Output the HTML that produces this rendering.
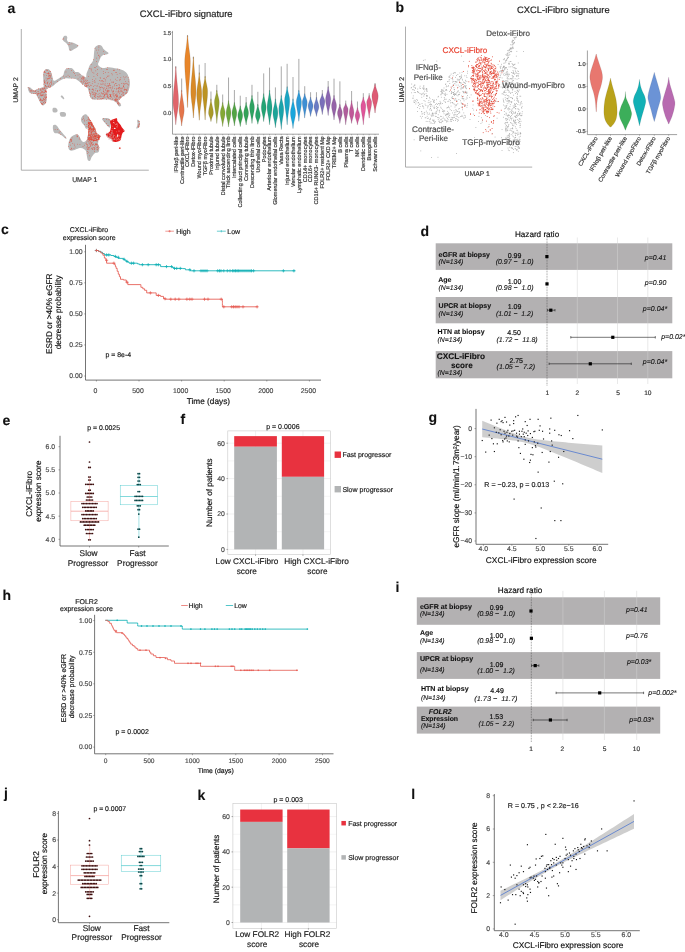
<!DOCTYPE html>
<html><head><meta charset="utf-8"><title>Figure</title>
<style>html,body{margin:0;padding:0;background:#fff;width:685px;height:952px;overflow:hidden}
svg{display:block;text-rendering:geometricPrecision;font-family:"Liberation Sans",sans-serif;filter:blur(0.35px)}</style></head>
<body>
<svg width="685" height="952" viewBox="0 0 685 952" font-family="Liberation Sans, sans-serif">
<text x="7.6" y="13.2" font-size="14" font-weight="bold" fill="#111" stroke="#111" stroke-width="0.1">a</text>
<text x="139.85" y="16.9" font-size="9.39" fill="#222" stroke="#222" stroke-width="0.18">CXCL-iFibro signature</text>
<line x1="21.3" y1="29" x2="21.3" y2="170.2" stroke="#9a9a9a" stroke-width="0.8"/>
<line x1="21.3" y1="170.2" x2="148.8" y2="170.2" stroke="#9a9a9a" stroke-width="0.8"/>
<text x="18.1" y="90" font-size="6.9" text-anchor="middle" fill="#333" stroke="#333" stroke-width="0.18" transform="rotate(-90 18.1 90)">UMAP 2</text>
<text x="84.8" y="181.5" font-size="6.8" text-anchor="middle" fill="#333" stroke="#333" stroke-width="0.18">UMAP 1</text>
<path d="M63 37.5 C63.23 36.9 63.65 36.18 64.2 35.9 C64.75 35.62 65.78 35.53 66.3 35.8 C66.82 36.07 67.18 36.8 67.3 37.5 C67.42 38.2 66.8 39.25 67 40 C67.2 40.75 67.75 41.62 68.5 42 C69.25 42.38 70.42 42.05 71.5 42.3 C72.58 42.55 73.87 42.97 75 43.5 C76.13 44.03 77.97 44.83 78.3 45.5 C78.63 46.17 77.8 46.83 77 47.5 C76.2 48.17 74.53 48.92 73.5 49.5 C72.47 50.08 71.52 50.92 70.8 51 C70.08 51.08 69.57 50.67 69.2 50 C68.83 49.33 68.88 47.92 68.6 47 C68.32 46.08 68.02 45.25 67.5 44.5 C66.98 43.75 66.17 43.08 65.5 42.5 C64.83 41.92 63.95 41.5 63.5 41 C63.05 40.5 62.88 40.08 62.8 39.5 C62.72 38.92 62.77 38.1 63 37.5 Z" fill="#b9b9b9" stroke="none" stroke-width="0.5"/>
<path d="M95.3 47 C96.02 46.25 97.77 45.32 98.8 45.1 C99.83 44.88 100.62 44.95 101.5 45.7 C102.38 46.45 102.93 48.37 104.1 49.6 C105.27 50.83 108.13 52.28 108.5 53.1 C108.87 53.92 107.18 54.2 106.3 54.5 C105.42 54.8 104.15 54.4 103.2 54.9 C102.25 55.4 101.25 56.48 100.6 57.5 C99.95 58.52 99.73 59.9 99.3 61 C98.87 62.1 98 63.22 98 64.1 C98 64.98 98.5 65.65 99.3 66.3 C100.1 66.95 101.2 67.85 102.8 68 C104.4 68.15 106.57 67.12 108.9 67.2 C111.23 67.28 114.47 68 116.8 68.5 C119.13 69 121.3 69.48 122.9 70.2 C124.5 70.92 125.45 71.7 126.4 72.8 C127.35 73.9 128.02 75.27 128.6 76.8 C129.18 78.33 129.75 80.25 129.9 82 C130.05 83.75 129.87 85.53 129.5 87.3 C129.13 89.07 128.65 91.13 127.7 92.6 C126.75 94.07 125.03 95.08 123.8 96.1 C122.57 97.12 121.18 97.83 120.3 98.7 C119.42 99.57 118.57 100.57 118.5 101.3 C118.43 102.03 119.45 102.43 119.9 103.1 C120.35 103.77 121.28 104.72 121.2 105.3 C121.12 105.88 119.98 106.68 119.4 106.6 C118.82 106.52 118.28 105.53 117.7 104.8 C117.12 104.07 116.78 102.93 115.9 102.2 C115.02 101.47 114 100.83 112.4 100.4 C110.8 99.97 108.48 99.73 106.3 99.6 C104.12 99.47 101.5 99.6 99.3 99.6 C97.1 99.6 94.57 99.9 93.1 99.6 C91.63 99.3 91.08 98.68 90.5 97.8 C89.92 96.92 89.97 95.62 89.6 94.3 C89.23 92.98 88.73 91.07 88.3 89.9 C87.87 88.73 87.63 87.92 87 87.3 C86.37 86.68 84.65 87.8 84.5 86.2 C84.35 84.6 85.75 79.85 86.1 77.7 C86.45 75.55 86.23 74.77 86.6 73.3 C86.97 71.83 87.8 70.22 88.3 68.9 C88.8 67.58 88.93 66.57 89.6 65.4 C90.27 64.23 91.63 63.07 92.3 61.9 C92.97 60.73 93.32 59.87 93.6 58.4 C93.88 56.93 93.85 54.57 94 53.1 C94.15 51.63 94.28 50.62 94.5 49.6 C94.72 48.58 94.58 47.75 95.3 47 Z" fill="#b9b9b9" stroke="none" stroke-width="0.5"/>
<path d="M27.8 87.2 C28.03 86.6 29.27 86.95 30 87.3 C30.73 87.65 31.47 88.77 32.2 89.3 C32.93 89.83 33.3 90.62 34.4 90.5 C35.5 90.38 37.58 89.05 38.8 88.6 C40.02 88.15 40.9 88.15 41.7 87.8 C42.5 87.45 43.32 87.63 43.6 86.5 C43.88 85.37 43.47 83 43.4 81 C43.33 79 43.07 76.17 43.2 74.5 C43.33 72.83 43.67 71.9 44.2 71 C44.73 70.1 45.6 69.37 46.4 69.1 C47.2 68.83 48.3 69.03 49 69.4 C49.7 69.77 50.13 70.5 50.6 71.3 C51.07 72.1 51.47 73.17 51.8 74.2 C52.13 75.23 52.27 76.4 52.6 77.5 C52.93 78.6 53.07 80.48 53.8 80.8 C54.53 81.12 55.88 80 57 79.4 C58.12 78.8 59.45 77.93 60.5 77.2 C61.55 76.47 62.68 75.95 63.3 75 C63.92 74.05 63.77 72.5 64.2 71.5 C64.63 70.5 65.12 69.58 65.9 69 C66.68 68.42 67.88 68.12 68.9 68 C69.92 67.88 71.15 67.92 72 68.3 C72.85 68.68 73.42 69.68 74 70.3 C74.58 70.92 74.75 71.68 75.5 72 C76.25 72.32 77.37 71.62 78.5 72.2 C79.63 72.78 80.97 74.53 82.3 75.5 C83.63 76.47 85.88 76.75 86.5 78 C87.12 79.25 86.58 81.87 86 83 C85.42 84.13 84.08 85 83 84.8 C81.92 84.6 80.67 82.73 79.5 81.8 C78.33 80.87 77.42 79.73 76 79.2 C74.58 78.67 72.67 78.75 71 78.6 C69.33 78.45 67.5 78.13 66 78.3 C64.5 78.47 63.25 79.07 62 79.6 C60.75 80.13 59.58 80.8 58.5 81.5 C57.42 82.2 56.42 83.05 55.5 83.8 C54.58 84.55 53.92 85.38 53 86 C52.08 86.62 51.08 86.92 50 87.5 C48.92 88.08 47.03 87.95 46.5 89.5 C45.97 91.05 46.8 94.85 46.8 96.8 C46.8 98.75 46.8 99.98 46.5 101.2 C46.2 102.42 45.55 103.38 45 104.1 C44.45 104.82 43.75 105.38 43.2 105.5 C42.65 105.62 42.2 105.28 41.7 104.8 C41.2 104.32 40.68 103.45 40.2 102.6 C39.72 101.75 39.28 100.67 38.8 99.7 C38.32 98.73 37.85 97.77 37.3 96.8 C36.75 95.83 36.22 94.38 35.5 93.9 C34.78 93.42 33.92 94.03 33 93.9 C32.08 93.77 30.73 93.6 30 93.1 C29.27 92.6 28.97 91.88 28.6 90.9 C28.23 89.92 27.57 87.8 27.8 87.2 Z" fill="#b9b9b9" stroke="none" stroke-width="0.5"/>
<path d="M68.5 142.9 C68.87 141.37 69.65 139.07 70.5 137.8 C71.35 136.53 72.57 135.9 73.6 135.3 C74.63 134.7 75.85 134.2 76.7 134.2 C77.55 134.2 78.1 134.62 78.7 135.3 C79.3 135.98 79.78 137.37 80.3 138.3 C80.82 139.23 81.22 140.3 81.8 140.9 C82.38 141.5 83.12 141.9 83.8 141.9 C84.48 141.9 85.22 141.15 85.9 140.9 C86.58 140.65 86.72 140.23 87.9 140.4 C89.08 140.57 91.47 141.48 93 141.9 C94.53 142.32 96.07 142.05 97.1 142.9 C98.13 143.75 98.95 145.47 99.2 147 C99.45 148.53 99.28 151.08 98.6 152.1 C97.92 153.12 96.03 152.58 95.1 153.1 C94.17 153.62 93.6 154.52 93 155.2 C92.4 155.88 92 156.27 91.5 157.2 C91 158.13 90.6 160.28 90 160.8 C89.4 161.32 88.42 161.07 87.9 160.3 C87.38 159.53 87.23 157.73 86.9 156.2 C86.57 154.67 86.42 152.3 85.9 151.1 C85.38 149.9 84.65 149.52 83.8 149 C82.95 148.48 81.98 148 80.8 148 C79.62 148 78.07 148.57 76.7 149 C75.33 149.43 73.8 150.42 72.6 150.6 C71.4 150.78 70.22 150.7 69.5 150.1 C68.78 149.5 68.47 148.2 68.3 147 C68.13 145.8 68.13 144.43 68.5 142.9 Z" fill="#b9b9b9" stroke="none" stroke-width="0.5"/>
<path d="M81.3 117.9 C81.68 117.13 82.53 115.9 83.3 115.3 C84.07 114.7 85.13 114.13 85.9 114.3 C86.67 114.47 87.22 115.45 87.9 116.3 C88.58 117.15 89.15 118.03 90 119.4 C90.85 120.77 92.07 122.8 93 124.5 C93.93 126.2 94.92 128.07 95.6 129.6 C96.28 131.13 96.25 132.67 97.1 133.7 C97.95 134.73 100.47 134.67 100.7 135.8 C100.93 136.93 99.03 139.05 98.5 140.5 C97.97 141.95 98.58 143.58 97.5 144.5 C96.42 145.42 93.67 146.17 92 146 C90.33 145.83 88.33 144.7 87.5 143.5 C86.67 142.3 86.85 140.6 87 138.8 C87.15 137 88.25 134.4 88.4 132.7 C88.55 131 88.32 129.28 87.9 128.6 C87.48 127.92 86.5 129.12 85.9 128.6 C85.3 128.08 84.98 126.52 84.3 125.5 C83.62 124.48 82.35 123.43 81.8 122.5 C81.25 121.57 81.08 120.67 81 119.9 C80.92 119.13 80.92 118.67 81.3 117.9 Z" fill="#b9b9b9" stroke="none" stroke-width="0.5"/>
<path d="M102.3 118.5 C102.83 118.13 104.68 118.03 105.9 118.1 C107.12 118.17 108.8 118.28 109.6 118.9 C110.4 119.52 110.52 120.72 110.7 121.8 C110.88 122.88 110.88 124.43 110.7 125.4 C110.52 126.37 110.22 127.6 109.6 127.6 C108.98 127.6 107.73 126.13 107 125.4 C106.27 124.67 105.92 124.05 105.2 123.2 C104.48 122.35 103.18 121.08 102.7 120.3 C102.22 119.52 101.77 118.87 102.3 118.5 Z" fill="#b9b9b9" stroke="none" stroke-width="0.5"/>
<path d="M53.2 125.3 C53.62 124.52 54.78 124.6 55.5 124.8 C56.22 125 56.83 125.72 57.5 126.5 C58.17 127.28 58.67 128.42 59.5 129.5 C60.33 130.58 61.37 131.62 62.5 133 C63.63 134.38 65.8 136.87 66.3 137.8 C66.8 138.73 66.3 139.03 65.5 138.6 C64.7 138.17 62.75 136.05 61.5 135.2 C60.25 134.35 59.17 133.87 58 133.5 C56.83 133.13 55.33 133.67 54.5 133 C53.67 132.33 53.22 130.78 53 129.5 C52.78 128.22 52.78 126.08 53.2 125.3 Z" fill="#b9b9b9" stroke="none" stroke-width="0.5"/>
<path d="M61 95.7 C61.2 95.47 61.67 95.18 62.2 95.6 C62.73 96.02 63.98 97.6 64.2 98.2 C64.42 98.8 64.03 99.4 63.5 99.2 C62.97 99 61.42 97.58 61 97 C60.58 96.42 60.8 95.93 61 95.7 Z" fill="#b9b9b9" stroke="none" stroke-width="0.5"/>
<path d="M52.8 108.2 C53.3 107.53 55.2 107.62 56 108 C56.8 108.38 57.52 109.78 57.6 110.5 C57.68 111.22 57.27 112.05 56.5 112.3 C55.73 112.55 53.62 112.68 53 112 C52.38 111.32 52.3 108.87 52.8 108.2 Z" fill="#b9b9b9" stroke="none" stroke-width="0.5"/>
<path d="M60.2 112.4 C60.95 112.02 63.53 111.93 64.5 112.2 C65.47 112.47 65.88 113.3 66 114 C66.12 114.7 66.03 116 65.2 116.4 C64.37 116.8 61.87 116.72 61 116.4 C60.13 116.08 60.13 115.17 60 114.5 C59.87 113.83 59.45 112.78 60.2 112.4 Z" fill="#b9b9b9" stroke="none" stroke-width="0.5"/>
<path d="M137.2 120 C137.48 119.38 138.83 120.05 139.3 120.8 C139.77 121.55 140.13 123.33 140 124.5 C139.87 125.67 139.13 127.17 138.5 127.8 C137.87 128.43 136.35 128.85 136.2 128.3 C136.05 127.75 137.43 125.88 137.6 124.5 C137.77 123.12 136.92 120.62 137.2 120 Z" fill="#b9b9b9" stroke="none" stroke-width="0.5"/>
<g fill="#e4402e"><rect x="108.64" y="75.61" width="0.62" height="0.62"/><rect x="100.8" y="96.32" width="0.62" height="0.62"/><rect x="105.03" y="89.03" width="0.62" height="0.62"/><rect x="127.57" y="86.79" width="0.62" height="0.62"/><rect x="105.21" y="90.41" width="0.62" height="0.62"/><rect x="105.79" y="93.79" width="0.62" height="0.62"/><rect x="90.87" y="85.3" width="0.62" height="0.62"/><rect x="100.4" y="94.78" width="0.62" height="0.62"/><rect x="103.27" y="73.27" width="0.62" height="0.62"/><rect x="94.65" y="85.33" width="0.62" height="0.62"/><rect x="94.36" y="80.14" width="0.62" height="0.62"/><rect x="119.7" y="97.49" width="0.62" height="0.62"/><rect x="85.57" y="86.15" width="0.62" height="0.62"/><rect x="118" y="102.99" width="0.62" height="0.62"/><rect x="103.47" y="81.3" width="0.62" height="0.62"/><rect x="113.09" y="91.6" width="0.62" height="0.62"/><rect x="105.18" y="72.15" width="0.62" height="0.62"/><rect x="115.28" y="95.03" width="0.62" height="0.62"/><rect x="95.18" y="93.09" width="0.62" height="0.62"/><rect x="107.49" y="83.46" width="0.62" height="0.62"/><rect x="91.68" y="92.63" width="0.62" height="0.62"/><rect x="127.84" y="77.4" width="0.62" height="0.62"/><rect x="117.4" y="77" width="0.62" height="0.62"/><rect x="88.33" y="76.05" width="0.62" height="0.62"/><rect x="123.77" y="88.92" width="0.62" height="0.62"/><rect x="124.73" y="77.03" width="0.62" height="0.62"/><rect x="107.46" y="93.55" width="0.62" height="0.62"/><rect x="94.99" y="94.47" width="0.62" height="0.62"/><rect x="103.43" y="88.6" width="0.62" height="0.62"/><rect x="109.5" y="85.18" width="0.62" height="0.62"/><rect x="119.8" y="95.69" width="0.62" height="0.62"/><rect x="107.08" y="67.35" width="0.62" height="0.62"/><rect x="107.59" y="95.26" width="0.62" height="0.62"/><rect x="89.5" y="82.13" width="0.62" height="0.62"/><rect x="105.41" y="80.64" width="0.62" height="0.62"/><rect x="120.05" y="97.67" width="0.62" height="0.62"/><rect x="104.82" y="82.9" width="0.62" height="0.62"/><rect x="119.25" y="86.82" width="0.62" height="0.62"/><rect x="86.15" y="86.74" width="0.62" height="0.62"/><rect x="127.41" y="83.65" width="0.62" height="0.62"/><rect x="98.91" y="86.39" width="0.62" height="0.62"/><rect x="104.58" y="97.41" width="0.62" height="0.62"/><rect x="92.45" y="94" width="0.62" height="0.62"/><rect x="124.38" y="87.65" width="0.62" height="0.62"/><rect x="84.65" y="83.53" width="0.62" height="0.62"/><rect x="115.94" y="100.94" width="0.62" height="0.62"/><rect x="90.67" y="68.35" width="0.62" height="0.62"/><rect x="97.88" y="83.54" width="0.62" height="0.62"/><rect x="97.81" y="96.07" width="0.62" height="0.62"/><rect x="95.08" y="89.86" width="0.62" height="0.62"/><rect x="108.36" y="85.26" width="0.62" height="0.62"/><rect x="98.83" y="93.09" width="0.62" height="0.62"/><rect x="116.77" y="93.74" width="0.62" height="0.62"/><rect x="99" y="95.67" width="0.62" height="0.62"/><rect x="110.34" y="95.15" width="0.62" height="0.62"/><rect x="117.32" y="99.23" width="0.62" height="0.62"/><rect x="113.08" y="90.47" width="0.62" height="0.62"/><rect x="102.81" y="87.85" width="0.62" height="0.62"/><rect x="118.9" y="87.29" width="0.62" height="0.62"/><rect x="93.2" y="86.15" width="0.62" height="0.62"/><rect x="102.01" y="98.4" width="0.62" height="0.62"/><rect x="110.16" y="96.36" width="0.62" height="0.62"/><rect x="94.65" y="47.96" width="0.62" height="0.62"/><rect x="109.32" y="90.66" width="0.62" height="0.62"/><rect x="96.6" y="74.35" width="0.62" height="0.62"/><rect x="114.82" y="94.87" width="0.62" height="0.62"/><rect x="104.1" y="95.39" width="0.62" height="0.62"/><rect x="109.27" y="94.12" width="0.62" height="0.62"/><rect x="122.69" y="86.99" width="0.62" height="0.62"/><rect x="106.5" y="91.62" width="0.62" height="0.62"/><rect x="119.57" y="78.99" width="0.62" height="0.62"/><rect x="97.08" y="69.37" width="0.62" height="0.62"/><rect x="96.26" y="93.43" width="0.62" height="0.62"/><rect x="85.88" y="81.43" width="0.62" height="0.62"/><rect x="92" y="92.13" width="0.62" height="0.62"/><rect x="115.67" y="91.51" width="0.62" height="0.62"/><rect x="94.21" y="96.42" width="0.62" height="0.62"/><rect x="126.63" y="92.35" width="0.62" height="0.62"/><rect x="109.52" y="87.58" width="0.62" height="0.62"/><rect x="103.13" y="91.13" width="0.62" height="0.62"/><rect x="93.7" y="98.53" width="0.62" height="0.62"/><rect x="119.3" y="69.56" width="0.62" height="0.62"/><rect x="113.76" y="93.26" width="0.62" height="0.62"/><rect x="84.47" y="84.78" width="0.62" height="0.62"/><rect x="95.47" y="70.58" width="0.62" height="0.62"/><rect x="118.61" y="92.03" width="0.62" height="0.62"/><rect x="102.95" y="71.35" width="0.62" height="0.62"/><rect x="89.65" y="94.96" width="0.62" height="0.62"/><rect x="103.67" y="94.46" width="0.62" height="0.62"/><rect x="93.57" y="76.38" width="0.62" height="0.62"/><rect x="96.27" y="61.1" width="0.62" height="0.62"/><rect x="120.47" y="77.13" width="0.62" height="0.62"/><rect x="111.07" y="89.66" width="0.62" height="0.62"/><rect x="115.97" y="87.9" width="0.62" height="0.62"/><rect x="93.85" y="95.7" width="0.62" height="0.62"/><rect x="108.14" y="97.71" width="0.62" height="0.62"/><rect x="89.14" y="88.76" width="0.62" height="0.62"/><rect x="108.81" y="98.31" width="0.62" height="0.62"/><rect x="101.02" y="98.52" width="0.62" height="0.62"/><rect x="109.83" y="87.34" width="0.62" height="0.62"/><rect x="91.91" y="83.42" width="0.62" height="0.62"/><rect x="102.39" y="98.34" width="0.62" height="0.62"/><rect x="96.7" y="86.2" width="0.62" height="0.62"/><rect x="107.31" y="97.41" width="0.62" height="0.62"/><rect x="97.43" y="73.11" width="0.62" height="0.62"/><rect x="88.45" y="82.61" width="0.62" height="0.62"/><rect x="104.24" y="77.9" width="0.62" height="0.62"/><rect x="85.78" y="86.38" width="0.62" height="0.62"/><rect x="123.39" y="92.78" width="0.62" height="0.62"/><rect x="96.82" y="85.11" width="0.62" height="0.62"/><rect x="100.32" y="83.73" width="0.62" height="0.62"/><rect x="116.11" y="96.43" width="0.62" height="0.62"/><rect x="117.97" y="103.98" width="0.62" height="0.62"/><rect x="101.05" y="68.52" width="0.62" height="0.62"/><rect x="123.69" y="95.57" width="0.62" height="0.62"/><rect x="114.13" y="99.3" width="0.62" height="0.62"/><rect x="117.35" y="102.54" width="0.62" height="0.62"/><rect x="110.09" y="95.89" width="0.62" height="0.62"/><rect x="107.52" y="75.92" width="0.62" height="0.62"/><rect x="120.55" y="87.76" width="0.62" height="0.62"/><rect x="119" y="93.47" width="0.62" height="0.62"/><rect x="121.73" y="88.44" width="0.62" height="0.62"/><rect x="94.29" y="67.01" width="0.62" height="0.62"/><rect x="97.28" y="52.67" width="0.62" height="0.62"/><rect x="128.51" y="79.59" width="0.62" height="0.62"/><rect x="111.22" y="96.83" width="0.62" height="0.62"/><rect x="115" y="98.59" width="0.62" height="0.62"/><rect x="98.81" y="98.95" width="0.62" height="0.62"/><rect x="115.04" y="99.23" width="0.62" height="0.62"/><rect x="86.14" y="85.48" width="0.62" height="0.62"/><rect x="117.95" y="91.15" width="0.62" height="0.62"/><rect x="122.57" y="92.01" width="0.62" height="0.62"/><rect x="106.42" y="88.37" width="0.62" height="0.62"/><rect x="89.33" y="86" width="0.62" height="0.62"/><rect x="103.29" y="50.94" width="0.62" height="0.62"/><rect x="115.78" y="99.64" width="0.62" height="0.62"/><rect x="116.5" y="100.27" width="0.62" height="0.62"/><rect x="100.93" y="86.75" width="0.62" height="0.62"/><rect x="110.13" y="85.47" width="0.62" height="0.62"/><rect x="97.31" y="90.66" width="0.62" height="0.62"/><rect x="106.02" y="77.49" width="0.62" height="0.62"/><rect x="120.39" y="78.89" width="0.62" height="0.62"/><rect x="106.31" y="93.86" width="0.62" height="0.62"/><rect x="126.53" y="90.72" width="0.62" height="0.62"/><rect x="124.45" y="83.88" width="0.62" height="0.62"/><rect x="106.09" y="85.83" width="0.62" height="0.62"/><rect x="95.67" y="88.32" width="0.62" height="0.62"/><rect x="92.52" y="88.61" width="0.62" height="0.62"/><rect x="99.96" y="77.92" width="0.62" height="0.62"/><rect x="102.69" y="83" width="0.62" height="0.62"/><rect x="97.01" y="96.4" width="0.62" height="0.62"/><rect x="110" y="97.9" width="0.62" height="0.62"/><rect x="98.55" y="45.78" width="0.62" height="0.62"/><rect x="85.98" y="84.68" width="0.62" height="0.62"/><rect x="119.59" y="103.29" width="0.62" height="0.62"/><rect x="115.19" y="100.25" width="0.62" height="0.62"/><rect x="123.64" y="83.45" width="0.62" height="0.62"/><rect x="107.63" y="92.34" width="0.62" height="0.62"/><rect x="96.93" y="91.13" width="0.62" height="0.62"/><rect x="117.1" y="68.76" width="0.62" height="0.62"/><rect x="112.69" y="82.26" width="0.62" height="0.62"/><rect x="89.5" y="89.45" width="0.62" height="0.62"/><rect x="109.47" y="84.61" width="0.62" height="0.62"/><rect x="116.8" y="73.97" width="0.62" height="0.62"/><rect x="116.1" y="85.12" width="0.62" height="0.62"/><rect x="97.57" y="99.02" width="0.62" height="0.62"/><rect x="92.15" y="79.09" width="0.62" height="0.62"/><rect x="89.19" y="88.86" width="0.62" height="0.62"/><rect x="121.2" y="96.7" width="0.62" height="0.62"/><rect x="103.48" y="91.12" width="0.62" height="0.62"/><rect x="110.29" y="94.61" width="0.62" height="0.62"/><rect x="100.93" y="93.29" width="0.62" height="0.62"/><rect x="126.26" y="89.27" width="0.62" height="0.62"/><rect x="111.53" y="73.32" width="0.62" height="0.62"/><rect x="117.2" y="103.2" width="0.62" height="0.62"/><rect x="101.12" y="83.87" width="0.62" height="0.62"/><rect x="85.47" y="83.14" width="0.62" height="0.62"/><rect x="102.99" y="89.78" width="0.62" height="0.62"/><rect x="123.79" y="90.17" width="0.62" height="0.62"/><rect x="112.98" y="70.06" width="0.62" height="0.62"/><rect x="98.57" y="47.48" width="0.62" height="0.62"/><rect x="98.95" y="90.17" width="0.62" height="0.62"/><rect x="119.92" y="96.82" width="0.62" height="0.62"/><rect x="93.18" y="90.53" width="0.62" height="0.62"/><rect x="116.12" y="89.45" width="0.62" height="0.62"/><rect x="95.4" y="97.24" width="0.62" height="0.62"/><rect x="102.79" y="96.66" width="0.62" height="0.62"/><rect x="105.89" y="93.19" width="0.62" height="0.62"/><rect x="118.21" y="88.58" width="0.62" height="0.62"/><rect x="106.07" y="99.08" width="0.62" height="0.62"/><rect x="103.3" y="78.11" width="0.62" height="0.62"/><rect x="115.01" y="100.04" width="0.62" height="0.62"/><rect x="112.7" y="81.65" width="0.62" height="0.62"/><rect x="94.23" y="92.51" width="0.62" height="0.62"/><rect x="87.04" y="83.34" width="0.62" height="0.62"/><rect x="116.74" y="85.41" width="0.62" height="0.62"/><rect x="85.84" y="83.44" width="0.62" height="0.62"/><rect x="115.34" y="94.32" width="0.62" height="0.62"/><rect x="118.51" y="102.09" width="0.62" height="0.62"/><rect x="92.2" y="89.39" width="0.62" height="0.62"/><rect x="128.28" y="84.82" width="0.62" height="0.62"/><rect x="117.57" y="102.8" width="0.62" height="0.62"/><rect x="112.2" y="92.66" width="0.62" height="0.62"/><rect x="104.91" y="79" width="0.62" height="0.62"/><rect x="118.32" y="88.05" width="0.62" height="0.62"/><rect x="119.49" y="88.66" width="0.62" height="0.62"/><rect x="123.96" y="78.8" width="0.62" height="0.62"/><rect x="116.72" y="95.93" width="0.62" height="0.62"/><rect x="99.71" y="96.05" width="0.62" height="0.62"/><rect x="97.36" y="98.6" width="0.62" height="0.62"/><rect x="122.82" y="82.93" width="0.62" height="0.62"/><rect x="87.5" y="82" width="0.62" height="0.62"/><rect x="114.29" y="88.06" width="0.62" height="0.62"/><rect x="106.14" y="68.98" width="0.62" height="0.62"/><rect x="107.2" y="90.95" width="0.62" height="0.62"/><rect x="113.02" y="81.79" width="0.62" height="0.62"/><rect x="112.89" y="91.16" width="0.62" height="0.62"/><rect x="115.48" y="99.17" width="0.62" height="0.62"/><rect x="116.55" y="95.72" width="0.62" height="0.62"/><rect x="90.83" y="64.03" width="0.62" height="0.62"/><rect x="93.27" y="92.71" width="0.62" height="0.62"/><rect x="95.51" y="78.61" width="0.62" height="0.62"/><rect x="110.2" y="95.66" width="0.62" height="0.62"/><rect x="111.34" y="81.78" width="0.62" height="0.62"/><rect x="90.25" y="93.02" width="0.62" height="0.62"/><rect x="103.21" y="96.58" width="0.62" height="0.62"/><rect x="98.62" y="97.41" width="0.62" height="0.62"/><rect x="105.1" y="93.81" width="0.62" height="0.62"/><rect x="101.99" y="93.74" width="0.62" height="0.62"/><rect x="104.14" y="54.37" width="0.62" height="0.62"/><rect x="102.4" y="87.12" width="0.62" height="0.62"/><rect x="105.18" y="84.83" width="0.62" height="0.62"/><rect x="93.63" y="94.31" width="0.62" height="0.62"/><rect x="99.83" y="77.08" width="0.62" height="0.62"/><rect x="123.4" y="84.84" width="0.62" height="0.62"/><rect x="118.52" y="87.02" width="0.62" height="0.62"/><rect x="103.93" y="95.92" width="0.62" height="0.62"/><rect x="118.62" y="104.66" width="0.62" height="0.62"/><rect x="116.08" y="96.79" width="0.62" height="0.62"/><rect x="94.67" y="96.36" width="0.62" height="0.62"/><rect x="100.21" y="98.28" width="0.62" height="0.62"/><rect x="110.23" y="79.64" width="0.62" height="0.62"/><rect x="125.27" y="93.24" width="0.62" height="0.62"/><rect x="95.47" y="92.61" width="0.62" height="0.62"/><rect x="116.62" y="80.27" width="0.62" height="0.62"/><rect x="109.86" y="94.07" width="0.62" height="0.62"/><rect x="122.38" y="93.6" width="0.62" height="0.62"/><rect x="116.95" y="98.9" width="0.62" height="0.62"/><rect x="110.75" y="99.69" width="0.62" height="0.62"/><rect x="123.22" y="85.99" width="0.62" height="0.62"/><rect x="87.18" y="85.58" width="0.62" height="0.62"/><rect x="107.68" y="85.42" width="0.62" height="0.62"/><rect x="125.41" y="81.33" width="0.62" height="0.62"/><rect x="106.7" y="96.19" width="0.62" height="0.62"/><rect x="113.58" y="69.78" width="0.62" height="0.62"/><rect x="124.43" y="89.05" width="0.62" height="0.62"/><rect x="125.75" y="76.48" width="0.62" height="0.62"/><rect x="126.5" y="90.33" width="0.62" height="0.62"/><rect x="120.46" y="91.52" width="0.62" height="0.62"/><rect x="117.53" y="91.7" width="0.62" height="0.62"/><rect x="123.5" y="92.4" width="0.62" height="0.62"/><rect x="92.54" y="81.41" width="0.62" height="0.62"/><rect x="112.52" y="86.45" width="0.62" height="0.62"/><rect x="121.49" y="89.77" width="0.62" height="0.62"/><rect x="102.09" y="80.09" width="0.62" height="0.62"/><rect x="94.51" y="94.8" width="0.62" height="0.62"/><rect x="100.53" y="87.07" width="0.62" height="0.62"/><rect x="87.73" y="85.17" width="0.62" height="0.62"/><rect x="120.53" y="90.01" width="0.62" height="0.62"/><rect x="118.68" y="84.4" width="0.62" height="0.62"/><rect x="107.39" y="95.66" width="0.62" height="0.62"/><rect x="102.62" y="84.36" width="0.62" height="0.62"/><rect x="108.23" y="97.23" width="0.62" height="0.62"/><rect x="84.72" y="84.62" width="0.62" height="0.62"/><rect x="88.9" y="90.79" width="0.62" height="0.62"/><rect x="118.18" y="90.19" width="0.62" height="0.62"/><rect x="104.14" y="95.32" width="0.62" height="0.62"/><rect x="106.96" y="91.06" width="0.62" height="0.62"/><rect x="116.66" y="95.9" width="0.62" height="0.62"/><rect x="100.92" y="92.07" width="0.62" height="0.62"/><rect x="121.89" y="91.15" width="0.62" height="0.62"/><rect x="113.52" y="94.95" width="0.62" height="0.62"/><rect x="106.03" y="87.76" width="0.62" height="0.62"/><rect x="97.32" y="75.18" width="0.62" height="0.62"/><rect x="102.55" y="81.53" width="0.62" height="0.62"/><rect x="97.73" y="94.21" width="0.62" height="0.62"/><rect x="123.1" y="95.19" width="0.62" height="0.62"/><rect x="91.78" y="89.21" width="0.62" height="0.62"/><rect x="102.5" y="93.38" width="0.62" height="0.62"/><rect x="109" y="83.65" width="0.62" height="0.62"/><rect x="123.39" y="85.84" width="0.62" height="0.62"/><rect x="96.46" y="65.98" width="0.62" height="0.62"/><rect x="89.02" y="92.27" width="0.62" height="0.62"/><rect x="100.75" y="80.84" width="0.62" height="0.62"/><rect x="104.43" y="84.66" width="0.62" height="0.62"/><rect x="118.77" y="91.24" width="0.62" height="0.62"/><rect x="125.33" y="89.21" width="0.62" height="0.62"/><rect x="108.88" y="96.31" width="0.62" height="0.62"/><rect x="90.86" y="69.12" width="0.62" height="0.62"/><rect x="108.02" y="86.47" width="0.62" height="0.62"/><rect x="87.19" y="80.34" width="0.62" height="0.62"/><rect x="85.31" y="82.44" width="0.62" height="0.62"/><rect x="99.8" y="89.5" width="0.62" height="0.62"/><rect x="96.19" y="49.79" width="0.62" height="0.62"/><rect x="99.17" y="80.22" width="0.62" height="0.62"/><rect x="107.78" y="90.09" width="0.62" height="0.62"/><rect x="116.13" y="72.29" width="0.62" height="0.62"/><rect x="110.64" y="94.23" width="0.62" height="0.62"/><rect x="128.23" y="81.47" width="0.62" height="0.62"/><rect x="116.81" y="88.29" width="0.62" height="0.62"/><rect x="99.19" y="57.62" width="0.62" height="0.62"/><rect x="104.73" y="93.71" width="0.62" height="0.62"/><rect x="98.34" y="55.28" width="0.62" height="0.62"/><rect x="110.67" y="95.97" width="0.62" height="0.62"/><rect x="110.41" y="87.7" width="0.62" height="0.62"/><rect x="99.73" y="87.03" width="0.62" height="0.62"/><rect x="114.35" y="84.52" width="0.62" height="0.62"/><rect x="92.51" y="71.93" width="0.62" height="0.62"/><rect x="102.98" y="98.18" width="0.62" height="0.62"/><rect x="98.4" y="49.72" width="0.62" height="0.62"/><rect x="113.02" y="93.69" width="0.62" height="0.62"/><rect x="115.46" y="72.31" width="0.62" height="0.62"/><rect x="115.24" y="78.87" width="0.62" height="0.62"/><rect x="105.73" y="92.46" width="0.62" height="0.62"/><rect x="109.41" y="83.33" width="0.62" height="0.62"/><rect x="99.3" y="55.91" width="0.62" height="0.62"/><rect x="117" y="95.04" width="0.62" height="0.62"/><rect x="127.4" y="88.66" width="0.62" height="0.62"/><rect x="115.06" y="83.34" width="0.62" height="0.62"/><rect x="103.79" y="92.16" width="0.62" height="0.62"/><rect x="108.17" y="91.33" width="0.62" height="0.62"/><rect x="119.61" y="73.09" width="0.62" height="0.62"/><rect x="107.08" y="96.34" width="0.62" height="0.62"/><rect x="107.45" y="85.76" width="0.62" height="0.62"/><rect x="115.77" y="83.08" width="0.62" height="0.62"/><rect x="106.75" y="90.14" width="0.62" height="0.62"/><rect x="121.23" y="90.95" width="0.62" height="0.62"/><rect x="94.6" y="81.88" width="0.62" height="0.62"/><rect x="112" y="99.12" width="0.62" height="0.62"/><rect x="107.1" y="94.05" width="0.62" height="0.62"/><rect x="125.92" y="93.03" width="0.62" height="0.62"/><rect x="111.84" y="87.26" width="0.62" height="0.62"/><rect x="100.69" y="99.16" width="0.62" height="0.62"/><rect x="119.47" y="80.44" width="0.62" height="0.62"/><rect x="114.33" y="99.91" width="0.62" height="0.62"/><rect x="127.73" y="84.2" width="0.62" height="0.62"/><rect x="124.62" y="89.58" width="0.62" height="0.62"/><rect x="123.18" y="76.55" width="0.62" height="0.62"/><rect x="92.14" y="98.51" width="0.62" height="0.62"/><rect x="87.98" y="84.66" width="0.62" height="0.62"/><rect x="93.56" y="93.83" width="0.62" height="0.62"/><rect x="119.81" y="88.55" width="0.62" height="0.62"/><rect x="115.84" y="98.32" width="0.62" height="0.62"/><rect x="116.69" y="100.41" width="0.62" height="0.62"/><rect x="90.35" y="95.8" width="0.62" height="0.62"/><rect x="119.03" y="84.91" width="0.62" height="0.62"/><rect x="89.03" y="68.16" width="0.62" height="0.62"/><rect x="125.71" y="92.03" width="0.62" height="0.62"/><rect x="86.31" y="85.65" width="0.62" height="0.62"/><rect x="89.46" y="93" width="0.62" height="0.62"/><rect x="112.53" y="97.91" width="0.62" height="0.62"/><rect x="104.03" y="87.62" width="0.62" height="0.62"/><rect x="118.63" y="98.47" width="0.62" height="0.62"/><rect x="108.34" y="89.92" width="0.62" height="0.62"/><rect x="97.01" y="90.01" width="0.62" height="0.62"/><rect x="98.45" y="54.81" width="0.62" height="0.62"/><rect x="126.25" y="82.91" width="0.62" height="0.62"/><rect x="84.43" y="85.41" width="0.62" height="0.62"/><rect x="123.59" y="94.22" width="0.62" height="0.62"/><rect x="90.09" y="94.02" width="0.62" height="0.62"/><rect x="110.32" y="95.12" width="0.62" height="0.62"/><rect x="121.13" y="83.18" width="0.62" height="0.62"/><rect x="95.4" y="94.88" width="0.62" height="0.62"/><rect x="119.15" y="96.73" width="0.62" height="0.62"/><rect x="112.6" y="91.47" width="0.62" height="0.62"/><rect x="123.16" y="85.93" width="0.62" height="0.62"/><rect x="99.64" y="87.74" width="0.62" height="0.62"/><rect x="96.41" y="57.8" width="0.62" height="0.62"/><rect x="121.2" y="93.99" width="0.62" height="0.62"/><rect x="113.95" y="69.89" width="0.62" height="0.62"/><rect x="113.68" y="96.12" width="0.62" height="0.62"/><rect x="103.2" y="92.97" width="0.62" height="0.62"/><rect x="112.59" y="94.59" width="0.62" height="0.62"/><rect x="90.98" y="70.59" width="0.62" height="0.62"/><rect x="107.1" y="89.78" width="0.62" height="0.62"/><rect x="122.63" y="95.34" width="0.62" height="0.62"/><rect x="107.85" y="87.77" width="0.62" height="0.62"/><rect x="119.22" y="99.31" width="0.62" height="0.62"/><rect x="117.3" y="101.05" width="0.62" height="0.62"/><rect x="117.76" y="97.25" width="0.62" height="0.62"/><rect x="116.09" y="98.98" width="0.62" height="0.62"/><rect x="91.73" y="91.38" width="0.62" height="0.62"/><rect x="93.28" y="59.15" width="0.62" height="0.62"/><rect x="93.58" y="72.79" width="0.62" height="0.62"/><rect x="86.57" y="83.11" width="0.62" height="0.62"/><rect x="116.4" y="93.75" width="0.62" height="0.62"/><rect x="107.53" y="75.83" width="0.62" height="0.62"/><rect x="111.67" y="90.66" width="0.62" height="0.62"/><rect x="126.55" y="90.18" width="0.62" height="0.62"/><rect x="119.95" y="96.33" width="0.62" height="0.62"/><rect x="94.64" y="81.66" width="0.62" height="0.62"/><rect x="107.89" y="72.24" width="0.62" height="0.62"/><rect x="118.35" y="101.71" width="0.62" height="0.62"/><rect x="116.96" y="96.27" width="0.62" height="0.62"/><rect x="114.4" y="85.57" width="0.62" height="0.62"/><rect x="124.9" y="83.03" width="0.62" height="0.62"/><rect x="93.03" y="89.47" width="0.62" height="0.62"/><rect x="125.72" y="88.87" width="0.62" height="0.62"/><rect x="111.91" y="74.56" width="0.62" height="0.62"/><rect x="104.34" y="94.31" width="0.62" height="0.62"/><rect x="92.14" y="97.52" width="0.62" height="0.62"/><rect x="116.06" y="94.84" width="0.62" height="0.62"/><rect x="107.27" y="69.19" width="0.62" height="0.62"/><rect x="111.91" y="88.25" width="0.62" height="0.62"/><rect x="90.29" y="84.84" width="0.62" height="0.62"/><rect x="95.09" y="67.46" width="0.62" height="0.62"/><rect x="100.88" y="80.08" width="0.62" height="0.62"/><rect x="114.85" y="101.49" width="0.62" height="0.62"/><rect x="114.57" y="96.84" width="0.62" height="0.62"/><rect x="121.6" y="87.88" width="0.62" height="0.62"/><rect x="50.85" y="81.4" width="0.62" height="0.62"/><rect x="48.19" y="86.1" width="0.62" height="0.62"/><rect x="73.28" y="72.08" width="0.62" height="0.62"/><rect x="82.77" y="81.39" width="0.62" height="0.62"/><rect x="46.66" y="73.07" width="0.62" height="0.62"/><rect x="52.98" y="83.6" width="0.62" height="0.62"/><rect x="45.98" y="91.56" width="0.62" height="0.62"/><rect x="39.71" y="100.19" width="0.62" height="0.62"/><rect x="47.3" y="82.19" width="0.62" height="0.62"/><rect x="45.59" y="99.52" width="0.62" height="0.62"/><rect x="45.77" y="96.85" width="0.62" height="0.62"/><rect x="38.31" y="97.57" width="0.62" height="0.62"/><rect x="45.26" y="98.39" width="0.62" height="0.62"/><rect x="45.97" y="86.07" width="0.62" height="0.62"/><rect x="40.53" y="92.33" width="0.62" height="0.62"/><rect x="82.11" y="82.77" width="0.62" height="0.62"/><rect x="48.33" y="72.4" width="0.62" height="0.62"/><rect x="41.68" y="87.68" width="0.62" height="0.62"/><rect x="51.42" y="84.37" width="0.62" height="0.62"/><rect x="77.67" y="74.72" width="0.62" height="0.62"/><rect x="44.27" y="87.69" width="0.62" height="0.62"/><rect x="43.06" y="93.88" width="0.62" height="0.62"/><rect x="27.82" y="87.11" width="0.62" height="0.62"/><rect x="82.25" y="83.98" width="0.62" height="0.62"/><rect x="46.87" y="81.88" width="0.62" height="0.62"/><rect x="50.07" y="76.6" width="0.62" height="0.62"/><rect x="40.31" y="90.22" width="0.62" height="0.62"/><rect x="33.04" y="90.19" width="0.62" height="0.62"/><rect x="79.7" y="76.71" width="0.62" height="0.62"/><rect x="85.6" y="79.6" width="0.62" height="0.62"/><rect x="40.6" y="93.2" width="0.62" height="0.62"/><rect x="46.6" y="70.18" width="0.62" height="0.62"/><rect x="64.06" y="77.82" width="0.62" height="0.62"/><rect x="45.28" y="85.46" width="0.62" height="0.62"/><rect x="34.76" y="92.97" width="0.62" height="0.62"/><rect x="44.72" y="81.51" width="0.62" height="0.62"/><rect x="45.09" y="90.76" width="0.62" height="0.62"/><rect x="41.39" y="100.59" width="0.62" height="0.62"/><rect x="47.21" y="73.35" width="0.62" height="0.62"/><rect x="44.25" y="88.55" width="0.62" height="0.62"/><rect x="45.89" y="92.14" width="0.62" height="0.62"/><rect x="44.95" y="86.39" width="0.62" height="0.62"/><rect x="37" y="94.91" width="0.62" height="0.62"/><rect x="41.62" y="103.83" width="0.62" height="0.62"/><rect x="41.63" y="94.67" width="0.62" height="0.62"/><rect x="51.06" y="80.56" width="0.62" height="0.62"/><rect x="44.49" y="86.86" width="0.62" height="0.62"/><rect x="37.86" y="91.46" width="0.62" height="0.62"/><rect x="50.03" y="86.77" width="0.62" height="0.62"/><rect x="41.36" y="99.62" width="0.62" height="0.62"/><rect x="83.72" y="78.02" width="0.62" height="0.62"/><rect x="46.4" y="75.23" width="0.62" height="0.62"/><rect x="40.95" y="91.87" width="0.62" height="0.62"/><rect x="77.75" y="78.6" width="0.62" height="0.62"/><rect x="66.55" y="68.39" width="0.62" height="0.62"/><rect x="45.18" y="102.25" width="0.62" height="0.62"/><rect x="40.75" y="95.12" width="0.62" height="0.62"/><rect x="49.13" y="84.61" width="0.62" height="0.62"/><rect x="36.36" y="89.68" width="0.62" height="0.62"/><rect x="44.16" y="99.62" width="0.62" height="0.62"/><rect x="41.9" y="88.57" width="0.62" height="0.62"/><rect x="41.74" y="90.9" width="0.62" height="0.62"/><rect x="44.99" y="85.03" width="0.62" height="0.62"/><rect x="50.22" y="82.09" width="0.62" height="0.62"/><rect x="51.23" y="83.37" width="0.62" height="0.62"/><rect x="43.31" y="87.98" width="0.62" height="0.62"/><rect x="48.59" y="78.39" width="0.62" height="0.62"/><rect x="84.37" y="80.96" width="0.62" height="0.62"/><rect x="39.96" y="89.18" width="0.62" height="0.62"/><rect x="29.26" y="88.34" width="0.62" height="0.62"/><rect x="82.56" y="76.71" width="0.62" height="0.62"/><rect x="48.43" y="75.2" width="0.62" height="0.62"/><rect x="41.83" y="89.16" width="0.62" height="0.62"/><rect x="45.67" y="69.54" width="0.62" height="0.62"/><rect x="65.76" y="76.15" width="0.62" height="0.62"/><rect x="45.94" y="87.6" width="0.62" height="0.62"/><rect x="45.76" y="77.78" width="0.62" height="0.62"/><rect x="43.79" y="83.44" width="0.62" height="0.62"/><rect x="42.42" y="94.99" width="0.62" height="0.62"/><rect x="37.2" y="94.58" width="0.62" height="0.62"/><rect x="82.73" y="75.74" width="0.62" height="0.62"/><rect x="50.48" y="76.79" width="0.62" height="0.62"/><rect x="81.9" y="77.82" width="0.62" height="0.62"/><rect x="50.02" y="85.85" width="0.62" height="0.62"/><rect x="67.75" y="74.88" width="0.62" height="0.62"/><rect x="38.04" y="93.42" width="0.62" height="0.62"/><rect x="41.89" y="92.24" width="0.62" height="0.62"/><rect x="40.16" y="99.45" width="0.62" height="0.62"/><rect x="44.23" y="80.78" width="0.62" height="0.62"/><rect x="49.69" y="86.53" width="0.62" height="0.62"/><rect x="41.09" y="95.53" width="0.62" height="0.62"/><rect x="83.1" y="77.18" width="0.62" height="0.62"/><rect x="50.69" y="73.2" width="0.62" height="0.62"/><rect x="43.72" y="71.73" width="0.62" height="0.62"/><rect x="83.29" y="82.42" width="0.62" height="0.62"/><rect x="41.21" y="103" width="0.62" height="0.62"/><rect x="45.5" y="101.75" width="0.62" height="0.62"/><rect x="45.05" y="90.97" width="0.62" height="0.62"/><rect x="81.04" y="78.34" width="0.62" height="0.62"/><rect x="63.36" y="75.77" width="0.62" height="0.62"/><rect x="35.56" y="93.28" width="0.62" height="0.62"/><rect x="43.62" y="80.72" width="0.62" height="0.62"/><rect x="44.07" y="101.43" width="0.62" height="0.62"/><rect x="47.19" y="83.64" width="0.62" height="0.62"/><rect x="49.06" y="78.27" width="0.62" height="0.62"/><rect x="43.42" y="98.55" width="0.62" height="0.62"/><rect x="48.33" y="76.24" width="0.62" height="0.62"/><rect x="39.91" y="93.57" width="0.62" height="0.62"/><rect x="75.34" y="74.99" width="0.62" height="0.62"/><rect x="45.51" y="97.75" width="0.62" height="0.62"/><rect x="45.92" y="90.83" width="0.62" height="0.62"/><rect x="46.95" y="88.06" width="0.62" height="0.62"/><rect x="74.3" y="73.23" width="0.62" height="0.62"/><rect x="45.01" y="94.5" width="0.62" height="0.62"/><rect x="50.19" y="75.61" width="0.62" height="0.62"/><rect x="44.93" y="91.36" width="0.62" height="0.62"/><rect x="46.34" y="93.97" width="0.62" height="0.62"/><rect x="43.34" y="98.14" width="0.62" height="0.62"/><rect x="71.46" y="77.82" width="0.62" height="0.62"/><rect x="42.85" y="95.5" width="0.62" height="0.62"/><rect x="45.05" y="88.71" width="0.62" height="0.62"/><rect x="38.65" y="93.7" width="0.62" height="0.62"/><rect x="80.77" y="79.56" width="0.62" height="0.62"/><rect x="42.76" y="92.5" width="0.62" height="0.62"/><rect x="31.79" y="89.75" width="0.62" height="0.62"/><rect x="44.46" y="94.78" width="0.62" height="0.62"/><rect x="46.17" y="96.78" width="0.62" height="0.62"/><rect x="46.29" y="97.2" width="0.62" height="0.62"/><rect x="29.09" y="89.66" width="0.62" height="0.62"/><rect x="49.27" y="76.88" width="0.62" height="0.62"/><rect x="35.06" y="91.18" width="0.62" height="0.62"/><rect x="43.36" y="89.32" width="0.62" height="0.62"/><rect x="71.23" y="70.12" width="0.62" height="0.62"/><rect x="38.88" y="96.73" width="0.62" height="0.62"/><rect x="80.96" y="81.77" width="0.62" height="0.62"/><rect x="44.76" y="91.26" width="0.62" height="0.62"/><rect x="43.82" y="90.02" width="0.62" height="0.62"/><rect x="38.19" y="88.51" width="0.62" height="0.62"/><rect x="44.54" y="81.89" width="0.62" height="0.62"/><rect x="43.51" y="73.98" width="0.62" height="0.62"/><rect x="81.26" y="80.79" width="0.62" height="0.62"/><rect x="83.61" y="78.86" width="0.62" height="0.62"/><rect x="81.51" y="77.68" width="0.62" height="0.62"/><rect x="46.02" y="90.88" width="0.62" height="0.62"/><rect x="41.96" y="88.1" width="0.62" height="0.62"/><rect x="34.88" y="90.25" width="0.62" height="0.62"/><rect x="48.92" y="73.33" width="0.62" height="0.62"/><rect x="42.4" y="100.24" width="0.62" height="0.62"/><rect x="47.71" y="81.7" width="0.62" height="0.62"/><rect x="51.35" y="74.65" width="0.62" height="0.62"/><rect x="43.72" y="75.55" width="0.62" height="0.62"/><rect x="45.42" y="95.62" width="0.62" height="0.62"/><rect x="49.16" y="75.15" width="0.62" height="0.62"/><rect x="43.46" y="102.23" width="0.62" height="0.62"/><rect x="44.22" y="79.74" width="0.62" height="0.62"/><rect x="42.08" y="99.85" width="0.62" height="0.62"/><rect x="43.44" y="99.49" width="0.62" height="0.62"/><rect x="40.57" y="100.13" width="0.62" height="0.62"/><rect x="48.23" y="73.81" width="0.62" height="0.62"/><rect x="44.56" y="103.33" width="0.62" height="0.62"/><rect x="38.67" y="93.3" width="0.62" height="0.62"/><rect x="85.55" y="80.06" width="0.62" height="0.62"/><rect x="29.98" y="91.44" width="0.62" height="0.62"/><rect x="43.94" y="88.44" width="0.62" height="0.62"/><rect x="30.8" y="89.91" width="0.62" height="0.62"/><rect x="38.64" y="92.79" width="0.62" height="0.62"/><rect x="44.54" y="96.19" width="0.62" height="0.62"/><rect x="47.07" y="78.47" width="0.62" height="0.62"/><rect x="31.71" y="90.86" width="0.62" height="0.62"/><rect x="44.43" y="82.04" width="0.62" height="0.62"/><rect x="47.66" y="77.95" width="0.62" height="0.62"/><rect x="49.39" y="74.72" width="0.62" height="0.62"/><rect x="43.42" y="91.79" width="0.62" height="0.62"/><rect x="45.22" y="90.38" width="0.62" height="0.62"/><rect x="44.08" y="72.3" width="0.62" height="0.62"/><rect x="44.92" y="85.2" width="0.62" height="0.62"/><rect x="49.69" y="71.02" width="0.62" height="0.62"/><rect x="69.03" y="76.12" width="0.62" height="0.62"/><rect x="44.07" y="98.95" width="0.62" height="0.62"/><rect x="48.23" y="86.48" width="0.62" height="0.62"/><rect x="46.86" y="85.97" width="0.62" height="0.62"/><rect x="45.97" y="79.83" width="0.62" height="0.62"/><rect x="83.31" y="78.27" width="0.62" height="0.62"/><rect x="47.32" y="83.05" width="0.62" height="0.62"/><rect x="41.03" y="103.13" width="0.62" height="0.62"/><rect x="79.64" y="74.05" width="0.62" height="0.62"/><rect x="49.17" y="87.18" width="0.62" height="0.62"/><rect x="41.79" y="94.05" width="0.62" height="0.62"/><rect x="50.11" y="84.98" width="0.62" height="0.62"/><rect x="60.3" y="78.1" width="0.62" height="0.62"/><rect x="42.15" y="103.09" width="0.62" height="0.62"/><rect x="30.95" y="90.65" width="0.62" height="0.62"/><rect x="32.87" y="91.12" width="0.62" height="0.62"/><rect x="45.61" y="83.05" width="0.62" height="0.62"/><rect x="83.45" y="79.73" width="0.62" height="0.62"/><rect x="83.95" y="76.9" width="0.62" height="0.62"/><rect x="43.2" y="99.65" width="0.62" height="0.62"/><rect x="45.32" y="102.5" width="0.62" height="0.62"/><rect x="44.22" y="70.97" width="0.62" height="0.62"/><rect x="40.56" y="102.4" width="0.62" height="0.62"/><rect x="51.21" y="82.12" width="0.62" height="0.62"/><rect x="46.27" y="95.78" width="0.62" height="0.62"/><rect x="34.67" y="90.68" width="0.62" height="0.62"/><rect x="39.93" y="98.65" width="0.62" height="0.62"/><rect x="43.9" y="97.31" width="0.62" height="0.62"/><rect x="68.06" y="68.07" width="0.62" height="0.62"/><rect x="44.2" y="82.09" width="0.62" height="0.62"/><rect x="80.55" y="81.42" width="0.62" height="0.62"/><rect x="82.44" y="78.91" width="0.62" height="0.62"/><rect x="40.14" y="99.49" width="0.62" height="0.62"/><rect x="43.22" y="102.53" width="0.62" height="0.62"/><rect x="41.48" y="89.81" width="0.62" height="0.62"/><rect x="43.87" y="92.11" width="0.62" height="0.62"/><rect x="35.94" y="92.51" width="0.62" height="0.62"/><rect x="39.92" y="88.77" width="0.62" height="0.62"/><rect x="39.78" y="95.32" width="0.62" height="0.62"/><rect x="43.71" y="71.78" width="0.62" height="0.62"/><rect x="40.14" y="98.73" width="0.62" height="0.62"/><rect x="48.3" y="73.32" width="0.62" height="0.62"/><rect x="33.07" y="93.34" width="0.62" height="0.62"/><rect x="40.12" y="94.5" width="0.62" height="0.62"/><rect x="49.39" y="75.73" width="0.62" height="0.62"/><rect x="42.5" y="104.07" width="0.62" height="0.62"/><rect x="42.19" y="103.94" width="0.62" height="0.62"/><rect x="30.14" y="89.88" width="0.62" height="0.62"/><rect x="65.63" y="71.66" width="0.62" height="0.62"/><rect x="73.71" y="78.04" width="0.62" height="0.62"/><rect x="37.85" y="88.73" width="0.62" height="0.62"/><rect x="41.41" y="91.59" width="0.62" height="0.62"/><rect x="57.21" y="81.05" width="0.62" height="0.62"/><rect x="44.08" y="92.04" width="0.62" height="0.62"/><rect x="44.9" y="99.84" width="0.62" height="0.62"/><rect x="42.02" y="91.36" width="0.62" height="0.62"/><rect x="50.36" y="74.82" width="0.62" height="0.62"/><rect x="48.06" y="77.86" width="0.62" height="0.62"/><rect x="49.29" y="83.32" width="0.62" height="0.62"/><rect x="44.82" y="90.62" width="0.62" height="0.62"/><rect x="41.97" y="94.84" width="0.62" height="0.62"/><rect x="44.9" y="97.17" width="0.62" height="0.62"/><rect x="47.55" y="79.46" width="0.62" height="0.62"/><rect x="51.68" y="78.4" width="0.62" height="0.62"/><rect x="48.22" y="72.99" width="0.62" height="0.62"/><rect x="37.59" y="93.86" width="0.62" height="0.62"/><rect x="47.98" y="84.85" width="0.62" height="0.62"/><rect x="39.58" y="99.87" width="0.62" height="0.62"/><rect x="43.55" y="84.1" width="0.62" height="0.62"/><rect x="50.26" y="71.25" width="0.62" height="0.62"/><rect x="37.11" y="93.15" width="0.62" height="0.62"/><rect x="37.67" y="91.12" width="0.62" height="0.62"/><rect x="44.24" y="70.86" width="0.62" height="0.62"/><rect x="45.35" y="71.95" width="0.62" height="0.62"/><rect x="34.56" y="91" width="0.62" height="0.62"/><rect x="42.6" y="100.75" width="0.62" height="0.62"/><rect x="31.04" y="92.85" width="0.62" height="0.62"/><rect x="34.56" y="93.45" width="0.62" height="0.62"/><rect x="40.89" y="95.48" width="0.62" height="0.62"/><rect x="46.9" y="70.36" width="0.62" height="0.62"/><rect x="82.64" y="76.84" width="0.62" height="0.62"/><rect x="83.61" y="80.58" width="0.62" height="0.62"/><rect x="50.74" y="78.51" width="0.62" height="0.62"/><rect x="87.84" y="147.47" width="0.62" height="0.62"/><rect x="94.44" y="145.01" width="0.62" height="0.62"/><rect x="88.73" y="142.14" width="0.62" height="0.62"/><rect x="73.81" y="143.73" width="0.62" height="0.62"/><rect x="93.87" y="149.62" width="0.62" height="0.62"/><rect x="70.38" y="139.61" width="0.62" height="0.62"/><rect x="97.33" y="144.5" width="0.62" height="0.62"/><rect x="86.52" y="140.59" width="0.62" height="0.62"/><rect x="86.95" y="145.87" width="0.62" height="0.62"/><rect x="90.09" y="146.2" width="0.62" height="0.62"/><rect x="70.27" y="139.77" width="0.62" height="0.62"/><rect x="94.44" y="146.94" width="0.62" height="0.62"/><rect x="97.06" y="149.66" width="0.62" height="0.62"/><rect x="71.26" y="141.11" width="0.62" height="0.62"/><rect x="88.54" y="147.24" width="0.62" height="0.62"/><rect x="97.16" y="147.08" width="0.62" height="0.62"/><rect x="92.88" y="144.13" width="0.62" height="0.62"/><rect x="88.71" y="141.27" width="0.62" height="0.62"/><rect x="74.01" y="144.87" width="0.62" height="0.62"/><rect x="96.45" y="144.21" width="0.62" height="0.62"/><rect x="96.73" y="145.16" width="0.62" height="0.62"/><rect x="92.08" y="145.42" width="0.62" height="0.62"/><rect x="98.3" y="148.51" width="0.62" height="0.62"/><rect x="90.49" y="141.82" width="0.62" height="0.62"/><rect x="90.56" y="145.44" width="0.62" height="0.62"/><rect x="91.72" y="147.58" width="0.62" height="0.62"/><rect x="89.37" y="143.8" width="0.62" height="0.62"/><rect x="71.61" y="148.87" width="0.62" height="0.62"/><rect x="95.22" y="144.18" width="0.62" height="0.62"/><rect x="71.42" y="140.6" width="0.62" height="0.62"/><rect x="93.04" y="143.71" width="0.62" height="0.62"/><rect x="87.42" y="149.24" width="0.62" height="0.62"/><rect x="89.93" y="141.05" width="0.62" height="0.62"/><rect x="69.46" y="142.26" width="0.62" height="0.62"/><rect x="88.77" y="143.24" width="0.62" height="0.62"/><rect x="90.77" y="142.99" width="0.62" height="0.62"/><rect x="88.44" y="148.5" width="0.62" height="0.62"/><rect x="94.1" y="147.74" width="0.62" height="0.62"/><rect x="90.49" y="145.45" width="0.62" height="0.62"/><rect x="96.5" y="147.32" width="0.62" height="0.62"/><rect x="90.85" y="142.86" width="0.62" height="0.62"/><rect x="74.76" y="146.7" width="0.62" height="0.62"/><rect x="92.27" y="141.9" width="0.62" height="0.62"/><rect x="97.45" y="146.31" width="0.62" height="0.62"/><rect x="76.74" y="136.38" width="0.62" height="0.62"/><rect x="92.62" y="148.6" width="0.62" height="0.62"/><rect x="68.34" y="146.23" width="0.62" height="0.62"/><rect x="89.54" y="148.71" width="0.62" height="0.62"/><rect x="87.89" y="151.96" width="0.62" height="0.62"/><rect x="91.95" y="149.16" width="0.62" height="0.62"/><rect x="87.94" y="148.93" width="0.62" height="0.62"/><rect x="79.12" y="137.65" width="0.62" height="0.62"/><rect x="86.58" y="147.59" width="0.62" height="0.62"/><rect x="91.2" y="148.32" width="0.62" height="0.62"/><rect x="70.22" y="144.79" width="0.62" height="0.62"/><rect x="71.34" y="139.68" width="0.62" height="0.62"/><rect x="91.03" y="142.58" width="0.62" height="0.62"/><rect x="72.36" y="142.96" width="0.62" height="0.62"/><rect x="95.65" y="148.52" width="0.62" height="0.62"/><rect x="86.23" y="144.08" width="0.62" height="0.62"/><rect x="94.14" y="149.04" width="0.62" height="0.62"/><rect x="70.06" y="139.11" width="0.62" height="0.62"/><rect x="91.99" y="148.68" width="0.62" height="0.62"/><rect x="69.48" y="142.13" width="0.62" height="0.62"/><rect x="84.28" y="144.86" width="0.62" height="0.62"/><rect x="97.24" y="147.56" width="0.62" height="0.62"/><rect x="89.27" y="155.54" width="0.62" height="0.62"/><rect x="91.36" y="142.71" width="0.62" height="0.62"/><rect x="94.33" y="151.4" width="0.62" height="0.62"/><rect x="95.07" y="143.21" width="0.62" height="0.62"/><rect x="96.61" y="144.07" width="0.62" height="0.62"/><rect x="76.87" y="136.6" width="0.62" height="0.62"/><rect x="95.4" y="145.72" width="0.62" height="0.62"/><rect x="92.42" y="144.01" width="0.62" height="0.62"/><rect x="87.58" y="140.74" width="0.62" height="0.62"/><rect x="96.69" y="149.45" width="0.62" height="0.62"/><rect x="95.8" y="144.11" width="0.62" height="0.62"/><rect x="91.77" y="143.73" width="0.62" height="0.62"/><rect x="71.34" y="148.09" width="0.62" height="0.62"/><rect x="71.81" y="137.57" width="0.62" height="0.62"/><rect x="82.68" y="146.39" width="0.62" height="0.62"/><rect x="76.74" y="134.23" width="0.62" height="0.62"/><rect x="95.48" y="144.15" width="0.62" height="0.62"/><rect x="86.94" y="153.05" width="0.62" height="0.62"/><rect x="79.62" y="144.39" width="0.62" height="0.62"/><rect x="77.38" y="143.88" width="0.62" height="0.62"/><rect x="86.1" y="142.6" width="0.62" height="0.62"/><rect x="86.99" y="144.41" width="0.62" height="0.62"/><rect x="70.9" y="138.82" width="0.62" height="0.62"/><rect x="73.62" y="148.19" width="0.62" height="0.62"/><rect x="70.03" y="149.12" width="0.62" height="0.62"/><rect x="77.35" y="135.97" width="0.62" height="0.62"/><rect x="87.16" y="148.64" width="0.62" height="0.62"/><rect x="71.45" y="139.7" width="0.62" height="0.62"/><rect x="88.72" y="147.06" width="0.62" height="0.62"/><rect x="87.23" y="151.38" width="0.62" height="0.62"/><rect x="78.91" y="138.78" width="0.62" height="0.62"/><rect x="71.06" y="147.79" width="0.62" height="0.62"/><rect x="85.68" y="143.24" width="0.62" height="0.62"/><rect x="76.76" y="135.21" width="0.62" height="0.62"/><rect x="69.78" y="141.43" width="0.62" height="0.62"/><rect x="87.53" y="144.87" width="0.62" height="0.62"/><rect x="96.19" y="142.97" width="0.62" height="0.62"/><rect x="98.24" y="145.81" width="0.62" height="0.62"/><rect x="93.19" y="147.33" width="0.62" height="0.62"/><rect x="98.76" y="147.15" width="0.62" height="0.62"/><rect x="86.79" y="146.66" width="0.62" height="0.62"/><rect x="89.28" y="146.69" width="0.62" height="0.62"/><rect x="94.17" y="148.47" width="0.62" height="0.62"/><rect x="96.96" y="148.81" width="0.62" height="0.62"/><rect x="93.66" y="135.97" width="0.62" height="0.62"/><rect x="87.9" y="122" width="0.62" height="0.62"/><rect x="87.96" y="123.31" width="0.62" height="0.62"/><rect x="94.96" y="132.79" width="0.62" height="0.62"/><rect x="95.8" y="135.13" width="0.62" height="0.62"/><rect x="91.99" y="131.19" width="0.62" height="0.62"/><rect x="96.87" y="134.99" width="0.62" height="0.62"/><rect x="89.4" y="139.99" width="0.62" height="0.62"/><rect x="96.5" y="133.1" width="0.62" height="0.62"/><rect x="98.3" y="137.85" width="0.62" height="0.62"/><rect x="90.43" y="128.71" width="0.62" height="0.62"/><rect x="96.18" y="137.71" width="0.62" height="0.62"/><rect x="90.03" y="120.48" width="0.62" height="0.62"/><rect x="91.18" y="122.39" width="0.62" height="0.62"/><rect x="99.58" y="136.11" width="0.62" height="0.62"/><rect x="97.03" y="139.23" width="0.62" height="0.62"/><rect x="96.02" y="136.41" width="0.62" height="0.62"/><rect x="89.27" y="124.68" width="0.62" height="0.62"/><rect x="84.03" y="124.08" width="0.62" height="0.62"/><rect x="90.73" y="134.25" width="0.62" height="0.62"/><rect x="90.91" y="138.47" width="0.62" height="0.62"/><rect x="94.13" y="128.82" width="0.62" height="0.62"/><rect x="91.43" y="133.02" width="0.62" height="0.62"/><rect x="90.7" y="140.02" width="0.62" height="0.62"/><rect x="88.38" y="125.28" width="0.62" height="0.62"/><rect x="94.84" y="130.77" width="0.62" height="0.62"/><rect x="88.82" y="134.86" width="0.62" height="0.62"/><rect x="90.71" y="133.92" width="0.62" height="0.62"/><rect x="93.92" y="128.89" width="0.62" height="0.62"/><rect x="91.17" y="130.17" width="0.62" height="0.62"/><rect x="88.26" y="125.48" width="0.62" height="0.62"/><rect x="87.74" y="119.28" width="0.62" height="0.62"/><rect x="89.16" y="127.48" width="0.62" height="0.62"/><rect x="92.59" y="128.54" width="0.62" height="0.62"/><rect x="90.92" y="137.28" width="0.62" height="0.62"/><rect x="83.2" y="116.62" width="0.62" height="0.62"/><rect x="96.45" y="135.48" width="0.62" height="0.62"/><rect x="90.12" y="139.51" width="0.62" height="0.62"/><rect x="89.4" y="124.04" width="0.62" height="0.62"/><rect x="88.3" y="133.44" width="0.62" height="0.62"/><rect x="95.25" y="140.47" width="0.62" height="0.62"/><rect x="91.84" y="139.64" width="0.62" height="0.62"/><rect x="93.94" y="137" width="0.62" height="0.62"/><rect x="90.28" y="135.84" width="0.62" height="0.62"/><rect x="98.73" y="138.19" width="0.62" height="0.62"/><rect x="91.04" y="139.15" width="0.62" height="0.62"/><rect x="91.38" y="132.84" width="0.62" height="0.62"/><rect x="88.67" y="136.97" width="0.62" height="0.62"/><rect x="88" y="135.5" width="0.62" height="0.62"/><rect x="91.84" y="128.62" width="0.62" height="0.62"/><rect x="91.65" y="123.26" width="0.62" height="0.62"/><rect x="87.77" y="123.83" width="0.62" height="0.62"/><rect x="98.81" y="137.32" width="0.62" height="0.62"/><rect x="87.98" y="131.18" width="0.62" height="0.62"/><rect x="95.97" y="138.73" width="0.62" height="0.62"/><rect x="95.42" y="135.7" width="0.62" height="0.62"/><rect x="93.18" y="140.65" width="0.62" height="0.62"/><rect x="89.79" y="136.6" width="0.62" height="0.62"/><rect x="97.5" y="135.98" width="0.62" height="0.62"/><rect x="94.24" y="137.88" width="0.62" height="0.62"/><rect x="93.07" y="139.91" width="0.62" height="0.62"/><rect x="92.27" y="138.87" width="0.62" height="0.62"/><rect x="93.07" y="132.86" width="0.62" height="0.62"/><rect x="91.67" y="136.1" width="0.62" height="0.62"/><rect x="90.71" y="123.02" width="0.62" height="0.62"/><rect x="89.2" y="130.92" width="0.62" height="0.62"/><rect x="86.53" y="120.07" width="0.62" height="0.62"/><rect x="91.85" y="129.58" width="0.62" height="0.62"/><rect x="91.48" y="136.35" width="0.62" height="0.62"/><rect x="89.86" y="126.46" width="0.62" height="0.62"/><rect x="82.17" y="119.21" width="0.62" height="0.62"/><rect x="90.85" y="121.56" width="0.62" height="0.62"/><rect x="93.01" y="126.23" width="0.62" height="0.62"/><rect x="89.62" y="136.98" width="0.62" height="0.62"/><rect x="98.92" y="135.76" width="0.62" height="0.62"/><rect x="98.59" y="137.11" width="0.62" height="0.62"/><rect x="89.54" y="138.39" width="0.62" height="0.62"/><rect x="86.52" y="124.4" width="0.62" height="0.62"/><rect x="94.39" y="140.15" width="0.62" height="0.62"/><rect x="97.08" y="140.77" width="0.62" height="0.62"/><rect x="88.36" y="131.64" width="0.62" height="0.62"/><rect x="92.06" y="130.5" width="0.62" height="0.62"/><rect x="99.09" y="135.98" width="0.62" height="0.62"/><rect x="89.99" y="129.89" width="0.62" height="0.62"/><rect x="94.58" y="128.42" width="0.62" height="0.62"/><rect x="90.15" y="136.81" width="0.62" height="0.62"/><rect x="89.13" y="127.96" width="0.62" height="0.62"/><rect x="89.78" y="131.03" width="0.62" height="0.62"/><rect x="91.79" y="122.68" width="0.62" height="0.62"/><rect x="88.09" y="125.42" width="0.62" height="0.62"/><rect x="95.05" y="138.04" width="0.62" height="0.62"/><rect x="93.04" y="126.56" width="0.62" height="0.62"/><rect x="98.51" y="137.4" width="0.62" height="0.62"/><rect x="93.88" y="138.71" width="0.62" height="0.62"/><rect x="90.62" y="143.83" width="0.62" height="0.62"/><rect x="89.99" y="126.65" width="0.62" height="0.62"/><rect x="92.14" y="124.9" width="0.62" height="0.62"/><rect x="94.65" y="134.29" width="0.62" height="0.62"/><rect x="93.92" y="128.85" width="0.62" height="0.62"/><rect x="96.65" y="137.51" width="0.62" height="0.62"/><rect x="92.1" y="137.08" width="0.62" height="0.62"/><rect x="90.43" y="123.99" width="0.62" height="0.62"/><rect x="91.26" y="134.36" width="0.62" height="0.62"/><rect x="89.86" y="122.13" width="0.62" height="0.62"/><rect x="89.77" y="122.38" width="0.62" height="0.62"/><rect x="93.35" y="133.89" width="0.62" height="0.62"/><rect x="84.24" y="119.7" width="0.62" height="0.62"/><rect x="96.39" y="140.66" width="0.62" height="0.62"/><rect x="89.03" y="137.09" width="0.62" height="0.62"/><rect x="94.34" y="140.4" width="0.62" height="0.62"/><rect x="90.61" y="136.66" width="0.62" height="0.62"/><rect x="98.61" y="135.31" width="0.62" height="0.62"/><rect x="87.82" y="116.78" width="0.62" height="0.62"/><rect x="90.65" y="125.61" width="0.62" height="0.62"/><rect x="91.38" y="132.04" width="0.62" height="0.62"/><rect x="92.34" y="128.6" width="0.62" height="0.62"/><rect x="97.81" y="138.91" width="0.62" height="0.62"/><rect x="91.29" y="125.2" width="0.62" height="0.62"/><rect x="90.67" y="123.88" width="0.62" height="0.62"/><rect x="91.33" y="123.12" width="0.62" height="0.62"/><rect x="95.12" y="136.5" width="0.62" height="0.62"/><rect x="90.97" y="125.47" width="0.62" height="0.62"/><rect x="95.3" y="130.73" width="0.62" height="0.62"/><rect x="88.65" y="127.4" width="0.62" height="0.62"/><rect x="88.19" y="121.95" width="0.62" height="0.62"/><rect x="93.86" y="136.26" width="0.62" height="0.62"/><rect x="98.25" y="136.1" width="0.62" height="0.62"/><rect x="94.65" y="133.28" width="0.62" height="0.62"/><rect x="92.62" y="139.25" width="0.62" height="0.62"/><rect x="94.48" y="132.75" width="0.62" height="0.62"/><rect x="89.73" y="139.17" width="0.62" height="0.62"/><rect x="94.09" y="135.34" width="0.62" height="0.62"/><rect x="88.43" y="131.37" width="0.62" height="0.62"/><rect x="89.22" y="128.84" width="0.62" height="0.62"/><rect x="94.84" y="138.82" width="0.62" height="0.62"/><rect x="91.41" y="134.63" width="0.62" height="0.62"/><rect x="91.13" y="137.47" width="0.62" height="0.62"/><rect x="89.4" y="133.95" width="0.62" height="0.62"/><rect x="87.96" y="122.97" width="0.62" height="0.62"/><rect x="88.08" y="139.3" width="0.62" height="0.62"/><rect x="93.49" y="138.01" width="0.62" height="0.62"/><rect x="91.39" y="131.66" width="0.62" height="0.62"/><rect x="89.48" y="135.16" width="0.62" height="0.62"/><rect x="90.42" y="127.69" width="0.62" height="0.62"/><rect x="88.38" y="134.78" width="0.62" height="0.62"/><rect x="87.95" y="138.37" width="0.62" height="0.62"/><rect x="89.41" y="123.16" width="0.62" height="0.62"/><rect x="91.81" y="124.22" width="0.62" height="0.62"/><rect x="91.27" y="128.67" width="0.62" height="0.62"/><rect x="89.22" y="128.62" width="0.62" height="0.62"/><rect x="91.87" y="123.79" width="0.62" height="0.62"/><rect x="94.2" y="140.26" width="0.62" height="0.62"/><rect x="88.08" y="134.41" width="0.62" height="0.62"/><rect x="93.57" y="127.41" width="0.62" height="0.62"/><rect x="95.28" y="134.88" width="0.62" height="0.62"/><rect x="91.7" y="124.32" width="0.62" height="0.62"/><rect x="89.21" y="139.04" width="0.62" height="0.62"/><rect x="88.12" y="138.2" width="0.62" height="0.62"/><rect x="93.32" y="129.13" width="0.62" height="0.62"/><rect x="94.32" y="131.31" width="0.62" height="0.62"/><rect x="91.26" y="138.96" width="0.62" height="0.62"/><rect x="92.88" y="129.99" width="0.62" height="0.62"/><rect x="89.66" y="121.87" width="0.62" height="0.62"/><rect x="92.19" y="134.3" width="0.62" height="0.62"/><rect x="93.11" y="127.24" width="0.62" height="0.62"/><rect x="95.36" y="136.69" width="0.62" height="0.62"/><rect x="90.86" y="124.28" width="0.62" height="0.62"/><rect x="89.74" y="122.95" width="0.62" height="0.62"/><rect x="91.25" y="129.35" width="0.62" height="0.62"/><rect x="90.42" y="135.21" width="0.62" height="0.62"/><rect x="93.03" y="137.16" width="0.62" height="0.62"/><rect x="88.56" y="123.21" width="0.62" height="0.62"/><rect x="93.08" y="128.16" width="0.62" height="0.62"/><rect x="91.15" y="129.14" width="0.62" height="0.62"/><rect x="94.8" y="129.64" width="0.62" height="0.62"/><rect x="89.83" y="120.29" width="0.62" height="0.62"/><rect x="92.47" y="125.24" width="0.62" height="0.62"/><rect x="88.55" y="128.82" width="0.62" height="0.62"/><rect x="90.17" y="127.94" width="0.62" height="0.62"/><rect x="98.99" y="136.7" width="0.62" height="0.62"/><rect x="91.54" y="130.02" width="0.62" height="0.62"/><rect x="98.34" y="137.78" width="0.62" height="0.62"/><rect x="89.43" y="138.02" width="0.62" height="0.62"/><rect x="96.72" y="135.96" width="0.62" height="0.62"/><rect x="89.15" y="128.69" width="0.62" height="0.62"/><rect x="93.07" y="130.49" width="0.62" height="0.62"/><rect x="93.86" y="138.5" width="0.62" height="0.62"/><rect x="96.58" y="139.25" width="0.62" height="0.62"/><rect x="93.15" y="130.23" width="0.62" height="0.62"/><rect x="87.92" y="138.61" width="0.62" height="0.62"/><rect x="90.62" y="128.04" width="0.62" height="0.62"/><rect x="93.94" y="138.84" width="0.62" height="0.62"/><rect x="95.87" y="135.69" width="0.62" height="0.62"/><rect x="92.76" y="136.48" width="0.62" height="0.62"/><rect x="96.67" y="134.6" width="0.62" height="0.62"/><rect x="90.37" y="137.78" width="0.62" height="0.62"/><rect x="93.02" y="125.01" width="0.62" height="0.62"/><rect x="89.38" y="122.72" width="0.62" height="0.62"/><rect x="89.5" y="128.38" width="0.62" height="0.62"/><rect x="88.13" y="132.69" width="0.62" height="0.62"/><rect x="93.96" y="135.17" width="0.62" height="0.62"/><rect x="98.51" y="134.97" width="0.62" height="0.62"/><rect x="89.21" y="122.4" width="0.62" height="0.62"/><rect x="95.85" y="137.62" width="0.62" height="0.62"/><rect x="88.48" y="132.61" width="0.62" height="0.62"/><rect x="95.57" y="134.84" width="0.62" height="0.62"/><rect x="93.75" y="131.41" width="0.62" height="0.62"/><rect x="93.64" y="140.02" width="0.62" height="0.62"/><rect x="92.23" y="126.48" width="0.62" height="0.62"/><rect x="88.06" y="125.41" width="0.62" height="0.62"/><rect x="98.54" y="138.67" width="0.62" height="0.62"/><rect x="89.36" y="118.91" width="0.62" height="0.62"/><rect x="91.28" y="123.71" width="0.62" height="0.62"/><rect x="88.37" y="139.23" width="0.62" height="0.62"/><rect x="93.58" y="136.23" width="0.62" height="0.62"/><rect x="94.91" y="128.85" width="0.62" height="0.62"/><rect x="93.71" y="140.48" width="0.62" height="0.62"/><rect x="90.19" y="122.34" width="0.62" height="0.62"/><rect x="96.63" y="133.17" width="0.62" height="0.62"/><rect x="90.06" y="127.68" width="0.62" height="0.62"/><rect x="90.42" y="136.84" width="0.62" height="0.62"/><rect x="98.12" y="135.79" width="0.62" height="0.62"/><rect x="93.5" y="126.26" width="0.62" height="0.62"/><rect x="88.97" y="118.89" width="0.62" height="0.62"/><rect x="93.55" y="131.53" width="0.62" height="0.62"/><rect x="93.63" y="127.68" width="0.62" height="0.62"/><rect x="92.26" y="134.97" width="0.62" height="0.62"/><rect x="90.7" y="139.21" width="0.62" height="0.62"/><rect x="94.98" y="136.11" width="0.62" height="0.62"/><rect x="83.16" y="118.07" width="0.62" height="0.62"/><rect x="88.75" y="134.9" width="0.62" height="0.62"/><rect x="90.93" y="124.53" width="0.62" height="0.62"/><rect x="97.73" y="137.23" width="0.62" height="0.62"/><rect x="87.87" y="140.63" width="0.62" height="0.62"/><rect x="93.35" y="129.01" width="0.62" height="0.62"/><rect x="97.99" y="137.42" width="0.62" height="0.62"/><rect x="92.99" y="128.07" width="0.62" height="0.62"/><rect x="90.51" y="129.31" width="0.62" height="0.62"/><rect x="92.47" y="125.95" width="0.62" height="0.62"/><rect x="88.47" y="132.25" width="0.62" height="0.62"/><rect x="93.96" y="136.31" width="0.62" height="0.62"/><rect x="89.29" y="128.12" width="0.62" height="0.62"/><rect x="90.13" y="127.29" width="0.62" height="0.62"/><rect x="88.7" y="124.4" width="0.62" height="0.62"/><rect x="95.13" y="140.25" width="0.62" height="0.62"/><rect x="92.18" y="131.57" width="0.62" height="0.62"/><rect x="95.48" y="136.41" width="0.62" height="0.62"/><rect x="90.81" y="136.67" width="0.62" height="0.62"/><rect x="91.48" y="131.73" width="0.62" height="0.62"/><rect x="90.72" y="135.11" width="0.62" height="0.62"/><rect x="89.69" y="129.52" width="0.62" height="0.62"/><rect x="96.79" y="137.1" width="0.62" height="0.62"/><rect x="89.34" y="120.31" width="0.62" height="0.62"/><rect x="88.98" y="128.47" width="0.62" height="0.62"/><rect x="93.27" y="129" width="0.62" height="0.62"/><rect x="95.94" y="131.78" width="0.62" height="0.62"/><rect x="90.91" y="131.27" width="0.62" height="0.62"/><rect x="94.82" y="130.06" width="0.62" height="0.62"/><rect x="90.7" y="127.01" width="0.62" height="0.62"/><rect x="89.67" y="134.84" width="0.62" height="0.62"/><rect x="92.81" y="134.69" width="0.62" height="0.62"/><rect x="90.68" y="137.91" width="0.62" height="0.62"/><rect x="88.14" y="116.91" width="0.62" height="0.62"/><rect x="91.85" y="138.16" width="0.62" height="0.62"/><rect x="94.55" y="128.31" width="0.62" height="0.62"/><rect x="86.94" y="139.35" width="0.62" height="0.62"/><rect x="98.46" y="138.94" width="0.62" height="0.62"/><rect x="95.42" y="140.38" width="0.62" height="0.62"/><rect x="92.91" y="127.85" width="0.62" height="0.62"/><rect x="99.01" y="136.82" width="0.62" height="0.62"/><rect x="96.79" y="139.45" width="0.62" height="0.62"/><rect x="93.19" y="129.87" width="0.62" height="0.62"/><rect x="88.48" y="123.46" width="0.62" height="0.62"/><rect x="91.29" y="124.45" width="0.62" height="0.62"/><rect x="88.1" y="131.79" width="0.62" height="0.62"/><rect x="92.93" y="134.31" width="0.62" height="0.62"/><rect x="92.32" y="135.16" width="0.62" height="0.62"/><rect x="93.07" y="139.78" width="0.62" height="0.62"/><rect x="87.7" y="137.3" width="0.62" height="0.62"/><rect x="93.12" y="140.43" width="0.62" height="0.62"/><rect x="89.77" y="121.85" width="0.62" height="0.62"/><rect x="98.63" y="139.07" width="0.62" height="0.62"/><rect x="93.25" y="139.99" width="0.62" height="0.62"/><rect x="93.24" y="137.02" width="0.62" height="0.62"/><rect x="97.26" y="136.87" width="0.62" height="0.62"/><rect x="98.74" y="136.98" width="0.62" height="0.62"/><rect x="90.73" y="122.16" width="0.62" height="0.62"/><rect x="87.91" y="121.64" width="0.62" height="0.62"/><rect x="88.27" y="133.82" width="0.62" height="0.62"/><rect x="91.3" y="139.5" width="0.62" height="0.62"/><rect x="91.4" y="122.26" width="0.62" height="0.62"/><rect x="99.37" y="137.64" width="0.62" height="0.62"/><rect x="88.07" y="130.11" width="0.62" height="0.62"/><rect x="100.06" y="135.99" width="0.62" height="0.62"/><rect x="93.2" y="126.67" width="0.62" height="0.62"/><rect x="95.21" y="137.85" width="0.62" height="0.62"/><rect x="93.94" y="134" width="0.62" height="0.62"/><rect x="90.9" y="128.21" width="0.62" height="0.62"/><rect x="96.56" y="133.57" width="0.62" height="0.62"/><rect x="90.51" y="123.36" width="0.62" height="0.62"/><rect x="94.27" y="127.5" width="0.62" height="0.62"/><rect x="91.78" y="140.22" width="0.62" height="0.62"/><rect x="91.98" y="124.72" width="0.62" height="0.62"/><rect x="89.57" y="124.12" width="0.62" height="0.62"/><rect x="91.63" y="132.51" width="0.62" height="0.62"/><rect x="91.26" y="122.76" width="0.62" height="0.62"/><rect x="89.56" y="130.99" width="0.62" height="0.62"/><rect x="87.75" y="129.11" width="0.62" height="0.62"/><rect x="89.41" y="123.32" width="0.62" height="0.62"/><rect x="88.73" y="136.94" width="0.62" height="0.62"/><rect x="92.55" y="128.95" width="0.62" height="0.62"/><rect x="87.99" y="135.5" width="0.62" height="0.62"/><rect x="98.11" y="138.02" width="0.62" height="0.62"/><rect x="91.46" y="125.72" width="0.62" height="0.62"/><rect x="96.06" y="139.15" width="0.62" height="0.62"/><rect x="87.78" y="137.48" width="0.62" height="0.62"/><rect x="88.19" y="127.16" width="0.62" height="0.62"/><rect x="89.7" y="132.15" width="0.62" height="0.62"/><rect x="88.17" y="118.07" width="0.62" height="0.62"/><rect x="89.43" y="137.91" width="0.62" height="0.62"/><rect x="97.4" y="137.16" width="0.62" height="0.62"/><rect x="88.97" y="129.45" width="0.62" height="0.62"/><rect x="94.31" y="135.56" width="0.62" height="0.62"/><rect x="88.19" y="138.69" width="0.62" height="0.62"/><rect x="88.21" y="128.97" width="0.62" height="0.62"/><rect x="89.26" y="129.78" width="0.62" height="0.62"/><rect x="95.67" y="138.77" width="0.62" height="0.62"/><rect x="90.62" y="132.49" width="0.62" height="0.62"/><rect x="92.5" y="126.39" width="0.62" height="0.62"/><rect x="96.67" y="133.88" width="0.62" height="0.62"/><rect x="91.86" y="123.79" width="0.62" height="0.62"/><rect x="90.36" y="126.75" width="0.62" height="0.62"/><rect x="93.08" y="139.66" width="0.62" height="0.62"/><rect x="98.22" y="138.11" width="0.62" height="0.62"/><rect x="93.76" y="135.65" width="0.62" height="0.62"/><rect x="88.52" y="126.75" width="0.62" height="0.62"/><rect x="97.38" y="136.76" width="0.62" height="0.62"/><rect x="87.86" y="119.61" width="0.62" height="0.62"/><rect x="94.47" y="133.67" width="0.62" height="0.62"/><rect x="92.69" y="133.04" width="0.62" height="0.62"/><rect x="95.95" y="140.31" width="0.62" height="0.62"/><rect x="87.89" y="135.82" width="0.62" height="0.62"/><rect x="89.03" y="125.81" width="0.62" height="0.62"/><rect x="91.57" y="128.83" width="0.62" height="0.62"/><rect x="93.57" y="138.75" width="0.62" height="0.62"/><rect x="90.74" y="139.51" width="0.62" height="0.62"/><rect x="89.18" y="138.61" width="0.62" height="0.62"/><rect x="90.01" y="135.92" width="0.62" height="0.62"/><rect x="95.37" y="131.75" width="0.62" height="0.62"/><rect x="96.62" y="139.57" width="0.62" height="0.62"/><rect x="90.28" y="122.21" width="0.62" height="0.62"/><rect x="97.07" y="139.71" width="0.62" height="0.62"/><rect x="98.47" y="139.5" width="0.62" height="0.62"/><rect x="91.53" y="125.18" width="0.62" height="0.62"/><rect x="94.41" y="136.71" width="0.62" height="0.62"/><rect x="91.08" y="123.86" width="0.62" height="0.62"/><rect x="91.17" y="136.78" width="0.62" height="0.62"/><rect x="90.56" y="144.04" width="0.62" height="0.62"/><rect x="90.12" y="120.26" width="0.62" height="0.62"/><rect x="89.52" y="125.55" width="0.62" height="0.62"/><rect x="96.16" y="134.71" width="0.62" height="0.62"/><rect x="89.61" y="139.13" width="0.62" height="0.62"/><rect x="89.79" y="139" width="0.62" height="0.62"/><rect x="89.22" y="139.97" width="0.62" height="0.62"/><rect x="98.34" y="138.23" width="0.62" height="0.62"/><rect x="88.49" y="122.17" width="0.62" height="0.62"/><rect x="92.18" y="136.68" width="0.62" height="0.62"/><rect x="98.53" y="137.61" width="0.62" height="0.62"/><rect x="90.56" y="133.63" width="0.62" height="0.62"/><rect x="95.84" y="140.34" width="0.62" height="0.62"/><rect x="90.67" y="141.68" width="0.62" height="0.62"/><rect x="95.12" y="136.82" width="0.62" height="0.62"/><rect x="98.01" y="136.74" width="0.62" height="0.62"/><rect x="88.85" y="127.95" width="0.62" height="0.62"/><rect x="94.99" y="134.84" width="0.62" height="0.62"/><rect x="89.79" y="130.18" width="0.62" height="0.62"/><rect x="87.9" y="126.03" width="0.62" height="0.62"/><rect x="88.25" y="129.7" width="0.62" height="0.62"/><rect x="95.07" y="132.43" width="0.62" height="0.62"/><rect x="89.56" y="133.1" width="0.62" height="0.62"/><rect x="90.8" y="131.62" width="0.62" height="0.62"/><rect x="89.17" y="128.64" width="0.62" height="0.62"/><rect x="91.65" y="139.87" width="0.62" height="0.62"/><rect x="92.96" y="140.65" width="0.62" height="0.62"/><rect x="88.82" y="123.79" width="0.62" height="0.62"/><rect x="91.37" y="138.48" width="0.62" height="0.62"/><rect x="89.89" y="138.84" width="0.62" height="0.62"/><rect x="98.37" y="134.85" width="0.62" height="0.62"/><rect x="87.99" y="123.23" width="0.62" height="0.62"/><rect x="94.53" y="129.12" width="0.62" height="0.62"/><rect x="98.16" y="137.21" width="0.62" height="0.62"/><rect x="91.14" y="138.66" width="0.62" height="0.62"/><rect x="87.97" y="126.4" width="0.62" height="0.62"/><rect x="90.38" y="138.28" width="0.62" height="0.62"/><rect x="97.44" y="135.28" width="0.62" height="0.62"/><rect x="99.33" y="135.76" width="0.62" height="0.62"/><rect x="88.45" y="127.51" width="0.62" height="0.62"/><rect x="92.07" y="138.85" width="0.62" height="0.62"/><rect x="95.87" y="139.68" width="0.62" height="0.62"/><rect x="98.3" y="134.43" width="0.62" height="0.62"/><rect x="92.82" y="135.76" width="0.62" height="0.62"/><rect x="92.58" y="129.33" width="0.62" height="0.62"/><rect x="86.59" y="126.11" width="0.62" height="0.62"/><rect x="95.31" y="136.43" width="0.62" height="0.62"/><rect x="84.02" y="120.75" width="0.62" height="0.62"/><rect x="96.26" y="133.42" width="0.62" height="0.62"/><rect x="92.62" y="130.81" width="0.62" height="0.62"/><rect x="98.43" y="135.34" width="0.62" height="0.62"/><rect x="98.28" y="136.54" width="0.62" height="0.62"/><rect x="89.77" y="134.19" width="0.62" height="0.62"/><rect x="88.83" y="136.85" width="0.62" height="0.62"/><rect x="89.84" y="135.08" width="0.62" height="0.62"/><rect x="95.26" y="136.08" width="0.62" height="0.62"/><rect x="95.38" y="133.32" width="0.62" height="0.62"/><rect x="90.14" y="128.07" width="0.62" height="0.62"/><rect x="98.67" y="139" width="0.62" height="0.62"/><rect x="91.29" y="129.28" width="0.62" height="0.62"/><rect x="93.07" y="128.5" width="0.62" height="0.62"/><rect x="94.95" y="138.1" width="0.62" height="0.62"/><rect x="89.26" y="127.69" width="0.62" height="0.62"/><rect x="69.79" y="49.59" width="0.62" height="0.62"/><rect x="67.78" y="44.03" width="0.62" height="0.62"/><rect x="71.62" y="43.52" width="0.62" height="0.62"/><rect x="69.41" y="42.37" width="0.62" height="0.62"/><rect x="77.49" y="45.1" width="0.62" height="0.62"/><rect x="69.53" y="44.41" width="0.62" height="0.62"/><rect x="62.62" y="39.09" width="0.62" height="0.62"/><rect x="62.87" y="38.17" width="0.62" height="0.62"/><rect x="64.89" y="136.86" width="0.62" height="0.62"/><rect x="59.79" y="131.19" width="0.62" height="0.62"/><rect x="57.07" y="129.08" width="0.62" height="0.62"/><rect x="54.8" y="129.35" width="0.62" height="0.62"/><rect x="60.47" y="134.13" width="0.62" height="0.62"/><rect x="58.79" y="132.49" width="0.62" height="0.62"/><rect x="139.13" y="124.18" width="0.62" height="0.62"/><rect x="138.7" y="125.77" width="0.62" height="0.62"/><rect x="137.97" y="126.9" width="0.62" height="0.62"/><rect x="139.04" y="121.1" width="0.62" height="0.62"/><rect x="138.08" y="120.86" width="0.62" height="0.62"/><rect x="137.86" y="126.36" width="0.62" height="0.62"/><rect x="139.06" y="123.42" width="0.62" height="0.62"/><rect x="138.63" y="126.44" width="0.62" height="0.62"/><rect x="137.91" y="124.99" width="0.62" height="0.62"/><rect x="137.77" y="123.91" width="0.62" height="0.62"/><rect x="107.43" y="125.16" width="0.62" height="0.62"/><rect x="107.93" y="119.51" width="0.62" height="0.62"/><rect x="107.95" y="125.3" width="0.62" height="0.62"/><rect x="104.28" y="120.92" width="0.62" height="0.62"/><rect x="109.22" y="119.6" width="0.62" height="0.62"/><rect x="105.97" y="123.36" width="0.62" height="0.62"/><rect x="103.32" y="118.36" width="0.62" height="0.62"/><rect x="106.01" y="119.33" width="0.62" height="0.62"/></g>
<path d="M110.3 120.7 C110.67 120.1 111.65 119.97 112.5 119.6 C113.35 119.23 114.67 118.75 115.4 118.5 C116.13 118.25 116.58 117.67 116.9 118.1 C117.22 118.53 116.93 120.25 117.3 121.1 C117.67 121.95 118.5 122.48 119.1 123.2 C119.7 123.92 120.42 124.67 120.9 125.4 C121.38 126.13 121.38 126.68 122 127.6 C122.62 128.52 124.48 130.05 124.6 130.9 C124.72 131.75 123.2 131.9 122.7 132.7 C122.2 133.5 121.9 134.6 121.6 135.7 C121.3 136.8 121.25 138.4 120.9 139.3 C120.55 140.2 120.28 140.67 119.5 141.1 C118.72 141.53 117.3 141.83 116.2 141.9 C115.1 141.97 113.63 141.93 112.9 141.5 C112.17 141.07 112.35 139.85 111.8 139.3 C111.25 138.75 110.45 138.8 109.6 138.2 C108.75 137.6 107.32 136.37 106.7 135.7 C106.08 135.03 105.6 134.7 105.9 134.2 C106.2 133.7 107.82 133.18 108.5 132.7 C109.18 132.22 109.63 132.02 110 131.3 C110.37 130.58 110.52 129.38 110.7 128.4 C110.88 127.42 111.17 126.27 111.1 125.4 C111.03 124.53 110.43 123.98 110.3 123.2 C110.17 122.42 109.93 121.3 110.3 120.7 Z" fill="#e31a1c" stroke="none" stroke-width="0.5"/>
<g fill="#e9857a"><rect x="116.53" y="139.27" width="0.7" height="0.7"/><rect x="115.82" y="135.91" width="0.7" height="0.7"/><rect x="114.04" y="135.18" width="0.7" height="0.7"/><rect x="123.46" y="130.11" width="0.7" height="0.7"/><rect x="116.4" y="137.16" width="0.7" height="0.7"/><rect x="120.06" y="138.24" width="0.7" height="0.7"/><rect x="117.26" y="135.01" width="0.7" height="0.7"/><rect x="112.56" y="139.35" width="0.7" height="0.7"/><rect x="111.82" y="127.96" width="0.7" height="0.7"/><rect x="112.85" y="122.58" width="0.7" height="0.7"/><rect x="110.19" y="136.7" width="0.7" height="0.7"/><rect x="113.05" y="136.43" width="0.7" height="0.7"/><rect x="112.94" y="133.65" width="0.7" height="0.7"/><rect x="113.97" y="121.95" width="0.7" height="0.7"/><rect x="115.44" y="124.16" width="0.7" height="0.7"/><rect x="110.19" y="137.4" width="0.7" height="0.7"/><rect x="113.33" y="119.92" width="0.7" height="0.7"/><rect x="117.26" y="125.2" width="0.7" height="0.7"/><rect x="112.1" y="136.83" width="0.7" height="0.7"/><rect x="116.79" y="119.6" width="0.7" height="0.7"/><rect x="116.83" y="125.95" width="0.7" height="0.7"/><rect x="106.79" y="133.36" width="0.7" height="0.7"/><rect x="112.88" y="136.5" width="0.7" height="0.7"/><rect x="114.81" y="138.71" width="0.7" height="0.7"/><rect x="111.06" y="120.28" width="0.7" height="0.7"/><rect x="112.41" y="125.84" width="0.7" height="0.7"/><rect x="115.24" y="124.44" width="0.7" height="0.7"/><rect x="116.46" y="126.4" width="0.7" height="0.7"/><rect x="118.67" y="136.03" width="0.7" height="0.7"/><rect x="119.05" y="139.37" width="0.7" height="0.7"/><rect x="115.61" y="135.83" width="0.7" height="0.7"/><rect x="112.93" y="120.18" width="0.7" height="0.7"/><rect x="118.29" y="134.78" width="0.7" height="0.7"/><rect x="114.38" y="139.14" width="0.7" height="0.7"/><rect x="111.17" y="137.91" width="0.7" height="0.7"/><rect x="115.97" y="131.52" width="0.7" height="0.7"/><rect x="118.68" y="135.54" width="0.7" height="0.7"/><rect x="116.34" y="138.5" width="0.7" height="0.7"/><rect x="118.47" y="138.63" width="0.7" height="0.7"/><rect x="117.43" y="137.42" width="0.7" height="0.7"/><rect x="108.63" y="136.91" width="0.7" height="0.7"/><rect x="118.2" y="138.17" width="0.7" height="0.7"/><rect x="114.23" y="123.36" width="0.7" height="0.7"/><rect x="121.39" y="134.85" width="0.7" height="0.7"/><rect x="117.4" y="139.03" width="0.7" height="0.7"/><rect x="111.41" y="130.73" width="0.7" height="0.7"/><rect x="111.73" y="135.73" width="0.7" height="0.7"/><rect x="115.13" y="137.41" width="0.7" height="0.7"/><rect x="112.15" y="131.44" width="0.7" height="0.7"/><rect x="116.01" y="140.48" width="0.7" height="0.7"/><rect x="116.69" y="127.4" width="0.7" height="0.7"/><rect x="123.04" y="129.62" width="0.7" height="0.7"/><rect x="111.09" y="136.91" width="0.7" height="0.7"/><rect x="109.78" y="134.7" width="0.7" height="0.7"/><rect x="108.34" y="132.94" width="0.7" height="0.7"/><rect x="118.67" y="139.76" width="0.7" height="0.7"/><rect x="119.01" y="134.91" width="0.7" height="0.7"/><rect x="119.47" y="139.58" width="0.7" height="0.7"/><rect x="115.91" y="118.15" width="0.7" height="0.7"/><rect x="112.55" y="138.97" width="0.7" height="0.7"/></g>
<circle cx="119.8" cy="148.2" r="0.9" fill="#e7584c"/>
<ellipse cx="114.7" cy="128.4" rx="0.9" ry="0.7" fill="#f4f0f0"/>
<ellipse cx="117.6" cy="135.7" rx="0.6" ry="1.4" fill="#f4f0f0"/>
<ellipse cx="116.9" cy="124" rx="0.6" ry="0.5" fill="#f4f0f0"/>
<ellipse cx="113.5" cy="122.5" rx="0.5" ry="0.4" fill="#f4f0f0"/>
<ellipse cx="119" cy="131" rx="0.4" ry="0.6" fill="#f4f0f0"/>
<ellipse cx="112" cy="130.5" rx="0.4" ry="0.4" fill="#f4f0f0"/>
<g fill="#c9a3a0"><rect x="110.83" y="139.85" width="0.7" height="0.7"/><rect x="110.82" y="132.42" width="0.7" height="0.7"/><rect x="109.24" y="133.85" width="0.7" height="0.7"/><rect x="107.73" y="137.08" width="0.7" height="0.7"/><rect x="110.59" y="133.94" width="0.7" height="0.7"/><rect x="108.99" y="137.89" width="0.7" height="0.7"/><rect x="110.18" y="137.79" width="0.7" height="0.7"/><rect x="111.27" y="132.78" width="0.7" height="0.7"/><rect x="110.29" y="134.6" width="0.7" height="0.7"/><rect x="109.2" y="136.66" width="0.7" height="0.7"/><rect x="109.64" y="135.7" width="0.7" height="0.7"/><rect x="111.46" y="132.28" width="0.7" height="0.7"/><rect x="107.16" y="135.29" width="0.7" height="0.7"/><rect x="112.46" y="140.52" width="0.7" height="0.7"/><rect x="106.19" y="135.59" width="0.7" height="0.7"/><rect x="109.45" y="133.58" width="0.7" height="0.7"/><rect x="110.89" y="139.49" width="0.7" height="0.7"/><rect x="108.55" y="137.76" width="0.7" height="0.7"/><rect x="107.34" y="136.95" width="0.7" height="0.7"/><rect x="112.32" y="140.7" width="0.7" height="0.7"/><rect x="113.23" y="137.46" width="0.7" height="0.7"/><rect x="113.02" y="135.27" width="0.7" height="0.7"/><rect x="110.12" y="135.78" width="0.7" height="0.7"/><rect x="106.56" y="133.22" width="0.7" height="0.7"/><rect x="111.59" y="137.75" width="0.7" height="0.7"/><rect x="106.6" y="132.69" width="0.7" height="0.7"/><rect x="113.98" y="138.64" width="0.7" height="0.7"/><rect x="111.35" y="135.38" width="0.7" height="0.7"/><rect x="112.44" y="133.58" width="0.7" height="0.7"/><rect x="110.42" y="138.31" width="0.7" height="0.7"/><rect x="113.73" y="139.01" width="0.7" height="0.7"/><rect x="107.52" y="133.7" width="0.7" height="0.7"/><rect x="108.71" y="139.23" width="0.7" height="0.7"/><rect x="107.52" y="135.91" width="0.7" height="0.7"/><rect x="106.61" y="133.83" width="0.7" height="0.7"/><rect x="113.24" y="135.71" width="0.7" height="0.7"/><rect x="111.93" y="139.77" width="0.7" height="0.7"/><rect x="108.11" y="137.37" width="0.7" height="0.7"/><rect x="113.86" y="138.56" width="0.7" height="0.7"/><rect x="111.01" y="133.65" width="0.7" height="0.7"/><rect x="111.99" y="132.61" width="0.7" height="0.7"/><rect x="110.8" y="138.86" width="0.7" height="0.7"/><rect x="108.92" y="137.31" width="0.7" height="0.7"/><rect x="109.35" y="136.36" width="0.7" height="0.7"/><rect x="106.51" y="135.62" width="0.7" height="0.7"/></g>
<line x1="172.5" y1="30.9" x2="172.5" y2="134.2" stroke="#444" stroke-width="0.5"/>
<line x1="172.5" y1="134.2" x2="379" y2="134.2" stroke="#444" stroke-width="0.5"/>
<line x1="171.5" y1="32.5" x2="172.5" y2="32.5" stroke="#444" stroke-width="0.4"/>
<text x="171.2" y="34.5" font-size="5.8" text-anchor="end" fill="#444" stroke="#444" stroke-width="0.18">1.5</text>
<line x1="171.5" y1="59.3" x2="172.5" y2="59.3" stroke="#444" stroke-width="0.4"/>
<text x="171.2" y="61.3" font-size="5.8" text-anchor="end" fill="#444" stroke="#444" stroke-width="0.18">1.0</text>
<line x1="171.5" y1="86.1" x2="172.5" y2="86.1" stroke="#444" stroke-width="0.4"/>
<text x="171.2" y="88.1" font-size="5.8" text-anchor="end" fill="#444" stroke="#444" stroke-width="0.18">0.5</text>
<line x1="171.5" y1="112.9" x2="172.5" y2="112.9" stroke="#444" stroke-width="0.4"/>
<text x="171.2" y="114.9" font-size="5.8" text-anchor="end" fill="#444" stroke="#444" stroke-width="0.18">0.0</text>
<line x1="175.8" y1="66.4" x2="175.8" y2="68.4" stroke="#555" stroke-width="0.5"/>
<path d="M175.9 66.4 L176.08 67.39 L176.12 68.38 L176.16 69.37 L176.2 70.36 L176.25 71.35 L176.31 72.34 L176.37 73.33 L176.43 74.32 L176.5 75.31 L176.57 76.3 L176.65 77.29 L176.73 78.28 L176.82 79.27 L176.91 80.26 L177 81.25 L177.09 82.24 L177.19 83.23 L177.29 84.22 L177.39 85.21 L177.49 86.2 L177.59 87.19 L177.69 88.18 L177.79 89.17 L177.89 90.16 L177.98 91.15 L178.07 92.14 L178.15 93.13 L178.23 94.12 L178.3 95.11 L178.36 96.09 L178.41 97.08 L178.46 98.07 L178.49 99.06 L178.52 100.05 L178.54 101.04 L178.54 102.03 L178.53 103.02 L178.5 104.01 L178.43 105 L178.35 105.99 L178.24 106.98 L178.11 107.97 L177.97 108.96 L177.81 109.95 L177.65 110.94 L177.48 111.93 L177.31 112.92 L177.15 113.91 L176.99 114.9 L176.84 115.89 L176.7 116.88 L176.57 117.87 L176.45 118.86 L176.35 119.85 L176.25 120.84 L176.17 121.83 L176.1 122.82 L176.04 123.81 L175.9 124.8 L175.7 124.8 L175.56 123.81 L175.5 122.82 L175.43 121.83 L175.35 120.84 L175.25 119.85 L175.15 118.86 L175.03 117.87 L174.9 116.88 L174.76 115.89 L174.61 114.9 L174.45 113.91 L174.29 112.92 L174.12 111.93 L173.95 110.94 L173.79 109.95 L173.63 108.96 L173.49 107.97 L173.36 106.98 L173.25 105.99 L173.17 105 L173.1 104.01 L173.07 103.02 L173.06 102.03 L173.06 101.04 L173.08 100.05 L173.11 99.06 L173.14 98.07 L173.19 97.08 L173.24 96.09 L173.3 95.11 L173.37 94.12 L173.45 93.13 L173.53 92.14 L173.62 91.15 L173.71 90.16 L173.81 89.17 L173.91 88.18 L174.01 87.19 L174.11 86.2 L174.21 85.21 L174.31 84.22 L174.41 83.23 L174.51 82.24 L174.6 81.25 L174.69 80.26 L174.78 79.27 L174.87 78.28 L174.95 77.29 L175.03 76.3 L175.1 75.31 L175.17 74.32 L175.23 73.33 L175.29 72.34 L175.35 71.35 L175.4 70.36 L175.44 69.37 L175.48 68.38 L175.52 67.39 L175.7 66.4 Z" fill="#e0646a" stroke="#4a4a4a" stroke-width="0.25" stroke-opacity="0.55"/>
<line x1="181.66" y1="78.5" x2="181.66" y2="92.1" stroke="#555" stroke-width="0.5"/>
<path d="M181.76 90.1 L181.92 90.71 L181.96 91.32 L182 91.93 L182.05 92.53 L182.1 93.14 L182.16 93.75 L182.22 94.36 L182.29 94.97 L182.36 95.58 L182.44 96.18 L182.52 96.79 L182.6 97.4 L182.69 98.01 L182.79 98.62 L182.89 99.23 L182.98 99.84 L183.08 100.44 L183.19 101.05 L183.29 101.66 L183.39 102.27 L183.49 102.88 L183.58 103.49 L183.68 104.09 L183.76 104.7 L183.84 105.31 L183.92 105.92 L183.98 106.53 L184.04 107.14 L184.09 107.75 L184.13 108.35 L184.16 108.96 L184.17 109.57 L184.18 110.18 L184.17 110.79 L184.14 111.4 L184.09 112.01 L184.03 112.61 L183.95 113.22 L183.85 113.83 L183.74 114.44 L183.62 115.05 L183.5 115.66 L183.37 116.26 L183.23 116.87 L183.1 117.48 L182.96 118.09 L182.83 118.7 L182.71 119.31 L182.59 119.92 L182.47 120.52 L182.37 121.13 L182.27 121.74 L182.19 122.35 L182.11 122.96 L182.04 123.57 L181.98 124.17 L181.92 124.78 L181.88 125.39 L181.76 126 L181.56 126 L181.44 125.39 L181.4 124.78 L181.34 124.17 L181.28 123.57 L181.21 122.96 L181.13 122.35 L181.05 121.74 L180.95 121.13 L180.85 120.52 L180.73 119.92 L180.61 119.31 L180.49 118.7 L180.36 118.09 L180.22 117.48 L180.09 116.87 L179.95 116.26 L179.82 115.66 L179.7 115.05 L179.58 114.44 L179.47 113.83 L179.37 113.22 L179.29 112.61 L179.23 112.01 L179.18 111.4 L179.15 110.79 L179.14 110.18 L179.15 109.57 L179.16 108.96 L179.19 108.35 L179.23 107.75 L179.28 107.14 L179.34 106.53 L179.4 105.92 L179.48 105.31 L179.56 104.7 L179.64 104.09 L179.74 103.49 L179.83 102.88 L179.93 102.27 L180.03 101.66 L180.13 101.05 L180.24 100.44 L180.34 99.84 L180.43 99.23 L180.53 98.62 L180.63 98.01 L180.72 97.4 L180.8 96.79 L180.88 96.18 L180.96 95.58 L181.03 94.97 L181.1 94.36 L181.16 93.75 L181.22 93.14 L181.27 92.53 L181.32 91.93 L181.36 91.32 L181.4 90.71 L181.56 90.1 Z" fill="#e4754a" stroke="#4a4a4a" stroke-width="0.25" stroke-opacity="0.55"/>
<line x1="187.52" y1="35.2" x2="187.52" y2="37.2" stroke="#555" stroke-width="0.5"/>
<path d="M187.62 35.2 L187.83 36.43 L187.9 37.65 L187.98 38.88 L188.08 40.11 L188.18 41.34 L188.3 42.56 L188.44 43.79 L188.58 45.02 L188.73 46.24 L188.89 47.47 L189.06 48.7 L189.23 49.93 L189.4 51.15 L189.57 52.38 L189.73 53.61 L189.88 54.83 L190.01 56.06 L190.12 57.29 L190.21 58.52 L190.27 59.74 L190.31 60.97 L190.32 62.2 L190.31 63.42 L190.3 64.65 L190.27 65.88 L190.23 67.11 L190.18 68.33 L190.12 69.56 L190.06 70.79 L189.98 72.01 L189.9 73.24 L189.82 74.47 L189.73 75.69 L189.63 76.92 L189.53 78.15 L189.43 79.38 L189.32 80.6 L189.22 81.83 L189.11 83.06 L189.01 84.28 L188.91 85.51 L188.81 86.74 L188.71 87.97 L188.61 89.19 L188.52 90.42 L188.44 91.65 L188.35 92.87 L188.27 94.1 L188.2 95.33 L188.13 96.56 L188.07 97.78 L188.01 99.01 L187.96 100.24 L187.91 101.46 L187.86 102.69 L187.82 103.92 L187.78 105.15 L187.75 106.37 L187.62 107.6 L187.42 107.6 L187.29 106.37 L187.26 105.15 L187.22 103.92 L187.18 102.69 L187.13 101.46 L187.08 100.24 L187.03 99.01 L186.97 97.78 L186.91 96.56 L186.84 95.33 L186.77 94.1 L186.69 92.87 L186.6 91.65 L186.52 90.42 L186.43 89.19 L186.33 87.97 L186.23 86.74 L186.13 85.51 L186.03 84.28 L185.93 83.06 L185.82 81.83 L185.72 80.6 L185.61 79.38 L185.51 78.15 L185.41 76.92 L185.31 75.69 L185.22 74.47 L185.14 73.24 L185.06 72.01 L184.98 70.79 L184.92 69.56 L184.86 68.33 L184.81 67.11 L184.77 65.88 L184.74 64.65 L184.73 63.42 L184.72 62.2 L184.73 60.97 L184.77 59.74 L184.83 58.52 L184.92 57.29 L185.03 56.06 L185.16 54.83 L185.31 53.61 L185.47 52.38 L185.64 51.15 L185.81 49.93 L185.98 48.7 L186.15 47.47 L186.31 46.24 L186.46 45.02 L186.6 43.79 L186.74 42.56 L186.86 41.34 L186.96 40.11 L187.06 38.88 L187.14 37.65 L187.21 36.43 L187.42 35.2 Z" fill="#e8862a" stroke="#4a4a4a" stroke-width="0.25" stroke-opacity="0.55"/>
<line x1="193.38" y1="56.8" x2="193.38" y2="58.8" stroke="#555" stroke-width="0.5"/>
<path d="M193.48 56.8 L193.64 57.84 L193.68 58.87 L193.73 59.91 L193.77 60.95 L193.83 61.99 L193.88 63.02 L193.95 64.06 L194.01 65.1 L194.09 66.14 L194.16 67.17 L194.25 68.21 L194.33 69.25 L194.42 70.28 L194.52 71.32 L194.61 72.36 L194.71 73.4 L194.81 74.43 L194.92 75.47 L195.02 76.51 L195.12 77.55 L195.22 78.58 L195.32 79.62 L195.41 80.66 L195.5 81.69 L195.59 82.73 L195.66 83.77 L195.73 84.81 L195.8 85.84 L195.85 86.88 L195.89 87.92 L195.92 88.96 L195.94 89.99 L195.95 91.03 L195.95 92.07 L195.93 93.11 L195.89 94.14 L195.83 95.18 L195.75 96.22 L195.65 97.25 L195.55 98.29 L195.42 99.33 L195.3 100.37 L195.16 101.4 L195.02 102.44 L194.88 103.48 L194.74 104.52 L194.6 105.55 L194.47 106.59 L194.35 107.63 L194.23 108.66 L194.12 109.7 L194.02 110.74 L193.93 111.78 L193.85 112.81 L193.77 113.85 L193.71 114.89 L193.65 115.93 L193.6 116.96 L193.48 118 L193.28 118 L193.16 116.96 L193.11 115.93 L193.05 114.89 L192.99 113.85 L192.91 112.81 L192.83 111.78 L192.74 110.74 L192.64 109.7 L192.53 108.66 L192.41 107.63 L192.29 106.59 L192.16 105.55 L192.02 104.52 L191.88 103.48 L191.74 102.44 L191.6 101.4 L191.46 100.37 L191.34 99.33 L191.21 98.29 L191.11 97.25 L191.01 96.22 L190.93 95.18 L190.87 94.14 L190.83 93.11 L190.81 92.07 L190.81 91.03 L190.82 89.99 L190.84 88.96 L190.87 87.92 L190.91 86.88 L190.96 85.84 L191.03 84.81 L191.1 83.77 L191.17 82.73 L191.26 81.69 L191.35 80.66 L191.44 79.62 L191.54 78.58 L191.64 77.55 L191.74 76.51 L191.84 75.47 L191.95 74.43 L192.05 73.4 L192.15 72.36 L192.24 71.32 L192.34 70.28 L192.43 69.25 L192.51 68.21 L192.6 67.17 L192.67 66.14 L192.75 65.1 L192.81 64.06 L192.88 63.02 L192.93 61.99 L192.99 60.95 L193.03 59.91 L193.08 58.87 L193.12 57.84 L193.28 56.8 Z" fill="#d98a27" stroke="#4a4a4a" stroke-width="0.25" stroke-opacity="0.55"/>
<line x1="199.24" y1="64.7" x2="199.24" y2="74.6" stroke="#555" stroke-width="0.5"/>
<path d="M199.34 72.6 L199.51 73.41 L199.56 74.21 L199.61 75.02 L199.68 75.83 L199.75 76.63 L199.83 77.44 L199.92 78.25 L200.01 79.05 L200.11 79.86 L200.22 80.67 L200.33 81.47 L200.45 82.28 L200.58 83.09 L200.7 83.89 L200.83 84.7 L200.95 85.51 L201.07 86.32 L201.19 87.12 L201.3 87.93 L201.41 88.74 L201.5 89.54 L201.58 90.35 L201.65 91.16 L201.7 91.96 L201.74 92.77 L201.76 93.58 L201.76 94.38 L201.75 95.19 L201.73 96 L201.69 96.8 L201.64 97.61 L201.58 98.42 L201.52 99.22 L201.44 100.03 L201.35 100.84 L201.26 101.64 L201.16 102.45 L201.06 103.26 L200.95 104.06 L200.85 104.87 L200.74 105.68 L200.63 106.48 L200.52 107.29 L200.42 108.1 L200.32 108.91 L200.22 109.71 L200.12 110.52 L200.04 111.33 L199.95 112.13 L199.88 112.94 L199.8 113.75 L199.74 114.55 L199.68 115.36 L199.62 116.17 L199.57 116.97 L199.53 117.78 L199.49 118.59 L199.45 119.39 L199.34 120.2 L199.14 120.2 L199.03 119.39 L198.99 118.59 L198.95 117.78 L198.91 116.97 L198.86 116.17 L198.8 115.36 L198.74 114.55 L198.68 113.75 L198.6 112.94 L198.53 112.13 L198.44 111.33 L198.36 110.52 L198.26 109.71 L198.16 108.91 L198.06 108.1 L197.96 107.29 L197.85 106.48 L197.74 105.68 L197.63 104.87 L197.53 104.06 L197.42 103.26 L197.32 102.45 L197.22 101.64 L197.13 100.84 L197.04 100.03 L196.96 99.22 L196.9 98.42 L196.84 97.61 L196.79 96.8 L196.75 96 L196.73 95.19 L196.72 94.38 L196.72 93.58 L196.74 92.77 L196.78 91.96 L196.83 91.16 L196.9 90.35 L196.98 89.54 L197.07 88.74 L197.18 87.93 L197.29 87.12 L197.41 86.32 L197.53 85.51 L197.65 84.7 L197.78 83.89 L197.9 83.09 L198.03 82.28 L198.15 81.47 L198.26 80.67 L198.37 79.86 L198.47 79.05 L198.56 78.25 L198.65 77.44 L198.73 76.63 L198.8 75.83 L198.87 75.02 L198.92 74.21 L198.97 73.41 L199.14 72.6 Z" fill="#cb8f25" stroke="#4a4a4a" stroke-width="0.25" stroke-opacity="0.55"/>
<line x1="205.1" y1="63" x2="205.1" y2="78.1" stroke="#555" stroke-width="0.5"/>
<path d="M205.2 76.1 L205.38 76.84 L205.45 77.58 L205.53 78.33 L205.62 79.07 L205.73 79.81 L205.84 80.55 L205.97 81.3 L206.11 82.04 L206.26 82.78 L206.42 83.52 L206.58 84.27 L206.74 85.01 L206.9 85.75 L207.05 86.49 L207.19 87.24 L207.32 87.98 L207.43 88.72 L207.52 89.46 L207.58 90.21 L207.61 90.95 L207.62 91.69 L207.61 92.43 L207.6 93.17 L207.57 93.92 L207.54 94.66 L207.5 95.4 L207.45 96.14 L207.39 96.89 L207.33 97.63 L207.26 98.37 L207.18 99.11 L207.1 99.86 L207.02 100.6 L206.93 101.34 L206.85 102.08 L206.75 102.83 L206.66 103.57 L206.57 104.31 L206.48 105.05 L206.39 105.79 L206.3 106.54 L206.21 107.28 L206.13 108.02 L206.05 108.76 L205.97 109.51 L205.9 110.25 L205.82 110.99 L205.76 111.73 L205.7 112.48 L205.64 113.22 L205.58 113.96 L205.53 114.7 L205.48 115.45 L205.44 116.19 L205.4 116.93 L205.37 117.67 L205.33 118.42 L205.31 119.16 L205.2 119.9 L205 119.9 L204.89 119.16 L204.87 118.42 L204.83 117.67 L204.8 116.93 L204.76 116.19 L204.72 115.45 L204.67 114.7 L204.62 113.96 L204.56 113.22 L204.5 112.48 L204.44 111.73 L204.38 110.99 L204.3 110.25 L204.23 109.51 L204.15 108.76 L204.07 108.02 L203.99 107.28 L203.9 106.54 L203.81 105.79 L203.72 105.05 L203.63 104.31 L203.54 103.57 L203.45 102.83 L203.35 102.08 L203.27 101.34 L203.18 100.6 L203.1 99.86 L203.02 99.11 L202.94 98.37 L202.87 97.63 L202.81 96.89 L202.75 96.14 L202.7 95.4 L202.66 94.66 L202.63 93.92 L202.6 93.17 L202.59 92.43 L202.58 91.69 L202.59 90.95 L202.62 90.21 L202.68 89.46 L202.77 88.72 L202.88 87.98 L203.01 87.24 L203.15 86.49 L203.3 85.75 L203.46 85.01 L203.62 84.27 L203.78 83.52 L203.94 82.78 L204.09 82.04 L204.23 81.3 L204.36 80.55 L204.47 79.81 L204.58 79.07 L204.67 78.33 L204.75 77.58 L204.82 76.84 L205 76.1 Z" fill="#bc9322" stroke="#4a4a4a" stroke-width="0.25" stroke-opacity="0.55"/>
<line x1="210.96" y1="91.5" x2="210.96" y2="100.8" stroke="#555" stroke-width="0.5"/>
<path d="M211.06 98.8 L211.2 99.19 L211.24 99.57 L211.27 99.96 L211.31 100.35 L211.36 100.73 L211.4 101.12 L211.46 101.51 L211.51 101.89 L211.57 102.28 L211.63 102.66 L211.7 103.05 L211.77 103.44 L211.84 103.82 L211.92 104.21 L212 104.6 L212.08 104.98 L212.17 105.37 L212.25 105.76 L212.34 106.14 L212.43 106.53 L212.52 106.92 L212.6 107.3 L212.69 107.69 L212.77 108.07 L212.85 108.46 L212.93 108.85 L213 109.23 L213.07 109.62 L213.13 110.01 L213.19 110.39 L213.24 110.78 L213.28 111.17 L213.32 111.55 L213.34 111.94 L213.36 112.33 L213.37 112.71 L213.36 113.1 L213.34 113.48 L213.29 113.87 L213.22 114.26 L213.13 114.64 L213.01 115.03 L212.89 115.42 L212.75 115.8 L212.61 116.19 L212.46 116.58 L212.31 116.96 L212.17 117.35 L212.02 117.74 L211.89 118.12 L211.76 118.51 L211.65 118.89 L211.54 119.28 L211.45 119.67 L211.36 120.05 L211.29 120.44 L211.23 120.83 L211.18 121.21 L211.06 121.6 L210.86 121.6 L210.74 121.21 L210.69 120.83 L210.63 120.44 L210.56 120.05 L210.47 119.67 L210.38 119.28 L210.27 118.89 L210.16 118.51 L210.03 118.12 L209.9 117.74 L209.75 117.35 L209.61 116.96 L209.46 116.58 L209.31 116.19 L209.17 115.8 L209.03 115.42 L208.91 115.03 L208.79 114.64 L208.7 114.26 L208.63 113.87 L208.58 113.48 L208.56 113.1 L208.55 112.71 L208.56 112.33 L208.58 111.94 L208.6 111.55 L208.64 111.17 L208.68 110.78 L208.73 110.39 L208.79 110.01 L208.85 109.62 L208.92 109.23 L208.99 108.85 L209.07 108.46 L209.15 108.07 L209.23 107.69 L209.32 107.3 L209.4 106.92 L209.49 106.53 L209.58 106.14 L209.67 105.76 L209.75 105.37 L209.84 104.98 L209.92 104.6 L210 104.21 L210.08 103.82 L210.15 103.44 L210.22 103.05 L210.29 102.66 L210.35 102.28 L210.41 101.89 L210.46 101.51 L210.52 101.12 L210.56 100.73 L210.61 100.35 L210.65 99.96 L210.68 99.57 L210.72 99.19 L210.86 98.8 Z" fill="#a99a28" stroke="#4a4a4a" stroke-width="0.25" stroke-opacity="0.55"/>
<line x1="216.82" y1="84.8" x2="216.82" y2="92.1" stroke="#555" stroke-width="0.5"/>
<path d="M216.92 90.1 L217.09 90.66 L217.15 91.23 L217.22 91.79 L217.31 92.36 L217.4 92.92 L217.51 93.49 L217.62 94.05 L217.75 94.62 L217.89 95.18 L218.03 95.74 L218.18 96.31 L218.33 96.87 L218.48 97.44 L218.62 98 L218.76 98.57 L218.88 99.13 L218.99 99.69 L219.08 100.26 L219.15 100.82 L219.2 101.39 L219.23 101.95 L219.23 102.52 L219.22 103.08 L219.2 103.65 L219.17 104.21 L219.14 104.77 L219.09 105.34 L219.04 105.9 L218.98 106.47 L218.92 107.03 L218.85 107.6 L218.77 108.16 L218.69 108.73 L218.61 109.29 L218.53 109.85 L218.44 110.42 L218.35 110.98 L218.26 111.55 L218.17 112.11 L218.08 112.68 L218 113.24 L217.91 113.81 L217.83 114.37 L217.75 114.93 L217.67 115.5 L217.6 116.06 L217.53 116.63 L217.46 117.19 L217.4 117.76 L217.34 118.32 L217.29 118.88 L217.24 119.45 L217.19 120.01 L217.15 120.58 L217.11 121.14 L217.08 121.71 L217.04 122.27 L217.02 122.84 L216.92 123.4 L216.72 123.4 L216.62 122.84 L216.6 122.27 L216.56 121.71 L216.53 121.14 L216.49 120.58 L216.45 120.01 L216.4 119.45 L216.35 118.88 L216.3 118.32 L216.24 117.76 L216.18 117.19 L216.11 116.63 L216.04 116.06 L215.97 115.5 L215.89 114.93 L215.81 114.37 L215.73 113.81 L215.64 113.24 L215.56 112.68 L215.47 112.11 L215.38 111.55 L215.29 110.98 L215.2 110.42 L215.11 109.85 L215.03 109.29 L214.95 108.73 L214.87 108.16 L214.79 107.6 L214.72 107.03 L214.66 106.47 L214.6 105.9 L214.55 105.34 L214.5 104.77 L214.47 104.21 L214.44 103.65 L214.42 103.08 L214.41 102.52 L214.41 101.95 L214.44 101.39 L214.49 100.82 L214.56 100.26 L214.65 99.69 L214.76 99.13 L214.88 98.57 L215.02 98 L215.16 97.44 L215.31 96.87 L215.46 96.31 L215.61 95.74 L215.75 95.18 L215.89 94.62 L216.02 94.05 L216.13 93.49 L216.24 92.92 L216.33 92.36 L216.42 91.79 L216.49 91.23 L216.55 90.66 L216.72 90.1 Z" fill="#97a12e" stroke="#4a4a4a" stroke-width="0.25" stroke-opacity="0.55"/>
<line x1="222.68" y1="94.5" x2="222.68" y2="104.3" stroke="#555" stroke-width="0.5"/>
<path d="M222.78 102.3 L222.94 102.71 L222.99 103.12 L223.04 103.53 L223.11 103.94 L223.18 104.35 L223.26 104.76 L223.35 105.17 L223.44 105.58 L223.54 105.99 L223.65 106.4 L223.76 106.81 L223.88 107.22 L224 107.63 L224.13 108.04 L224.25 108.45 L224.38 108.86 L224.49 109.27 L224.61 109.68 L224.71 110.09 L224.81 110.5 L224.89 110.91 L224.96 111.32 L225.02 111.73 L225.06 112.14 L225.08 112.55 L225.09 112.96 L225.08 113.37 L225.06 113.78 L225.03 114.19 L224.99 114.61 L224.94 115.02 L224.88 115.43 L224.81 115.84 L224.73 116.25 L224.65 116.66 L224.56 117.07 L224.46 117.48 L224.37 117.89 L224.27 118.3 L224.17 118.71 L224.07 119.12 L223.96 119.53 L223.87 119.94 L223.77 120.35 L223.68 120.76 L223.59 121.17 L223.5 121.58 L223.42 121.99 L223.34 122.4 L223.27 122.81 L223.21 123.22 L223.14 123.63 L223.09 124.04 L223.04 124.45 L222.99 124.86 L222.95 125.27 L222.91 125.68 L222.88 126.09 L222.78 126.5 L222.58 126.5 L222.48 126.09 L222.45 125.68 L222.41 125.27 L222.37 124.86 L222.32 124.45 L222.27 124.04 L222.22 123.63 L222.15 123.22 L222.09 122.81 L222.02 122.4 L221.94 121.99 L221.86 121.58 L221.77 121.17 L221.68 120.76 L221.59 120.35 L221.49 119.94 L221.4 119.53 L221.29 119.12 L221.19 118.71 L221.09 118.3 L220.99 117.89 L220.9 117.48 L220.8 117.07 L220.71 116.66 L220.63 116.25 L220.55 115.84 L220.48 115.43 L220.42 115.02 L220.37 114.61 L220.33 114.19 L220.3 113.78 L220.28 113.37 L220.27 112.96 L220.28 112.55 L220.3 112.14 L220.34 111.73 L220.4 111.32 L220.47 110.91 L220.55 110.5 L220.65 110.09 L220.75 109.68 L220.87 109.27 L220.98 108.86 L221.11 108.45 L221.23 108.04 L221.36 107.63 L221.48 107.22 L221.6 106.81 L221.71 106.4 L221.82 105.99 L221.92 105.58 L222.01 105.17 L222.1 104.76 L222.18 104.35 L222.25 103.94 L222.32 103.53 L222.37 103.12 L222.42 102.71 L222.58 102.3 Z" fill="#84a834" stroke="#4a4a4a" stroke-width="0.25" stroke-opacity="0.55"/>
<line x1="228.54" y1="77.5" x2="228.54" y2="102.6" stroke="#555" stroke-width="0.5"/>
<path d="M228.64 100.6 L228.79 101.05 L228.84 101.49 L228.89 101.94 L228.95 102.38 L229.02 102.83 L229.09 103.27 L229.17 103.72 L229.25 104.17 L229.34 104.61 L229.44 105.06 L229.54 105.5 L229.65 105.95 L229.76 106.39 L229.88 106.84 L229.99 107.29 L230.11 107.73 L230.23 108.18 L230.34 108.62 L230.44 109.07 L230.54 109.52 L230.64 109.96 L230.72 110.41 L230.79 110.85 L230.85 111.3 L230.9 111.74 L230.93 112.19 L230.95 112.64 L230.95 113.08 L230.94 113.53 L230.91 113.97 L230.87 114.42 L230.83 114.86 L230.77 115.31 L230.7 115.76 L230.62 116.2 L230.53 116.65 L230.44 117.09 L230.34 117.54 L230.24 117.98 L230.13 118.43 L230.03 118.88 L229.92 119.32 L229.81 119.77 L229.71 120.21 L229.61 120.66 L229.51 121.11 L229.42 121.55 L229.33 122 L229.24 122.44 L229.17 122.89 L229.09 123.33 L229.03 123.78 L228.97 124.23 L228.91 124.67 L228.86 125.12 L228.82 125.56 L228.78 126.01 L228.74 126.45 L228.64 126.9 L228.44 126.9 L228.34 126.45 L228.3 126.01 L228.26 125.56 L228.22 125.12 L228.17 124.67 L228.11 124.23 L228.05 123.78 L227.99 123.33 L227.91 122.89 L227.84 122.44 L227.75 122 L227.66 121.55 L227.57 121.11 L227.47 120.66 L227.37 120.21 L227.27 119.77 L227.16 119.32 L227.05 118.88 L226.95 118.43 L226.84 117.98 L226.74 117.54 L226.64 117.09 L226.55 116.65 L226.46 116.2 L226.38 115.76 L226.31 115.31 L226.25 114.86 L226.21 114.42 L226.17 113.97 L226.14 113.53 L226.13 113.08 L226.13 112.64 L226.15 112.19 L226.18 111.74 L226.23 111.3 L226.29 110.85 L226.36 110.41 L226.44 109.96 L226.54 109.52 L226.64 109.07 L226.74 108.62 L226.85 108.18 L226.97 107.73 L227.09 107.29 L227.2 106.84 L227.32 106.39 L227.43 105.95 L227.54 105.5 L227.64 105.06 L227.74 104.61 L227.83 104.17 L227.91 103.72 L227.99 103.27 L228.06 102.83 L228.13 102.38 L228.19 101.94 L228.24 101.49 L228.29 101.05 L228.44 100.6 Z" fill="#6ba63d" stroke="#4a4a4a" stroke-width="0.25" stroke-opacity="0.55"/>
<line x1="234.4" y1="90" x2="234.4" y2="104.3" stroke="#555" stroke-width="0.5"/>
<path d="M234.5 102.3 L234.66 102.7 L234.7 103.1 L234.76 103.51 L234.82 103.91 L234.89 104.31 L234.97 104.71 L235.05 105.11 L235.14 105.51 L235.24 105.92 L235.35 106.32 L235.46 106.72 L235.57 107.12 L235.69 107.52 L235.81 107.92 L235.93 108.33 L236.05 108.73 L236.17 109.13 L236.29 109.53 L236.39 109.93 L236.49 110.33 L236.58 110.74 L236.65 111.14 L236.71 111.54 L236.76 111.94 L236.79 112.34 L236.81 112.74 L236.81 113.15 L236.79 113.55 L236.77 113.95 L236.73 114.35 L236.68 114.75 L236.63 115.15 L236.56 115.56 L236.48 115.96 L236.4 116.36 L236.31 116.76 L236.22 117.16 L236.12 117.56 L236.02 117.97 L235.92 118.37 L235.82 118.77 L235.71 119.17 L235.61 119.57 L235.51 119.97 L235.42 120.38 L235.33 120.78 L235.24 121.18 L235.15 121.58 L235.08 121.98 L235 122.38 L234.93 122.79 L234.87 123.19 L234.81 123.59 L234.76 123.99 L234.71 124.39 L234.67 124.79 L234.63 125.2 L234.6 125.6 L234.5 126 L234.3 126 L234.2 125.6 L234.17 125.2 L234.13 124.79 L234.09 124.39 L234.04 123.99 L233.99 123.59 L233.93 123.19 L233.87 122.79 L233.8 122.38 L233.72 121.98 L233.65 121.58 L233.56 121.18 L233.47 120.78 L233.38 120.38 L233.29 119.97 L233.19 119.57 L233.09 119.17 L232.98 118.77 L232.88 118.37 L232.78 117.97 L232.68 117.56 L232.58 117.16 L232.49 116.76 L232.4 116.36 L232.32 115.96 L232.24 115.56 L232.17 115.15 L232.12 114.75 L232.07 114.35 L232.03 113.95 L232.01 113.55 L231.99 113.15 L231.99 112.74 L232.01 112.34 L232.04 111.94 L232.09 111.54 L232.15 111.14 L232.22 110.74 L232.31 110.33 L232.41 109.93 L232.51 109.53 L232.63 109.13 L232.75 108.73 L232.87 108.33 L232.99 107.92 L233.11 107.52 L233.23 107.12 L233.34 106.72 L233.45 106.32 L233.56 105.92 L233.66 105.51 L233.75 105.11 L233.83 104.71 L233.91 104.31 L233.98 103.91 L234.04 103.51 L234.1 103.1 L234.14 102.7 L234.3 102.3 Z" fill="#53a445" stroke="#4a4a4a" stroke-width="0.25" stroke-opacity="0.55"/>
<line x1="240.26" y1="95.7" x2="240.26" y2="107.8" stroke="#555" stroke-width="0.5"/>
<path d="M240.36 105.8 L240.51 106.15 L240.56 106.5 L240.61 106.85 L240.67 107.2 L240.73 107.55 L240.81 107.91 L240.88 108.26 L240.97 108.61 L241.06 108.96 L241.16 109.31 L241.26 109.66 L241.37 110.01 L241.48 110.36 L241.6 110.71 L241.71 111.06 L241.83 111.41 L241.94 111.76 L242.05 112.12 L242.16 112.47 L242.26 112.82 L242.35 113.17 L242.44 113.52 L242.51 113.87 L242.57 114.22 L242.62 114.57 L242.65 114.92 L242.66 115.27 L242.67 115.62 L242.66 115.97 L242.63 116.33 L242.6 116.68 L242.55 117.03 L242.49 117.38 L242.42 117.73 L242.34 118.08 L242.26 118.43 L242.16 118.78 L242.06 119.13 L241.96 119.48 L241.86 119.83 L241.75 120.18 L241.64 120.54 L241.54 120.89 L241.43 121.24 L241.33 121.59 L241.23 121.94 L241.14 122.29 L241.05 122.64 L240.97 122.99 L240.89 123.34 L240.82 123.69 L240.75 124.04 L240.69 124.39 L240.63 124.75 L240.58 125.1 L240.54 125.45 L240.5 125.8 L240.46 126.15 L240.36 126.5 L240.16 126.5 L240.06 126.15 L240.02 125.8 L239.98 125.45 L239.94 125.1 L239.89 124.75 L239.83 124.39 L239.77 124.04 L239.7 123.69 L239.63 123.34 L239.55 122.99 L239.47 122.64 L239.38 122.29 L239.29 121.94 L239.19 121.59 L239.09 121.24 L238.98 120.89 L238.88 120.54 L238.77 120.18 L238.66 119.83 L238.56 119.48 L238.46 119.13 L238.36 118.78 L238.26 118.43 L238.18 118.08 L238.1 117.73 L238.03 117.38 L237.97 117.03 L237.92 116.68 L237.89 116.33 L237.86 115.97 L237.85 115.62 L237.86 115.27 L237.87 114.92 L237.9 114.57 L237.95 114.22 L238.01 113.87 L238.08 113.52 L238.17 113.17 L238.26 112.82 L238.36 112.47 L238.47 112.12 L238.58 111.76 L238.69 111.41 L238.81 111.06 L238.92 110.71 L239.04 110.36 L239.15 110.01 L239.26 109.66 L239.36 109.31 L239.46 108.96 L239.55 108.61 L239.64 108.26 L239.71 107.91 L239.79 107.55 L239.85 107.2 L239.91 106.85 L239.96 106.5 L240.01 106.15 L240.16 105.8 Z" fill="#3aa24e" stroke="#4a4a4a" stroke-width="0.25" stroke-opacity="0.55"/>
<line x1="246.12" y1="97" x2="246.12" y2="104.3" stroke="#555" stroke-width="0.5"/>
<path d="M246.22 102.3 L246.37 102.68 L246.42 103.07 L246.47 103.45 L246.53 103.84 L246.6 104.22 L246.67 104.61 L246.75 104.99 L246.83 105.38 L246.92 105.76 L247.02 106.15 L247.13 106.53 L247.23 106.92 L247.35 107.3 L247.46 107.69 L247.58 108.07 L247.69 108.46 L247.81 108.84 L247.92 109.23 L248.03 109.61 L248.13 109.99 L248.22 110.38 L248.3 110.76 L248.37 111.15 L248.43 111.53 L248.48 111.92 L248.51 112.3 L248.53 112.69 L248.53 113.07 L248.51 113.46 L248.49 113.84 L248.45 114.23 L248.4 114.61 L248.34 115 L248.27 115.38 L248.2 115.77 L248.11 116.15 L248.02 116.54 L247.92 116.92 L247.82 117.31 L247.71 117.69 L247.6 118.07 L247.5 118.46 L247.39 118.84 L247.29 119.23 L247.19 119.61 L247.09 120 L247 120.38 L246.91 120.77 L246.82 121.15 L246.75 121.54 L246.67 121.92 L246.61 122.31 L246.55 122.69 L246.49 123.08 L246.44 123.46 L246.4 123.85 L246.36 124.23 L246.32 124.62 L246.22 125 L246.02 125 L245.92 124.62 L245.88 124.23 L245.84 123.85 L245.8 123.46 L245.75 123.08 L245.69 122.69 L245.63 122.31 L245.57 121.92 L245.49 121.54 L245.42 121.15 L245.33 120.77 L245.24 120.38 L245.15 120 L245.05 119.61 L244.95 119.23 L244.85 118.84 L244.74 118.46 L244.64 118.07 L244.53 117.69 L244.42 117.31 L244.32 116.92 L244.22 116.54 L244.13 116.15 L244.04 115.77 L243.97 115.38 L243.9 115 L243.84 114.61 L243.79 114.23 L243.75 113.84 L243.73 113.46 L243.71 113.07 L243.71 112.69 L243.73 112.3 L243.76 111.92 L243.81 111.53 L243.87 111.15 L243.94 110.76 L244.02 110.38 L244.11 109.99 L244.21 109.61 L244.32 109.23 L244.43 108.84 L244.55 108.46 L244.66 108.07 L244.78 107.69 L244.89 107.3 L245.01 106.92 L245.11 106.53 L245.22 106.15 L245.32 105.76 L245.41 105.38 L245.49 104.99 L245.57 104.61 L245.64 104.22 L245.71 103.84 L245.77 103.45 L245.82 103.07 L245.87 102.68 L246.02 102.3 Z" fill="#34a258" stroke="#4a4a4a" stroke-width="0.25" stroke-opacity="0.55"/>
<line x1="251.98" y1="84.8" x2="251.98" y2="97.3" stroke="#555" stroke-width="0.5"/>
<path d="M252.08 95.3 L252.24 95.78 L252.29 96.25 L252.35 96.73 L252.41 97.21 L252.48 97.68 L252.56 98.16 L252.65 98.63 L252.75 99.11 L252.85 99.59 L252.96 100.06 L253.08 100.54 L253.2 101.02 L253.32 101.49 L253.44 101.97 L253.57 102.44 L253.69 102.92 L253.81 103.4 L253.92 103.87 L254.03 104.35 L254.12 104.83 L254.21 105.3 L254.27 105.78 L254.33 106.25 L254.36 106.73 L254.38 107.21 L254.39 107.68 L254.38 108.16 L254.36 108.64 L254.32 109.11 L254.28 109.59 L254.23 110.06 L254.17 110.54 L254.1 111.02 L254.02 111.49 L253.93 111.97 L253.84 112.45 L253.75 112.92 L253.65 113.4 L253.55 113.87 L253.45 114.35 L253.35 114.83 L253.25 115.3 L253.16 115.78 L253.06 116.26 L252.97 116.73 L252.88 117.21 L252.79 117.68 L252.71 118.16 L252.64 118.64 L252.57 119.11 L252.5 119.59 L252.44 120.07 L252.39 120.54 L252.34 121.02 L252.29 121.49 L252.25 121.97 L252.21 122.45 L252.18 122.92 L252.08 123.4 L251.88 123.4 L251.78 122.92 L251.75 122.45 L251.71 121.97 L251.67 121.49 L251.62 121.02 L251.57 120.54 L251.52 120.07 L251.46 119.59 L251.39 119.11 L251.32 118.64 L251.25 118.16 L251.17 117.68 L251.08 117.21 L250.99 116.73 L250.9 116.26 L250.8 115.78 L250.71 115.3 L250.61 114.83 L250.51 114.35 L250.41 113.87 L250.31 113.4 L250.21 112.92 L250.12 112.45 L250.03 111.97 L249.94 111.49 L249.86 111.02 L249.79 110.54 L249.73 110.06 L249.68 109.59 L249.64 109.11 L249.6 108.64 L249.58 108.16 L249.57 107.68 L249.58 107.21 L249.6 106.73 L249.63 106.25 L249.69 105.78 L249.75 105.3 L249.84 104.83 L249.93 104.35 L250.04 103.87 L250.15 103.4 L250.27 102.92 L250.39 102.44 L250.52 101.97 L250.64 101.49 L250.76 101.02 L250.88 100.54 L251 100.06 L251.11 99.59 L251.21 99.11 L251.31 98.63 L251.4 98.16 L251.48 97.68 L251.55 97.21 L251.61 96.73 L251.67 96.25 L251.72 95.78 L251.88 95.3 Z" fill="#2ea361" stroke="#4a4a4a" stroke-width="0.25" stroke-opacity="0.55"/>
<line x1="257.84" y1="91.8" x2="257.84" y2="106.1" stroke="#555" stroke-width="0.5"/>
<path d="M257.94 104.1 L258.09 104.44 L258.12 104.78 L258.16 105.12 L258.21 105.46 L258.26 105.8 L258.31 106.14 L258.37 106.48 L258.43 106.83 L258.5 107.17 L258.57 107.51 L258.65 107.85 L258.73 108.19 L258.81 108.53 L258.9 108.87 L258.99 109.21 L259.09 109.55 L259.18 109.89 L259.28 110.23 L259.37 110.57 L259.47 110.91 L259.56 111.25 L259.65 111.59 L259.74 111.94 L259.82 112.28 L259.9 112.62 L259.97 112.96 L260.04 113.3 L260.1 113.64 L260.15 113.98 L260.19 114.32 L260.22 114.66 L260.24 115 L260.25 115.34 L260.25 115.68 L260.23 116.02 L260.19 116.36 L260.13 116.71 L260.06 117.05 L259.97 117.39 L259.86 117.73 L259.75 118.07 L259.63 118.41 L259.51 118.75 L259.37 119.09 L259.24 119.43 L259.11 119.77 L258.99 120.11 L258.86 120.45 L258.74 120.79 L258.63 121.13 L258.53 121.47 L258.44 121.82 L258.35 122.16 L258.28 122.5 L258.21 122.84 L258.15 123.18 L258.09 123.52 L258.05 123.86 L257.94 124.2 L257.74 124.2 L257.63 123.86 L257.59 123.52 L257.53 123.18 L257.47 122.84 L257.4 122.5 L257.33 122.16 L257.24 121.82 L257.15 121.47 L257.05 121.13 L256.94 120.79 L256.82 120.45 L256.69 120.11 L256.57 119.77 L256.44 119.43 L256.31 119.09 L256.17 118.75 L256.05 118.41 L255.93 118.07 L255.82 117.73 L255.71 117.39 L255.62 117.05 L255.55 116.71 L255.49 116.36 L255.45 116.02 L255.43 115.68 L255.43 115.34 L255.44 115 L255.46 114.66 L255.49 114.32 L255.53 113.98 L255.58 113.64 L255.64 113.3 L255.71 112.96 L255.78 112.62 L255.86 112.28 L255.94 111.94 L256.03 111.59 L256.12 111.25 L256.21 110.91 L256.31 110.57 L256.4 110.23 L256.5 109.89 L256.59 109.55 L256.69 109.21 L256.78 108.87 L256.87 108.53 L256.95 108.19 L257.03 107.85 L257.11 107.51 L257.18 107.17 L257.25 106.83 L257.31 106.48 L257.37 106.14 L257.42 105.8 L257.47 105.46 L257.52 105.12 L257.56 104.78 L257.59 104.44 L257.74 104.1 Z" fill="#29a46a" stroke="#4a4a4a" stroke-width="0.25" stroke-opacity="0.55"/>
<line x1="263.7" y1="73.4" x2="263.7" y2="95.6" stroke="#555" stroke-width="0.5"/>
<path d="M263.8 93.6 L263.95 94.07 L263.99 94.55 L264.04 95.02 L264.1 95.5 L264.16 95.97 L264.22 96.45 L264.29 96.92 L264.37 97.4 L264.45 97.87 L264.54 98.35 L264.64 98.82 L264.74 99.29 L264.84 99.77 L264.95 100.24 L265.05 100.72 L265.16 101.19 L265.27 101.67 L265.38 102.14 L265.49 102.62 L265.59 103.09 L265.68 103.57 L265.77 104.04 L265.85 104.52 L265.93 104.99 L265.99 105.46 L266.04 105.94 L266.07 106.41 L266.1 106.89 L266.11 107.36 L266.1 107.84 L266.09 108.31 L266.06 108.79 L266.01 109.26 L265.95 109.74 L265.88 110.21 L265.8 110.68 L265.72 111.16 L265.62 111.63 L265.52 112.11 L265.41 112.58 L265.3 113.06 L265.18 113.53 L265.07 114.01 L264.96 114.48 L264.85 114.96 L264.74 115.43 L264.64 115.91 L264.54 116.38 L264.45 116.85 L264.37 117.33 L264.29 117.8 L264.21 118.28 L264.15 118.75 L264.09 119.23 L264.03 119.7 L263.98 120.18 L263.94 120.65 L263.9 121.13 L263.8 121.6 L263.6 121.6 L263.5 121.13 L263.46 120.65 L263.42 120.18 L263.37 119.7 L263.31 119.23 L263.25 118.75 L263.19 118.28 L263.11 117.8 L263.03 117.33 L262.95 116.85 L262.86 116.38 L262.76 115.91 L262.66 115.43 L262.55 114.96 L262.44 114.48 L262.33 114.01 L262.22 113.53 L262.1 113.06 L261.99 112.58 L261.88 112.11 L261.78 111.63 L261.68 111.16 L261.6 110.68 L261.52 110.21 L261.45 109.74 L261.39 109.26 L261.34 108.79 L261.31 108.31 L261.3 107.84 L261.29 107.36 L261.3 106.89 L261.33 106.41 L261.36 105.94 L261.41 105.46 L261.47 104.99 L261.55 104.52 L261.63 104.04 L261.72 103.57 L261.81 103.09 L261.91 102.62 L262.02 102.14 L262.13 101.67 L262.24 101.19 L262.35 100.72 L262.45 100.24 L262.56 99.77 L262.66 99.29 L262.76 98.82 L262.86 98.35 L262.95 97.87 L263.03 97.4 L263.11 96.92 L263.18 96.45 L263.24 95.97 L263.3 95.5 L263.36 95.02 L263.41 94.55 L263.45 94.07 L263.6 93.6 Z" fill="#23a474" stroke="#4a4a4a" stroke-width="0.25" stroke-opacity="0.55"/>
<line x1="269.56" y1="67.6" x2="269.56" y2="92.1" stroke="#555" stroke-width="0.5"/>
<path d="M269.66 90.1 L269.82 90.69 L269.86 91.28 L269.91 91.86 L269.96 92.45 L270.02 93.04 L270.09 93.63 L270.16 94.22 L270.24 94.81 L270.32 95.39 L270.41 95.98 L270.51 96.57 L270.61 97.16 L270.71 97.75 L270.82 98.33 L270.93 98.92 L271.04 99.51 L271.15 100.1 L271.26 100.69 L271.37 101.27 L271.47 101.86 L271.57 102.45 L271.66 103.04 L271.75 103.63 L271.82 104.22 L271.88 104.8 L271.94 105.39 L271.98 105.98 L272.01 106.57 L272.02 107.16 L272.02 107.74 L272.01 108.33 L271.98 108.92 L271.94 109.51 L271.88 110.1 L271.81 110.68 L271.73 111.27 L271.64 111.86 L271.54 112.45 L271.44 113.04 L271.33 113.63 L271.21 114.21 L271.1 114.8 L270.98 115.39 L270.87 115.98 L270.75 116.57 L270.64 117.15 L270.53 117.74 L270.43 118.33 L270.34 118.92 L270.25 119.51 L270.17 120.09 L270.09 120.68 L270.02 121.27 L269.96 121.86 L269.9 122.45 L269.85 123.04 L269.81 123.62 L269.77 124.21 L269.66 124.8 L269.46 124.8 L269.35 124.21 L269.31 123.62 L269.27 123.04 L269.22 122.45 L269.16 121.86 L269.1 121.27 L269.03 120.68 L268.95 120.09 L268.87 119.51 L268.78 118.92 L268.69 118.33 L268.59 117.74 L268.48 117.15 L268.37 116.57 L268.25 115.98 L268.14 115.39 L268.02 114.8 L267.91 114.21 L267.79 113.63 L267.68 113.04 L267.58 112.45 L267.48 111.86 L267.39 111.27 L267.31 110.68 L267.24 110.1 L267.18 109.51 L267.14 108.92 L267.11 108.33 L267.1 107.74 L267.1 107.16 L267.11 106.57 L267.14 105.98 L267.18 105.39 L267.24 104.8 L267.3 104.22 L267.37 103.63 L267.46 103.04 L267.55 102.45 L267.65 101.86 L267.75 101.27 L267.86 100.69 L267.97 100.1 L268.08 99.51 L268.19 98.92 L268.3 98.33 L268.41 97.75 L268.51 97.16 L268.61 96.57 L268.71 95.98 L268.8 95.39 L268.88 94.81 L268.96 94.22 L269.03 93.63 L269.1 93.04 L269.16 92.45 L269.21 91.86 L269.26 91.28 L269.3 90.69 L269.46 90.1 Z" fill="#20a486" stroke="#4a4a4a" stroke-width="0.25" stroke-opacity="0.55"/>
<line x1="275.42" y1="87.4" x2="275.42" y2="100.8" stroke="#555" stroke-width="0.5"/>
<path d="M275.52 98.8 L275.68 99.29 L275.72 99.78 L275.77 100.27 L275.83 100.76 L275.89 101.25 L275.96 101.74 L276.04 102.23 L276.12 102.72 L276.21 103.21 L276.3 103.7 L276.4 104.19 L276.5 104.68 L276.61 105.17 L276.72 105.66 L276.83 106.15 L276.95 106.64 L277.06 107.13 L277.17 107.62 L277.28 108.11 L277.39 108.6 L277.48 109.09 L277.57 109.58 L277.65 110.07 L277.72 110.56 L277.78 111.05 L277.83 111.54 L277.86 112.03 L277.88 112.52 L277.88 113.01 L277.87 113.49 L277.85 113.98 L277.81 114.47 L277.76 114.96 L277.7 115.45 L277.62 115.94 L277.54 116.43 L277.45 116.92 L277.35 117.41 L277.24 117.9 L277.13 118.39 L277.02 118.88 L276.91 119.37 L276.79 119.86 L276.68 120.35 L276.57 120.84 L276.46 121.33 L276.36 121.82 L276.27 122.31 L276.17 122.8 L276.09 123.29 L276.01 123.78 L275.94 124.27 L275.87 124.76 L275.81 125.25 L275.76 125.74 L275.71 126.23 L275.67 126.72 L275.63 127.21 L275.52 127.7 L275.32 127.7 L275.21 127.21 L275.17 126.72 L275.13 126.23 L275.08 125.74 L275.03 125.25 L274.97 124.76 L274.9 124.27 L274.83 123.78 L274.75 123.29 L274.67 122.8 L274.57 122.31 L274.48 121.82 L274.38 121.33 L274.27 120.84 L274.16 120.35 L274.05 119.86 L273.93 119.37 L273.82 118.88 L273.71 118.39 L273.6 117.9 L273.49 117.41 L273.39 116.92 L273.3 116.43 L273.22 115.94 L273.14 115.45 L273.08 114.96 L273.03 114.47 L272.99 113.98 L272.97 113.49 L272.96 113.01 L272.96 112.52 L272.98 112.03 L273.01 111.54 L273.06 111.05 L273.12 110.56 L273.19 110.07 L273.27 109.58 L273.36 109.09 L273.45 108.6 L273.56 108.11 L273.67 107.62 L273.78 107.13 L273.89 106.64 L274.01 106.15 L274.12 105.66 L274.23 105.17 L274.34 104.68 L274.44 104.19 L274.54 103.7 L274.63 103.21 L274.72 102.72 L274.8 102.23 L274.88 101.74 L274.95 101.25 L275.01 100.76 L275.07 100.27 L275.12 99.78 L275.16 99.29 L275.32 98.8 Z" fill="#1da498" stroke="#4a4a4a" stroke-width="0.25" stroke-opacity="0.55"/>
<line x1="281.28" y1="66.4" x2="281.28" y2="97.3" stroke="#555" stroke-width="0.5"/>
<path d="M281.38 95.3 L281.55 95.88 L281.6 96.46 L281.67 97.04 L281.74 97.62 L281.82 98.2 L281.91 98.78 L282.01 99.36 L282.11 99.94 L282.23 100.52 L282.35 101.1 L282.48 101.68 L282.62 102.26 L282.75 102.84 L282.89 103.42 L283.02 103.99 L283.15 104.57 L283.27 105.15 L283.39 105.73 L283.49 106.31 L283.57 106.89 L283.64 107.47 L283.7 108.05 L283.73 108.63 L283.74 109.21 L283.74 109.79 L283.73 110.37 L283.7 110.95 L283.67 111.53 L283.62 112.11 L283.57 112.69 L283.5 113.27 L283.43 113.85 L283.36 114.43 L283.27 115.01 L283.19 115.59 L283.09 116.17 L283 116.75 L282.9 117.33 L282.8 117.91 L282.71 118.49 L282.61 119.07 L282.51 119.65 L282.42 120.23 L282.32 120.81 L282.24 121.38 L282.15 121.96 L282.07 122.54 L281.99 123.12 L281.92 123.7 L281.85 124.28 L281.79 124.86 L281.74 125.44 L281.68 126.02 L281.63 126.6 L281.59 127.18 L281.55 127.76 L281.51 128.34 L281.48 128.92 L281.38 129.5 L281.18 129.5 L281.08 128.92 L281.05 128.34 L281.01 127.76 L280.97 127.18 L280.93 126.6 L280.88 126.02 L280.82 125.44 L280.77 124.86 L280.71 124.28 L280.64 123.7 L280.57 123.12 L280.49 122.54 L280.41 121.96 L280.32 121.38 L280.24 120.81 L280.14 120.23 L280.05 119.65 L279.95 119.07 L279.85 118.49 L279.76 117.91 L279.66 117.33 L279.56 116.75 L279.47 116.17 L279.37 115.59 L279.29 115.01 L279.2 114.43 L279.13 113.85 L279.06 113.27 L278.99 112.69 L278.94 112.11 L278.89 111.53 L278.86 110.95 L278.83 110.37 L278.82 109.79 L278.82 109.21 L278.83 108.63 L278.86 108.05 L278.92 107.47 L278.99 106.89 L279.07 106.31 L279.17 105.73 L279.29 105.15 L279.41 104.57 L279.54 103.99 L279.67 103.42 L279.81 102.84 L279.94 102.26 L280.08 101.68 L280.21 101.1 L280.33 100.52 L280.45 99.94 L280.55 99.36 L280.65 98.78 L280.74 98.2 L280.82 97.62 L280.89 97.04 L280.96 96.46 L281.01 95.88 L281.18 95.3 Z" fill="#1aa4aa" stroke="#4a4a4a" stroke-width="0.25" stroke-opacity="0.55"/>
<line x1="287.14" y1="63.8" x2="287.14" y2="88.6" stroke="#555" stroke-width="0.5"/>
<path d="M287.24 86.6 L287.43 87.25 L287.49 87.89 L287.57 88.54 L287.66 89.19 L287.76 89.84 L287.87 90.48 L287.99 91.13 L288.13 91.78 L288.27 92.43 L288.42 93.07 L288.58 93.72 L288.74 94.37 L288.89 95.02 L289.05 95.66 L289.19 96.31 L289.33 96.96 L289.45 97.61 L289.55 98.25 L289.63 98.9 L289.68 99.55 L289.71 100.2 L289.72 100.84 L289.71 101.49 L289.69 102.14 L289.66 102.79 L289.62 103.43 L289.58 104.08 L289.53 104.73 L289.46 105.38 L289.4 106.02 L289.32 106.67 L289.24 107.32 L289.16 107.97 L289.07 108.61 L288.98 109.26 L288.88 109.91 L288.79 110.56 L288.69 111.2 L288.59 111.85 L288.5 112.5 L288.41 113.15 L288.31 113.79 L288.22 114.44 L288.14 115.09 L288.06 115.74 L287.98 116.38 L287.9 117.03 L287.83 117.68 L287.76 118.33 L287.7 118.97 L287.64 119.62 L287.59 120.27 L287.54 120.92 L287.49 121.56 L287.45 122.21 L287.41 122.86 L287.38 123.51 L287.35 124.15 L287.24 124.8 L287.04 124.8 L286.93 124.15 L286.9 123.51 L286.87 122.86 L286.83 122.21 L286.79 121.56 L286.74 120.92 L286.69 120.27 L286.64 119.62 L286.58 118.97 L286.52 118.33 L286.45 117.68 L286.38 117.03 L286.3 116.38 L286.22 115.74 L286.14 115.09 L286.06 114.44 L285.97 113.79 L285.87 113.15 L285.78 112.5 L285.69 111.85 L285.59 111.2 L285.49 110.56 L285.4 109.91 L285.3 109.26 L285.21 108.61 L285.12 107.97 L285.04 107.32 L284.96 106.67 L284.88 106.02 L284.82 105.38 L284.75 104.73 L284.7 104.08 L284.66 103.43 L284.62 102.79 L284.59 102.14 L284.57 101.49 L284.56 100.84 L284.57 100.2 L284.6 99.55 L284.65 98.9 L284.73 98.25 L284.83 97.61 L284.95 96.96 L285.09 96.31 L285.23 95.66 L285.39 95.02 L285.54 94.37 L285.7 93.72 L285.86 93.07 L286.01 92.43 L286.15 91.78 L286.29 91.13 L286.41 90.48 L286.52 89.84 L286.62 89.19 L286.71 88.54 L286.79 87.89 L286.85 87.25 L287.04 86.6 Z" fill="#19a5c3" stroke="#4a4a4a" stroke-width="0.25" stroke-opacity="0.55"/>
<line x1="293" y1="77" x2="293" y2="100.8" stroke="#555" stroke-width="0.5"/>
<path d="M293.1 98.8 L293.27 99.31 L293.32 99.81 L293.37 100.32 L293.44 100.82 L293.5 101.33 L293.58 101.83 L293.66 102.34 L293.75 102.84 L293.85 103.35 L293.95 103.85 L294.06 104.36 L294.17 104.86 L294.29 105.37 L294.41 105.87 L294.53 106.38 L294.66 106.88 L294.78 107.39 L294.9 107.89 L295.01 108.4 L295.12 108.9 L295.22 109.41 L295.31 109.91 L295.39 110.42 L295.46 110.92 L295.51 111.43 L295.55 111.93 L295.57 112.44 L295.58 112.94 L295.57 113.45 L295.55 113.95 L295.51 114.46 L295.46 114.96 L295.4 115.47 L295.33 115.97 L295.25 116.48 L295.15 116.98 L295.06 117.49 L294.95 117.99 L294.84 118.5 L294.73 119 L294.61 119.51 L294.5 120.01 L294.38 120.52 L294.27 121.02 L294.16 121.53 L294.05 122.03 L293.95 122.54 L293.85 123.04 L293.76 123.55 L293.68 124.05 L293.6 124.56 L293.53 125.06 L293.46 125.57 L293.4 126.07 L293.35 126.58 L293.3 127.08 L293.25 127.59 L293.22 128.09 L293.1 128.6 L292.9 128.6 L292.78 128.09 L292.75 127.59 L292.7 127.08 L292.65 126.58 L292.6 126.07 L292.54 125.57 L292.47 125.06 L292.4 124.56 L292.32 124.05 L292.24 123.55 L292.15 123.04 L292.05 122.54 L291.95 122.03 L291.84 121.53 L291.73 121.02 L291.62 120.52 L291.5 120.01 L291.39 119.51 L291.27 119 L291.16 118.5 L291.05 117.99 L290.94 117.49 L290.85 116.98 L290.75 116.48 L290.67 115.97 L290.6 115.47 L290.54 114.96 L290.49 114.46 L290.45 113.95 L290.43 113.45 L290.42 112.94 L290.43 112.44 L290.45 111.93 L290.49 111.43 L290.54 110.92 L290.61 110.42 L290.69 109.91 L290.78 109.41 L290.88 108.9 L290.99 108.4 L291.1 107.89 L291.22 107.39 L291.34 106.88 L291.47 106.38 L291.59 105.87 L291.71 105.37 L291.83 104.86 L291.94 104.36 L292.05 103.85 L292.15 103.35 L292.25 102.84 L292.34 102.34 L292.42 101.83 L292.5 101.33 L292.56 100.82 L292.63 100.32 L292.68 99.81 L292.73 99.31 L292.9 98.8 Z" fill="#18a6dc" stroke="#4a4a4a" stroke-width="0.25" stroke-opacity="0.55"/>
<line x1="298.86" y1="58.9" x2="298.86" y2="92.1" stroke="#555" stroke-width="0.5"/>
<path d="M298.96 90.1 L299.14 90.63 L299.2 91.16 L299.27 91.69 L299.35 92.22 L299.44 92.74 L299.54 93.27 L299.66 93.8 L299.78 94.33 L299.91 94.86 L300.04 95.39 L300.19 95.92 L300.34 96.45 L300.48 96.97 L300.63 97.5 L300.78 98.03 L300.91 98.56 L301.04 99.09 L301.15 99.62 L301.25 100.15 L301.33 100.68 L301.39 101.21 L301.42 101.73 L301.44 102.26 L301.43 102.79 L301.42 103.32 L301.39 103.85 L301.36 104.38 L301.31 104.91 L301.26 105.44 L301.19 105.96 L301.12 106.49 L301.05 107.02 L300.96 107.55 L300.88 108.08 L300.78 108.61 L300.69 109.14 L300.59 109.67 L300.49 110.19 L300.39 110.72 L300.29 111.25 L300.19 111.78 L300.1 112.31 L300 112.84 L299.91 113.37 L299.82 113.9 L299.74 114.43 L299.66 114.95 L299.58 115.48 L299.51 116.01 L299.44 116.54 L299.38 117.07 L299.32 117.6 L299.27 118.13 L299.22 118.66 L299.18 119.18 L299.14 119.71 L299.1 120.24 L299.07 120.77 L298.96 121.3 L298.76 121.3 L298.65 120.77 L298.62 120.24 L298.58 119.71 L298.54 119.18 L298.5 118.66 L298.45 118.13 L298.4 117.6 L298.34 117.07 L298.28 116.54 L298.21 116.01 L298.14 115.48 L298.06 114.95 L297.98 114.43 L297.9 113.9 L297.81 113.37 L297.72 112.84 L297.62 112.31 L297.53 111.78 L297.43 111.25 L297.33 110.72 L297.23 110.19 L297.13 109.67 L297.03 109.14 L296.94 108.61 L296.84 108.08 L296.76 107.55 L296.67 107.02 L296.6 106.49 L296.53 105.96 L296.46 105.44 L296.41 104.91 L296.36 104.38 L296.33 103.85 L296.3 103.32 L296.29 102.79 L296.28 102.26 L296.3 101.73 L296.33 101.21 L296.39 100.68 L296.47 100.15 L296.57 99.62 L296.68 99.09 L296.81 98.56 L296.94 98.03 L297.09 97.5 L297.24 96.97 L297.38 96.45 L297.53 95.92 L297.68 95.39 L297.81 94.86 L297.94 94.33 L298.06 93.8 L298.18 93.27 L298.28 92.74 L298.37 92.22 L298.45 91.69 L298.52 91.16 L298.58 90.63 L298.76 90.1 Z" fill="#2a9ad8" stroke="#4a4a4a" stroke-width="0.25" stroke-opacity="0.55"/>
<line x1="304.72" y1="86.2" x2="304.72" y2="95.6" stroke="#555" stroke-width="0.5"/>
<path d="M304.82 93.6 L304.99 94.02 L305.06 94.43 L305.14 94.85 L305.23 95.26 L305.33 95.68 L305.44 96.09 L305.56 96.51 L305.7 96.92 L305.84 97.34 L305.99 97.75 L306.15 98.17 L306.3 98.58 L306.46 99 L306.61 99.41 L306.75 99.83 L306.87 100.24 L306.98 100.66 L307.07 101.07 L307.13 101.49 L307.17 101.91 L307.18 102.32 L307.18 102.74 L307.17 103.15 L307.14 103.57 L307.11 103.98 L307.07 104.4 L307.02 104.81 L306.97 105.23 L306.91 105.64 L306.84 106.06 L306.77 106.47 L306.69 106.89 L306.61 107.3 L306.53 107.72 L306.44 108.13 L306.35 108.55 L306.26 108.96 L306.17 109.38 L306.08 109.79 L305.99 110.21 L305.9 110.63 L305.82 111.04 L305.73 111.46 L305.65 111.87 L305.58 112.29 L305.5 112.7 L305.43 113.12 L305.37 113.53 L305.31 113.95 L305.25 114.36 L305.19 114.78 L305.14 115.19 L305.1 115.61 L305.05 116.02 L305.02 116.44 L304.98 116.85 L304.95 117.27 L304.92 117.68 L304.82 118.1 L304.62 118.1 L304.52 117.68 L304.49 117.27 L304.46 116.85 L304.42 116.44 L304.39 116.02 L304.34 115.61 L304.3 115.19 L304.25 114.78 L304.19 114.36 L304.13 113.95 L304.07 113.53 L304.01 113.12 L303.94 112.7 L303.86 112.29 L303.79 111.87 L303.71 111.46 L303.62 111.04 L303.54 110.63 L303.45 110.21 L303.36 109.79 L303.27 109.38 L303.18 108.96 L303.09 108.55 L303 108.13 L302.91 107.72 L302.83 107.3 L302.75 106.89 L302.67 106.47 L302.6 106.06 L302.53 105.64 L302.47 105.23 L302.42 104.81 L302.37 104.4 L302.33 103.98 L302.3 103.57 L302.27 103.15 L302.26 102.74 L302.26 102.32 L302.27 101.91 L302.31 101.49 L302.37 101.07 L302.46 100.66 L302.57 100.24 L302.69 99.83 L302.83 99.41 L302.98 99 L303.14 98.58 L303.29 98.17 L303.45 97.75 L303.6 97.34 L303.74 96.92 L303.88 96.51 L304 96.09 L304.11 95.68 L304.21 95.26 L304.3 94.85 L304.38 94.43 L304.45 94.02 L304.62 93.6 Z" fill="#3d8fd4" stroke="#4a4a4a" stroke-width="0.25" stroke-opacity="0.55"/>
<line x1="310.58" y1="92.2" x2="310.58" y2="99.1" stroke="#555" stroke-width="0.5"/>
<path d="M310.68 97.1 L310.84 97.43 L310.89 97.75 L310.95 98.08 L311.01 98.41 L311.08 98.74 L311.16 99.06 L311.24 99.39 L311.33 99.72 L311.43 100.04 L311.54 100.37 L311.65 100.7 L311.77 101.03 L311.89 101.35 L312.01 101.68 L312.14 102.01 L312.26 102.33 L312.38 102.66 L312.49 102.99 L312.6 103.32 L312.7 103.64 L312.79 103.97 L312.87 104.3 L312.94 104.62 L312.99 104.95 L313.02 105.28 L313.04 105.61 L313.04 105.93 L313.03 106.26 L313.01 106.59 L312.97 106.91 L312.93 107.24 L312.87 107.57 L312.8 107.89 L312.73 108.22 L312.64 108.55 L312.55 108.88 L312.46 109.2 L312.36 109.53 L312.25 109.86 L312.15 110.18 L312.04 110.51 L311.94 110.84 L311.83 111.17 L311.73 111.49 L311.63 111.82 L311.53 112.15 L311.44 112.47 L311.36 112.8 L311.28 113.13 L311.2 113.46 L311.13 113.78 L311.06 114.11 L311.01 114.44 L310.95 114.76 L310.9 115.09 L310.86 115.42 L310.82 115.75 L310.79 116.07 L310.68 116.4 L310.48 116.4 L310.37 116.07 L310.34 115.75 L310.3 115.42 L310.26 115.09 L310.21 114.76 L310.15 114.44 L310.1 114.11 L310.03 113.78 L309.96 113.46 L309.88 113.13 L309.8 112.8 L309.72 112.47 L309.63 112.15 L309.53 111.82 L309.43 111.49 L309.33 111.17 L309.22 110.84 L309.12 110.51 L309.01 110.18 L308.91 109.86 L308.8 109.53 L308.7 109.2 L308.61 108.88 L308.52 108.55 L308.43 108.22 L308.36 107.89 L308.29 107.57 L308.23 107.24 L308.19 106.91 L308.15 106.59 L308.13 106.26 L308.12 105.93 L308.12 105.61 L308.14 105.28 L308.17 104.95 L308.22 104.62 L308.29 104.3 L308.37 103.97 L308.46 103.64 L308.56 103.32 L308.67 102.99 L308.78 102.66 L308.9 102.33 L309.02 102.01 L309.15 101.68 L309.27 101.35 L309.39 101.03 L309.51 100.7 L309.62 100.37 L309.73 100.04 L309.83 99.72 L309.92 99.39 L310 99.06 L310.08 98.74 L310.15 98.41 L310.21 98.08 L310.27 97.75 L310.32 97.43 L310.48 97.1 Z" fill="#5485cc" stroke="#4a4a4a" stroke-width="0.25" stroke-opacity="0.55"/>
<line x1="316.44" y1="92.2" x2="316.44" y2="99.1" stroke="#555" stroke-width="0.5"/>
<path d="M316.54 97.1 L316.7 97.43 L316.74 97.75 L316.79 98.08 L316.85 98.41 L316.91 98.74 L316.97 99.06 L317.05 99.39 L317.12 99.72 L317.21 100.04 L317.3 100.37 L317.4 100.7 L317.5 101.03 L317.6 101.35 L317.71 101.68 L317.82 102.01 L317.93 102.33 L318.05 102.66 L318.16 102.99 L318.26 103.32 L318.37 103.64 L318.47 103.97 L318.56 104.3 L318.64 104.62 L318.71 104.95 L318.78 105.28 L318.83 105.61 L318.87 105.93 L318.89 106.26 L318.9 106.59 L318.9 106.91 L318.88 107.24 L318.85 107.57 L318.81 107.89 L318.75 108.22 L318.68 108.55 L318.6 108.88 L318.51 109.2 L318.41 109.53 L318.3 109.86 L318.19 110.18 L318.08 110.51 L317.96 110.84 L317.85 111.17 L317.73 111.49 L317.62 111.82 L317.51 112.15 L317.41 112.47 L317.31 112.8 L317.21 113.13 L317.12 113.46 L317.04 113.78 L316.97 114.11 L316.9 114.44 L316.84 114.76 L316.78 115.09 L316.73 115.42 L316.69 115.75 L316.65 116.07 L316.54 116.4 L316.34 116.4 L316.23 116.07 L316.19 115.75 L316.15 115.42 L316.1 115.09 L316.04 114.76 L315.98 114.44 L315.91 114.11 L315.84 113.78 L315.76 113.46 L315.67 113.13 L315.57 112.8 L315.47 112.47 L315.37 112.15 L315.26 111.82 L315.15 111.49 L315.03 111.17 L314.92 110.84 L314.8 110.51 L314.69 110.18 L314.58 109.86 L314.47 109.53 L314.37 109.2 L314.28 108.88 L314.2 108.55 L314.13 108.22 L314.07 107.89 L314.03 107.57 L314 107.24 L313.98 106.91 L313.98 106.59 L313.99 106.26 L314.01 105.93 L314.05 105.61 L314.1 105.28 L314.17 104.95 L314.24 104.62 L314.32 104.3 L314.41 103.97 L314.51 103.64 L314.62 103.32 L314.72 102.99 L314.83 102.66 L314.95 102.33 L315.06 102.01 L315.17 101.68 L315.28 101.35 L315.38 101.03 L315.48 100.7 L315.58 100.37 L315.67 100.04 L315.76 99.72 L315.83 99.39 L315.91 99.06 L315.97 98.74 L316.03 98.41 L316.09 98.08 L316.14 97.75 L316.18 97.43 L316.34 97.1 Z" fill="#6a7bc4" stroke="#4a4a4a" stroke-width="0.25" stroke-opacity="0.55"/>
<line x1="322.3" y1="90" x2="322.3" y2="95.6" stroke="#555" stroke-width="0.5"/>
<path d="M322.4 93.6 L322.58 93.96 L322.65 94.31 L322.72 94.67 L322.81 95.02 L322.9 95.38 L323.01 95.74 L323.13 96.09 L323.26 96.45 L323.4 96.8 L323.54 97.16 L323.69 97.52 L323.85 97.87 L324 98.23 L324.15 98.58 L324.3 98.94 L324.43 99.29 L324.56 99.65 L324.66 100.01 L324.75 100.36 L324.82 100.72 L324.86 101.07 L324.88 101.43 L324.87 101.79 L324.86 102.14 L324.84 102.5 L324.8 102.85 L324.76 103.21 L324.71 103.57 L324.65 103.92 L324.59 104.28 L324.51 104.63 L324.44 104.99 L324.35 105.35 L324.26 105.7 L324.17 106.06 L324.08 106.41 L323.98 106.77 L323.88 107.13 L323.78 107.48 L323.69 107.84 L323.59 108.19 L323.5 108.55 L323.41 108.91 L323.32 109.26 L323.23 109.62 L323.15 109.97 L323.07 110.33 L323 110.68 L322.93 111.04 L322.87 111.4 L322.81 111.75 L322.75 112.11 L322.7 112.46 L322.66 112.82 L322.62 113.18 L322.58 113.53 L322.54 113.89 L322.51 114.24 L322.4 114.6 L322.2 114.6 L322.09 114.24 L322.06 113.89 L322.02 113.53 L321.98 113.18 L321.94 112.82 L321.9 112.46 L321.85 112.11 L321.79 111.75 L321.73 111.4 L321.67 111.04 L321.6 110.68 L321.53 110.33 L321.45 109.97 L321.37 109.62 L321.28 109.26 L321.19 108.91 L321.1 108.55 L321.01 108.19 L320.91 107.84 L320.82 107.48 L320.72 107.13 L320.62 106.77 L320.52 106.41 L320.43 106.06 L320.34 105.7 L320.25 105.35 L320.16 104.99 L320.09 104.63 L320.01 104.28 L319.95 103.92 L319.89 103.57 L319.84 103.21 L319.8 102.85 L319.76 102.5 L319.74 102.14 L319.73 101.79 L319.72 101.43 L319.74 101.07 L319.78 100.72 L319.85 100.36 L319.94 100.01 L320.04 99.65 L320.17 99.29 L320.3 98.94 L320.45 98.58 L320.6 98.23 L320.75 97.87 L320.91 97.52 L321.06 97.16 L321.2 96.8 L321.34 96.45 L321.47 96.09 L321.59 95.74 L321.7 95.38 L321.79 95.02 L321.88 94.67 L321.95 94.31 L322.02 93.96 L322.2 93.6 Z" fill="#7a70ba" stroke="#4a4a4a" stroke-width="0.25" stroke-opacity="0.55"/>
<line x1="328.16" y1="81" x2="328.16" y2="88.6" stroke="#555" stroke-width="0.5"/>
<path d="M328.26 86.6 L328.43 87.09 L328.48 87.58 L328.54 88.07 L328.61 88.56 L328.68 89.05 L328.76 89.54 L328.85 90.03 L328.94 90.52 L329.05 91.01 L329.16 91.5 L329.27 91.99 L329.39 92.48 L329.52 92.97 L329.65 93.46 L329.78 93.95 L329.9 94.44 L330.03 94.93 L330.15 95.42 L330.26 95.91 L330.37 96.4 L330.46 96.89 L330.55 97.38 L330.62 97.87 L330.67 98.36 L330.71 98.85 L330.73 99.34 L330.74 99.83 L330.73 100.32 L330.7 100.81 L330.67 101.29 L330.62 101.78 L330.56 102.27 L330.49 102.76 L330.41 103.25 L330.33 103.74 L330.23 104.23 L330.13 104.72 L330.03 105.21 L329.92 105.7 L329.81 106.19 L329.7 106.68 L329.59 107.17 L329.48 107.66 L329.37 108.15 L329.26 108.64 L329.16 109.13 L329.07 109.62 L328.98 110.11 L328.89 110.6 L328.81 111.09 L328.74 111.58 L328.67 112.07 L328.61 112.56 L328.55 113.05 L328.5 113.54 L328.45 114.03 L328.41 114.52 L328.37 115.01 L328.26 115.5 L328.06 115.5 L327.95 115.01 L327.91 114.52 L327.87 114.03 L327.82 113.54 L327.77 113.05 L327.71 112.56 L327.65 112.07 L327.58 111.58 L327.51 111.09 L327.43 110.6 L327.34 110.11 L327.25 109.62 L327.16 109.13 L327.06 108.64 L326.95 108.15 L326.84 107.66 L326.73 107.17 L326.62 106.68 L326.51 106.19 L326.4 105.7 L326.29 105.21 L326.19 104.72 L326.09 104.23 L325.99 103.74 L325.91 103.25 L325.83 102.76 L325.76 102.27 L325.7 101.78 L325.65 101.29 L325.62 100.81 L325.59 100.32 L325.58 99.83 L325.59 99.34 L325.61 98.85 L325.65 98.36 L325.7 97.87 L325.77 97.38 L325.86 96.89 L325.95 96.4 L326.06 95.91 L326.17 95.42 L326.29 94.93 L326.42 94.44 L326.54 93.95 L326.67 93.46 L326.8 92.97 L326.93 92.48 L327.05 91.99 L327.16 91.5 L327.27 91.01 L327.38 90.52 L327.47 90.03 L327.56 89.54 L327.64 89.05 L327.71 88.56 L327.78 88.07 L327.84 87.58 L327.89 87.09 L328.06 86.6 Z" fill="#8a66b0" stroke="#4a4a4a" stroke-width="0.25" stroke-opacity="0.55"/>
<line x1="334.02" y1="78.7" x2="334.02" y2="97.3" stroke="#555" stroke-width="0.5"/>
<path d="M334.12 95.3 L334.28 95.72 L334.34 96.13 L334.4 96.55 L334.46 96.97 L334.54 97.38 L334.63 97.8 L334.72 98.22 L334.82 98.64 L334.93 99.05 L335.04 99.47 L335.16 99.89 L335.29 100.3 L335.42 100.72 L335.55 101.14 L335.68 101.55 L335.81 101.97 L335.93 102.39 L336.04 102.81 L336.15 103.22 L336.24 103.64 L336.32 104.06 L336.39 104.47 L336.44 104.89 L336.47 105.31 L336.48 105.72 L336.48 106.14 L336.47 106.56 L336.44 106.97 L336.4 107.39 L336.36 107.81 L336.3 108.23 L336.23 108.64 L336.16 109.06 L336.08 109.48 L335.99 109.89 L335.9 110.31 L335.8 110.73 L335.71 111.14 L335.6 111.56 L335.5 111.98 L335.4 112.39 L335.3 112.81 L335.2 113.23 L335.11 113.65 L335.01 114.06 L334.92 114.48 L334.84 114.9 L334.76 115.31 L334.68 115.73 L334.61 116.15 L334.55 116.56 L334.49 116.98 L334.43 117.4 L334.38 117.82 L334.34 118.23 L334.29 118.65 L334.26 119.07 L334.22 119.48 L334.12 119.9 L333.92 119.9 L333.82 119.48 L333.78 119.07 L333.75 118.65 L333.7 118.23 L333.66 117.82 L333.61 117.4 L333.55 116.98 L333.49 116.56 L333.43 116.15 L333.36 115.73 L333.28 115.31 L333.2 114.9 L333.12 114.48 L333.03 114.06 L332.93 113.65 L332.84 113.23 L332.74 112.81 L332.64 112.39 L332.54 111.98 L332.44 111.56 L332.33 111.14 L332.24 110.73 L332.14 110.31 L332.05 109.89 L331.96 109.48 L331.88 109.06 L331.81 108.64 L331.74 108.23 L331.68 107.81 L331.64 107.39 L331.6 106.97 L331.57 106.56 L331.56 106.14 L331.56 105.72 L331.57 105.31 L331.6 104.89 L331.65 104.47 L331.72 104.06 L331.8 103.64 L331.89 103.22 L332 102.81 L332.11 102.39 L332.23 101.97 L332.36 101.55 L332.49 101.14 L332.62 100.72 L332.75 100.3 L332.88 99.89 L333 99.47 L333.11 99.05 L333.22 98.64 L333.32 98.22 L333.41 97.8 L333.5 97.38 L333.58 96.97 L333.64 96.55 L333.7 96.13 L333.76 95.72 L333.92 95.3 Z" fill="#9563a8" stroke="#4a4a4a" stroke-width="0.25" stroke-opacity="0.55"/>
<line x1="339.88" y1="81.3" x2="339.88" y2="106.1" stroke="#555" stroke-width="0.5"/>
<path d="M339.98 104.1 L340.14 104.43 L340.18 104.75 L340.24 105.08 L340.3 105.41 L340.36 105.74 L340.44 106.06 L340.52 106.39 L340.61 106.72 L340.7 107.04 L340.81 107.37 L340.91 107.7 L341.03 108.03 L341.14 108.35 L341.26 108.68 L341.38 109.01 L341.5 109.33 L341.61 109.66 L341.73 109.99 L341.83 110.32 L341.93 110.64 L342.02 110.97 L342.1 111.3 L342.17 111.62 L342.22 111.95 L342.26 112.28 L342.28 112.61 L342.29 112.93 L342.28 113.26 L342.26 113.59 L342.23 113.91 L342.19 114.24 L342.13 114.57 L342.07 114.89 L342 115.22 L341.91 115.55 L341.83 115.88 L341.73 116.2 L341.64 116.53 L341.53 116.86 L341.43 117.18 L341.33 117.51 L341.22 117.84 L341.12 118.17 L341.02 118.49 L340.92 118.82 L340.82 119.15 L340.73 119.47 L340.65 119.8 L340.57 120.13 L340.49 120.46 L340.42 120.78 L340.36 121.11 L340.3 121.44 L340.25 121.76 L340.2 122.09 L340.15 122.42 L340.12 122.75 L340.08 123.07 L339.98 123.4 L339.78 123.4 L339.68 123.07 L339.64 122.75 L339.61 122.42 L339.56 122.09 L339.51 121.76 L339.46 121.44 L339.4 121.11 L339.34 120.78 L339.27 120.46 L339.19 120.13 L339.11 119.8 L339.03 119.47 L338.94 119.15 L338.84 118.82 L338.74 118.49 L338.64 118.17 L338.54 117.84 L338.43 117.51 L338.33 117.18 L338.23 116.86 L338.12 116.53 L338.03 116.2 L337.93 115.88 L337.85 115.55 L337.76 115.22 L337.69 114.89 L337.63 114.57 L337.57 114.24 L337.53 113.91 L337.5 113.59 L337.48 113.26 L337.47 112.93 L337.48 112.61 L337.5 112.28 L337.54 111.95 L337.59 111.62 L337.66 111.3 L337.74 110.97 L337.83 110.64 L337.93 110.32 L338.03 109.99 L338.15 109.66 L338.26 109.33 L338.38 109.01 L338.5 108.68 L338.62 108.35 L338.73 108.03 L338.85 107.7 L338.95 107.37 L339.06 107.04 L339.15 106.72 L339.24 106.39 L339.32 106.06 L339.4 105.74 L339.46 105.41 L339.52 105.08 L339.58 104.75 L339.62 104.43 L339.78 104.1 Z" fill="#a0609f" stroke="#4a4a4a" stroke-width="0.25" stroke-opacity="0.55"/>
<line x1="345.74" y1="100.6" x2="345.74" y2="105.3" stroke="#555" stroke-width="0.5"/>
<path d="M345.84 103.3 L346.02 103.66 L346.1 104.03 L346.21 104.39 L346.33 104.76 L346.47 105.12 L346.62 105.49 L346.8 105.85 L346.98 106.22 L347.17 106.58 L347.36 106.94 L347.54 107.31 L347.71 107.67 L347.85 108.04 L347.97 108.4 L348.05 108.77 L348.09 109.13 L348.09 109.49 L348.08 109.86 L348.07 110.22 L348.05 110.59 L348.02 110.95 L347.99 111.32 L347.95 111.68 L347.9 112.05 L347.85 112.41 L347.8 112.77 L347.74 113.14 L347.68 113.5 L347.61 113.87 L347.54 114.23 L347.47 114.6 L347.39 114.96 L347.32 115.33 L347.24 115.69 L347.16 116.05 L347.09 116.42 L347.01 116.78 L346.93 117.15 L346.86 117.51 L346.79 117.88 L346.72 118.24 L346.65 118.61 L346.58 118.97 L346.52 119.33 L346.46 119.7 L346.4 120.06 L346.34 120.43 L346.29 120.79 L346.24 121.16 L346.19 121.52 L346.15 121.88 L346.11 122.25 L346.07 122.61 L346.04 122.98 L346.01 123.34 L345.98 123.71 L345.95 124.07 L345.93 124.44 L345.84 124.8 L345.64 124.8 L345.55 124.44 L345.53 124.07 L345.5 123.71 L345.47 123.34 L345.44 122.98 L345.41 122.61 L345.37 122.25 L345.33 121.88 L345.29 121.52 L345.24 121.16 L345.19 120.79 L345.14 120.43 L345.08 120.06 L345.02 119.7 L344.96 119.33 L344.9 118.97 L344.83 118.61 L344.76 118.24 L344.69 117.88 L344.62 117.51 L344.55 117.15 L344.47 116.78 L344.39 116.42 L344.32 116.05 L344.24 115.69 L344.16 115.33 L344.09 114.96 L344.01 114.6 L343.94 114.23 L343.87 113.87 L343.8 113.5 L343.74 113.14 L343.68 112.77 L343.63 112.41 L343.58 112.05 L343.53 111.68 L343.49 111.32 L343.46 110.95 L343.43 110.59 L343.41 110.22 L343.4 109.86 L343.39 109.49 L343.39 109.13 L343.43 108.77 L343.51 108.4 L343.63 108.04 L343.77 107.67 L343.94 107.31 L344.12 106.94 L344.31 106.58 L344.5 106.22 L344.68 105.85 L344.86 105.49 L345.01 105.12 L345.15 104.76 L345.27 104.39 L345.38 104.03 L345.46 103.66 L345.64 103.3 Z" fill="#b05c9c" stroke="#4a4a4a" stroke-width="0.25" stroke-opacity="0.55"/>
<line x1="351.6" y1="91" x2="351.6" y2="102.6" stroke="#555" stroke-width="0.5"/>
<path d="M351.7 100.6 L351.84 100.99 L351.88 101.37 L351.92 101.76 L351.97 102.15 L352.02 102.53 L352.08 102.92 L352.14 103.31 L352.21 103.69 L352.28 104.08 L352.35 104.46 L352.43 104.85 L352.52 105.24 L352.61 105.62 L352.7 106.01 L352.8 106.4 L352.89 106.78 L352.99 107.17 L353.09 107.56 L353.19 107.94 L353.28 108.33 L353.38 108.72 L353.47 109.1 L353.55 109.49 L353.63 109.87 L353.7 110.26 L353.77 110.65 L353.82 111.03 L353.87 111.42 L353.91 111.81 L353.93 112.19 L353.95 112.58 L353.95 112.97 L353.94 113.35 L353.91 113.74 L353.87 114.13 L353.81 114.51 L353.74 114.9 L353.65 115.28 L353.56 115.67 L353.45 116.06 L353.34 116.44 L353.22 116.83 L353.1 117.22 L352.98 117.6 L352.86 117.99 L352.75 118.38 L352.63 118.76 L352.52 119.15 L352.42 119.54 L352.32 119.92 L352.23 120.31 L352.15 120.69 L352.07 121.08 L352 121.47 L351.94 121.85 L351.89 122.24 L351.84 122.63 L351.8 123.01 L351.7 123.4 L351.5 123.4 L351.4 123.01 L351.36 122.63 L351.31 122.24 L351.26 121.85 L351.2 121.47 L351.13 121.08 L351.05 120.69 L350.97 120.31 L350.88 119.92 L350.78 119.54 L350.68 119.15 L350.57 118.76 L350.45 118.38 L350.34 117.99 L350.22 117.6 L350.1 117.22 L349.98 116.83 L349.86 116.44 L349.75 116.06 L349.64 115.67 L349.55 115.28 L349.46 114.9 L349.39 114.51 L349.33 114.13 L349.29 113.74 L349.26 113.35 L349.25 112.97 L349.25 112.58 L349.27 112.19 L349.29 111.81 L349.33 111.42 L349.38 111.03 L349.43 110.65 L349.5 110.26 L349.57 109.87 L349.65 109.49 L349.73 109.1 L349.82 108.72 L349.92 108.33 L350.01 107.94 L350.11 107.56 L350.21 107.17 L350.31 106.78 L350.4 106.4 L350.5 106.01 L350.59 105.62 L350.68 105.24 L350.77 104.85 L350.85 104.46 L350.92 104.08 L350.99 103.69 L351.06 103.31 L351.12 102.92 L351.18 102.53 L351.23 102.15 L351.28 101.76 L351.32 101.37 L351.36 100.99 L351.5 100.6 Z" fill="#c05898" stroke="#4a4a4a" stroke-width="0.25" stroke-opacity="0.55"/>
<line x1="357.46" y1="101.5" x2="357.46" y2="109.6" stroke="#555" stroke-width="0.5"/>
<path d="M357.56 107.6 L357.71 107.89 L357.76 108.18 L357.81 108.47 L357.87 108.77 L357.93 109.06 L358 109.35 L358.08 109.64 L358.17 109.93 L358.26 110.22 L358.36 110.52 L358.46 110.81 L358.57 111.1 L358.68 111.39 L358.8 111.68 L358.91 111.97 L359.03 112.26 L359.14 112.56 L359.25 112.85 L359.35 113.14 L359.45 113.43 L359.54 113.72 L359.62 114.01 L359.69 114.31 L359.74 114.6 L359.78 114.89 L359.8 115.18 L359.81 115.47 L359.81 115.76 L359.79 116.05 L359.76 116.35 L359.72 116.64 L359.67 116.93 L359.61 117.22 L359.54 117.51 L359.46 117.8 L359.37 118.09 L359.28 118.39 L359.19 118.68 L359.09 118.97 L358.99 119.26 L358.88 119.55 L358.78 119.84 L358.68 120.14 L358.58 120.43 L358.48 120.72 L358.39 121.01 L358.3 121.3 L358.22 121.59 L358.14 121.88 L358.06 122.18 L357.99 122.47 L357.93 122.76 L357.87 123.05 L357.82 123.34 L357.77 123.63 L357.73 123.93 L357.69 124.22 L357.66 124.51 L357.56 124.8 L357.36 124.8 L357.26 124.51 L357.23 124.22 L357.19 123.93 L357.15 123.63 L357.1 123.34 L357.05 123.05 L356.99 122.76 L356.93 122.47 L356.86 122.18 L356.78 121.88 L356.7 121.59 L356.62 121.3 L356.53 121.01 L356.44 120.72 L356.34 120.43 L356.24 120.14 L356.14 119.84 L356.04 119.55 L355.93 119.26 L355.83 118.97 L355.73 118.68 L355.64 118.39 L355.55 118.09 L355.46 117.8 L355.38 117.51 L355.31 117.22 L355.25 116.93 L355.2 116.64 L355.16 116.35 L355.13 116.05 L355.11 115.76 L355.11 115.47 L355.12 115.18 L355.14 114.89 L355.18 114.6 L355.23 114.31 L355.3 114.01 L355.38 113.72 L355.47 113.43 L355.57 113.14 L355.67 112.85 L355.78 112.56 L355.89 112.26 L356.01 111.97 L356.12 111.68 L356.24 111.39 L356.35 111.1 L356.46 110.81 L356.56 110.52 L356.66 110.22 L356.75 109.93 L356.84 109.64 L356.92 109.35 L356.99 109.06 L357.05 108.77 L357.11 108.47 L357.16 108.18 L357.21 107.89 L357.36 107.6 Z" fill="#d05699" stroke="#4a4a4a" stroke-width="0.25" stroke-opacity="0.55"/>
<line x1="363.32" y1="93.2" x2="363.32" y2="99.1" stroke="#555" stroke-width="0.5"/>
<path d="M363.42 97.1 L363.6 97.57 L363.68 98.04 L363.77 98.51 L363.88 98.98 L364 99.45 L364.13 99.92 L364.29 100.39 L364.45 100.86 L364.62 101.33 L364.8 101.79 L364.97 102.26 L365.14 102.73 L365.31 103.2 L365.45 103.67 L365.58 104.14 L365.68 104.61 L365.74 105.08 L365.78 105.55 L365.78 106.02 L365.78 106.49 L365.76 106.96 L365.74 107.43 L365.71 107.9 L365.67 108.37 L365.62 108.84 L365.57 109.31 L365.51 109.78 L365.45 110.25 L365.38 110.72 L365.31 111.18 L365.24 111.65 L365.16 112.12 L365.08 112.59 L364.99 113.06 L364.91 113.53 L364.83 114 L364.74 114.47 L364.66 114.94 L364.57 115.41 L364.49 115.88 L364.41 116.35 L364.33 116.82 L364.26 117.29 L364.18 117.76 L364.11 118.23 L364.05 118.7 L363.99 119.17 L363.93 119.64 L363.87 120.11 L363.82 120.57 L363.77 121.04 L363.72 121.51 L363.68 121.98 L363.64 122.45 L363.61 122.92 L363.58 123.39 L363.55 123.86 L363.52 124.33 L363.42 124.8 L363.22 124.8 L363.12 124.33 L363.09 123.86 L363.06 123.39 L363.03 122.92 L363 122.45 L362.96 121.98 L362.92 121.51 L362.87 121.04 L362.82 120.57 L362.77 120.11 L362.71 119.64 L362.65 119.17 L362.59 118.7 L362.53 118.23 L362.46 117.76 L362.38 117.29 L362.31 116.82 L362.23 116.35 L362.15 115.88 L362.07 115.41 L361.98 114.94 L361.9 114.47 L361.81 114 L361.73 113.53 L361.65 113.06 L361.56 112.59 L361.48 112.12 L361.4 111.65 L361.33 111.18 L361.26 110.72 L361.19 110.25 L361.13 109.78 L361.07 109.31 L361.02 108.84 L360.97 108.37 L360.93 107.9 L360.9 107.43 L360.88 106.96 L360.86 106.49 L360.86 106.02 L360.86 105.55 L360.9 105.08 L360.96 104.61 L361.06 104.14 L361.19 103.67 L361.33 103.2 L361.5 102.73 L361.67 102.26 L361.84 101.79 L362.02 101.33 L362.19 100.86 L362.35 100.39 L362.51 99.92 L362.64 99.45 L362.76 98.98 L362.87 98.51 L362.96 98.04 L363.04 97.57 L363.22 97.1 Z" fill="#e0559a" stroke="#4a4a4a" stroke-width="0.25" stroke-opacity="0.55"/>
<line x1="369.18" y1="93.2" x2="369.18" y2="97.3" stroke="#555" stroke-width="0.5"/>
<path d="M369.28 95.3 L369.46 95.69 L369.54 96.07 L369.64 96.46 L369.75 96.85 L369.87 97.23 L370.01 97.62 L370.17 98.01 L370.34 98.39 L370.52 98.78 L370.7 99.16 L370.88 99.55 L371.05 99.94 L371.21 100.32 L371.35 100.71 L371.47 101.1 L371.56 101.48 L371.62 101.87 L371.64 102.26 L371.64 102.64 L371.63 103.03 L371.61 103.42 L371.59 103.8 L371.55 104.19 L371.51 104.57 L371.47 104.96 L371.41 105.35 L371.35 105.73 L371.29 106.12 L371.22 106.51 L371.15 106.89 L371.07 107.28 L371 107.67 L370.92 108.05 L370.83 108.44 L370.75 108.83 L370.67 109.21 L370.58 109.6 L370.5 109.98 L370.42 110.37 L370.33 110.76 L370.26 111.14 L370.18 111.53 L370.1 111.92 L370.03 112.3 L369.97 112.69 L369.9 113.08 L369.84 113.46 L369.78 113.85 L369.72 114.24 L369.67 114.62 L369.63 115.01 L369.58 115.39 L369.54 115.78 L369.5 116.17 L369.47 116.55 L369.43 116.94 L369.41 117.33 L369.38 117.71 L369.28 118.1 L369.08 118.1 L368.98 117.71 L368.95 117.33 L368.93 116.94 L368.89 116.55 L368.86 116.17 L368.82 115.78 L368.78 115.39 L368.73 115.01 L368.69 114.62 L368.64 114.24 L368.58 113.85 L368.52 113.46 L368.46 113.08 L368.39 112.69 L368.33 112.3 L368.26 111.92 L368.18 111.53 L368.1 111.14 L368.03 110.76 L367.94 110.37 L367.86 109.98 L367.78 109.6 L367.69 109.21 L367.61 108.83 L367.53 108.44 L367.44 108.05 L367.36 107.67 L367.29 107.28 L367.21 106.89 L367.14 106.51 L367.07 106.12 L367.01 105.73 L366.95 105.35 L366.89 104.96 L366.85 104.57 L366.81 104.19 L366.77 103.8 L366.75 103.42 L366.73 103.03 L366.72 102.64 L366.72 102.26 L366.74 101.87 L366.8 101.48 L366.89 101.1 L367.01 100.71 L367.15 100.32 L367.31 99.94 L367.48 99.55 L367.66 99.16 L367.84 98.78 L368.02 98.39 L368.19 98.01 L368.35 97.62 L368.49 97.23 L368.61 96.85 L368.72 96.46 L368.82 96.07 L368.9 95.69 L369.08 95.3 Z" fill="#df5887" stroke="#4a4a4a" stroke-width="0.25" stroke-opacity="0.55"/>
<line x1="375.04" y1="83" x2="375.04" y2="85.9" stroke="#555" stroke-width="0.5"/>
<path d="M375.14 83.9 L375.38 84.39 L375.45 84.89 L375.53 85.38 L375.62 85.87 L375.72 86.37 L375.83 86.86 L375.95 87.35 L376.08 87.85 L376.23 88.34 L376.38 88.83 L376.54 89.33 L376.71 89.82 L376.88 90.31 L377.05 90.81 L377.22 91.3 L377.38 91.79 L377.54 92.28 L377.68 92.78 L377.81 93.27 L377.93 93.76 L378.02 94.26 L378.1 94.75 L378.15 95.24 L378.17 95.74 L378.17 96.23 L378.16 96.72 L378.13 97.22 L378.09 97.71 L378.04 98.2 L377.97 98.7 L377.9 99.19 L377.81 99.68 L377.71 100.18 L377.61 100.67 L377.5 101.16 L377.38 101.66 L377.26 102.15 L377.13 102.64 L377.01 103.14 L376.88 103.63 L376.75 104.12 L376.63 104.62 L376.51 105.11 L376.39 105.6 L376.27 106.09 L376.16 106.59 L376.06 107.08 L375.96 107.57 L375.87 108.07 L375.78 108.56 L375.7 109.05 L375.62 109.55 L375.56 110.04 L375.49 110.53 L375.44 111.03 L375.39 111.52 L375.34 112.01 L375.3 112.51 L375.14 113 L374.94 113 L374.78 112.51 L374.74 112.01 L374.69 111.52 L374.64 111.03 L374.59 110.53 L374.52 110.04 L374.46 109.55 L374.38 109.05 L374.3 108.56 L374.21 108.07 L374.12 107.57 L374.02 107.08 L373.92 106.59 L373.81 106.09 L373.69 105.6 L373.57 105.11 L373.45 104.62 L373.33 104.12 L373.2 103.63 L373.07 103.14 L372.95 102.64 L372.82 102.15 L372.7 101.66 L372.58 101.16 L372.47 100.67 L372.37 100.18 L372.27 99.68 L372.18 99.19 L372.11 98.7 L372.04 98.2 L371.99 97.71 L371.95 97.22 L371.92 96.72 L371.91 96.23 L371.91 95.74 L371.93 95.24 L371.98 94.75 L372.06 94.26 L372.15 93.76 L372.27 93.27 L372.4 92.78 L372.54 92.28 L372.7 91.79 L372.86 91.3 L373.03 90.81 L373.2 90.31 L373.37 89.82 L373.54 89.33 L373.7 88.83 L373.85 88.34 L374 87.85 L374.13 87.35 L374.25 86.86 L374.36 86.37 L374.46 85.87 L374.55 85.38 L374.63 84.89 L374.7 84.39 L374.94 83.9 Z" fill="#de5a74" stroke="#4a4a4a" stroke-width="0.25" stroke-opacity="0.55"/>
<line x1="175.8" y1="134.2" x2="175.8" y2="135.3" stroke="#555" stroke-width="0.35"/>
<text x="177.7" y="136.4" font-size="5.55" text-anchor="end" fill="#333" stroke="#333" stroke-width="0.18" transform="rotate(-90 177.7 136.4)">IFNαβ peri-like</text>
<line x1="181.66" y1="134.2" x2="181.66" y2="135.3" stroke="#555" stroke-width="0.35"/>
<text x="183.56" y="136.4" font-size="5.55" text-anchor="end" fill="#333" stroke="#333" stroke-width="0.18" transform="rotate(-90 183.56 136.4)">Contractile peri-like</text>
<line x1="187.52" y1="134.2" x2="187.52" y2="135.3" stroke="#555" stroke-width="0.35"/>
<text x="189.42" y="136.4" font-size="5.55" text-anchor="end" fill="#333" stroke="#333" stroke-width="0.18" transform="rotate(-90 189.42 136.4)">CXCL-iFibro</text>
<line x1="193.38" y1="134.2" x2="193.38" y2="135.3" stroke="#555" stroke-width="0.35"/>
<text x="195.28" y="136.4" font-size="5.55" text-anchor="end" fill="#333" stroke="#333" stroke-width="0.18" transform="rotate(-90 195.28 136.4)">Detox-iFibro</text>
<line x1="199.24" y1="134.2" x2="199.24" y2="135.3" stroke="#555" stroke-width="0.35"/>
<text x="201.14" y="136.4" font-size="5.55" text-anchor="end" fill="#333" stroke="#333" stroke-width="0.18" transform="rotate(-90 201.14 136.4)">Wound myoFibro</text>
<line x1="205.1" y1="134.2" x2="205.1" y2="135.3" stroke="#555" stroke-width="0.35"/>
<text x="207" y="136.4" font-size="5.55" text-anchor="end" fill="#333" stroke="#333" stroke-width="0.18" transform="rotate(-90 207 136.4)">TGFβ myoFibro</text>
<line x1="210.96" y1="134.2" x2="210.96" y2="135.3" stroke="#555" stroke-width="0.35"/>
<text x="212.86" y="136.4" font-size="5.55" text-anchor="end" fill="#333" stroke="#333" stroke-width="0.18" transform="rotate(-90 212.86 136.4)">Proximal tubule</text>
<line x1="216.82" y1="134.2" x2="216.82" y2="135.3" stroke="#555" stroke-width="0.35"/>
<text x="218.72" y="136.4" font-size="5.55" text-anchor="end" fill="#333" stroke="#333" stroke-width="0.18" transform="rotate(-90 218.72 136.4)">Injured tubule</text>
<line x1="222.68" y1="134.2" x2="222.68" y2="135.3" stroke="#555" stroke-width="0.35"/>
<text x="224.58" y="136.4" font-size="5.55" text-anchor="end" fill="#333" stroke="#333" stroke-width="0.18" transform="rotate(-90 224.58 136.4)">Distal convoluted tubule</text>
<line x1="228.54" y1="134.2" x2="228.54" y2="135.3" stroke="#555" stroke-width="0.35"/>
<text x="230.44" y="136.4" font-size="5.55" text-anchor="end" fill="#333" stroke="#333" stroke-width="0.18" transform="rotate(-90 230.44 136.4)">Thick ascending limb</text>
<line x1="234.4" y1="134.2" x2="234.4" y2="135.3" stroke="#555" stroke-width="0.35"/>
<text x="236.3" y="136.4" font-size="5.55" text-anchor="end" fill="#333" stroke="#333" stroke-width="0.18" transform="rotate(-90 236.3 136.4)">Intercalated cells</text>
<line x1="240.26" y1="134.2" x2="240.26" y2="135.3" stroke="#555" stroke-width="0.35"/>
<text x="242.16" y="136.4" font-size="5.55" text-anchor="end" fill="#333" stroke="#333" stroke-width="0.18" transform="rotate(-90 242.16 136.4)">Collecting duct principal cells</text>
<line x1="246.12" y1="134.2" x2="246.12" y2="135.3" stroke="#555" stroke-width="0.35"/>
<text x="248.02" y="136.4" font-size="5.55" text-anchor="end" fill="#333" stroke="#333" stroke-width="0.18" transform="rotate(-90 248.02 136.4)">Connecting tubule</text>
<line x1="251.98" y1="134.2" x2="251.98" y2="135.3" stroke="#555" stroke-width="0.35"/>
<text x="253.88" y="136.4" font-size="5.55" text-anchor="end" fill="#333" stroke="#333" stroke-width="0.18" transform="rotate(-90 253.88 136.4)">Descending thin limb</text>
<line x1="257.84" y1="134.2" x2="257.84" y2="135.3" stroke="#555" stroke-width="0.35"/>
<text x="259.74" y="136.4" font-size="5.55" text-anchor="end" fill="#333" stroke="#333" stroke-width="0.18" transform="rotate(-90 259.74 136.4)">Urothelial cells</text>
<line x1="263.7" y1="134.2" x2="263.7" y2="135.3" stroke="#555" stroke-width="0.35"/>
<text x="265.6" y="136.4" font-size="5.55" text-anchor="end" fill="#333" stroke="#333" stroke-width="0.18" transform="rotate(-90 265.6 136.4)">Podocytes</text>
<line x1="269.56" y1="134.2" x2="269.56" y2="135.3" stroke="#555" stroke-width="0.35"/>
<text x="271.46" y="136.4" font-size="5.55" text-anchor="end" fill="#333" stroke="#333" stroke-width="0.18" transform="rotate(-90 271.46 136.4)">Arteriolar endothelium</text>
<line x1="275.42" y1="134.2" x2="275.42" y2="135.3" stroke="#555" stroke-width="0.35"/>
<text x="277.32" y="136.4" font-size="5.55" text-anchor="end" fill="#333" stroke="#333" stroke-width="0.18" transform="rotate(-90 277.32 136.4)">Glomerular endothelial cells</text>
<line x1="281.28" y1="134.2" x2="281.28" y2="135.3" stroke="#555" stroke-width="0.35"/>
<text x="283.18" y="136.4" font-size="5.55" text-anchor="end" fill="#333" stroke="#333" stroke-width="0.18" transform="rotate(-90 283.18 136.4)">Vasa Recta</text>
<line x1="287.14" y1="134.2" x2="287.14" y2="135.3" stroke="#555" stroke-width="0.35"/>
<text x="289.04" y="136.4" font-size="5.55" text-anchor="end" fill="#333" stroke="#333" stroke-width="0.18" transform="rotate(-90 289.04 136.4)">Injured endothelium</text>
<line x1="293" y1="134.2" x2="293" y2="135.3" stroke="#555" stroke-width="0.35"/>
<text x="294.9" y="136.4" font-size="5.55" text-anchor="end" fill="#333" stroke="#333" stroke-width="0.18" transform="rotate(-90 294.9 136.4)">Venular endothelium</text>
<line x1="298.86" y1="134.2" x2="298.86" y2="135.3" stroke="#555" stroke-width="0.35"/>
<text x="300.76" y="136.4" font-size="5.55" text-anchor="end" fill="#333" stroke="#333" stroke-width="0.18" transform="rotate(-90 300.76 136.4)">Lymphatic endothelium</text>
<line x1="304.72" y1="134.2" x2="304.72" y2="135.3" stroke="#555" stroke-width="0.35"/>
<text x="306.62" y="136.4" font-size="5.55" text-anchor="end" fill="#333" stroke="#333" stroke-width="0.18" transform="rotate(-90 306.62 136.4)">CD14+ monocytes</text>
<line x1="310.58" y1="134.2" x2="310.58" y2="135.3" stroke="#555" stroke-width="0.35"/>
<text x="312.48" y="136.4" font-size="5.55" text-anchor="end" fill="#333" stroke="#333" stroke-width="0.18" transform="rotate(-90 312.48 136.4)">CD16+ monocytes</text>
<line x1="316.44" y1="134.2" x2="316.44" y2="135.3" stroke="#555" stroke-width="0.35"/>
<text x="318.34" y="136.4" font-size="5.55" text-anchor="end" fill="#333" stroke="#333" stroke-width="0.18" transform="rotate(-90 318.34 136.4)">CD16+ RUNX3- monocytes</text>
<line x1="322.3" y1="134.2" x2="322.3" y2="135.3" stroke="#555" stroke-width="0.35"/>
<text x="324.2" y="136.4" font-size="5.55" text-anchor="end" fill="#333" stroke="#333" stroke-width="0.18" transform="rotate(-90 324.2 136.4)">FOLR2+ resident Mφ</text>
<line x1="328.16" y1="134.2" x2="328.16" y2="135.3" stroke="#555" stroke-width="0.35"/>
<text x="330.06" y="136.4" font-size="5.55" text-anchor="end" fill="#333" stroke="#333" stroke-width="0.18" transform="rotate(-90 330.06 136.4)">FOLR2+ CXD Mφ</text>
<line x1="334.02" y1="134.2" x2="334.02" y2="135.3" stroke="#555" stroke-width="0.35"/>
<text x="335.92" y="136.4" font-size="5.55" text-anchor="end" fill="#333" stroke="#333" stroke-width="0.18" transform="rotate(-90 335.92 136.4)">TREM2+ Mφ</text>
<line x1="339.88" y1="134.2" x2="339.88" y2="135.3" stroke="#555" stroke-width="0.35"/>
<text x="341.78" y="136.4" font-size="5.55" text-anchor="end" fill="#333" stroke="#333" stroke-width="0.18" transform="rotate(-90 341.78 136.4)">B cells</text>
<line x1="345.74" y1="134.2" x2="345.74" y2="135.3" stroke="#555" stroke-width="0.35"/>
<text x="347.64" y="136.4" font-size="5.55" text-anchor="end" fill="#333" stroke="#333" stroke-width="0.18" transform="rotate(-90 347.64 136.4)">Plasma cells</text>
<line x1="351.6" y1="134.2" x2="351.6" y2="135.3" stroke="#555" stroke-width="0.35"/>
<text x="353.5" y="136.4" font-size="5.55" text-anchor="end" fill="#333" stroke="#333" stroke-width="0.18" transform="rotate(-90 353.5 136.4)">T cells</text>
<line x1="357.46" y1="134.2" x2="357.46" y2="135.3" stroke="#555" stroke-width="0.35"/>
<text x="359.36" y="136.4" font-size="5.55" text-anchor="end" fill="#333" stroke="#333" stroke-width="0.18" transform="rotate(-90 359.36 136.4)">NK cells</text>
<line x1="363.32" y1="134.2" x2="363.32" y2="135.3" stroke="#555" stroke-width="0.35"/>
<text x="365.22" y="136.4" font-size="5.55" text-anchor="end" fill="#333" stroke="#333" stroke-width="0.18" transform="rotate(-90 365.22 136.4)">Dendritic cells</text>
<line x1="369.18" y1="134.2" x2="369.18" y2="135.3" stroke="#555" stroke-width="0.35"/>
<text x="371.08" y="136.4" font-size="5.55" text-anchor="end" fill="#333" stroke="#333" stroke-width="0.18" transform="rotate(-90 371.08 136.4)">Basophils</text>
<line x1="375.04" y1="134.2" x2="375.04" y2="135.3" stroke="#555" stroke-width="0.35"/>
<text x="376.94" y="136.4" font-size="5.55" text-anchor="end" fill="#333" stroke="#333" stroke-width="0.18" transform="rotate(-90 376.94 136.4)">Schwann cells</text>
<text x="395.6" y="12.4" font-size="14" font-weight="bold" fill="#111" stroke="#111" stroke-width="0.1">b</text>
<text x="517.05" y="12.7" font-size="9.37" fill="#222" stroke="#222" stroke-width="0.18">CXCL-iFibro signature</text>
<line x1="405.5" y1="26.6" x2="405.5" y2="167.1" stroke="#9a9a9a" stroke-width="0.8"/>
<line x1="405.5" y1="167.1" x2="532.2" y2="167.1" stroke="#9a9a9a" stroke-width="0.8"/>
<text x="404" y="89.75" font-size="6.9" text-anchor="middle" fill="#333" stroke="#333" stroke-width="0.18" transform="rotate(-90 404 89.75)">UMAP 2</text>
<text x="477.2" y="175.6" font-size="6.8" text-anchor="middle" fill="#333" stroke="#333" stroke-width="0.18">UMAP 1</text>
<g fill="#a4a4a4"><rect x="436.93" y="108.75" width="0.8" height="0.8"/><rect x="465.17" y="115.54" width="0.8" height="0.8"/><rect x="452.67" y="75.47" width="0.8" height="0.8"/><rect x="462.34" y="115.89" width="0.8" height="0.8"/><rect x="419.34" y="103.75" width="0.8" height="0.8"/><rect x="454.38" y="113.79" width="0.8" height="0.8"/><rect x="451.65" y="101.98" width="0.8" height="0.8"/><rect x="412.88" y="95.51" width="0.8" height="0.8"/><rect x="433.3" y="115.39" width="0.8" height="0.8"/><rect x="451.95" y="102.11" width="0.8" height="0.8"/><rect x="442.19" y="120.85" width="0.8" height="0.8"/><rect x="423.75" y="112.61" width="0.8" height="0.8"/><rect x="413.36" y="89.29" width="0.8" height="0.8"/><rect x="413.73" y="86.85" width="0.8" height="0.8"/><rect x="413.75" y="85.27" width="0.8" height="0.8"/><rect x="456.22" y="118.49" width="0.8" height="0.8"/><rect x="456.36" y="99.94" width="0.8" height="0.8"/><rect x="445.95" y="89.12" width="0.8" height="0.8"/><rect x="419.56" y="93.16" width="0.8" height="0.8"/><rect x="452.84" y="73" width="0.8" height="0.8"/><rect x="427.3" y="107.46" width="0.8" height="0.8"/><rect x="452.95" y="119.98" width="0.8" height="0.8"/><rect x="457.19" y="110.88" width="0.8" height="0.8"/><rect x="448.1" y="113.39" width="0.8" height="0.8"/><rect x="447.49" y="121.3" width="0.8" height="0.8"/><rect x="429.3" y="109.47" width="0.8" height="0.8"/><rect x="465.64" y="87.66" width="0.8" height="0.8"/><rect x="445.69" y="89.35" width="0.8" height="0.8"/><rect x="436.31" y="103.23" width="0.8" height="0.8"/><rect x="453.26" y="92.21" width="0.8" height="0.8"/><rect x="456.44" y="114.58" width="0.8" height="0.8"/><rect x="452.92" y="116.87" width="0.8" height="0.8"/><rect x="447.84" y="107.19" width="0.8" height="0.8"/><rect x="420.99" y="111.05" width="0.8" height="0.8"/><rect x="428.41" y="100.29" width="0.8" height="0.8"/><rect x="448.46" y="100.68" width="0.8" height="0.8"/><rect x="459.45" y="85.92" width="0.8" height="0.8"/><rect x="429.88" y="107.9" width="0.8" height="0.8"/><rect x="467.06" y="103.36" width="0.8" height="0.8"/><rect x="425.49" y="105.06" width="0.8" height="0.8"/><rect x="446.59" y="114.19" width="0.8" height="0.8"/><rect x="441.09" y="118.8" width="0.8" height="0.8"/><rect x="440.22" y="119.41" width="0.8" height="0.8"/><rect x="452.31" y="96.27" width="0.8" height="0.8"/><rect x="438.95" y="104.63" width="0.8" height="0.8"/><rect x="436.02" y="99.33" width="0.8" height="0.8"/><rect x="459.2" y="76.46" width="0.8" height="0.8"/><rect x="442.43" y="89.39" width="0.8" height="0.8"/><rect x="463.4" y="86.54" width="0.8" height="0.8"/><rect x="464.52" y="82.47" width="0.8" height="0.8"/><rect x="434.4" y="121.44" width="0.8" height="0.8"/><rect x="444.73" y="119.94" width="0.8" height="0.8"/><rect x="451.66" y="97.76" width="0.8" height="0.8"/><rect x="442.28" y="109.36" width="0.8" height="0.8"/><rect x="423.34" y="107.72" width="0.8" height="0.8"/><rect x="454.87" y="94.13" width="0.8" height="0.8"/><rect x="437.82" y="119.04" width="0.8" height="0.8"/><rect x="445.82" y="86.48" width="0.8" height="0.8"/><rect x="449.81" y="120.79" width="0.8" height="0.8"/><rect x="451.26" y="118.82" width="0.8" height="0.8"/><rect x="457.65" y="79.9" width="0.8" height="0.8"/><rect x="426.77" y="112.29" width="0.8" height="0.8"/><rect x="419.68" y="85.75" width="0.8" height="0.8"/><rect x="449.34" y="83.01" width="0.8" height="0.8"/><rect x="453.96" y="117.08" width="0.8" height="0.8"/><rect x="411.24" y="92.42" width="0.8" height="0.8"/><rect x="413.46" y="100.63" width="0.8" height="0.8"/><rect x="450.19" y="100.29" width="0.8" height="0.8"/><rect x="445.22" y="101.98" width="0.8" height="0.8"/><rect x="462.86" y="98.28" width="0.8" height="0.8"/><rect x="460.42" y="88.61" width="0.8" height="0.8"/><rect x="456.4" y="82" width="0.8" height="0.8"/><rect x="455.18" y="118.35" width="0.8" height="0.8"/><rect x="446.39" y="90.09" width="0.8" height="0.8"/><rect x="463.2" y="81.68" width="0.8" height="0.8"/><rect x="423.42" y="95.65" width="0.8" height="0.8"/><rect x="431.69" y="105.68" width="0.8" height="0.8"/><rect x="425.77" y="120.92" width="0.8" height="0.8"/><rect x="454.37" y="93.04" width="0.8" height="0.8"/><rect x="464.91" y="85.84" width="0.8" height="0.8"/><rect x="444.6" y="101.32" width="0.8" height="0.8"/><rect x="429.1" y="104.32" width="0.8" height="0.8"/><rect x="426.36" y="88.29" width="0.8" height="0.8"/><rect x="458.48" y="99.07" width="0.8" height="0.8"/><rect x="439.23" y="111.66" width="0.8" height="0.8"/><rect x="459.12" y="78.96" width="0.8" height="0.8"/><rect x="426.02" y="95.74" width="0.8" height="0.8"/><rect x="460.33" y="75.82" width="0.8" height="0.8"/><rect x="429.58" y="98.34" width="0.8" height="0.8"/><rect x="449.62" y="75.28" width="0.8" height="0.8"/><rect x="454.16" y="99.67" width="0.8" height="0.8"/><rect x="428.16" y="117.69" width="0.8" height="0.8"/><rect x="422.08" y="105.62" width="0.8" height="0.8"/><rect x="454.71" y="114.04" width="0.8" height="0.8"/><rect x="413.88" y="89.92" width="0.8" height="0.8"/><rect x="442.79" y="116.72" width="0.8" height="0.8"/><rect x="448.14" y="105.85" width="0.8" height="0.8"/><rect x="448.81" y="76.13" width="0.8" height="0.8"/><rect x="456.31" y="94.57" width="0.8" height="0.8"/><rect x="433.33" y="107.48" width="0.8" height="0.8"/><rect x="414.09" y="84.63" width="0.8" height="0.8"/><rect x="454.91" y="94" width="0.8" height="0.8"/><rect x="454.58" y="104.32" width="0.8" height="0.8"/><rect x="436.03" y="107.94" width="0.8" height="0.8"/><rect x="437.1" y="117.23" width="0.8" height="0.8"/><rect x="455.64" y="104.97" width="0.8" height="0.8"/><rect x="446.27" y="113.7" width="0.8" height="0.8"/><rect x="426.79" y="90.88" width="0.8" height="0.8"/><rect x="446.81" y="113.93" width="0.8" height="0.8"/><rect x="425.66" y="93.3" width="0.8" height="0.8"/><rect x="415.41" y="103.53" width="0.8" height="0.8"/><rect x="462.49" y="88.08" width="0.8" height="0.8"/><rect x="466.03" y="92.26" width="0.8" height="0.8"/><rect x="441.21" y="122.34" width="0.8" height="0.8"/><rect x="451.49" y="96.9" width="0.8" height="0.8"/><rect x="454.12" y="95.16" width="0.8" height="0.8"/><rect x="452.17" y="81.61" width="0.8" height="0.8"/><rect x="414.14" y="101.95" width="0.8" height="0.8"/><rect x="440.5" y="94.48" width="0.8" height="0.8"/><rect x="450.94" y="121.18" width="0.8" height="0.8"/><rect x="419.92" y="115.86" width="0.8" height="0.8"/><rect x="446.07" y="85.56" width="0.8" height="0.8"/><rect x="456.33" y="104.26" width="0.8" height="0.8"/><rect x="426.81" y="95.18" width="0.8" height="0.8"/><rect x="423.21" y="85.67" width="0.8" height="0.8"/><rect x="454.05" y="93.93" width="0.8" height="0.8"/><rect x="433.62" y="100.57" width="0.8" height="0.8"/><rect x="416.39" y="99.14" width="0.8" height="0.8"/><rect x="466.53" y="77.12" width="0.8" height="0.8"/><rect x="446.52" y="120.49" width="0.8" height="0.8"/><rect x="446.45" y="116.73" width="0.8" height="0.8"/><rect x="429.99" y="117.87" width="0.8" height="0.8"/><rect x="449.06" y="90.95" width="0.8" height="0.8"/><rect x="461.64" y="71.93" width="0.8" height="0.8"/><rect x="461.19" y="74.59" width="0.8" height="0.8"/><rect x="458.19" y="94.33" width="0.8" height="0.8"/><rect x="453.27" y="93.95" width="0.8" height="0.8"/><rect x="447.51" y="81.2" width="0.8" height="0.8"/><rect x="433.31" y="101.74" width="0.8" height="0.8"/><rect x="420.96" y="94.35" width="0.8" height="0.8"/><rect x="440.05" y="115.89" width="0.8" height="0.8"/><rect x="443.63" y="113.42" width="0.8" height="0.8"/><rect x="431.08" y="103.92" width="0.8" height="0.8"/><rect x="459.28" y="82.28" width="0.8" height="0.8"/><rect x="451.24" y="110.23" width="0.8" height="0.8"/><rect x="443.81" y="93.55" width="0.8" height="0.8"/><rect x="430.5" y="104.24" width="0.8" height="0.8"/><rect x="440.44" y="91.01" width="0.8" height="0.8"/><rect x="455.03" y="72.48" width="0.8" height="0.8"/><rect x="461.88" y="106.27" width="0.8" height="0.8"/><rect x="434.35" y="106.95" width="0.8" height="0.8"/><rect x="465.02" y="104.96" width="0.8" height="0.8"/><rect x="449.03" y="107.51" width="0.8" height="0.8"/><rect x="463.63" y="117.62" width="0.8" height="0.8"/><rect x="425.99" y="89.26" width="0.8" height="0.8"/><rect x="424.2" y="94.29" width="0.8" height="0.8"/><rect x="464.94" y="79.83" width="0.8" height="0.8"/><rect x="432.11" y="114.58" width="0.8" height="0.8"/><rect x="417.33" y="88.63" width="0.8" height="0.8"/><rect x="442.1" y="111.15" width="0.8" height="0.8"/><rect x="460.45" y="83.42" width="0.8" height="0.8"/><rect x="465.79" y="93.08" width="0.8" height="0.8"/><rect x="435.4" y="113.44" width="0.8" height="0.8"/><rect x="456.9" y="114.06" width="0.8" height="0.8"/><rect x="448.19" y="112.47" width="0.8" height="0.8"/><rect x="412.54" y="97.82" width="0.8" height="0.8"/><rect x="417.97" y="102.05" width="0.8" height="0.8"/><rect x="441.49" y="120.74" width="0.8" height="0.8"/><rect x="421.52" y="113.59" width="0.8" height="0.8"/><rect x="434.93" y="115.87" width="0.8" height="0.8"/><rect x="426.14" y="95.07" width="0.8" height="0.8"/><rect x="437.62" y="96.58" width="0.8" height="0.8"/><rect x="435.91" y="113.07" width="0.8" height="0.8"/><rect x="421.39" y="96.84" width="0.8" height="0.8"/><rect x="448.73" y="80.62" width="0.8" height="0.8"/><rect x="464.17" y="85.45" width="0.8" height="0.8"/><rect x="447.27" y="110.92" width="0.8" height="0.8"/><rect x="430.87" y="122.61" width="0.8" height="0.8"/><rect x="424.79" y="117.43" width="0.8" height="0.8"/><rect x="461.89" y="78.82" width="0.8" height="0.8"/><rect x="433" y="100.94" width="0.8" height="0.8"/><rect x="417.26" y="91.07" width="0.8" height="0.8"/><rect x="454.58" y="106.61" width="0.8" height="0.8"/><rect x="433.69" y="112.76" width="0.8" height="0.8"/><rect x="461.81" y="97.73" width="0.8" height="0.8"/><rect x="432.51" y="123.03" width="0.8" height="0.8"/><rect x="455.15" y="76.91" width="0.8" height="0.8"/><rect x="441.53" y="90.08" width="0.8" height="0.8"/><rect x="438.83" y="110.41" width="0.8" height="0.8"/><rect x="429.51" y="102.06" width="0.8" height="0.8"/><rect x="423.66" y="93.53" width="0.8" height="0.8"/><rect x="462.06" y="109.39" width="0.8" height="0.8"/><rect x="445.18" y="95.25" width="0.8" height="0.8"/><rect x="463.93" y="82.26" width="0.8" height="0.8"/><rect x="456.88" y="116.33" width="0.8" height="0.8"/><rect x="420.75" y="93.57" width="0.8" height="0.8"/><rect x="451.55" y="91.85" width="0.8" height="0.8"/><rect x="412.63" y="97.72" width="0.8" height="0.8"/><rect x="426.85" y="113.52" width="0.8" height="0.8"/><rect x="463.15" y="92.16" width="0.8" height="0.8"/><rect x="459.97" y="100.4" width="0.8" height="0.8"/><rect x="414.58" y="84.67" width="0.8" height="0.8"/><rect x="450.59" y="119.59" width="0.8" height="0.8"/><rect x="445.55" y="113.86" width="0.8" height="0.8"/><rect x="467.1" y="95.06" width="0.8" height="0.8"/><rect x="422.39" y="105.53" width="0.8" height="0.8"/><rect x="412.87" y="86.31" width="0.8" height="0.8"/><rect x="431.83" y="113.06" width="0.8" height="0.8"/><rect x="411.01" y="86.97" width="0.8" height="0.8"/><rect x="427.69" y="105.38" width="0.8" height="0.8"/><rect x="461.24" y="95.55" width="0.8" height="0.8"/><rect x="459.39" y="92.4" width="0.8" height="0.8"/><rect x="421.17" y="117.69" width="0.8" height="0.8"/><rect x="445.14" y="84.08" width="0.8" height="0.8"/><rect x="441.39" y="91.46" width="0.8" height="0.8"/><rect x="460.81" y="102.47" width="0.8" height="0.8"/><rect x="418.31" y="92.25" width="0.8" height="0.8"/><rect x="426.96" y="117.98" width="0.8" height="0.8"/><rect x="459.34" y="112.46" width="0.8" height="0.8"/><rect x="464.36" y="75.42" width="0.8" height="0.8"/><rect x="433.7" y="100.14" width="0.8" height="0.8"/><rect x="460.86" y="85.08" width="0.8" height="0.8"/><rect x="424.03" y="113.95" width="0.8" height="0.8"/><rect x="459.44" y="72.6" width="0.8" height="0.8"/><rect x="421.99" y="87.67" width="0.8" height="0.8"/><rect x="455.99" y="92.57" width="0.8" height="0.8"/><rect x="452.63" y="84.82" width="0.8" height="0.8"/><rect x="459.07" y="76.19" width="0.8" height="0.8"/><rect x="440.37" y="106.77" width="0.8" height="0.8"/><rect x="438.75" y="103.12" width="0.8" height="0.8"/><rect x="438.93" y="109.8" width="0.8" height="0.8"/><rect x="436.07" y="106.18" width="0.8" height="0.8"/><rect x="419.77" y="106.09" width="0.8" height="0.8"/><rect x="450.78" y="78.25" width="0.8" height="0.8"/><rect x="465.14" y="90.89" width="0.8" height="0.8"/><rect x="430.02" y="106.21" width="0.8" height="0.8"/><rect x="463.89" y="114.86" width="0.8" height="0.8"/><rect x="438.27" y="103.12" width="0.8" height="0.8"/><rect x="458.96" y="80.52" width="0.8" height="0.8"/><rect x="437.08" y="104.22" width="0.8" height="0.8"/><rect x="461.28" y="75.74" width="0.8" height="0.8"/><rect x="459.99" y="116.24" width="0.8" height="0.8"/><rect x="445.75" y="98.82" width="0.8" height="0.8"/><rect x="463.97" y="105.12" width="0.8" height="0.8"/><rect x="430.65" y="114.63" width="0.8" height="0.8"/><rect x="450.21" y="118.9" width="0.8" height="0.8"/><rect x="453" y="114.59" width="0.8" height="0.8"/><rect x="456.81" y="100.84" width="0.8" height="0.8"/><rect x="450.7" y="73.68" width="0.8" height="0.8"/><rect x="432.29" y="113.05" width="0.8" height="0.8"/><rect x="415.08" y="87.42" width="0.8" height="0.8"/><rect x="446.55" y="93.91" width="0.8" height="0.8"/><rect x="448.9" y="99.19" width="0.8" height="0.8"/><rect x="444.32" y="118.57" width="0.8" height="0.8"/><rect x="464.64" y="85.47" width="0.8" height="0.8"/><rect x="461.81" y="97.86" width="0.8" height="0.8"/><rect x="433.29" y="120.83" width="0.8" height="0.8"/><rect x="465.01" y="92.03" width="0.8" height="0.8"/><rect x="439.19" y="120.77" width="0.8" height="0.8"/><rect x="438.41" y="120.81" width="0.8" height="0.8"/><rect x="450.84" y="116.89" width="0.8" height="0.8"/><rect x="454.42" y="83.11" width="0.8" height="0.8"/><rect x="455.52" y="111.6" width="0.8" height="0.8"/><rect x="436.76" y="110.37" width="0.8" height="0.8"/><rect x="432.46" y="119.66" width="0.8" height="0.8"/><rect x="450.65" y="105.7" width="0.8" height="0.8"/><rect x="458.17" y="108.6" width="0.8" height="0.8"/><rect x="454.58" y="81.24" width="0.8" height="0.8"/><rect x="444.69" y="94" width="0.8" height="0.8"/><rect x="429.91" y="103.49" width="0.8" height="0.8"/><rect x="458.02" y="119.85" width="0.8" height="0.8"/><rect x="440.67" y="93.82" width="0.8" height="0.8"/><rect x="452.45" y="79.48" width="0.8" height="0.8"/><rect x="456.42" y="80.96" width="0.8" height="0.8"/><rect x="455.08" y="93.61" width="0.8" height="0.8"/><rect x="453.8" y="88.99" width="0.8" height="0.8"/><rect x="466.53" y="96.75" width="0.8" height="0.8"/><rect x="427.55" y="105.89" width="0.8" height="0.8"/><rect x="466.46" y="80.93" width="0.8" height="0.8"/><rect x="457.42" y="74.08" width="0.8" height="0.8"/><rect x="425.93" y="110.72" width="0.8" height="0.8"/><rect x="454.37" y="112.24" width="0.8" height="0.8"/><rect x="443.64" y="110.33" width="0.8" height="0.8"/><rect x="457.49" y="91.03" width="0.8" height="0.8"/><rect x="417.19" y="111.01" width="0.8" height="0.8"/><rect x="421.92" y="115.95" width="0.8" height="0.8"/><rect x="446.42" y="120.57" width="0.8" height="0.8"/><rect x="445.21" y="115.08" width="0.8" height="0.8"/><rect x="438.85" y="117.67" width="0.8" height="0.8"/><rect x="433.72" y="119.73" width="0.8" height="0.8"/><rect x="447.73" y="119.3" width="0.8" height="0.8"/><rect x="412.13" y="89.31" width="0.8" height="0.8"/><rect x="462.8" y="84.06" width="0.8" height="0.8"/><rect x="441.67" y="92.25" width="0.8" height="0.8"/><rect x="461.97" y="87.27" width="0.8" height="0.8"/><rect x="433.86" y="122.78" width="0.8" height="0.8"/><rect x="462.55" y="98.5" width="0.8" height="0.8"/><rect x="440.25" y="103.14" width="0.8" height="0.8"/><rect x="453.45" y="72.63" width="0.8" height="0.8"/><rect x="464.95" y="116.85" width="0.8" height="0.8"/><rect x="440.9" y="96.81" width="0.8" height="0.8"/><rect x="452.4" y="117.66" width="0.8" height="0.8"/><rect x="447.95" y="85.28" width="0.8" height="0.8"/><rect x="464.89" y="83.13" width="0.8" height="0.8"/><rect x="430.41" y="104.59" width="0.8" height="0.8"/><rect x="453.07" y="93.96" width="0.8" height="0.8"/><rect x="417.72" y="91.74" width="0.8" height="0.8"/><rect x="457.78" y="84.7" width="0.8" height="0.8"/><rect x="437.83" y="114.37" width="0.8" height="0.8"/><rect x="457.77" y="78.92" width="0.8" height="0.8"/><rect x="423.58" y="88.17" width="0.8" height="0.8"/><rect x="449.74" y="109.33" width="0.8" height="0.8"/><rect x="453" y="81.27" width="0.8" height="0.8"/><rect x="444.29" y="110.74" width="0.8" height="0.8"/><rect x="421.64" y="103.02" width="0.8" height="0.8"/><rect x="426.94" y="95.8" width="0.8" height="0.8"/><rect x="435.78" y="116" width="0.8" height="0.8"/><rect x="430.83" y="109.5" width="0.8" height="0.8"/><rect x="427.8" y="102.29" width="0.8" height="0.8"/><rect x="460.12" y="82.2" width="0.8" height="0.8"/><rect x="434.25" y="122.36" width="0.8" height="0.8"/><rect x="458.4" y="117.3" width="0.8" height="0.8"/><rect x="445.07" y="89.78" width="0.8" height="0.8"/><rect x="455.59" y="105.33" width="0.8" height="0.8"/><rect x="432.52" y="114.52" width="0.8" height="0.8"/><rect x="443.87" y="97.24" width="0.8" height="0.8"/><rect x="449.39" y="77.1" width="0.8" height="0.8"/><rect x="451.03" y="93.09" width="0.8" height="0.8"/><rect x="417.18" y="99.91" width="0.8" height="0.8"/><rect x="424.23" y="90.74" width="0.8" height="0.8"/><rect x="438.19" y="95.9" width="0.8" height="0.8"/><rect x="423.51" y="87.41" width="0.8" height="0.8"/><rect x="414.87" y="100.5" width="0.8" height="0.8"/><rect x="452.1" y="98.09" width="0.8" height="0.8"/><rect x="444.33" y="98.6" width="0.8" height="0.8"/><rect x="465.28" y="80.58" width="0.8" height="0.8"/><rect x="422.93" y="106.41" width="0.8" height="0.8"/><rect x="459.27" y="111.65" width="0.8" height="0.8"/><rect x="451.02" y="91" width="0.8" height="0.8"/><rect x="449.01" y="114.96" width="0.8" height="0.8"/><rect x="452" y="117.3" width="0.8" height="0.8"/><rect x="455.5" y="109.12" width="0.8" height="0.8"/><rect x="463.37" y="112.51" width="0.8" height="0.8"/><rect x="429.2" y="96.88" width="0.8" height="0.8"/><rect x="415.15" y="92.23" width="0.8" height="0.8"/><rect x="447.36" y="81.3" width="0.8" height="0.8"/><rect x="443.63" y="87.6" width="0.8" height="0.8"/><rect x="423.3" y="89.03" width="0.8" height="0.8"/><rect x="444.66" y="94.68" width="0.8" height="0.8"/><rect x="435.86" y="111.46" width="0.8" height="0.8"/><rect x="447.5" y="101.19" width="0.8" height="0.8"/><rect x="448.14" y="115.82" width="0.8" height="0.8"/><rect x="453.1" y="93.58" width="0.8" height="0.8"/><rect x="458.96" y="108.21" width="0.8" height="0.8"/><rect x="440.35" y="102.28" width="0.8" height="0.8"/><rect x="439.63" y="100.88" width="0.8" height="0.8"/><rect x="456.19" y="74.96" width="0.8" height="0.8"/><rect x="452.14" y="112.53" width="0.8" height="0.8"/><rect x="423.62" y="100.06" width="0.8" height="0.8"/><rect x="457.06" y="120.77" width="0.8" height="0.8"/><rect x="452.55" y="102.76" width="0.8" height="0.8"/><rect x="415.7" y="101.46" width="0.8" height="0.8"/><rect x="447.61" y="86.14" width="0.8" height="0.8"/><rect x="426.76" y="115.84" width="0.8" height="0.8"/><rect x="413.82" y="92.12" width="0.8" height="0.8"/><rect x="445.44" y="83.52" width="0.8" height="0.8"/><rect x="423.15" y="87.82" width="0.8" height="0.8"/><rect x="451.64" y="92.21" width="0.8" height="0.8"/><rect x="451.77" y="119.23" width="0.8" height="0.8"/><rect x="463.46" y="98.54" width="0.8" height="0.8"/><rect x="424.72" y="103.71" width="0.8" height="0.8"/><rect x="415.05" y="88.08" width="0.8" height="0.8"/><rect x="427.48" y="121.07" width="0.8" height="0.8"/><rect x="442.65" y="90.77" width="0.8" height="0.8"/><rect x="426.27" y="98.18" width="0.8" height="0.8"/><rect x="440.91" y="115.98" width="0.8" height="0.8"/><rect x="439.03" y="122.25" width="0.8" height="0.8"/><rect x="433.07" y="120.37" width="0.8" height="0.8"/><rect x="441" y="90.77" width="0.8" height="0.8"/><rect x="460.64" y="76.81" width="0.8" height="0.8"/><rect x="426.64" y="89.57" width="0.8" height="0.8"/><rect x="422.87" y="92.66" width="0.8" height="0.8"/><rect x="417.69" y="102.53" width="0.8" height="0.8"/><rect x="437.19" y="107" width="0.8" height="0.8"/><rect x="431.96" y="112.56" width="0.8" height="0.8"/><rect x="466.04" y="88.33" width="0.8" height="0.8"/><rect x="442.59" y="118.22" width="0.8" height="0.8"/><rect x="440.46" y="103.58" width="0.8" height="0.8"/><rect x="442.47" y="120.66" width="0.8" height="0.8"/><rect x="442.53" y="93.23" width="0.8" height="0.8"/><rect x="429.33" y="119.41" width="0.8" height="0.8"/><rect x="429.96" y="118.84" width="0.8" height="0.8"/><rect x="460.8" y="88.48" width="0.8" height="0.8"/><rect x="442.7" y="89.92" width="0.8" height="0.8"/><rect x="460.93" y="106.88" width="0.8" height="0.8"/><rect x="450.16" y="102.5" width="0.8" height="0.8"/><rect x="446.47" y="107.59" width="0.8" height="0.8"/><rect x="461.02" y="85.48" width="0.8" height="0.8"/><rect x="419.34" y="87.58" width="0.8" height="0.8"/><rect x="455.84" y="115.85" width="0.8" height="0.8"/><rect x="433.63" y="99.45" width="0.8" height="0.8"/><rect x="456.7" y="110.97" width="0.8" height="0.8"/><rect x="455.32" y="97.95" width="0.8" height="0.8"/><rect x="448.52" y="76.73" width="0.8" height="0.8"/><rect x="461.62" y="114.85" width="0.8" height="0.8"/><rect x="444.63" y="119.62" width="0.8" height="0.8"/><rect x="417.17" y="107.11" width="0.8" height="0.8"/><rect x="434.09" y="107.9" width="0.8" height="0.8"/><rect x="455.04" y="119.99" width="0.8" height="0.8"/><rect x="465.62" y="98.84" width="0.8" height="0.8"/><rect x="463.61" y="92.58" width="0.8" height="0.8"/><rect x="452.25" y="98.21" width="0.8" height="0.8"/><rect x="460.49" y="77.96" width="0.8" height="0.8"/><rect x="454.38" y="115.46" width="0.8" height="0.8"/><rect x="452.13" y="78.43" width="0.8" height="0.8"/><rect x="447.53" y="114.31" width="0.8" height="0.8"/><rect x="445.03" y="92.76" width="0.8" height="0.8"/><rect x="465.72" y="85.39" width="0.8" height="0.8"/><rect x="435.26" y="104.03" width="0.8" height="0.8"/><rect x="419.92" y="88.03" width="0.8" height="0.8"/><rect x="453.15" y="92.24" width="0.8" height="0.8"/><rect x="460.85" y="87.37" width="0.8" height="0.8"/><rect x="434.96" y="121.29" width="0.8" height="0.8"/><rect x="426.2" y="90.53" width="0.8" height="0.8"/><rect x="433.88" y="101.92" width="0.8" height="0.8"/><rect x="432.39" y="119.73" width="0.8" height="0.8"/><rect x="455.64" y="84.67" width="0.8" height="0.8"/><rect x="453.96" y="88.96" width="0.8" height="0.8"/><rect x="448.81" y="79.23" width="0.8" height="0.8"/><rect x="430.08" y="107.95" width="0.8" height="0.8"/><rect x="442.07" y="103.16" width="0.8" height="0.8"/><rect x="441.97" y="92.53" width="0.8" height="0.8"/><rect x="437.72" y="106.86" width="0.8" height="0.8"/><rect x="464.96" y="86.42" width="0.8" height="0.8"/><rect x="466.51" y="106.86" width="0.8" height="0.8"/><rect x="428.58" y="114.09" width="0.8" height="0.8"/><rect x="444.49" y="99.11" width="0.8" height="0.8"/><rect x="455.35" y="81.04" width="0.8" height="0.8"/><rect x="418.04" y="105.27" width="0.8" height="0.8"/><rect x="433.75" y="105.62" width="0.8" height="0.8"/><rect x="457.67" y="86.8" width="0.8" height="0.8"/><rect x="416.98" y="91.4" width="0.8" height="0.8"/><rect x="443.09" y="111.5" width="0.8" height="0.8"/><rect x="463.51" y="117.56" width="0.8" height="0.8"/><rect x="431.49" y="116.22" width="0.8" height="0.8"/><rect x="461.38" y="102.96" width="0.8" height="0.8"/><rect x="430.51" y="101.07" width="0.8" height="0.8"/><rect x="463.62" y="100.46" width="0.8" height="0.8"/><rect x="432.79" y="113.52" width="0.8" height="0.8"/><rect x="450.84" y="93.27" width="0.8" height="0.8"/><rect x="446.21" y="121.58" width="0.8" height="0.8"/><rect x="428.91" y="112.76" width="0.8" height="0.8"/><rect x="453.59" y="103.51" width="0.8" height="0.8"/><rect x="453.57" y="110.35" width="0.8" height="0.8"/><rect x="465.15" y="87.31" width="0.8" height="0.8"/><rect x="459.08" y="93.97" width="0.8" height="0.8"/><rect x="461.84" y="103.96" width="0.8" height="0.8"/><rect x="424.68" y="88.75" width="0.8" height="0.8"/><rect x="447.25" y="113.17" width="0.8" height="0.8"/><rect x="422.38" y="113.44" width="0.8" height="0.8"/><rect x="450.97" y="88.26" width="0.8" height="0.8"/><rect x="421.43" y="111.5" width="0.8" height="0.8"/><rect x="466.8" y="104.92" width="0.8" height="0.8"/><rect x="424.32" y="111.92" width="0.8" height="0.8"/><rect x="445.76" y="114.5" width="0.8" height="0.8"/><rect x="440.86" y="107.85" width="0.8" height="0.8"/><rect x="462.85" y="95.86" width="0.8" height="0.8"/><rect x="414.46" y="99.78" width="0.8" height="0.8"/><rect x="431.41" y="114.89" width="0.8" height="0.8"/><rect x="455.38" y="99.54" width="0.8" height="0.8"/><rect x="430.92" y="110.26" width="0.8" height="0.8"/><rect x="457.52" y="95.43" width="0.8" height="0.8"/><rect x="449.41" y="113.51" width="0.8" height="0.8"/><rect x="432.17" y="99.27" width="0.8" height="0.8"/><rect x="422.17" y="93.53" width="0.8" height="0.8"/><rect x="457.4" y="103.37" width="0.8" height="0.8"/><rect x="447.05" y="118.18" width="0.8" height="0.8"/><rect x="457.39" y="91.69" width="0.8" height="0.8"/><rect x="426.33" y="98.19" width="0.8" height="0.8"/><rect x="466.41" y="91.61" width="0.8" height="0.8"/><rect x="435.79" y="111.54" width="0.8" height="0.8"/><rect x="411.3" y="83.65" width="0.8" height="0.8"/><rect x="461.02" y="115.87" width="0.8" height="0.8"/><rect x="453.38" y="83.93" width="0.8" height="0.8"/><rect x="463.51" y="91.37" width="0.8" height="0.8"/><rect x="457.34" y="119.03" width="0.8" height="0.8"/><rect x="458.59" y="111.04" width="0.8" height="0.8"/><rect x="456.85" y="78.77" width="0.8" height="0.8"/><rect x="441.35" y="92.8" width="0.8" height="0.8"/><rect x="466.66" y="97.86" width="0.8" height="0.8"/><rect x="462.09" y="79.66" width="0.8" height="0.8"/><rect x="443.33" y="100.38" width="0.8" height="0.8"/><rect x="425.49" y="117.33" width="0.8" height="0.8"/><rect x="458.47" y="94.21" width="0.8" height="0.8"/><rect x="423.54" y="85.53" width="0.8" height="0.8"/><rect x="462.8" y="91.45" width="0.8" height="0.8"/><rect x="462.47" y="90.9" width="0.8" height="0.8"/><rect x="424.71" y="100.87" width="0.8" height="0.8"/><rect x="442.84" y="110.61" width="0.8" height="0.8"/><rect x="461.08" y="77.19" width="0.8" height="0.8"/><rect x="410.76" y="87.57" width="0.8" height="0.8"/><rect x="461.35" y="82.63" width="0.8" height="0.8"/><rect x="419.28" y="108.28" width="0.8" height="0.8"/><rect x="457.8" y="90.33" width="0.8" height="0.8"/><rect x="458.13" y="112.92" width="0.8" height="0.8"/><rect x="454.33" y="72.19" width="0.8" height="0.8"/><rect x="439.93" y="121.98" width="0.8" height="0.8"/><rect x="419.47" y="103.85" width="0.8" height="0.8"/><rect x="454.19" y="90.78" width="0.8" height="0.8"/><rect x="453.54" y="87.34" width="0.8" height="0.8"/><rect x="429.4" y="121.14" width="0.8" height="0.8"/><rect x="448.71" y="117.03" width="0.8" height="0.8"/><rect x="435.29" y="112.61" width="0.8" height="0.8"/><rect x="460.05" y="78.44" width="0.8" height="0.8"/><rect x="465.94" y="75.48" width="0.8" height="0.8"/><rect x="443.67" y="90.9" width="0.8" height="0.8"/><rect x="451.92" y="86.09" width="0.8" height="0.8"/><rect x="447.17" y="107.25" width="0.8" height="0.8"/><rect x="413.66" y="101.89" width="0.8" height="0.8"/><rect x="441.02" y="89.31" width="0.8" height="0.8"/><rect x="501.3" y="70.2" width="0.8" height="0.8"/><rect x="515.96" y="102.99" width="0.8" height="0.8"/><rect x="517.79" y="74.82" width="0.8" height="0.8"/><rect x="504.52" y="67" width="0.8" height="0.8"/><rect x="518.59" y="141.99" width="0.8" height="0.8"/><rect x="508.56" y="91.76" width="0.8" height="0.8"/><rect x="518.34" y="102.04" width="0.8" height="0.8"/><rect x="511.43" y="130.62" width="0.8" height="0.8"/><rect x="505.3" y="127.59" width="0.8" height="0.8"/><rect x="509.95" y="104.3" width="0.8" height="0.8"/><rect x="512.12" y="72.64" width="0.8" height="0.8"/><rect x="507.41" y="89.35" width="0.8" height="0.8"/><rect x="510.68" y="78.34" width="0.8" height="0.8"/><rect x="515.15" y="93.2" width="0.8" height="0.8"/><rect x="516.7" y="129.76" width="0.8" height="0.8"/><rect x="518.46" y="73.33" width="0.8" height="0.8"/><rect x="501.16" y="63.86" width="0.8" height="0.8"/><rect x="509.5" y="138.24" width="0.8" height="0.8"/><rect x="512.09" y="110.78" width="0.8" height="0.8"/><rect x="507.28" y="121.82" width="0.8" height="0.8"/><rect x="507.95" y="136.92" width="0.8" height="0.8"/><rect x="504.34" y="68.15" width="0.8" height="0.8"/><rect x="511.78" y="74.96" width="0.8" height="0.8"/><rect x="516.78" y="90.3" width="0.8" height="0.8"/><rect x="507.98" y="107.57" width="0.8" height="0.8"/><rect x="504.68" y="87.19" width="0.8" height="0.8"/><rect x="503.31" y="80.08" width="0.8" height="0.8"/><rect x="513.21" y="75.99" width="0.8" height="0.8"/><rect x="510.06" y="144.84" width="0.8" height="0.8"/><rect x="512.94" y="136.43" width="0.8" height="0.8"/><rect x="503.7" y="72.89" width="0.8" height="0.8"/><rect x="521.76" y="105.9" width="0.8" height="0.8"/><rect x="519.74" y="112.61" width="0.8" height="0.8"/><rect x="505.54" y="125.8" width="0.8" height="0.8"/><rect x="509.23" y="73.81" width="0.8" height="0.8"/><rect x="518.78" y="122.69" width="0.8" height="0.8"/><rect x="517.18" y="134.53" width="0.8" height="0.8"/><rect x="513.59" y="72.81" width="0.8" height="0.8"/><rect x="515.75" y="72.25" width="0.8" height="0.8"/><rect x="512.76" y="105.58" width="0.8" height="0.8"/><rect x="504.48" y="75.19" width="0.8" height="0.8"/><rect x="505.82" y="94.35" width="0.8" height="0.8"/><rect x="502.56" y="84.55" width="0.8" height="0.8"/><rect x="510.46" y="101.4" width="0.8" height="0.8"/><rect x="508.81" y="63.59" width="0.8" height="0.8"/><rect x="509.21" y="135.62" width="0.8" height="0.8"/><rect x="520.21" y="133.45" width="0.8" height="0.8"/><rect x="506.3" y="119.88" width="0.8" height="0.8"/><rect x="506.82" y="103.35" width="0.8" height="0.8"/><rect x="521.38" y="107.67" width="0.8" height="0.8"/><rect x="514.32" y="103.16" width="0.8" height="0.8"/><rect x="513.38" y="112.77" width="0.8" height="0.8"/><rect x="515.4" y="108.49" width="0.8" height="0.8"/><rect x="517.45" y="74.91" width="0.8" height="0.8"/><rect x="512.47" y="117.68" width="0.8" height="0.8"/><rect x="517.46" y="82.34" width="0.8" height="0.8"/><rect x="520.2" y="132.93" width="0.8" height="0.8"/><rect x="519.85" y="132.1" width="0.8" height="0.8"/><rect x="503.1" y="74.43" width="0.8" height="0.8"/><rect x="511.18" y="143.93" width="0.8" height="0.8"/><rect x="510.64" y="108.84" width="0.8" height="0.8"/><rect x="515.28" y="71.04" width="0.8" height="0.8"/><rect x="508.84" y="91.52" width="0.8" height="0.8"/><rect x="504.26" y="81.16" width="0.8" height="0.8"/><rect x="517.9" y="150.85" width="0.8" height="0.8"/><rect x="516.63" y="149.04" width="0.8" height="0.8"/><rect x="510.6" y="92.23" width="0.8" height="0.8"/><rect x="520.1" y="103.52" width="0.8" height="0.8"/><rect x="507.47" y="118.54" width="0.8" height="0.8"/><rect x="507.83" y="114.47" width="0.8" height="0.8"/><rect x="505.74" y="72.43" width="0.8" height="0.8"/><rect x="512.36" y="128.41" width="0.8" height="0.8"/><rect x="515.9" y="114.74" width="0.8" height="0.8"/><rect x="503.48" y="62.83" width="0.8" height="0.8"/><rect x="509.01" y="133.2" width="0.8" height="0.8"/><rect x="507.02" y="98.1" width="0.8" height="0.8"/><rect x="515.21" y="108.18" width="0.8" height="0.8"/><rect x="510.73" y="147.4" width="0.8" height="0.8"/><rect x="506.32" y="118.09" width="0.8" height="0.8"/><rect x="506.72" y="127.25" width="0.8" height="0.8"/><rect x="512.6" y="145.05" width="0.8" height="0.8"/><rect x="500.3" y="68.09" width="0.8" height="0.8"/><rect x="521.17" y="107.32" width="0.8" height="0.8"/><rect x="517.44" y="104" width="0.8" height="0.8"/><rect x="506.44" y="105.26" width="0.8" height="0.8"/><rect x="513.28" y="119.58" width="0.8" height="0.8"/><rect x="516.84" y="115.78" width="0.8" height="0.8"/><rect x="508.63" y="95.81" width="0.8" height="0.8"/><rect x="506.86" y="87.53" width="0.8" height="0.8"/><rect x="507.49" y="127.57" width="0.8" height="0.8"/><rect x="503.29" y="86.86" width="0.8" height="0.8"/><rect x="512.49" y="125.21" width="0.8" height="0.8"/><rect x="514.63" y="115.75" width="0.8" height="0.8"/><rect x="515.22" y="120.38" width="0.8" height="0.8"/><rect x="519.33" y="121.06" width="0.8" height="0.8"/><rect x="517.56" y="131.77" width="0.8" height="0.8"/><rect x="508.49" y="74.52" width="0.8" height="0.8"/><rect x="500.69" y="86.6" width="0.8" height="0.8"/><rect x="515.58" y="106.02" width="0.8" height="0.8"/><rect x="511.02" y="144.02" width="0.8" height="0.8"/><rect x="517.33" y="112.93" width="0.8" height="0.8"/><rect x="512.51" y="77" width="0.8" height="0.8"/><rect x="512.16" y="113.75" width="0.8" height="0.8"/><rect x="515.04" y="137.21" width="0.8" height="0.8"/><rect x="508.36" y="90.22" width="0.8" height="0.8"/><rect x="507.04" y="108.54" width="0.8" height="0.8"/><rect x="514.79" y="67.7" width="0.8" height="0.8"/><rect x="506.94" y="68.94" width="0.8" height="0.8"/><rect x="515.88" y="144.16" width="0.8" height="0.8"/><rect x="520.8" y="115.08" width="0.8" height="0.8"/><rect x="507.62" y="139.01" width="0.8" height="0.8"/><rect x="505.55" y="81.06" width="0.8" height="0.8"/><rect x="503.06" y="66.03" width="0.8" height="0.8"/><rect x="508.58" y="63.09" width="0.8" height="0.8"/><rect x="507.4" y="86.79" width="0.8" height="0.8"/><rect x="517.76" y="100.67" width="0.8" height="0.8"/><rect x="512.01" y="144.6" width="0.8" height="0.8"/><rect x="519.26" y="113.72" width="0.8" height="0.8"/><rect x="514.91" y="148.43" width="0.8" height="0.8"/><rect x="506.02" y="106.86" width="0.8" height="0.8"/><rect x="516.48" y="99.92" width="0.8" height="0.8"/><rect x="509.87" y="61.17" width="0.8" height="0.8"/><rect x="501.66" y="93.44" width="0.8" height="0.8"/><rect x="505.28" y="128.74" width="0.8" height="0.8"/><rect x="517.6" y="91.17" width="0.8" height="0.8"/><rect x="503.38" y="80.94" width="0.8" height="0.8"/><rect x="510.03" y="116.05" width="0.8" height="0.8"/><rect x="513.23" y="73.23" width="0.8" height="0.8"/><rect x="506.99" y="77.45" width="0.8" height="0.8"/><rect x="516.82" y="95.94" width="0.8" height="0.8"/><rect x="514.63" y="112.46" width="0.8" height="0.8"/><rect x="508.04" y="125.72" width="0.8" height="0.8"/><rect x="517.08" y="92.9" width="0.8" height="0.8"/><rect x="510.78" y="134.29" width="0.8" height="0.8"/><rect x="517.89" y="140.28" width="0.8" height="0.8"/><rect x="518.77" y="136.59" width="0.8" height="0.8"/><rect x="514.72" y="78.38" width="0.8" height="0.8"/><rect x="503.32" y="91.92" width="0.8" height="0.8"/><rect x="514.26" y="141.08" width="0.8" height="0.8"/><rect x="515.69" y="145.96" width="0.8" height="0.8"/><rect x="512.23" y="124.6" width="0.8" height="0.8"/><rect x="511.64" y="147.95" width="0.8" height="0.8"/><rect x="519.53" y="95.79" width="0.8" height="0.8"/><rect x="507.59" y="79.5" width="0.8" height="0.8"/><rect x="503.35" y="65.72" width="0.8" height="0.8"/><rect x="517.3" y="100.62" width="0.8" height="0.8"/><rect x="512.16" y="97.84" width="0.8" height="0.8"/><rect x="519.39" y="118.27" width="0.8" height="0.8"/><rect x="518.09" y="91.45" width="0.8" height="0.8"/><rect x="517.29" y="70.61" width="0.8" height="0.8"/><rect x="512.36" y="83.04" width="0.8" height="0.8"/><rect x="505.04" y="107.77" width="0.8" height="0.8"/><rect x="518.23" y="110.98" width="0.8" height="0.8"/><rect x="513.96" y="99.75" width="0.8" height="0.8"/><rect x="507.34" y="98.62" width="0.8" height="0.8"/><rect x="505.88" y="138.32" width="0.8" height="0.8"/><rect x="517.42" y="90.05" width="0.8" height="0.8"/><rect x="511.96" y="147.91" width="0.8" height="0.8"/><rect x="507.92" y="100.43" width="0.8" height="0.8"/><rect x="509.51" y="144.22" width="0.8" height="0.8"/><rect x="500.62" y="73.65" width="0.8" height="0.8"/><rect x="514.96" y="104" width="0.8" height="0.8"/><rect x="517.45" y="73.02" width="0.8" height="0.8"/><rect x="511.07" y="119.49" width="0.8" height="0.8"/><rect x="502.03" y="86.71" width="0.8" height="0.8"/><rect x="505.92" y="122" width="0.8" height="0.8"/><rect x="514.92" y="115.92" width="0.8" height="0.8"/><rect x="520.52" y="102.09" width="0.8" height="0.8"/><rect x="517.57" y="108.11" width="0.8" height="0.8"/><rect x="514.83" y="148.1" width="0.8" height="0.8"/><rect x="502.01" y="68.71" width="0.8" height="0.8"/><rect x="506.15" y="67" width="0.8" height="0.8"/><rect x="505.92" y="83.98" width="0.8" height="0.8"/><rect x="505.59" y="112.63" width="0.8" height="0.8"/><rect x="501.2" y="71.03" width="0.8" height="0.8"/><rect x="516.51" y="96.73" width="0.8" height="0.8"/><rect x="519.8" y="114.97" width="0.8" height="0.8"/><rect x="511.05" y="81.83" width="0.8" height="0.8"/><rect x="509.05" y="119.67" width="0.8" height="0.8"/><rect x="519.96" y="135.81" width="0.8" height="0.8"/><rect x="520.6" y="120.87" width="0.8" height="0.8"/><rect x="510.91" y="101.52" width="0.8" height="0.8"/><rect x="499.65" y="71.39" width="0.8" height="0.8"/><rect x="509.17" y="108.72" width="0.8" height="0.8"/><rect x="512.14" y="82.8" width="0.8" height="0.8"/><rect x="518.79" y="109.52" width="0.8" height="0.8"/><rect x="517.89" y="100.66" width="0.8" height="0.8"/><rect x="512.44" y="79.64" width="0.8" height="0.8"/><rect x="501.71" y="77.55" width="0.8" height="0.8"/><rect x="508.91" y="86.03" width="0.8" height="0.8"/><rect x="507.33" y="130.34" width="0.8" height="0.8"/><rect x="518" y="71.2" width="0.8" height="0.8"/><rect x="513.12" y="71.53" width="0.8" height="0.8"/><rect x="512" y="98.35" width="0.8" height="0.8"/><rect x="499.91" y="76.85" width="0.8" height="0.8"/><rect x="512.93" y="152.27" width="0.8" height="0.8"/><rect x="510.08" y="82.37" width="0.8" height="0.8"/><rect x="519.39" y="113.2" width="0.8" height="0.8"/><rect x="508.06" y="125.58" width="0.8" height="0.8"/><rect x="510.6" y="129.9" width="0.8" height="0.8"/><rect x="517.7" y="147.03" width="0.8" height="0.8"/><rect x="517.13" y="141.78" width="0.8" height="0.8"/><rect x="500.7" y="65.74" width="0.8" height="0.8"/><rect x="515.25" y="134.9" width="0.8" height="0.8"/><rect x="517.04" y="83.38" width="0.8" height="0.8"/><rect x="513" y="65.11" width="0.8" height="0.8"/><rect x="502.09" y="70.53" width="0.8" height="0.8"/><rect x="505.76" y="114.73" width="0.8" height="0.8"/><rect x="507.11" y="115.52" width="0.8" height="0.8"/><rect x="513.28" y="131.13" width="0.8" height="0.8"/><rect x="512.26" y="80.73" width="0.8" height="0.8"/><rect x="513.92" y="122.01" width="0.8" height="0.8"/><rect x="515.19" y="111.75" width="0.8" height="0.8"/><rect x="507.37" y="129.83" width="0.8" height="0.8"/><rect x="515.63" y="122.02" width="0.8" height="0.8"/><rect x="516.73" y="144.13" width="0.8" height="0.8"/><rect x="519.05" y="148.2" width="0.8" height="0.8"/><rect x="515.81" y="141.94" width="0.8" height="0.8"/><rect x="509.56" y="106.26" width="0.8" height="0.8"/><rect x="502.79" y="98.64" width="0.8" height="0.8"/><rect x="507.54" y="138.73" width="0.8" height="0.8"/><rect x="519.25" y="120.91" width="0.8" height="0.8"/><rect x="505.79" y="129.93" width="0.8" height="0.8"/><rect x="511.13" y="115.03" width="0.8" height="0.8"/><rect x="511.23" y="118.12" width="0.8" height="0.8"/><rect x="509" y="137.6" width="0.8" height="0.8"/><rect x="511.49" y="113.19" width="0.8" height="0.8"/><rect x="514.02" y="106.81" width="0.8" height="0.8"/><rect x="515.79" y="86.77" width="0.8" height="0.8"/><rect x="516.66" y="130.06" width="0.8" height="0.8"/><rect x="505.66" y="67.7" width="0.8" height="0.8"/><rect x="514.96" y="123.31" width="0.8" height="0.8"/><rect x="516.91" y="98.75" width="0.8" height="0.8"/><rect x="508.43" y="99.92" width="0.8" height="0.8"/><rect x="507.17" y="100.66" width="0.8" height="0.8"/><rect x="503.08" y="70.92" width="0.8" height="0.8"/><rect x="506.49" y="74.22" width="0.8" height="0.8"/><rect x="504.47" y="105.59" width="0.8" height="0.8"/><rect x="508.59" y="108.06" width="0.8" height="0.8"/><rect x="508.48" y="114.67" width="0.8" height="0.8"/><rect x="498.86" y="71.43" width="0.8" height="0.8"/><rect x="504.27" y="114.03" width="0.8" height="0.8"/><rect x="518.79" y="118.54" width="0.8" height="0.8"/><rect x="506.56" y="80.05" width="0.8" height="0.8"/><rect x="508.64" y="66.54" width="0.8" height="0.8"/><rect x="520.72" y="115.46" width="0.8" height="0.8"/><rect x="517.95" y="122.1" width="0.8" height="0.8"/><rect x="513.01" y="111.64" width="0.8" height="0.8"/><rect x="513.89" y="67.26" width="0.8" height="0.8"/><rect x="506.92" y="83.35" width="0.8" height="0.8"/><rect x="516.89" y="119.16" width="0.8" height="0.8"/><rect x="517.73" y="76.27" width="0.8" height="0.8"/><rect x="521.63" y="113.43" width="0.8" height="0.8"/><rect x="509.02" y="100.51" width="0.8" height="0.8"/><rect x="510.2" y="122.09" width="0.8" height="0.8"/><rect x="504.52" y="122.94" width="0.8" height="0.8"/><rect x="511.19" y="78.54" width="0.8" height="0.8"/><rect x="517.91" y="147.8" width="0.8" height="0.8"/><rect x="511.49" y="127.99" width="0.8" height="0.8"/><rect x="498.99" y="84.14" width="0.8" height="0.8"/><rect x="516.44" y="139.25" width="0.8" height="0.8"/><rect x="506.64" y="77.73" width="0.8" height="0.8"/><rect x="512.2" y="127.59" width="0.8" height="0.8"/><rect x="518.39" y="85.31" width="0.8" height="0.8"/><rect x="510.38" y="116.81" width="0.8" height="0.8"/><rect x="519.28" y="114.23" width="0.8" height="0.8"/><rect x="507.32" y="81.35" width="0.8" height="0.8"/><rect x="516.71" y="82.16" width="0.8" height="0.8"/><rect x="511.25" y="84.59" width="0.8" height="0.8"/><rect x="504.26" y="69.05" width="0.8" height="0.8"/><rect x="516.35" y="97.81" width="0.8" height="0.8"/><rect x="504.2" y="90.63" width="0.8" height="0.8"/><rect x="508.87" y="150.28" width="0.8" height="0.8"/><rect x="520.39" y="133.17" width="0.8" height="0.8"/><rect x="508.44" y="101.35" width="0.8" height="0.8"/><rect x="517.71" y="145.89" width="0.8" height="0.8"/><rect x="508.5" y="116.92" width="0.8" height="0.8"/><rect x="509.06" y="133.71" width="0.8" height="0.8"/><rect x="507.3" y="95.24" width="0.8" height="0.8"/><rect x="519.67" y="118.94" width="0.8" height="0.8"/><rect x="511.16" y="110.35" width="0.8" height="0.8"/><rect x="509.46" y="78.61" width="0.8" height="0.8"/><rect x="511.95" y="75.77" width="0.8" height="0.8"/><rect x="505.92" y="113.46" width="0.8" height="0.8"/><rect x="515.99" y="132.89" width="0.8" height="0.8"/><rect x="509.53" y="129.89" width="0.8" height="0.8"/><rect x="511.01" y="72.09" width="0.8" height="0.8"/><rect x="514.79" y="133.18" width="0.8" height="0.8"/><rect x="508.41" y="97.44" width="0.8" height="0.8"/><rect x="513.99" y="64.29" width="0.8" height="0.8"/><rect x="514.47" y="138.72" width="0.8" height="0.8"/><rect x="507.35" y="89.71" width="0.8" height="0.8"/><rect x="503.2" y="104.59" width="0.8" height="0.8"/><rect x="508.41" y="123.97" width="0.8" height="0.8"/><rect x="513.04" y="120.15" width="0.8" height="0.8"/><rect x="509.26" y="146.7" width="0.8" height="0.8"/><rect x="505.89" y="87.26" width="0.8" height="0.8"/><rect x="513.87" y="105.54" width="0.8" height="0.8"/><rect x="514.57" y="119.87" width="0.8" height="0.8"/><rect x="515.19" y="119.67" width="0.8" height="0.8"/><rect x="507.04" y="122.35" width="0.8" height="0.8"/><rect x="517.48" y="133.5" width="0.8" height="0.8"/><rect x="517.35" y="138.81" width="0.8" height="0.8"/><rect x="510.29" y="97.17" width="0.8" height="0.8"/><rect x="513.72" y="87.41" width="0.8" height="0.8"/><rect x="504.72" y="68.49" width="0.8" height="0.8"/><rect x="505.74" y="106.15" width="0.8" height="0.8"/><rect x="505.58" y="136.98" width="0.8" height="0.8"/><rect x="514.61" y="90.94" width="0.8" height="0.8"/><rect x="499.29" y="84.28" width="0.8" height="0.8"/><rect x="512.73" y="139.64" width="0.8" height="0.8"/><rect x="512.04" y="127.85" width="0.8" height="0.8"/><rect x="515.53" y="87.64" width="0.8" height="0.8"/><rect x="514.59" y="63.72" width="0.8" height="0.8"/><rect x="509.26" y="100.42" width="0.8" height="0.8"/><rect x="513.7" y="123.43" width="0.8" height="0.8"/><rect x="511.15" y="85.9" width="0.8" height="0.8"/><rect x="517.99" y="114.83" width="0.8" height="0.8"/><rect x="506.4" y="97.9" width="0.8" height="0.8"/><rect x="502.24" y="87.22" width="0.8" height="0.8"/><rect x="506.12" y="128.42" width="0.8" height="0.8"/><rect x="514.94" y="134.82" width="0.8" height="0.8"/><rect x="517.47" y="88.49" width="0.8" height="0.8"/><rect x="512.34" y="135.5" width="0.8" height="0.8"/><rect x="520.34" y="95.79" width="0.8" height="0.8"/><rect x="515.97" y="75.06" width="0.8" height="0.8"/><rect x="507.24" y="119.14" width="0.8" height="0.8"/><rect x="511.97" y="89.7" width="0.8" height="0.8"/><rect x="505.64" y="73.57" width="0.8" height="0.8"/><rect x="519.33" y="143.97" width="0.8" height="0.8"/><rect x="508.46" y="63.16" width="0.8" height="0.8"/><rect x="519.65" y="127.11" width="0.8" height="0.8"/><rect x="507.91" y="149.64" width="0.8" height="0.8"/><rect x="506.62" y="129.38" width="0.8" height="0.8"/><rect x="515.11" y="126.45" width="0.8" height="0.8"/><rect x="505.53" y="138.16" width="0.8" height="0.8"/><rect x="514.28" y="137.5" width="0.8" height="0.8"/><rect x="507.81" y="73.73" width="0.8" height="0.8"/><rect x="512.44" y="78.22" width="0.8" height="0.8"/><rect x="513.45" y="125.45" width="0.8" height="0.8"/><rect x="504.6" y="86.05" width="0.8" height="0.8"/><rect x="502.56" y="69.75" width="0.8" height="0.8"/><rect x="506.73" y="135.64" width="0.8" height="0.8"/><rect x="505.55" y="119.43" width="0.8" height="0.8"/><rect x="511.65" y="63.14" width="0.8" height="0.8"/><rect x="515.33" y="136.92" width="0.8" height="0.8"/><rect x="504.22" y="92.08" width="0.8" height="0.8"/><rect x="510.53" y="61.1" width="0.8" height="0.8"/><rect x="513.07" y="80.13" width="0.8" height="0.8"/><rect x="504.98" y="129.76" width="0.8" height="0.8"/><rect x="516.06" y="92.1" width="0.8" height="0.8"/><rect x="505.59" y="131.34" width="0.8" height="0.8"/><rect x="505.03" y="99.42" width="0.8" height="0.8"/><rect x="514.79" y="146.11" width="0.8" height="0.8"/><rect x="513.47" y="106.95" width="0.8" height="0.8"/><rect x="504.04" y="65.87" width="0.8" height="0.8"/><rect x="509.1" y="140.15" width="0.8" height="0.8"/><rect x="513.45" y="107.51" width="0.8" height="0.8"/><rect x="502.54" y="93.38" width="0.8" height="0.8"/><rect x="514.67" y="67.91" width="0.8" height="0.8"/><rect x="505.06" y="117.96" width="0.8" height="0.8"/><rect x="505.77" y="105.33" width="0.8" height="0.8"/><rect x="514.67" y="112.95" width="0.8" height="0.8"/><rect x="512.39" y="133.36" width="0.8" height="0.8"/><rect x="511.43" y="101.43" width="0.8" height="0.8"/><rect x="499.89" y="67.07" width="0.8" height="0.8"/><rect x="519.23" y="89.55" width="0.8" height="0.8"/><rect x="505.19" y="67.04" width="0.8" height="0.8"/><rect x="507.76" y="115.24" width="0.8" height="0.8"/><rect x="508.19" y="75.81" width="0.8" height="0.8"/><rect x="508.27" y="109.53" width="0.8" height="0.8"/><rect x="507.63" y="135.36" width="0.8" height="0.8"/><rect x="511.99" y="108.49" width="0.8" height="0.8"/><rect x="517.9" y="120.32" width="0.8" height="0.8"/><rect x="516.36" y="149.25" width="0.8" height="0.8"/><rect x="508.54" y="134.47" width="0.8" height="0.8"/><rect x="501.97" y="80.37" width="0.8" height="0.8"/><rect x="517.81" y="108.95" width="0.8" height="0.8"/><rect x="507.28" y="98.24" width="0.8" height="0.8"/><rect x="516.64" y="78.78" width="0.8" height="0.8"/><rect x="503.34" y="66.84" width="0.8" height="0.8"/><rect x="504.53" y="62.59" width="0.8" height="0.8"/><rect x="503.22" y="100.87" width="0.8" height="0.8"/><rect x="508.6" y="63.87" width="0.8" height="0.8"/><rect x="517.86" y="133.81" width="0.8" height="0.8"/><rect x="509.88" y="128.54" width="0.8" height="0.8"/><rect x="512.63" y="141.19" width="0.8" height="0.8"/><rect x="513.1" y="72.41" width="0.8" height="0.8"/><rect x="519.66" y="125.38" width="0.8" height="0.8"/><rect x="513.2" y="148.96" width="0.8" height="0.8"/><rect x="503.34" y="66.27" width="0.8" height="0.8"/><rect x="506.88" y="70.89" width="0.8" height="0.8"/><rect x="520.13" y="123.49" width="0.8" height="0.8"/><rect x="514.27" y="141.69" width="0.8" height="0.8"/><rect x="516.24" y="116.91" width="0.8" height="0.8"/><rect x="510.3" y="78.17" width="0.8" height="0.8"/><rect x="507.07" y="126.02" width="0.8" height="0.8"/><rect x="508.67" y="61.56" width="0.8" height="0.8"/><rect x="514.23" y="87.25" width="0.8" height="0.8"/><rect x="499.14" y="77.31" width="0.8" height="0.8"/><rect x="503.72" y="91.34" width="0.8" height="0.8"/><rect x="512.01" y="91.91" width="0.8" height="0.8"/><rect x="506" y="125.24" width="0.8" height="0.8"/><rect x="507.91" y="81.75" width="0.8" height="0.8"/><rect x="510.79" y="122.67" width="0.8" height="0.8"/><rect x="506.35" y="138.85" width="0.8" height="0.8"/><rect x="514.54" y="116.14" width="0.8" height="0.8"/><rect x="511.78" y="66.28" width="0.8" height="0.8"/><rect x="513.65" y="139.35" width="0.8" height="0.8"/><rect x="505.3" y="74.31" width="0.8" height="0.8"/><rect x="515.59" y="143.34" width="0.8" height="0.8"/><rect x="514.86" y="69.77" width="0.8" height="0.8"/><rect x="510.21" y="93.07" width="0.8" height="0.8"/><rect x="515.7" y="128.25" width="0.8" height="0.8"/><rect x="515.82" y="68.06" width="0.8" height="0.8"/><rect x="504.73" y="95.15" width="0.8" height="0.8"/><rect x="503.48" y="94.1" width="0.8" height="0.8"/><rect x="511.34" y="97.3" width="0.8" height="0.8"/><rect x="507.55" y="87.75" width="0.8" height="0.8"/><rect x="506.35" y="100.62" width="0.8" height="0.8"/><rect x="505.3" y="107.6" width="0.8" height="0.8"/><rect x="507.5" y="115.5" width="0.8" height="0.8"/><rect x="519.66" y="141.15" width="0.8" height="0.8"/><rect x="506.66" y="75.66" width="0.8" height="0.8"/><rect x="503.51" y="70.11" width="0.8" height="0.8"/><rect x="516.16" y="123.86" width="0.8" height="0.8"/><rect x="508.85" y="115" width="0.8" height="0.8"/><rect x="503.09" y="67.25" width="0.8" height="0.8"/><rect x="514.7" y="132.47" width="0.8" height="0.8"/><rect x="510.91" y="112.47" width="0.8" height="0.8"/><rect x="512.22" y="98.03" width="0.8" height="0.8"/><rect x="515.77" y="143.32" width="0.8" height="0.8"/><rect x="519.61" y="104.6" width="0.8" height="0.8"/><rect x="505.49" y="92.11" width="0.8" height="0.8"/><rect x="512.52" y="88.52" width="0.8" height="0.8"/><rect x="507.38" y="72.52" width="0.8" height="0.8"/><rect x="518.8" y="83.16" width="0.8" height="0.8"/><rect x="519.54" y="139.23" width="0.8" height="0.8"/><rect x="512.24" y="131.53" width="0.8" height="0.8"/><rect x="502.99" y="70.05" width="0.8" height="0.8"/><rect x="521.88" y="111.34" width="0.8" height="0.8"/><rect x="520.89" y="101.04" width="0.8" height="0.8"/><rect x="500.25" y="70.47" width="0.8" height="0.8"/><rect x="514.18" y="121.3" width="0.8" height="0.8"/><rect x="518.91" y="138.76" width="0.8" height="0.8"/><rect x="521.46" y="114.98" width="0.8" height="0.8"/><rect x="513.39" y="64.21" width="0.8" height="0.8"/><rect x="510.99" y="102.33" width="0.8" height="0.8"/><rect x="518.97" y="147.38" width="0.8" height="0.8"/><rect x="517.11" y="84.5" width="0.8" height="0.8"/><rect x="515.8" y="139.59" width="0.8" height="0.8"/><rect x="505.3" y="128.6" width="0.8" height="0.8"/><rect x="515.13" y="117.11" width="0.8" height="0.8"/><rect x="512.63" y="70.17" width="0.8" height="0.8"/><rect x="510.22" y="85.72" width="0.8" height="0.8"/><rect x="507.76" y="95.35" width="0.8" height="0.8"/><rect x="519.15" y="112.89" width="0.8" height="0.8"/><rect x="516.42" y="150.11" width="0.8" height="0.8"/><rect x="510.29" y="66.44" width="0.8" height="0.8"/><rect x="510.97" y="112.18" width="0.8" height="0.8"/><rect x="506.81" y="83.55" width="0.8" height="0.8"/><rect x="512.55" y="82.65" width="0.8" height="0.8"/><rect x="503.56" y="101.87" width="0.8" height="0.8"/><rect x="507.19" y="74.48" width="0.8" height="0.8"/><rect x="503.18" y="99.9" width="0.8" height="0.8"/><rect x="517.23" y="98.29" width="0.8" height="0.8"/><rect x="516.97" y="94.07" width="0.8" height="0.8"/><rect x="518.97" y="143.32" width="0.8" height="0.8"/><rect x="507.34" y="137.15" width="0.8" height="0.8"/><rect x="515.63" y="73" width="0.8" height="0.8"/><rect x="507.72" y="77.95" width="0.8" height="0.8"/><rect x="512.77" y="67.34" width="0.8" height="0.8"/><rect x="515.15" y="105.99" width="0.8" height="0.8"/><rect x="511.42" y="146.94" width="0.8" height="0.8"/><rect x="507.62" y="147.66" width="0.8" height="0.8"/><rect x="519.78" y="125.02" width="0.8" height="0.8"/><rect x="516.28" y="115.1" width="0.8" height="0.8"/><rect x="508.93" y="111.77" width="0.8" height="0.8"/><rect x="521.52" y="103.36" width="0.8" height="0.8"/><rect x="506.27" y="71.59" width="0.8" height="0.8"/><rect x="505.34" y="123.76" width="0.8" height="0.8"/><rect x="508.51" y="142.52" width="0.8" height="0.8"/><rect x="514.31" y="104.31" width="0.8" height="0.8"/><rect x="514.8" y="139.41" width="0.8" height="0.8"/><rect x="515.13" y="105.56" width="0.8" height="0.8"/><rect x="518.4" y="78.01" width="0.8" height="0.8"/><rect x="505.41" y="80.12" width="0.8" height="0.8"/><rect x="508.51" y="102.5" width="0.8" height="0.8"/><rect x="509.91" y="118.25" width="0.8" height="0.8"/><rect x="511.66" y="123.35" width="0.8" height="0.8"/><rect x="516.4" y="82.54" width="0.8" height="0.8"/><rect x="513.01" y="132.19" width="0.8" height="0.8"/><rect x="503.92" y="111.03" width="0.8" height="0.8"/><rect x="510.46" y="111.23" width="0.8" height="0.8"/><rect x="505.21" y="87.8" width="0.8" height="0.8"/><rect x="502.24" y="87.63" width="0.8" height="0.8"/><rect x="519.58" y="133.59" width="0.8" height="0.8"/><rect x="504.8" y="97.36" width="0.8" height="0.8"/><rect x="504.25" y="108.41" width="0.8" height="0.8"/><rect x="516.2" y="75.9" width="0.8" height="0.8"/><rect x="508.84" y="135.9" width="0.8" height="0.8"/><rect x="502.02" y="67.52" width="0.8" height="0.8"/><rect x="517.32" y="114.63" width="0.8" height="0.8"/><rect x="506.79" y="73.52" width="0.8" height="0.8"/><rect x="499.93" y="75.26" width="0.8" height="0.8"/><rect x="517.33" y="113.41" width="0.8" height="0.8"/><rect x="505.51" y="89.75" width="0.8" height="0.8"/><rect x="519.31" y="139.95" width="0.8" height="0.8"/><rect x="515.09" y="121.84" width="0.8" height="0.8"/><rect x="512.18" y="64.31" width="0.8" height="0.8"/><rect x="508.46" y="142.05" width="0.8" height="0.8"/><rect x="510.76" y="87.74" width="0.8" height="0.8"/><rect x="518" y="146.32" width="0.8" height="0.8"/><rect x="504.92" y="122.08" width="0.8" height="0.8"/><rect x="508.43" y="135.19" width="0.8" height="0.8"/><rect x="510.82" y="86.04" width="0.8" height="0.8"/><rect x="513" y="94.75" width="0.8" height="0.8"/><rect x="515.03" y="111.78" width="0.8" height="0.8"/><rect x="510.63" y="83.58" width="0.8" height="0.8"/><rect x="513.26" y="120.9" width="0.8" height="0.8"/><rect x="508.65" y="49.94" width="0.8" height="0.8"/><rect x="503.93" y="58.14" width="0.8" height="0.8"/><rect x="511" y="47.93" width="0.8" height="0.8"/><rect x="513.28" y="42.68" width="0.8" height="0.8"/><rect x="513.92" y="41.85" width="0.8" height="0.8"/><rect x="507.35" y="55.5" width="0.8" height="0.8"/><rect x="507.46" y="53.03" width="0.8" height="0.8"/><rect x="513.91" y="37.83" width="0.8" height="0.8"/><rect x="512.03" y="47.3" width="0.8" height="0.8"/><rect x="514.91" y="35.08" width="0.8" height="0.8"/><rect x="513.95" y="35.18" width="0.8" height="0.8"/><rect x="509.46" y="54.23" width="0.8" height="0.8"/><rect x="507.4" y="50.03" width="0.8" height="0.8"/><rect x="507.04" y="57.53" width="0.8" height="0.8"/><rect x="511.27" y="50.91" width="0.8" height="0.8"/><rect x="514.08" y="42.33" width="0.8" height="0.8"/><rect x="508.83" y="49.41" width="0.8" height="0.8"/><rect x="509.88" y="48.17" width="0.8" height="0.8"/><rect x="505.55" y="54.28" width="0.8" height="0.8"/><rect x="511.57" y="44.52" width="0.8" height="0.8"/><rect x="507.65" y="51.81" width="0.8" height="0.8"/><rect x="506.31" y="60.01" width="0.8" height="0.8"/><rect x="505.52" y="60.17" width="0.8" height="0.8"/><rect x="510.24" y="48.85" width="0.8" height="0.8"/><rect x="502.95" y="59.28" width="0.8" height="0.8"/><rect x="514.81" y="37.36" width="0.8" height="0.8"/><rect x="512.42" y="47.54" width="0.8" height="0.8"/><rect x="511.38" y="48.63" width="0.8" height="0.8"/><rect x="503.85" y="59.31" width="0.8" height="0.8"/><rect x="509.89" y="47.6" width="0.8" height="0.8"/><rect x="512.6" y="47.72" width="0.8" height="0.8"/><rect x="513.01" y="40.28" width="0.8" height="0.8"/><rect x="508.63" y="50.44" width="0.8" height="0.8"/><rect x="507.15" y="58.22" width="0.8" height="0.8"/><rect x="512.4" y="45.75" width="0.8" height="0.8"/><rect x="509.89" y="48.05" width="0.8" height="0.8"/><rect x="512.33" y="42.23" width="0.8" height="0.8"/><rect x="510.32" y="51.14" width="0.8" height="0.8"/><rect x="509.3" y="49.41" width="0.8" height="0.8"/><rect x="513.39" y="43.17" width="0.8" height="0.8"/><rect x="505.44" y="61.71" width="0.8" height="0.8"/><rect x="512.08" y="40.85" width="0.8" height="0.8"/><rect x="516.03" y="36.84" width="0.8" height="0.8"/><rect x="507.57" y="54.36" width="0.8" height="0.8"/><rect x="511.41" y="41.61" width="0.8" height="0.8"/><rect x="506.65" y="58.6" width="0.8" height="0.8"/><rect x="510.73" y="51.43" width="0.8" height="0.8"/><rect x="510.75" y="47.4" width="0.8" height="0.8"/><rect x="512.86" y="39.95" width="0.8" height="0.8"/><rect x="512.55" y="43.97" width="0.8" height="0.8"/><rect x="513.37" y="37.13" width="0.8" height="0.8"/><rect x="514.29" y="37.16" width="0.8" height="0.8"/><rect x="506.96" y="54.58" width="0.8" height="0.8"/><rect x="508.08" y="56.83" width="0.8" height="0.8"/><rect x="514.47" y="38.76" width="0.8" height="0.8"/><rect x="510.29" y="44.38" width="0.8" height="0.8"/><rect x="505.97" y="54.79" width="0.8" height="0.8"/><rect x="511.82" y="40.66" width="0.8" height="0.8"/><rect x="512.26" y="39.79" width="0.8" height="0.8"/><rect x="506.77" y="53.24" width="0.8" height="0.8"/><rect x="512.75" y="47.69" width="0.8" height="0.8"/><rect x="508.53" y="55.14" width="0.8" height="0.8"/><rect x="512.37" y="43.58" width="0.8" height="0.8"/><rect x="510.59" y="50.87" width="0.8" height="0.8"/><rect x="506.18" y="59.4" width="0.8" height="0.8"/><rect x="509.17" y="52.35" width="0.8" height="0.8"/><rect x="505.18" y="60.69" width="0.8" height="0.8"/><rect x="515.14" y="37.22" width="0.8" height="0.8"/><rect x="507.88" y="57.25" width="0.8" height="0.8"/><rect x="515.76" y="35.7" width="0.8" height="0.8"/><rect x="472.71" y="104.59" width="0.8" height="0.8"/><rect x="473.49" y="89.1" width="0.8" height="0.8"/><rect x="467.15" y="72.79" width="0.8" height="0.8"/><rect x="481.15" y="70.39" width="0.8" height="0.8"/><rect x="489.34" y="103.69" width="0.8" height="0.8"/><rect x="472.91" y="113.66" width="0.8" height="0.8"/><rect x="477.28" y="89.6" width="0.8" height="0.8"/><rect x="469.3" y="96.94" width="0.8" height="0.8"/><rect x="470.74" y="94.49" width="0.8" height="0.8"/><rect x="499.79" y="66.34" width="0.8" height="0.8"/><rect x="482.03" y="119.89" width="0.8" height="0.8"/><rect x="482.14" y="105.03" width="0.8" height="0.8"/><rect x="492.46" y="107.66" width="0.8" height="0.8"/><rect x="494.66" y="136.66" width="0.8" height="0.8"/><rect x="497.07" y="101.24" width="0.8" height="0.8"/><rect x="495.65" y="100.94" width="0.8" height="0.8"/><rect x="490.84" y="100.45" width="0.8" height="0.8"/><rect x="488.31" y="83.49" width="0.8" height="0.8"/><rect x="473.1" y="69.5" width="0.8" height="0.8"/><rect x="475.46" y="127.14" width="0.8" height="0.8"/><rect x="495.55" y="80.72" width="0.8" height="0.8"/><rect x="482.08" y="68.46" width="0.8" height="0.8"/><rect x="477.99" y="121.11" width="0.8" height="0.8"/><rect x="478.48" y="115.92" width="0.8" height="0.8"/><rect x="491.9" y="132.98" width="0.8" height="0.8"/><rect x="489.11" y="82.05" width="0.8" height="0.8"/><rect x="488.48" y="90.1" width="0.8" height="0.8"/><rect x="480.96" y="117.36" width="0.8" height="0.8"/><rect x="478.86" y="80.77" width="0.8" height="0.8"/><rect x="480.51" y="123.03" width="0.8" height="0.8"/><rect x="496.05" y="82.44" width="0.8" height="0.8"/><rect x="469.59" y="119.05" width="0.8" height="0.8"/><rect x="477.38" y="99.13" width="0.8" height="0.8"/><rect x="487.01" y="86.22" width="0.8" height="0.8"/><rect x="472.39" y="85.94" width="0.8" height="0.8"/><rect x="488.39" y="102.52" width="0.8" height="0.8"/><rect x="488.7" y="123.94" width="0.8" height="0.8"/><rect x="490.37" y="100.49" width="0.8" height="0.8"/><rect x="485.01" y="115.04" width="0.8" height="0.8"/><rect x="497.72" y="76.58" width="0.8" height="0.8"/><rect x="470.52" y="77.19" width="0.8" height="0.8"/><rect x="482.42" y="74.35" width="0.8" height="0.8"/><rect x="472.36" y="107.95" width="0.8" height="0.8"/><rect x="492.98" y="84.57" width="0.8" height="0.8"/><rect x="491.45" y="71.55" width="0.8" height="0.8"/><rect x="478.8" y="93.73" width="0.8" height="0.8"/><rect x="496.68" y="117.78" width="0.8" height="0.8"/><rect x="481.72" y="121.66" width="0.8" height="0.8"/><rect x="488.5" y="67.75" width="0.8" height="0.8"/><rect x="487.66" y="127.26" width="0.8" height="0.8"/><rect x="489.74" y="108.77" width="0.8" height="0.8"/><rect x="481.22" y="65.75" width="0.8" height="0.8"/><rect x="498.5" y="85.42" width="0.8" height="0.8"/><rect x="487.42" y="85.5" width="0.8" height="0.8"/><rect x="486.41" y="76.74" width="0.8" height="0.8"/><rect x="470.15" y="77.96" width="0.8" height="0.8"/><rect x="473.26" y="109.63" width="0.8" height="0.8"/><rect x="488.65" y="83.72" width="0.8" height="0.8"/><rect x="488.4" y="77.17" width="0.8" height="0.8"/><rect x="472.34" y="72.6" width="0.8" height="0.8"/><rect x="515.87" y="55.75" width="0.8" height="0.8"/><rect x="474.23" y="136.97" width="0.8" height="0.8"/><rect x="501.62" y="150.03" width="0.8" height="0.8"/><rect x="512.31" y="89.21" width="0.8" height="0.8"/><rect x="495.14" y="93.46" width="0.8" height="0.8"/><rect x="413.71" y="139.41" width="0.8" height="0.8"/><rect x="497.67" y="64.2" width="0.8" height="0.8"/><rect x="502.61" y="71.42" width="0.8" height="0.8"/><rect x="424.73" y="59.45" width="0.8" height="0.8"/><rect x="412.21" y="131.19" width="0.8" height="0.8"/><rect x="420.39" y="150.52" width="0.8" height="0.8"/><rect x="523.2" y="51.02" width="0.8" height="0.8"/><rect x="461.15" y="55.64" width="0.8" height="0.8"/><rect x="437.94" y="117.27" width="0.8" height="0.8"/><rect x="514.1" y="73.79" width="0.8" height="0.8"/><rect x="436.42" y="60.69" width="0.8" height="0.8"/><rect x="501.66" y="129.24" width="0.8" height="0.8"/><rect x="455.08" y="81.47" width="0.8" height="0.8"/><rect x="466.66" y="92.6" width="0.8" height="0.8"/><rect x="437.56" y="156.85" width="0.8" height="0.8"/><rect x="429.78" y="122.6" width="0.8" height="0.8"/><rect x="476.31" y="66.7" width="0.8" height="0.8"/><rect x="486.26" y="95.96" width="0.8" height="0.8"/><rect x="455.8" y="110.01" width="0.8" height="0.8"/><rect x="501.02" y="137.32" width="0.8" height="0.8"/><rect x="456.06" y="153.06" width="0.8" height="0.8"/><rect x="467.19" y="70.81" width="0.8" height="0.8"/><rect x="491.14" y="92.94" width="0.8" height="0.8"/><rect x="502.96" y="116.83" width="0.8" height="0.8"/><rect x="517.84" y="62.56" width="0.8" height="0.8"/><rect x="463.3" y="61.19" width="0.8" height="0.8"/><rect x="431.21" y="157.19" width="0.8" height="0.8"/><rect x="422.98" y="59.91" width="0.8" height="0.8"/><rect x="516.43" y="50.94" width="0.8" height="0.8"/><rect x="426.04" y="88.17" width="0.8" height="0.8"/></g>
<g fill="#e2402f"><rect x="478.77" y="79.25" width="0.85" height="0.85"/><rect x="474.08" y="83.02" width="0.85" height="0.85"/><rect x="498.83" y="78.91" width="0.85" height="0.85"/><rect x="474.85" y="73.72" width="0.85" height="0.85"/><rect x="493.07" y="100.85" width="0.85" height="0.85"/><rect x="493.18" y="70.08" width="0.85" height="0.85"/><rect x="484.86" y="79.58" width="0.85" height="0.85"/><rect x="484.28" y="71.3" width="0.85" height="0.85"/><rect x="486.91" y="108.08" width="0.85" height="0.85"/><rect x="484.38" y="66.77" width="0.85" height="0.85"/><rect x="488.06" y="92.65" width="0.85" height="0.85"/><rect x="483.79" y="101.43" width="0.85" height="0.85"/><rect x="482.67" y="109.14" width="0.85" height="0.85"/><rect x="474.78" y="80.53" width="0.85" height="0.85"/><rect x="496.23" y="82.32" width="0.85" height="0.85"/><rect x="479.11" y="83.98" width="0.85" height="0.85"/><rect x="476.18" y="91.49" width="0.85" height="0.85"/><rect x="483.55" y="99.52" width="0.85" height="0.85"/><rect x="479.48" y="90.98" width="0.85" height="0.85"/><rect x="481.87" y="69.39" width="0.85" height="0.85"/><rect x="485.67" y="57.1" width="0.85" height="0.85"/><rect x="478.03" y="83.61" width="0.85" height="0.85"/><rect x="489.29" y="101.12" width="0.85" height="0.85"/><rect x="493.3" y="71.1" width="0.85" height="0.85"/><rect x="473.39" y="72.9" width="0.85" height="0.85"/><rect x="483.59" y="82.22" width="0.85" height="0.85"/><rect x="495.23" y="88.14" width="0.85" height="0.85"/><rect x="493.48" y="101.04" width="0.85" height="0.85"/><rect x="482.84" y="88.75" width="0.85" height="0.85"/><rect x="489.46" y="86.75" width="0.85" height="0.85"/><rect x="490.52" y="82.66" width="0.85" height="0.85"/><rect x="473.6" y="70.96" width="0.85" height="0.85"/><rect x="486.47" y="73.32" width="0.85" height="0.85"/><rect x="491.23" y="101.37" width="0.85" height="0.85"/><rect x="496.3" y="91.39" width="0.85" height="0.85"/><rect x="477.74" y="82.43" width="0.85" height="0.85"/><rect x="484.61" y="87.53" width="0.85" height="0.85"/><rect x="478.07" y="85.13" width="0.85" height="0.85"/><rect x="482.2" y="75.12" width="0.85" height="0.85"/><rect x="485.79" y="99.76" width="0.85" height="0.85"/><rect x="495.84" y="90.21" width="0.85" height="0.85"/><rect x="483.98" y="109.82" width="0.85" height="0.85"/><rect x="490.74" y="104.86" width="0.85" height="0.85"/><rect x="476.22" y="80.38" width="0.85" height="0.85"/><rect x="488.15" y="111.64" width="0.85" height="0.85"/><rect x="471.5" y="77.97" width="0.85" height="0.85"/><rect x="490.17" y="71.93" width="0.85" height="0.85"/><rect x="483.29" y="57.92" width="0.85" height="0.85"/><rect x="476.72" y="77.3" width="0.85" height="0.85"/><rect x="478.55" y="88.83" width="0.85" height="0.85"/><rect x="471.48" y="79.98" width="0.85" height="0.85"/><rect x="474.11" y="82.82" width="0.85" height="0.85"/><rect x="490.99" y="93.19" width="0.85" height="0.85"/><rect x="487.59" y="79.71" width="0.85" height="0.85"/><rect x="483.05" y="77.67" width="0.85" height="0.85"/><rect x="487.87" y="65.56" width="0.85" height="0.85"/><rect x="487.99" y="69.69" width="0.85" height="0.85"/><rect x="483" y="111.38" width="0.85" height="0.85"/><rect x="487.81" y="104.34" width="0.85" height="0.85"/><rect x="485.82" y="77.72" width="0.85" height="0.85"/><rect x="495.68" y="89.56" width="0.85" height="0.85"/><rect x="496.54" y="76.36" width="0.85" height="0.85"/><rect x="495.48" y="67.53" width="0.85" height="0.85"/><rect x="479.48" y="102.56" width="0.85" height="0.85"/><rect x="486.53" y="57.41" width="0.85" height="0.85"/><rect x="489.97" y="104.71" width="0.85" height="0.85"/><rect x="496.86" y="90.31" width="0.85" height="0.85"/><rect x="474.97" y="91.98" width="0.85" height="0.85"/><rect x="488.86" y="92.04" width="0.85" height="0.85"/><rect x="480.45" y="89.57" width="0.85" height="0.85"/><rect x="480.28" y="94.95" width="0.85" height="0.85"/><rect x="487.73" y="93.17" width="0.85" height="0.85"/><rect x="498.25" y="85.03" width="0.85" height="0.85"/><rect x="476.02" y="73.73" width="0.85" height="0.85"/><rect x="493.07" y="97.79" width="0.85" height="0.85"/><rect x="492.34" y="84.36" width="0.85" height="0.85"/><rect x="483.71" y="95.26" width="0.85" height="0.85"/><rect x="487.29" y="76.41" width="0.85" height="0.85"/><rect x="489.04" y="102.2" width="0.85" height="0.85"/><rect x="482.38" y="98.43" width="0.85" height="0.85"/><rect x="485.68" y="110.66" width="0.85" height="0.85"/><rect x="488.37" y="89.86" width="0.85" height="0.85"/><rect x="492.28" y="109.21" width="0.85" height="0.85"/><rect x="491.16" y="108.99" width="0.85" height="0.85"/><rect x="479.35" y="70.47" width="0.85" height="0.85"/><rect x="494.49" y="100.32" width="0.85" height="0.85"/><rect x="474.49" y="85.82" width="0.85" height="0.85"/><rect x="483.33" y="82.6" width="0.85" height="0.85"/><rect x="481.99" y="83.27" width="0.85" height="0.85"/><rect x="482.89" y="76.03" width="0.85" height="0.85"/><rect x="478.51" y="92.6" width="0.85" height="0.85"/><rect x="490.57" y="86.85" width="0.85" height="0.85"/><rect x="476.47" y="58.98" width="0.85" height="0.85"/><rect x="492.48" y="103.63" width="0.85" height="0.85"/><rect x="481.95" y="66.87" width="0.85" height="0.85"/><rect x="486.42" y="71.84" width="0.85" height="0.85"/><rect x="493.57" y="89.18" width="0.85" height="0.85"/><rect x="498.15" y="73.73" width="0.85" height="0.85"/><rect x="488.11" y="62.27" width="0.85" height="0.85"/><rect x="488.28" y="103.01" width="0.85" height="0.85"/><rect x="485.08" y="109.13" width="0.85" height="0.85"/><rect x="486.86" y="111.1" width="0.85" height="0.85"/><rect x="471.31" y="67.37" width="0.85" height="0.85"/><rect x="483.28" y="60.37" width="0.85" height="0.85"/><rect x="489.79" y="106.66" width="0.85" height="0.85"/><rect x="473.46" y="79.61" width="0.85" height="0.85"/><rect x="496.85" y="73.99" width="0.85" height="0.85"/><rect x="479.93" y="101.26" width="0.85" height="0.85"/><rect x="495.24" y="71.25" width="0.85" height="0.85"/><rect x="491.66" y="81.06" width="0.85" height="0.85"/><rect x="485.7" y="106.66" width="0.85" height="0.85"/><rect x="490.19" y="68.87" width="0.85" height="0.85"/><rect x="476.93" y="85.38" width="0.85" height="0.85"/><rect x="482.34" y="60.89" width="0.85" height="0.85"/><rect x="477.82" y="57.37" width="0.85" height="0.85"/><rect x="480.38" y="86.45" width="0.85" height="0.85"/><rect x="485.28" y="92.58" width="0.85" height="0.85"/><rect x="483.78" y="96.06" width="0.85" height="0.85"/><rect x="490.34" y="86.9" width="0.85" height="0.85"/><rect x="483.62" y="59.22" width="0.85" height="0.85"/><rect x="492.97" y="68.97" width="0.85" height="0.85"/><rect x="488.53" y="103.45" width="0.85" height="0.85"/><rect x="472.79" y="68.4" width="0.85" height="0.85"/><rect x="495.49" y="86.31" width="0.85" height="0.85"/><rect x="492.77" y="87.34" width="0.85" height="0.85"/><rect x="484.07" y="94.25" width="0.85" height="0.85"/><rect x="487.78" y="91.04" width="0.85" height="0.85"/><rect x="481.12" y="83.39" width="0.85" height="0.85"/><rect x="490.74" y="67.51" width="0.85" height="0.85"/><rect x="487.13" y="77.05" width="0.85" height="0.85"/><rect x="487.76" y="60.72" width="0.85" height="0.85"/><rect x="478.28" y="63.21" width="0.85" height="0.85"/><rect x="475.35" y="86.23" width="0.85" height="0.85"/><rect x="473.57" y="71.64" width="0.85" height="0.85"/><rect x="476.79" y="94.05" width="0.85" height="0.85"/><rect x="486.58" y="87.73" width="0.85" height="0.85"/><rect x="480.46" y="74.97" width="0.85" height="0.85"/><rect x="490.45" y="60.03" width="0.85" height="0.85"/><rect x="493.94" y="100" width="0.85" height="0.85"/><rect x="483.12" y="108.05" width="0.85" height="0.85"/><rect x="479.98" y="71.28" width="0.85" height="0.85"/><rect x="474.71" y="72.84" width="0.85" height="0.85"/><rect x="484.19" y="90.51" width="0.85" height="0.85"/><rect x="489.44" y="98.89" width="0.85" height="0.85"/><rect x="478.55" y="75.49" width="0.85" height="0.85"/><rect x="494.78" y="76.68" width="0.85" height="0.85"/><rect x="476.69" y="67.2" width="0.85" height="0.85"/><rect x="490.2" y="84.97" width="0.85" height="0.85"/><rect x="489.77" y="87.92" width="0.85" height="0.85"/><rect x="494.26" y="76.16" width="0.85" height="0.85"/><rect x="487.71" y="84.73" width="0.85" height="0.85"/><rect x="477.32" y="72.55" width="0.85" height="0.85"/><rect x="491.41" y="101.12" width="0.85" height="0.85"/><rect x="491.86" y="72.36" width="0.85" height="0.85"/><rect x="486.63" y="91.11" width="0.85" height="0.85"/><rect x="488.41" y="88.94" width="0.85" height="0.85"/><rect x="483.15" y="110.29" width="0.85" height="0.85"/><rect x="486.93" y="87.22" width="0.85" height="0.85"/><rect x="477.3" y="58.16" width="0.85" height="0.85"/><rect x="480.93" y="67.58" width="0.85" height="0.85"/><rect x="476.17" y="66.43" width="0.85" height="0.85"/><rect x="484.58" y="99.67" width="0.85" height="0.85"/><rect x="498.35" y="84.35" width="0.85" height="0.85"/><rect x="488.22" y="106.36" width="0.85" height="0.85"/><rect x="476.67" y="92.96" width="0.85" height="0.85"/><rect x="492.71" y="85.74" width="0.85" height="0.85"/><rect x="488.06" y="109.04" width="0.85" height="0.85"/><rect x="487.24" y="87.21" width="0.85" height="0.85"/><rect x="478.92" y="103.32" width="0.85" height="0.85"/><rect x="485.98" y="97.49" width="0.85" height="0.85"/><rect x="492.68" y="67.17" width="0.85" height="0.85"/><rect x="476.37" y="64.46" width="0.85" height="0.85"/><rect x="479.2" y="70.54" width="0.85" height="0.85"/><rect x="482.28" y="85.04" width="0.85" height="0.85"/><rect x="493.95" y="96.66" width="0.85" height="0.85"/><rect x="483.44" y="109.16" width="0.85" height="0.85"/><rect x="484.25" y="63.68" width="0.85" height="0.85"/><rect x="492.71" y="90.9" width="0.85" height="0.85"/><rect x="479.57" y="83.89" width="0.85" height="0.85"/><rect x="477.73" y="73.6" width="0.85" height="0.85"/><rect x="490.75" y="107.14" width="0.85" height="0.85"/><rect x="483.74" y="72.9" width="0.85" height="0.85"/><rect x="478.26" y="94.02" width="0.85" height="0.85"/><rect x="479.82" y="76.69" width="0.85" height="0.85"/><rect x="488.02" y="58.01" width="0.85" height="0.85"/><rect x="485.41" y="73.03" width="0.85" height="0.85"/><rect x="487.98" y="79.98" width="0.85" height="0.85"/><rect x="486.84" y="74.36" width="0.85" height="0.85"/><rect x="471.59" y="81.3" width="0.85" height="0.85"/><rect x="483.39" y="101.55" width="0.85" height="0.85"/><rect x="492.91" y="77.5" width="0.85" height="0.85"/><rect x="493.42" y="65.55" width="0.85" height="0.85"/><rect x="477.28" y="74.08" width="0.85" height="0.85"/><rect x="486.53" y="99.79" width="0.85" height="0.85"/><rect x="491.16" y="97.48" width="0.85" height="0.85"/><rect x="498.46" y="85.78" width="0.85" height="0.85"/><rect x="475.96" y="65.97" width="0.85" height="0.85"/><rect x="480.34" y="85.02" width="0.85" height="0.85"/><rect x="474.15" y="81.1" width="0.85" height="0.85"/><rect x="474.66" y="82.13" width="0.85" height="0.85"/><rect x="488.82" y="100.03" width="0.85" height="0.85"/><rect x="492.17" y="65.81" width="0.85" height="0.85"/><rect x="483.12" y="78.85" width="0.85" height="0.85"/><rect x="491.46" y="87.86" width="0.85" height="0.85"/><rect x="473.11" y="66.83" width="0.85" height="0.85"/><rect x="497.29" y="80.58" width="0.85" height="0.85"/><rect x="492.25" y="85.26" width="0.85" height="0.85"/><rect x="478.29" y="79.04" width="0.85" height="0.85"/><rect x="485.83" y="58.98" width="0.85" height="0.85"/><rect x="480.14" y="90.39" width="0.85" height="0.85"/><rect x="474.31" y="87.57" width="0.85" height="0.85"/><rect x="474.93" y="68.55" width="0.85" height="0.85"/><rect x="489.75" y="90.23" width="0.85" height="0.85"/><rect x="484.19" y="75.61" width="0.85" height="0.85"/><rect x="474.08" y="90.46" width="0.85" height="0.85"/><rect x="477.03" y="59.7" width="0.85" height="0.85"/><rect x="477.2" y="98.14" width="0.85" height="0.85"/><rect x="481.54" y="107.4" width="0.85" height="0.85"/><rect x="485.71" y="87.92" width="0.85" height="0.85"/><rect x="489.56" y="109.54" width="0.85" height="0.85"/><rect x="492.43" y="73.33" width="0.85" height="0.85"/><rect x="480.13" y="67.98" width="0.85" height="0.85"/><rect x="479" y="102.12" width="0.85" height="0.85"/><rect x="486.58" y="82.4" width="0.85" height="0.85"/><rect x="481.42" y="62.65" width="0.85" height="0.85"/><rect x="486.06" y="65.14" width="0.85" height="0.85"/><rect x="486.68" y="85.06" width="0.85" height="0.85"/><rect x="471.89" y="67.05" width="0.85" height="0.85"/><rect x="488.32" y="99.07" width="0.85" height="0.85"/><rect x="494.71" y="84.11" width="0.85" height="0.85"/><rect x="497.61" y="83.34" width="0.85" height="0.85"/><rect x="488.47" y="68.43" width="0.85" height="0.85"/><rect x="482.97" y="65" width="0.85" height="0.85"/><rect x="482.16" y="75.52" width="0.85" height="0.85"/><rect x="486.53" y="98.29" width="0.85" height="0.85"/><rect x="491.14" y="74.52" width="0.85" height="0.85"/><rect x="484.8" y="72.83" width="0.85" height="0.85"/><rect x="489.02" y="67.56" width="0.85" height="0.85"/><rect x="481.67" y="105.83" width="0.85" height="0.85"/><rect x="473.88" y="71.35" width="0.85" height="0.85"/><rect x="487.64" y="104.4" width="0.85" height="0.85"/><rect x="485.8" y="93.58" width="0.85" height="0.85"/><rect x="473.96" y="88.79" width="0.85" height="0.85"/><rect x="490.7" y="67.78" width="0.85" height="0.85"/><rect x="495.07" y="79.09" width="0.85" height="0.85"/><rect x="477.57" y="102.64" width="0.85" height="0.85"/><rect x="494.45" y="77.62" width="0.85" height="0.85"/><rect x="491.14" y="96.54" width="0.85" height="0.85"/><rect x="488.83" y="60.59" width="0.85" height="0.85"/><rect x="487.79" y="81.85" width="0.85" height="0.85"/><rect x="472.97" y="77.98" width="0.85" height="0.85"/><rect x="477.51" y="103.31" width="0.85" height="0.85"/><rect x="486.44" y="108.51" width="0.85" height="0.85"/><rect x="482.19" y="80.74" width="0.85" height="0.85"/><rect x="485.57" y="63.64" width="0.85" height="0.85"/><rect x="480.77" y="98.83" width="0.85" height="0.85"/><rect x="474.51" y="85.17" width="0.85" height="0.85"/><rect x="490.35" y="88.35" width="0.85" height="0.85"/><rect x="484.73" y="60.28" width="0.85" height="0.85"/><rect x="483.77" y="92.91" width="0.85" height="0.85"/><rect x="484.71" y="59.62" width="0.85" height="0.85"/><rect x="495.38" y="82.45" width="0.85" height="0.85"/><rect x="491.34" y="73.01" width="0.85" height="0.85"/><rect x="493.59" y="71.98" width="0.85" height="0.85"/><rect x="485.69" y="103.02" width="0.85" height="0.85"/><rect x="475.76" y="75.96" width="0.85" height="0.85"/><rect x="488.33" y="69.5" width="0.85" height="0.85"/><rect x="484.75" y="69.88" width="0.85" height="0.85"/><rect x="494.75" y="74.49" width="0.85" height="0.85"/><rect x="492.85" y="76.41" width="0.85" height="0.85"/><rect x="489.85" y="82.77" width="0.85" height="0.85"/><rect x="475.05" y="65.74" width="0.85" height="0.85"/><rect x="490.81" y="73.08" width="0.85" height="0.85"/><rect x="494.65" y="74.29" width="0.85" height="0.85"/><rect x="476.86" y="78.56" width="0.85" height="0.85"/><rect x="489.04" y="93.38" width="0.85" height="0.85"/><rect x="495.01" y="74.44" width="0.85" height="0.85"/><rect x="486.68" y="74.15" width="0.85" height="0.85"/><rect x="472.94" y="72.26" width="0.85" height="0.85"/><rect x="487.51" y="106.93" width="0.85" height="0.85"/><rect x="481.21" y="58.72" width="0.85" height="0.85"/><rect x="490.67" y="81.32" width="0.85" height="0.85"/><rect x="486.21" y="64.48" width="0.85" height="0.85"/><rect x="488.82" y="65.78" width="0.85" height="0.85"/><rect x="485.01" y="56.92" width="0.85" height="0.85"/><rect x="493.76" y="70.52" width="0.85" height="0.85"/><rect x="488.92" y="100.04" width="0.85" height="0.85"/><rect x="489.76" y="105.02" width="0.85" height="0.85"/><rect x="484.52" y="81.51" width="0.85" height="0.85"/><rect x="482.54" y="80.13" width="0.85" height="0.85"/><rect x="490.87" y="77.81" width="0.85" height="0.85"/><rect x="491.31" y="72.91" width="0.85" height="0.85"/><rect x="492.15" y="68.17" width="0.85" height="0.85"/><rect x="475.02" y="92.68" width="0.85" height="0.85"/><rect x="477.6" y="67.48" width="0.85" height="0.85"/><rect x="472.55" y="67.31" width="0.85" height="0.85"/><rect x="478.26" y="88.01" width="0.85" height="0.85"/><rect x="472.48" y="79.2" width="0.85" height="0.85"/><rect x="481.9" y="91.18" width="0.85" height="0.85"/><rect x="490.66" y="109.26" width="0.85" height="0.85"/><rect x="488.95" y="95.33" width="0.85" height="0.85"/><rect x="487.61" y="78.29" width="0.85" height="0.85"/><rect x="494.07" y="64.91" width="0.85" height="0.85"/><rect x="485.87" y="80.18" width="0.85" height="0.85"/><rect x="493.83" y="76.33" width="0.85" height="0.85"/><rect x="484.74" y="80.19" width="0.85" height="0.85"/><rect x="482.53" y="61.84" width="0.85" height="0.85"/><rect x="480.84" y="94.38" width="0.85" height="0.85"/><rect x="476.19" y="79.87" width="0.85" height="0.85"/><rect x="481.5" y="108.37" width="0.85" height="0.85"/><rect x="489.12" y="88.9" width="0.85" height="0.85"/><rect x="484.02" y="81.53" width="0.85" height="0.85"/><rect x="485.27" y="58.63" width="0.85" height="0.85"/><rect x="490.44" y="64.92" width="0.85" height="0.85"/><rect x="476.66" y="81.96" width="0.85" height="0.85"/><rect x="474.22" y="81.33" width="0.85" height="0.85"/><rect x="482.99" y="66.24" width="0.85" height="0.85"/><rect x="495.34" y="69.74" width="0.85" height="0.85"/><rect x="482.28" y="78.8" width="0.85" height="0.85"/><rect x="477.87" y="105.31" width="0.85" height="0.85"/><rect x="473.72" y="67.22" width="0.85" height="0.85"/><rect x="482.01" y="76.35" width="0.85" height="0.85"/><rect x="487.69" y="111.61" width="0.85" height="0.85"/><rect x="496.21" y="74.47" width="0.85" height="0.85"/><rect x="483.71" y="100.55" width="0.85" height="0.85"/><rect x="493.52" y="94.48" width="0.85" height="0.85"/><rect x="472.91" y="68.54" width="0.85" height="0.85"/><rect x="490.04" y="71.91" width="0.85" height="0.85"/><rect x="488.02" y="110.69" width="0.85" height="0.85"/><rect x="493.02" y="72.48" width="0.85" height="0.85"/><rect x="487.35" y="71.36" width="0.85" height="0.85"/><rect x="492.22" y="108.63" width="0.85" height="0.85"/><rect x="483.83" y="104.72" width="0.85" height="0.85"/><rect x="479.15" y="72.14" width="0.85" height="0.85"/><rect x="482.14" y="107.51" width="0.85" height="0.85"/><rect x="486.19" y="82.39" width="0.85" height="0.85"/><rect x="490.86" y="67.91" width="0.85" height="0.85"/><rect x="484.96" y="104.94" width="0.85" height="0.85"/><rect x="485.01" y="96.21" width="0.85" height="0.85"/><rect x="490.26" y="87.41" width="0.85" height="0.85"/><rect x="478.13" y="72.37" width="0.85" height="0.85"/><rect x="482.04" y="111.49" width="0.85" height="0.85"/><rect x="490.21" y="95.54" width="0.85" height="0.85"/><rect x="496.21" y="88.05" width="0.85" height="0.85"/><rect x="486.97" y="83.56" width="0.85" height="0.85"/><rect x="485.66" y="101.21" width="0.85" height="0.85"/><rect x="485.17" y="87.33" width="0.85" height="0.85"/><rect x="480.61" y="100.78" width="0.85" height="0.85"/><rect x="489" y="80.01" width="0.85" height="0.85"/><rect x="472.5" y="78.72" width="0.85" height="0.85"/><rect x="493.96" y="75.12" width="0.85" height="0.85"/><rect x="473.05" y="75.79" width="0.85" height="0.85"/><rect x="484.08" y="77.25" width="0.85" height="0.85"/><rect x="488.5" y="82.12" width="0.85" height="0.85"/><rect x="480.24" y="105.86" width="0.85" height="0.85"/><rect x="476.91" y="98.28" width="0.85" height="0.85"/><rect x="490.03" y="88.3" width="0.85" height="0.85"/><rect x="493.2" y="83.05" width="0.85" height="0.85"/><rect x="475.07" y="79.01" width="0.85" height="0.85"/><rect x="479.63" y="56.78" width="0.85" height="0.85"/><rect x="487.66" y="104.97" width="0.85" height="0.85"/><rect x="478.78" y="60.43" width="0.85" height="0.85"/><rect x="497.69" y="87.81" width="0.85" height="0.85"/><rect x="479.4" y="65.02" width="0.85" height="0.85"/><rect x="473" y="83.66" width="0.85" height="0.85"/><rect x="475.09" y="61.7" width="0.85" height="0.85"/><rect x="485.7" y="104.02" width="0.85" height="0.85"/><rect x="479.31" y="68.13" width="0.85" height="0.85"/><rect x="481.62" y="101.94" width="0.85" height="0.85"/><rect x="491.2" y="67.31" width="0.85" height="0.85"/><rect x="480.42" y="90.03" width="0.85" height="0.85"/><rect x="491.22" y="85.43" width="0.85" height="0.85"/><rect x="486.27" y="89.23" width="0.85" height="0.85"/><rect x="477.15" y="93.29" width="0.85" height="0.85"/><rect x="478.9" y="103.89" width="0.85" height="0.85"/><rect x="496.26" y="74.74" width="0.85" height="0.85"/><rect x="478.94" y="61.76" width="0.85" height="0.85"/><rect x="486.69" y="93.02" width="0.85" height="0.85"/><rect x="482.18" y="71.46" width="0.85" height="0.85"/><rect x="487.3" y="63.95" width="0.85" height="0.85"/><rect x="483.73" y="62.08" width="0.85" height="0.85"/><rect x="498.21" y="86.67" width="0.85" height="0.85"/><rect x="472.98" y="82.58" width="0.85" height="0.85"/><rect x="485.6" y="107.1" width="0.85" height="0.85"/><rect x="477.83" y="75.33" width="0.85" height="0.85"/><rect x="495.89" y="86.27" width="0.85" height="0.85"/><rect x="475.52" y="86.7" width="0.85" height="0.85"/><rect x="475.5" y="75.26" width="0.85" height="0.85"/><rect x="495.65" y="73.02" width="0.85" height="0.85"/><rect x="477.09" y="64.23" width="0.85" height="0.85"/><rect x="479.37" y="83.92" width="0.85" height="0.85"/><rect x="480.32" y="81.25" width="0.85" height="0.85"/><rect x="478.32" y="93.84" width="0.85" height="0.85"/><rect x="479.24" y="88.97" width="0.85" height="0.85"/><rect x="487.57" y="96.63" width="0.85" height="0.85"/><rect x="475.05" y="65.4" width="0.85" height="0.85"/><rect x="490.75" y="103.2" width="0.85" height="0.85"/><rect x="478.99" y="102.78" width="0.85" height="0.85"/><rect x="480.96" y="55.06" width="0.85" height="0.85"/><rect x="478.11" y="80.85" width="0.85" height="0.85"/><rect x="485.12" y="72.49" width="0.85" height="0.85"/><rect x="485.35" y="58" width="0.85" height="0.85"/><rect x="473.39" y="69.06" width="0.85" height="0.85"/><rect x="480.16" y="82.86" width="0.85" height="0.85"/><rect x="485.93" y="75.95" width="0.85" height="0.85"/><rect x="494.04" y="102.58" width="0.85" height="0.85"/><rect x="478.82" y="103.26" width="0.85" height="0.85"/><rect x="497.11" y="71.58" width="0.85" height="0.85"/><rect x="487.44" y="67.75" width="0.85" height="0.85"/><rect x="478.43" y="65.4" width="0.85" height="0.85"/><rect x="486.84" y="59.11" width="0.85" height="0.85"/><rect x="489.41" y="73.18" width="0.85" height="0.85"/><rect x="476.37" y="70.66" width="0.85" height="0.85"/><rect x="484.1" y="101.57" width="0.85" height="0.85"/><rect x="484.79" y="69.01" width="0.85" height="0.85"/><rect x="492.05" y="91.62" width="0.85" height="0.85"/><rect x="483.49" y="107.33" width="0.85" height="0.85"/><rect x="484.68" y="90.12" width="0.85" height="0.85"/><rect x="487.1" y="79.52" width="0.85" height="0.85"/><rect x="489.03" y="95.99" width="0.85" height="0.85"/><rect x="485.97" y="89.21" width="0.85" height="0.85"/><rect x="472.65" y="66.62" width="0.85" height="0.85"/><rect x="498.52" y="85.53" width="0.85" height="0.85"/><rect x="491.07" y="63.5" width="0.85" height="0.85"/><rect x="477.06" y="69.64" width="0.85" height="0.85"/><rect x="484.79" y="66.69" width="0.85" height="0.85"/><rect x="482.18" y="74.1" width="0.85" height="0.85"/><rect x="472.82" y="70.38" width="0.85" height="0.85"/><rect x="471.77" y="71.97" width="0.85" height="0.85"/><rect x="476.94" y="75.58" width="0.85" height="0.85"/><rect x="484.93" y="99.2" width="0.85" height="0.85"/><rect x="487.91" y="111.28" width="0.85" height="0.85"/><rect x="489.96" y="73.8" width="0.85" height="0.85"/><rect x="479.47" y="59.87" width="0.85" height="0.85"/><rect x="477.48" y="75.53" width="0.85" height="0.85"/><rect x="473.44" y="83.88" width="0.85" height="0.85"/><rect x="498.24" y="74.75" width="0.85" height="0.85"/><rect x="481.74" y="90.31" width="0.85" height="0.85"/><rect x="488.23" y="89.61" width="0.85" height="0.85"/><rect x="489.17" y="58.08" width="0.85" height="0.85"/><rect x="479.2" y="95.78" width="0.85" height="0.85"/><rect x="481.86" y="90.18" width="0.85" height="0.85"/><rect x="486.62" y="110.28" width="0.85" height="0.85"/><rect x="478.25" y="68.09" width="0.85" height="0.85"/><rect x="471.44" y="78.73" width="0.85" height="0.85"/><rect x="473.84" y="68.69" width="0.85" height="0.85"/><rect x="488.47" y="108.17" width="0.85" height="0.85"/><rect x="494.11" y="88.25" width="0.85" height="0.85"/><rect x="477.17" y="76.06" width="0.85" height="0.85"/><rect x="481.04" y="59.81" width="0.85" height="0.85"/><rect x="489.36" y="72.28" width="0.85" height="0.85"/><rect x="486.02" y="61.06" width="0.85" height="0.85"/><rect x="487.73" y="58.75" width="0.85" height="0.85"/><rect x="492.17" y="91.92" width="0.85" height="0.85"/><rect x="489.86" y="71.09" width="0.85" height="0.85"/><rect x="492.13" y="76.66" width="0.85" height="0.85"/><rect x="481.42" y="69.16" width="0.85" height="0.85"/><rect x="494.96" y="81.62" width="0.85" height="0.85"/><rect x="495.9" y="84.39" width="0.85" height="0.85"/><rect x="496.03" y="93.26" width="0.85" height="0.85"/><rect x="472.59" y="70.66" width="0.85" height="0.85"/><rect x="476.21" y="63.98" width="0.85" height="0.85"/><rect x="482.94" y="79.03" width="0.85" height="0.85"/><rect x="478.98" y="65.68" width="0.85" height="0.85"/><rect x="488.02" y="79.17" width="0.85" height="0.85"/><rect x="487.55" y="63.09" width="0.85" height="0.85"/><rect x="477.21" y="96.8" width="0.85" height="0.85"/><rect x="479.73" y="108.9" width="0.85" height="0.85"/><rect x="490.69" y="68" width="0.85" height="0.85"/><rect x="486.68" y="84.92" width="0.85" height="0.85"/><rect x="479.2" y="95.2" width="0.85" height="0.85"/><rect x="480.36" y="89.5" width="0.85" height="0.85"/><rect x="481.94" y="82.64" width="0.85" height="0.85"/><rect x="484.89" y="109.26" width="0.85" height="0.85"/><rect x="487.37" y="93.58" width="0.85" height="0.85"/><rect x="495.09" y="68" width="0.85" height="0.85"/><rect x="477.32" y="97.82" width="0.85" height="0.85"/><rect x="485.21" y="57.89" width="0.85" height="0.85"/><rect x="483.74" y="81.19" width="0.85" height="0.85"/><rect x="488.66" y="81.6" width="0.85" height="0.85"/><rect x="494.95" y="86.65" width="0.85" height="0.85"/><rect x="482.83" y="111.8" width="0.85" height="0.85"/><rect x="477.56" y="78.84" width="0.85" height="0.85"/><rect x="471.58" y="82.35" width="0.85" height="0.85"/><rect x="485.4" y="58.75" width="0.85" height="0.85"/><rect x="482.04" y="72.58" width="0.85" height="0.85"/><rect x="471.21" y="78.32" width="0.85" height="0.85"/><rect x="487.94" y="84.09" width="0.85" height="0.85"/><rect x="472.91" y="79.97" width="0.85" height="0.85"/><rect x="488.75" y="103.74" width="0.85" height="0.85"/><rect x="492.71" y="81.62" width="0.85" height="0.85"/><rect x="486.19" y="70.46" width="0.85" height="0.85"/><rect x="477.31" y="100.05" width="0.85" height="0.85"/><rect x="494.07" y="72.91" width="0.85" height="0.85"/><rect x="484.82" y="60.53" width="0.85" height="0.85"/><rect x="489.54" y="76.37" width="0.85" height="0.85"/><rect x="485.42" y="88.07" width="0.85" height="0.85"/><rect x="492.84" y="72.94" width="0.85" height="0.85"/><rect x="488.03" y="69.78" width="0.85" height="0.85"/><rect x="495.98" y="81.57" width="0.85" height="0.85"/><rect x="483.55" y="104.48" width="0.85" height="0.85"/><rect x="483.55" y="99.94" width="0.85" height="0.85"/><rect x="492.48" y="83.26" width="0.85" height="0.85"/><rect x="475.78" y="69.84" width="0.85" height="0.85"/><rect x="487.44" y="100.37" width="0.85" height="0.85"/><rect x="480.46" y="64.02" width="0.85" height="0.85"/><rect x="496.14" y="85.18" width="0.85" height="0.85"/><rect x="491.87" y="103.01" width="0.85" height="0.85"/><rect x="488.14" y="80.12" width="0.85" height="0.85"/><rect x="472.06" y="70.21" width="0.85" height="0.85"/><rect x="494.1" y="79.41" width="0.85" height="0.85"/><rect x="471.43" y="76.12" width="0.85" height="0.85"/><rect x="492.12" y="98.93" width="0.85" height="0.85"/><rect x="480.86" y="87.16" width="0.85" height="0.85"/><rect x="479.83" y="102.18" width="0.85" height="0.85"/><rect x="480.72" y="76.57" width="0.85" height="0.85"/><rect x="479.12" y="77.06" width="0.85" height="0.85"/><rect x="495.92" y="80.87" width="0.85" height="0.85"/><rect x="479.35" y="67.75" width="0.85" height="0.85"/><rect x="476.66" y="73.87" width="0.85" height="0.85"/><rect x="479.17" y="95.14" width="0.85" height="0.85"/><rect x="479.74" y="104.67" width="0.85" height="0.85"/><rect x="482.44" y="67.51" width="0.85" height="0.85"/><rect x="489.82" y="111.41" width="0.85" height="0.85"/><rect x="477.42" y="78.43" width="0.85" height="0.85"/><rect x="491.18" y="66.15" width="0.85" height="0.85"/><rect x="482.94" y="83.47" width="0.85" height="0.85"/><rect x="491.43" y="104.42" width="0.85" height="0.85"/><rect x="486.81" y="84" width="0.85" height="0.85"/><rect x="485.25" y="71.97" width="0.85" height="0.85"/><rect x="480.59" y="86.63" width="0.85" height="0.85"/><rect x="478.88" y="105.46" width="0.85" height="0.85"/><rect x="489.22" y="76.42" width="0.85" height="0.85"/><rect x="476.52" y="92.98" width="0.85" height="0.85"/><rect x="476.36" y="82.52" width="0.85" height="0.85"/><rect x="483.8" y="87.4" width="0.85" height="0.85"/><rect x="486.44" y="99.91" width="0.85" height="0.85"/><rect x="495.85" y="93.1" width="0.85" height="0.85"/><rect x="496.49" y="80.99" width="0.85" height="0.85"/><rect x="486.54" y="86.48" width="0.85" height="0.85"/><rect x="485.2" y="75.54" width="0.85" height="0.85"/><rect x="489.12" y="104.4" width="0.85" height="0.85"/><rect x="485.04" y="101.35" width="0.85" height="0.85"/><rect x="479.18" y="95.03" width="0.85" height="0.85"/><rect x="480.58" y="77.52" width="0.85" height="0.85"/><rect x="492.33" y="102.63" width="0.85" height="0.85"/><rect x="486.21" y="99.2" width="0.85" height="0.85"/><rect x="486.91" y="100.04" width="0.85" height="0.85"/><rect x="490.82" y="85.26" width="0.85" height="0.85"/><rect x="487.74" y="65.12" width="0.85" height="0.85"/><rect x="472.75" y="67.53" width="0.85" height="0.85"/><rect x="494.98" y="95.14" width="0.85" height="0.85"/><rect x="485.04" y="66.88" width="0.85" height="0.85"/><rect x="485.15" y="59.6" width="0.85" height="0.85"/><rect x="487.86" y="68.51" width="0.85" height="0.85"/><rect x="492.04" y="87.03" width="0.85" height="0.85"/><rect x="482.25" y="75.74" width="0.85" height="0.85"/><rect x="476.84" y="60.51" width="0.85" height="0.85"/><rect x="482.7" y="76.75" width="0.85" height="0.85"/><rect x="492.55" y="64.23" width="0.85" height="0.85"/><rect x="479.44" y="109.39" width="0.85" height="0.85"/><rect x="488.02" y="91.75" width="0.85" height="0.85"/><rect x="489.11" y="108.38" width="0.85" height="0.85"/><rect x="487.25" y="107.57" width="0.85" height="0.85"/><rect x="482.31" y="90.8" width="0.85" height="0.85"/><rect x="478.08" y="58.63" width="0.85" height="0.85"/><rect x="484.04" y="70.86" width="0.85" height="0.85"/><rect x="482.37" y="98.28" width="0.85" height="0.85"/><rect x="493.75" y="98.86" width="0.85" height="0.85"/><rect x="492.88" y="82.56" width="0.85" height="0.85"/><rect x="491.11" y="107.67" width="0.85" height="0.85"/><rect x="489.09" y="92.59" width="0.85" height="0.85"/><rect x="488.37" y="90.23" width="0.85" height="0.85"/><rect x="483.61" y="78.78" width="0.85" height="0.85"/><rect x="497.57" y="72.67" width="0.85" height="0.85"/><rect x="473.2" y="74.58" width="0.85" height="0.85"/><rect x="470.64" y="78.29" width="0.85" height="0.85"/><rect x="483.61" y="105.53" width="0.85" height="0.85"/><rect x="477.33" y="73.01" width="0.85" height="0.85"/><rect x="478.2" y="103.79" width="0.85" height="0.85"/><rect x="492.55" y="105.64" width="0.85" height="0.85"/><rect x="486.68" y="112.11" width="0.85" height="0.85"/><rect x="475.85" y="90.4" width="0.85" height="0.85"/><rect x="484" y="56.59" width="0.85" height="0.85"/><rect x="488.96" y="81.32" width="0.85" height="0.85"/><rect x="485.46" y="67.61" width="0.85" height="0.85"/><rect x="477.52" y="76.71" width="0.85" height="0.85"/><rect x="493.81" y="86.84" width="0.85" height="0.85"/><rect x="492.91" y="76.49" width="0.85" height="0.85"/><rect x="485.21" y="66.8" width="0.85" height="0.85"/><rect x="479.55" y="75.6" width="0.85" height="0.85"/><rect x="477.98" y="70.16" width="0.85" height="0.85"/><rect x="492.54" y="85.7" width="0.85" height="0.85"/><rect x="491.16" y="89.59" width="0.85" height="0.85"/><rect x="472.97" y="75.17" width="0.85" height="0.85"/><rect x="488.58" y="90.93" width="0.85" height="0.85"/><rect x="483.07" y="59.45" width="0.85" height="0.85"/><rect x="485.11" y="109.45" width="0.85" height="0.85"/><rect x="488.78" y="64.94" width="0.85" height="0.85"/><rect x="486.25" y="81.59" width="0.85" height="0.85"/><rect x="475.71" y="91.68" width="0.85" height="0.85"/><rect x="490.11" y="91.99" width="0.85" height="0.85"/><rect x="486.38" y="102.39" width="0.85" height="0.85"/><rect x="480.39" y="69.92" width="0.85" height="0.85"/><rect x="484.05" y="95.98" width="0.85" height="0.85"/><rect x="479.45" y="62.8" width="0.85" height="0.85"/><rect x="482.94" y="70.17" width="0.85" height="0.85"/><rect x="482.21" y="93.04" width="0.85" height="0.85"/><rect x="488.58" y="101.87" width="0.85" height="0.85"/><rect x="486.34" y="97.86" width="0.85" height="0.85"/><rect x="482.74" y="77.01" width="0.85" height="0.85"/><rect x="473.48" y="87.64" width="0.85" height="0.85"/><rect x="480.82" y="89.34" width="0.85" height="0.85"/><rect x="479.05" y="104.92" width="0.85" height="0.85"/><rect x="494.98" y="94.1" width="0.85" height="0.85"/><rect x="483.48" y="74.78" width="0.85" height="0.85"/><rect x="486.98" y="111.13" width="0.85" height="0.85"/><rect x="481.84" y="68.48" width="0.85" height="0.85"/><rect x="472.06" y="75.12" width="0.85" height="0.85"/><rect x="491.68" y="88.34" width="0.85" height="0.85"/><rect x="476.83" y="89.95" width="0.85" height="0.85"/><rect x="490.3" y="66.46" width="0.85" height="0.85"/><rect x="478.94" y="99.67" width="0.85" height="0.85"/><rect x="481.42" y="81.77" width="0.85" height="0.85"/><rect x="484.16" y="103.6" width="0.85" height="0.85"/><rect x="494.12" y="68.56" width="0.85" height="0.85"/><rect x="493.29" y="88.87" width="0.85" height="0.85"/><rect x="486.91" y="60.66" width="0.85" height="0.85"/><rect x="484.66" y="61.7" width="0.85" height="0.85"/><rect x="477.55" y="78.12" width="0.85" height="0.85"/><rect x="489.57" y="64.97" width="0.85" height="0.85"/><rect x="483.53" y="58.95" width="0.85" height="0.85"/><rect x="485.34" y="76.52" width="0.85" height="0.85"/><rect x="484.32" y="78.16" width="0.85" height="0.85"/><rect x="489.35" y="84.07" width="0.85" height="0.85"/><rect x="473.88" y="89.17" width="0.85" height="0.85"/><rect x="491.24" y="101.04" width="0.85" height="0.85"/><rect x="487.37" y="59.59" width="0.85" height="0.85"/><rect x="476.71" y="90.17" width="0.85" height="0.85"/><rect x="487.25" y="60.82" width="0.85" height="0.85"/><rect x="496.26" y="75.32" width="0.85" height="0.85"/><rect x="485.42" y="106.04" width="0.85" height="0.85"/><rect x="486.54" y="84.45" width="0.85" height="0.85"/><rect x="478.88" y="78.12" width="0.85" height="0.85"/><rect x="478.92" y="100.99" width="0.85" height="0.85"/><rect x="492.99" y="73.13" width="0.85" height="0.85"/><rect x="481.48" y="82.43" width="0.85" height="0.85"/><rect x="482.71" y="101.61" width="0.85" height="0.85"/><rect x="488.45" y="61.56" width="0.85" height="0.85"/><rect x="472.95" y="85.96" width="0.85" height="0.85"/><rect x="477.95" y="92.51" width="0.85" height="0.85"/><rect x="492.85" y="102.82" width="0.85" height="0.85"/><rect x="478.98" y="65.51" width="0.85" height="0.85"/><rect x="487.51" y="94.6" width="0.85" height="0.85"/><rect x="492.14" y="96.2" width="0.85" height="0.85"/><rect x="477.07" y="86.58" width="0.85" height="0.85"/><rect x="478.61" y="59.49" width="0.85" height="0.85"/><rect x="480.42" y="83.94" width="0.85" height="0.85"/><rect x="481.82" y="97.29" width="0.85" height="0.85"/><rect x="481.51" y="85.81" width="0.85" height="0.85"/><rect x="479.87" y="98.29" width="0.85" height="0.85"/><rect x="489.74" y="93.56" width="0.85" height="0.85"/><rect x="479.43" y="71.2" width="0.85" height="0.85"/><rect x="483.92" y="58.51" width="0.85" height="0.85"/><rect x="474.19" y="88.98" width="0.85" height="0.85"/><rect x="480.74" y="57.73" width="0.85" height="0.85"/><rect x="492.45" y="108.85" width="0.85" height="0.85"/><rect x="478.71" y="99.53" width="0.85" height="0.85"/><rect x="489.29" y="91.23" width="0.85" height="0.85"/><rect x="486.12" y="111.6" width="0.85" height="0.85"/><rect x="496.29" y="82.49" width="0.85" height="0.85"/><rect x="476.23" y="61.59" width="0.85" height="0.85"/><rect x="490.82" y="96.07" width="0.85" height="0.85"/><rect x="485.27" y="64.42" width="0.85" height="0.85"/><rect x="496.75" y="81.68" width="0.85" height="0.85"/><rect x="482.06" y="103.39" width="0.85" height="0.85"/><rect x="479.59" y="81.35" width="0.85" height="0.85"/><rect x="492.52" y="103.24" width="0.85" height="0.85"/><rect x="475.24" y="83.36" width="0.85" height="0.85"/><rect x="471.47" y="78.17" width="0.85" height="0.85"/><rect x="481.82" y="59.57" width="0.85" height="0.85"/><rect x="481.91" y="71.65" width="0.85" height="0.85"/><rect x="485.02" y="79.41" width="0.85" height="0.85"/><rect x="482.8" y="87.54" width="0.85" height="0.85"/><rect x="481.61" y="110.36" width="0.85" height="0.85"/><rect x="494.26" y="70.27" width="0.85" height="0.85"/><rect x="486.38" y="66.65" width="0.85" height="0.85"/><rect x="479.53" y="59.63" width="0.85" height="0.85"/><rect x="483.9" y="70.7" width="0.85" height="0.85"/><rect x="483.42" y="111.23" width="0.85" height="0.85"/><rect x="486.93" y="75.52" width="0.85" height="0.85"/><rect x="488.22" y="105.11" width="0.85" height="0.85"/><rect x="480.63" y="57.14" width="0.85" height="0.85"/><rect x="488.24" y="86.08" width="0.85" height="0.85"/><rect x="483.13" y="82.81" width="0.85" height="0.85"/><rect x="473.92" y="89.59" width="0.85" height="0.85"/><rect x="473.9" y="70.17" width="0.85" height="0.85"/><rect x="486.1" y="111.04" width="0.85" height="0.85"/><rect x="480.15" y="63.06" width="0.85" height="0.85"/><rect x="480.41" y="62.02" width="0.85" height="0.85"/><rect x="496.46" y="76.05" width="0.85" height="0.85"/><rect x="488.53" y="74.28" width="0.85" height="0.85"/><rect x="488.45" y="64.85" width="0.85" height="0.85"/><rect x="484.66" y="89.92" width="0.85" height="0.85"/><rect x="486.74" y="101.97" width="0.85" height="0.85"/><rect x="493.07" y="77.32" width="0.85" height="0.85"/><rect x="487.84" y="69.35" width="0.85" height="0.85"/><rect x="496.33" y="77.09" width="0.85" height="0.85"/><rect x="490.24" y="102.88" width="0.85" height="0.85"/><rect x="495.42" y="82.87" width="0.85" height="0.85"/><rect x="489.71" y="71.48" width="0.85" height="0.85"/><rect x="481.31" y="100.83" width="0.85" height="0.85"/><rect x="486.39" y="101" width="0.85" height="0.85"/><rect x="472.62" y="70.4" width="0.85" height="0.85"/><rect x="479.96" y="78.5" width="0.85" height="0.85"/><rect x="488.62" y="92.39" width="0.85" height="0.85"/><rect x="481.14" y="105.26" width="0.85" height="0.85"/><rect x="489.88" y="91.28" width="0.85" height="0.85"/><rect x="498.23" y="85.1" width="0.85" height="0.85"/><rect x="487.63" y="64.83" width="0.85" height="0.85"/><rect x="493.77" y="115.22" width="0.85" height="0.85"/><rect x="488.47" y="126.21" width="0.85" height="0.85"/><rect x="489.7" y="129.51" width="0.85" height="0.85"/><rect x="481.98" y="119.55" width="0.85" height="0.85"/><rect x="486.64" y="112.82" width="0.85" height="0.85"/><rect x="493.08" y="120.09" width="0.85" height="0.85"/><rect x="493.4" y="116.13" width="0.85" height="0.85"/><rect x="489.17" y="117.25" width="0.85" height="0.85"/><rect x="486.8" y="116.12" width="0.85" height="0.85"/><rect x="493" y="121.64" width="0.85" height="0.85"/><rect x="483.94" y="113" width="0.85" height="0.85"/><rect x="485.76" y="130.69" width="0.85" height="0.85"/><rect x="492.72" y="123.15" width="0.85" height="0.85"/><rect x="482.79" y="132.26" width="0.85" height="0.85"/><rect x="489.94" y="129.57" width="0.85" height="0.85"/><rect x="490.93" y="122.11" width="0.85" height="0.85"/><rect x="480.93" y="112.97" width="0.85" height="0.85"/><rect x="490.94" y="121.15" width="0.85" height="0.85"/><rect x="487.84" y="131.24" width="0.85" height="0.85"/><rect x="493.25" y="120.27" width="0.85" height="0.85"/><rect x="491.7" y="133.49" width="0.85" height="0.85"/><rect x="485.97" y="120.69" width="0.85" height="0.85"/><rect x="485.26" y="129.14" width="0.85" height="0.85"/><rect x="490.4" y="112.76" width="0.85" height="0.85"/><rect x="491.67" y="128.12" width="0.85" height="0.85"/><rect x="494.6" y="75.17" width="0.85" height="0.85"/><rect x="484.14" y="66.32" width="0.85" height="0.85"/><rect x="477.76" y="86.25" width="0.85" height="0.85"/><rect x="478.65" y="94.99" width="0.85" height="0.85"/><rect x="491.14" y="70.73" width="0.85" height="0.85"/><rect x="486.09" y="65.77" width="0.85" height="0.85"/><rect x="472.46" y="68.07" width="0.85" height="0.85"/><rect x="478.11" y="66.01" width="0.85" height="0.85"/><rect x="494.37" y="71.67" width="0.85" height="0.85"/><rect x="502.34" y="81.08" width="0.85" height="0.85"/><rect x="499.05" y="60.71" width="0.85" height="0.85"/><rect x="474.5" y="78.72" width="0.85" height="0.85"/><rect x="500.84" y="109.78" width="0.85" height="0.85"/><rect x="483.44" y="93.59" width="0.85" height="0.85"/><rect x="489.01" y="102.8" width="0.85" height="0.85"/><rect x="468.07" y="65.26" width="0.85" height="0.85"/><rect x="497.28" y="78.56" width="0.85" height="0.85"/><rect x="494.79" y="66.19" width="0.85" height="0.85"/><rect x="471.41" y="65.21" width="0.85" height="0.85"/><rect x="498.63" y="112.6" width="0.85" height="0.85"/><rect x="491.98" y="56.38" width="0.85" height="0.85"/><rect x="472.31" y="78.82" width="0.85" height="0.85"/><rect x="495.28" y="100.66" width="0.85" height="0.85"/><rect x="472.04" y="100.73" width="0.85" height="0.85"/><rect x="472.77" y="71.27" width="0.85" height="0.85"/><rect x="470.16" y="113.77" width="0.85" height="0.85"/><rect x="476.09" y="109.71" width="0.85" height="0.85"/><rect x="490.87" y="59.43" width="0.85" height="0.85"/><rect x="472.89" y="100.64" width="0.85" height="0.85"/><rect x="468.11" y="66.38" width="0.85" height="0.85"/><rect x="480.84" y="102.92" width="0.85" height="0.85"/><rect x="493.12" y="75.78" width="0.85" height="0.85"/><rect x="484.2" y="62.48" width="0.85" height="0.85"/><rect x="492.35" y="78.05" width="0.85" height="0.85"/><rect x="496.01" y="93.23" width="0.85" height="0.85"/><rect x="468.88" y="60.87" width="0.85" height="0.85"/><rect x="501.77" y="70.26" width="0.85" height="0.85"/><rect x="472.02" y="85.37" width="0.85" height="0.85"/><rect x="487.85" y="93.51" width="0.85" height="0.85"/><rect x="475.02" y="83.76" width="0.85" height="0.85"/><rect x="473.69" y="79.97" width="0.85" height="0.85"/><rect x="491.85" y="92.05" width="0.85" height="0.85"/><rect x="478.81" y="112.52" width="0.85" height="0.85"/><rect x="474.02" y="115.1" width="0.85" height="0.85"/><rect x="494.12" y="79.3" width="0.85" height="0.85"/><rect x="483.95" y="85.69" width="0.85" height="0.85"/><rect x="487.2" y="81.76" width="0.85" height="0.85"/><rect x="484.26" y="77.07" width="0.85" height="0.85"/><rect x="483.46" y="107.25" width="0.85" height="0.85"/><rect x="484.63" y="76.01" width="0.85" height="0.85"/><rect x="501.51" y="72.38" width="0.85" height="0.85"/><rect x="476.21" y="65.36" width="0.85" height="0.85"/><rect x="483.53" y="113.32" width="0.85" height="0.85"/><rect x="490.7" y="62.83" width="0.85" height="0.85"/><rect x="495.72" y="98.36" width="0.85" height="0.85"/><rect x="479.38" y="94.97" width="0.85" height="0.85"/><rect x="473.13" y="89.39" width="0.85" height="0.85"/><rect x="487.57" y="87.11" width="0.85" height="0.85"/><rect x="496.7" y="111.97" width="0.85" height="0.85"/><rect x="477.41" y="63.96" width="0.85" height="0.85"/><rect x="497.98" y="101.15" width="0.85" height="0.85"/><rect x="489.83" y="88.35" width="0.85" height="0.85"/><rect x="488.19" y="75.15" width="0.85" height="0.85"/><rect x="488.3" y="77.74" width="0.85" height="0.85"/><rect x="470.18" y="113.46" width="0.85" height="0.85"/><rect x="469" y="88.28" width="0.85" height="0.85"/><rect x="468.4" y="81.37" width="0.85" height="0.85"/><rect x="475.42" y="89.89" width="0.85" height="0.85"/><rect x="494.26" y="106.19" width="0.85" height="0.85"/><rect x="491.29" y="94.62" width="0.85" height="0.85"/><rect x="462.04" y="107.33" width="0.85" height="0.85"/><rect x="450.75" y="86.72" width="0.85" height="0.85"/><rect x="452.1" y="77.44" width="0.85" height="0.85"/><rect x="456.01" y="100.94" width="0.85" height="0.85"/><rect x="452.98" y="84.96" width="0.85" height="0.85"/><rect x="459.13" y="81.79" width="0.85" height="0.85"/><rect x="464.37" y="106.01" width="0.85" height="0.85"/><rect x="450.07" y="89.61" width="0.85" height="0.85"/><rect x="464.51" y="104.44" width="0.85" height="0.85"/><rect x="462.37" y="83.99" width="0.85" height="0.85"/><rect x="462.19" y="96.25" width="0.85" height="0.85"/><rect x="457.07" y="87.42" width="0.85" height="0.85"/><rect x="462.35" y="103" width="0.85" height="0.85"/><rect x="453.3" y="98.31" width="0.85" height="0.85"/><rect x="464.72" y="91.84" width="0.85" height="0.85"/><rect x="462.61" y="104.17" width="0.85" height="0.85"/><rect x="462.92" y="71.14" width="0.85" height="0.85"/><rect x="463.06" y="86.51" width="0.85" height="0.85"/></g>
<text x="486.25" y="35.8" font-size="8.04" fill="#4a4a4a" stroke="#4a4a4a" stroke-width="0.18">Detox-iFibro</text>
<text x="442.55" y="53.3" font-size="8.13" fill="#e8402e" stroke="#e8402e" stroke-width="0.18">CXCL-iFibro</text>
<text x="415.75" y="70.4" font-size="8.14" fill="#4a4a4a" stroke="#4a4a4a" stroke-width="0.18">IFNαβ-</text>
<text x="413.65" y="80.4" font-size="8.06" fill="#4a4a4a" stroke="#4a4a4a" stroke-width="0.18">Peri-like</text>
<text x="502.25" y="88.2" font-size="8.19" fill="#4a4a4a" stroke="#4a4a4a" stroke-width="0.18">Wound-myoFibro</text>
<text x="412.05" y="131.8" font-size="8.2" fill="#4a4a4a" stroke="#4a4a4a" stroke-width="0.18">Contractile-</text>
<text x="418.95" y="140.8" font-size="8" fill="#4a4a4a" stroke="#4a4a4a" stroke-width="0.18">Peri-like</text>
<text x="462.25" y="145.3" font-size="8.14" fill="#4a4a4a" stroke="#4a4a4a" stroke-width="0.18">TGFβ-myoFibro</text>
<line x1="587.4" y1="50.5" x2="587.4" y2="134.6" stroke="#444" stroke-width="0.5"/>
<line x1="587.4" y1="134.6" x2="677.1" y2="134.6" stroke="#444" stroke-width="0.5"/>
<line x1="586.3" y1="63.9" x2="587.4" y2="63.9" stroke="#444" stroke-width="0.4"/>
<text x="585.8" y="65.9" font-size="5.7" text-anchor="end" fill="#333" stroke="#333" stroke-width="0.18">1.0</text>
<line x1="586.3" y1="86.4" x2="587.4" y2="86.4" stroke="#444" stroke-width="0.4"/>
<text x="585.8" y="88.4" font-size="5.7" text-anchor="end" fill="#333" stroke="#333" stroke-width="0.18">0.5</text>
<line x1="586.3" y1="108.9" x2="587.4" y2="108.9" stroke="#444" stroke-width="0.4"/>
<text x="585.8" y="110.9" font-size="5.7" text-anchor="end" fill="#333" stroke="#333" stroke-width="0.18">0.0</text>
<line x1="586.3" y1="131.4" x2="587.4" y2="131.4" stroke="#444" stroke-width="0.4"/>
<text x="585.8" y="133.4" font-size="5.7" text-anchor="end" fill="#333" stroke="#333" stroke-width="0.18">-0.5</text>
<path d="M596.3 54.02 L596.51 54.75 L596.67 55.48 L596.86 56.21 L597.08 56.94 L597.3 57.67 L597.52 58.41 L597.74 59.14 L597.96 59.87 L598.19 60.6 L598.43 61.33 L598.67 62.07 L598.91 62.8 L599.16 63.53 L599.41 64.26 L599.66 64.99 L599.9 65.72 L600.15 66.46 L600.39 67.19 L600.63 67.92 L600.87 68.65 L601.1 69.38 L601.32 70.12 L601.53 70.85 L601.72 71.58 L601.89 72.31 L602.04 73.04 L602.18 73.77 L602.31 74.51 L602.41 75.24 L602.47 75.97 L602.51 76.7 L602.51 77.43 L602.48 78.17 L602.42 78.9 L602.32 79.63 L602.21 80.36 L602.09 81.09 L601.96 81.82 L601.81 82.56 L601.65 83.29 L601.47 84.02 L601.28 84.75 L601.08 85.48 L600.87 86.22 L600.66 86.95 L600.44 87.68 L600.2 88.41 L599.97 89.14 L599.72 89.87 L599.47 90.61 L599.24 91.34 L599.01 92.07 L598.8 92.8 L598.61 93.53 L598.42 94.27 L598.24 95 L598.08 95.73 L597.92 96.46 L597.78 97.19 L597.64 97.92 L597.51 98.66 L597.4 99.39 L597.29 100.12 L597.2 100.85 L597.11 101.58 L597.02 102.32 L596.95 103.05 L596.88 103.78 L596.82 104.51 L596.76 105.24 L596.72 105.97 L596.67 106.71 L596.63 107.44 L596.58 108.17 L596.53 108.9 L596.49 109.63 L596.45 110.37 L596.42 111.1 L596.35 111.83 L596.05 111.83 L595.98 111.1 L595.95 110.37 L595.91 109.63 L595.87 108.9 L595.82 108.17 L595.77 107.44 L595.73 106.71 L595.68 105.97 L595.64 105.24 L595.58 104.51 L595.52 103.78 L595.45 103.05 L595.38 102.32 L595.29 101.58 L595.2 100.85 L595.11 100.12 L595 99.39 L594.89 98.66 L594.76 97.92 L594.62 97.19 L594.48 96.46 L594.32 95.73 L594.16 95 L593.98 94.27 L593.79 93.53 L593.6 92.8 L593.39 92.07 L593.16 91.34 L592.93 90.61 L592.68 89.87 L592.43 89.14 L592.2 88.41 L591.96 87.68 L591.74 86.95 L591.53 86.22 L591.32 85.48 L591.12 84.75 L590.93 84.02 L590.75 83.29 L590.59 82.56 L590.44 81.82 L590.31 81.09 L590.19 80.36 L590.08 79.63 L589.98 78.9 L589.92 78.17 L589.89 77.43 L589.89 76.7 L589.93 75.97 L589.99 75.24 L590.09 74.51 L590.22 73.77 L590.36 73.04 L590.51 72.31 L590.68 71.58 L590.87 70.85 L591.08 70.12 L591.3 69.38 L591.53 68.65 L591.77 67.92 L592.01 67.19 L592.25 66.46 L592.5 65.72 L592.74 64.99 L592.99 64.26 L593.24 63.53 L593.49 62.8 L593.73 62.07 L593.97 61.33 L594.21 60.6 L594.44 59.87 L594.66 59.14 L594.88 58.41 L595.1 57.67 L595.32 56.94 L595.54 56.21 L595.73 55.48 L595.89 54.75 L596.1 54.02 Z" fill="#e8776f" stroke="#4a4a4a" stroke-width="0.25" stroke-opacity="0.45"/>
<path d="M610.6 78.19 L610.71 78.81 L610.82 79.43 L610.94 80.05 L611.09 80.67 L611.24 81.29 L611.38 81.9 L611.53 82.52 L611.68 83.14 L611.82 83.76 L611.98 84.38 L612.14 85 L612.3 85.62 L612.47 86.24 L612.65 86.85 L612.83 87.47 L613.01 88.09 L613.2 88.71 L613.38 89.33 L613.57 89.95 L613.75 90.57 L613.94 91.19 L614.11 91.8 L614.29 92.42 L614.45 93.04 L614.62 93.66 L614.78 94.28 L614.93 94.9 L615.09 95.52 L615.24 96.13 L615.4 96.75 L615.55 97.37 L615.7 97.99 L615.84 98.61 L615.97 99.23 L616.09 99.85 L616.19 100.47 L616.29 101.08 L616.37 101.7 L616.45 102.32 L616.53 102.94 L616.61 103.56 L616.69 104.18 L616.77 104.8 L616.84 105.42 L616.9 106.03 L616.95 106.65 L616.99 107.27 L617.02 107.89 L617.04 108.51 L617.05 109.13 L617.07 109.75 L617.08 110.37 L617.09 110.98 L617.11 111.6 L617.11 112.22 L617.09 112.84 L617.06 113.46 L617.01 114.08 L616.95 114.7 L616.87 115.32 L616.77 115.93 L616.67 116.55 L616.56 117.17 L616.43 117.79 L616.27 118.41 L616.09 119.03 L615.88 119.65 L615.65 120.26 L615.39 120.88 L615.1 121.5 L614.78 122.12 L614.43 122.74 L614.04 123.36 L613.61 123.98 L613.1 124.6 L612.52 125.21 L611.99 125.83 L611.53 126.45 L610.6 127.07 L610.4 127.07 L609.47 126.45 L609.01 125.83 L608.48 125.21 L607.9 124.6 L607.39 123.98 L606.96 123.36 L606.57 122.74 L606.22 122.12 L605.9 121.5 L605.61 120.88 L605.35 120.26 L605.12 119.65 L604.91 119.03 L604.73 118.41 L604.57 117.79 L604.44 117.17 L604.33 116.55 L604.23 115.93 L604.13 115.32 L604.05 114.7 L603.99 114.08 L603.94 113.46 L603.91 112.84 L603.89 112.22 L603.89 111.6 L603.91 110.98 L603.92 110.37 L603.93 109.75 L603.95 109.13 L603.96 108.51 L603.98 107.89 L604.01 107.27 L604.05 106.65 L604.1 106.03 L604.16 105.42 L604.23 104.8 L604.31 104.18 L604.39 103.56 L604.47 102.94 L604.55 102.32 L604.63 101.7 L604.71 101.08 L604.81 100.47 L604.91 99.85 L605.03 99.23 L605.16 98.61 L605.3 97.99 L605.45 97.37 L605.6 96.75 L605.76 96.13 L605.91 95.52 L606.07 94.9 L606.22 94.28 L606.38 93.66 L606.55 93.04 L606.71 92.42 L606.89 91.8 L607.06 91.19 L607.25 90.57 L607.43 89.95 L607.62 89.33 L607.8 88.71 L607.99 88.09 L608.17 87.47 L608.35 86.85 L608.53 86.24 L608.7 85.62 L608.86 85 L609.02 84.38 L609.18 83.76 L609.32 83.14 L609.47 82.52 L609.62 81.9 L609.76 81.29 L609.91 80.67 L610.06 80.05 L610.18 79.43 L610.29 78.81 L610.4 78.19 Z" fill="#b9a21a" stroke="#4a4a4a" stroke-width="0.25" stroke-opacity="0.45"/>
<path d="M625.5 91.68 L625.5 92.17 L625.5 92.66 L625.52 93.15 L625.56 93.63 L625.6 94.12 L625.64 94.61 L625.68 95.1 L625.72 95.58 L625.76 96.07 L625.81 96.56 L625.89 97.05 L625.99 97.54 L626.12 98.02 L626.27 98.51 L626.46 99 L626.66 99.49 L626.89 99.98 L627.11 100.46 L627.33 100.95 L627.55 101.44 L627.76 101.93 L627.98 102.42 L628.19 102.9 L628.41 103.39 L628.62 103.88 L628.83 104.37 L629.05 104.85 L629.26 105.34 L629.46 105.83 L629.65 106.32 L629.83 106.81 L630 107.29 L630.16 107.78 L630.31 108.27 L630.45 108.76 L630.6 109.25 L630.75 109.73 L630.89 110.22 L631.04 110.71 L631.19 111.2 L631.33 111.68 L631.47 112.17 L631.58 112.66 L631.65 113.15 L631.67 113.64 L631.67 114.12 L631.62 114.61 L631.54 115.1 L631.42 115.59 L631.31 116.08 L631.19 116.56 L631.07 117.05 L630.95 117.54 L630.81 118.03 L630.65 118.52 L630.47 119 L630.28 119.49 L630.06 119.98 L629.83 120.47 L629.58 120.95 L629.34 121.44 L629.09 121.93 L628.84 122.42 L628.6 122.91 L628.36 123.39 L628.13 123.88 L627.91 124.37 L627.69 124.86 L627.47 125.35 L627.26 125.83 L627.05 126.32 L626.85 126.81 L626.64 127.3 L626.43 127.78 L626.23 128.27 L626.02 128.76 L625.84 129.25 L625.7 129.74 L625.5 130.22 L625.3 130.22 L625.1 129.74 L624.96 129.25 L624.78 128.76 L624.57 128.27 L624.37 127.78 L624.16 127.3 L623.95 126.81 L623.75 126.32 L623.54 125.83 L623.33 125.35 L623.11 124.86 L622.89 124.37 L622.67 123.88 L622.44 123.39 L622.2 122.91 L621.96 122.42 L621.71 121.93 L621.46 121.44 L621.22 120.95 L620.97 120.47 L620.74 119.98 L620.52 119.49 L620.33 119 L620.15 118.52 L619.99 118.03 L619.85 117.54 L619.73 117.05 L619.61 116.56 L619.49 116.08 L619.38 115.59 L619.26 115.1 L619.18 114.61 L619.13 114.12 L619.13 113.64 L619.15 113.15 L619.22 112.66 L619.33 112.17 L619.47 111.68 L619.61 111.2 L619.76 110.71 L619.91 110.22 L620.05 109.73 L620.2 109.25 L620.35 108.76 L620.49 108.27 L620.64 107.78 L620.8 107.29 L620.97 106.81 L621.15 106.32 L621.34 105.83 L621.54 105.34 L621.75 104.85 L621.97 104.37 L622.18 103.88 L622.39 103.39 L622.61 102.9 L622.82 102.42 L623.04 101.93 L623.25 101.44 L623.47 100.95 L623.69 100.46 L623.91 99.98 L624.14 99.49 L624.34 99 L624.53 98.51 L624.68 98.02 L624.81 97.54 L624.91 97.05 L624.99 96.56 L625.04 96.07 L625.08 95.58 L625.12 95.1 L625.16 94.61 L625.2 94.12 L625.24 93.63 L625.28 93.15 L625.3 92.66 L625.3 92.17 L625.3 91.68 Z" fill="#3cae5a" stroke="#4a4a4a" stroke-width="0.25" stroke-opacity="0.45"/>
<path d="M639.6 79.42 L639.62 80.01 L639.68 80.59 L639.76 81.18 L639.85 81.77 L639.93 82.36 L640.02 82.94 L640.1 83.53 L640.2 84.12 L640.31 84.71 L640.43 85.3 L640.57 85.88 L640.73 86.47 L640.89 87.06 L641.08 87.65 L641.27 88.23 L641.46 88.82 L641.66 89.41 L641.87 90 L642.1 90.58 L642.35 91.17 L642.61 91.76 L642.88 92.35 L643.17 92.93 L643.47 93.52 L643.77 94.11 L644.05 94.7 L644.31 95.29 L644.54 95.87 L644.76 96.46 L644.95 97.05 L645.12 97.64 L645.26 98.22 L645.4 98.81 L645.54 99.4 L645.65 99.99 L645.72 100.57 L645.76 101.16 L645.75 101.75 L645.7 102.34 L645.61 102.93 L645.48 103.51 L645.34 104.1 L645.2 104.69 L645.05 105.28 L644.91 105.86 L644.75 106.45 L644.59 107.04 L644.43 107.63 L644.26 108.21 L644.08 108.8 L643.91 109.39 L643.73 109.98 L643.55 110.56 L643.38 111.15 L643.2 111.74 L643.03 112.33 L642.85 112.92 L642.68 113.5 L642.51 114.09 L642.34 114.68 L642.17 115.27 L642 115.85 L641.83 116.44 L641.67 117.03 L641.5 117.62 L641.33 118.2 L641.17 118.79 L641.02 119.38 L640.86 119.97 L640.72 120.56 L640.58 121.14 L640.44 121.73 L640.31 122.32 L640.17 122.91 L640.04 123.49 L639.9 124.08 L639.79 124.67 L639.69 125.26 L639.6 125.84 L639.4 125.84 L639.31 125.26 L639.21 124.67 L639.1 124.08 L638.96 123.49 L638.83 122.91 L638.69 122.32 L638.56 121.73 L638.42 121.14 L638.28 120.56 L638.14 119.97 L637.98 119.38 L637.83 118.79 L637.67 118.2 L637.5 117.62 L637.33 117.03 L637.17 116.44 L637 115.85 L636.83 115.27 L636.66 114.68 L636.49 114.09 L636.32 113.5 L636.15 112.92 L635.97 112.33 L635.8 111.74 L635.62 111.15 L635.45 110.56 L635.27 109.98 L635.09 109.39 L634.92 108.8 L634.74 108.21 L634.57 107.63 L634.41 107.04 L634.25 106.45 L634.09 105.86 L633.95 105.28 L633.8 104.69 L633.66 104.1 L633.52 103.51 L633.39 102.93 L633.3 102.34 L633.25 101.75 L633.24 101.16 L633.28 100.57 L633.35 99.99 L633.46 99.4 L633.6 98.81 L633.74 98.22 L633.88 97.64 L634.05 97.05 L634.24 96.46 L634.46 95.87 L634.69 95.29 L634.95 94.7 L635.23 94.11 L635.53 93.52 L635.83 92.93 L636.12 92.35 L636.39 91.76 L636.65 91.17 L636.9 90.58 L637.13 90 L637.34 89.41 L637.54 88.82 L637.73 88.23 L637.92 87.65 L638.11 87.06 L638.27 86.47 L638.43 85.88 L638.57 85.3 L638.69 84.71 L638.8 84.12 L638.9 83.53 L638.98 82.94 L639.07 82.36 L639.15 81.77 L639.24 81.18 L639.32 80.59 L639.38 80.01 L639.4 79.42 Z" fill="#12b0b5" stroke="#4a4a4a" stroke-width="0.25" stroke-opacity="0.45"/>
<path d="M654.4 72.41 L654.55 73.03 L654.68 73.65 L654.83 74.27 L655.01 74.89 L655.19 75.52 L655.36 76.14 L655.54 76.76 L655.72 77.38 L655.9 78 L656.08 78.62 L656.26 79.24 L656.45 79.86 L656.63 80.48 L656.82 81.1 L657 81.72 L657.19 82.35 L657.38 82.97 L657.56 83.59 L657.75 84.21 L657.93 84.83 L658.11 85.45 L658.29 86.07 L658.47 86.69 L658.64 87.31 L658.81 87.93 L658.99 88.55 L659.16 89.18 L659.33 89.8 L659.5 90.42 L659.67 91.04 L659.83 91.66 L659.97 92.28 L660.11 92.9 L660.24 93.52 L660.35 94.14 L660.46 94.76 L660.56 95.39 L660.65 96.01 L660.71 96.63 L660.73 97.25 L660.72 97.87 L660.66 98.49 L660.57 99.11 L660.44 99.73 L660.27 100.35 L660.11 100.97 L659.94 101.59 L659.77 102.22 L659.6 102.84 L659.42 103.46 L659.24 104.08 L659.06 104.7 L658.88 105.32 L658.69 105.94 L658.5 106.56 L658.32 107.18 L658.13 107.8 L657.95 108.42 L657.77 109.05 L657.59 109.67 L657.42 110.29 L657.25 110.91 L657.09 111.53 L656.93 112.15 L656.78 112.77 L656.62 113.39 L656.47 114.01 L656.31 114.63 L656.16 115.26 L655.99 115.88 L655.83 116.5 L655.65 117.12 L655.47 117.74 L655.29 118.36 L655.09 118.98 L654.9 119.6 L654.73 120.22 L654.58 120.84 L654.4 121.46 L654.2 121.46 L654.02 120.84 L653.87 120.22 L653.7 119.6 L653.51 118.98 L653.31 118.36 L653.13 117.74 L652.95 117.12 L652.77 116.5 L652.61 115.88 L652.44 115.26 L652.29 114.63 L652.13 114.01 L651.98 113.39 L651.82 112.77 L651.67 112.15 L651.51 111.53 L651.35 110.91 L651.18 110.29 L651.01 109.67 L650.83 109.05 L650.65 108.42 L650.47 107.8 L650.28 107.18 L650.1 106.56 L649.91 105.94 L649.72 105.32 L649.54 104.7 L649.36 104.08 L649.18 103.46 L649 102.84 L648.83 102.22 L648.66 101.59 L648.49 100.97 L648.33 100.35 L648.16 99.73 L648.03 99.11 L647.94 98.49 L647.88 97.87 L647.87 97.25 L647.89 96.63 L647.95 96.01 L648.04 95.39 L648.14 94.76 L648.25 94.14 L648.36 93.52 L648.49 92.9 L648.63 92.28 L648.77 91.66 L648.93 91.04 L649.1 90.42 L649.27 89.8 L649.44 89.18 L649.61 88.55 L649.79 87.93 L649.96 87.31 L650.13 86.69 L650.31 86.07 L650.49 85.45 L650.67 84.83 L650.85 84.21 L651.04 83.59 L651.22 82.97 L651.41 82.35 L651.6 81.72 L651.78 81.1 L651.97 80.48 L652.15 79.86 L652.34 79.24 L652.52 78.62 L652.7 78 L652.88 77.38 L653.06 76.76 L653.24 76.14 L653.41 75.52 L653.59 74.89 L653.77 74.27 L653.92 73.65 L654.05 73.03 L654.2 72.41 Z" fill="#6b93d6" stroke="#4a4a4a" stroke-width="0.25" stroke-opacity="0.45"/>
<path d="M668.8 77.32 L668.84 77.91 L668.91 78.5 L668.99 79.09 L669.08 79.68 L669.18 80.28 L669.28 80.87 L669.37 81.46 L669.47 82.05 L669.58 82.65 L669.7 83.24 L669.83 83.83 L669.97 84.42 L670.13 85.01 L670.29 85.61 L670.47 86.2 L670.65 86.79 L670.82 87.38 L671 87.97 L671.18 88.57 L671.36 89.16 L671.53 89.75 L671.71 90.34 L671.89 90.93 L672.07 91.53 L672.24 92.12 L672.42 92.71 L672.6 93.3 L672.78 93.9 L672.95 94.49 L673.13 95.08 L673.31 95.67 L673.48 96.26 L673.65 96.86 L673.82 97.45 L673.98 98.04 L674.13 98.63 L674.28 99.22 L674.43 99.82 L674.57 100.41 L674.71 101 L674.83 101.59 L674.92 102.18 L674.97 102.78 L674.99 103.37 L674.97 103.96 L674.92 104.55 L674.83 105.15 L674.72 105.74 L674.62 106.33 L674.51 106.92 L674.41 107.51 L674.3 108.11 L674.19 108.7 L674.07 109.29 L673.93 109.88 L673.79 110.47 L673.64 111.07 L673.47 111.66 L673.3 112.25 L673.12 112.84 L672.94 113.43 L672.77 114.03 L672.59 114.62 L672.41 115.21 L672.22 115.8 L672.02 116.4 L671.81 116.99 L671.58 117.58 L671.34 118.17 L671.09 118.76 L670.83 119.36 L670.56 119.95 L670.3 120.54 L670.03 121.13 L669.76 121.72 L669.5 122.32 L669.27 122.91 L669.08 123.5 L668.8 124.09 L668.6 124.09 L668.32 123.5 L668.13 122.91 L667.9 122.32 L667.64 121.72 L667.37 121.13 L667.1 120.54 L666.84 119.95 L666.57 119.36 L666.31 118.76 L666.06 118.17 L665.82 117.58 L665.59 116.99 L665.38 116.4 L665.18 115.8 L664.99 115.21 L664.81 114.62 L664.63 114.03 L664.46 113.43 L664.28 112.84 L664.1 112.25 L663.93 111.66 L663.76 111.07 L663.61 110.47 L663.47 109.88 L663.33 109.29 L663.21 108.7 L663.1 108.11 L662.99 107.51 L662.89 106.92 L662.78 106.33 L662.68 105.74 L662.57 105.15 L662.48 104.55 L662.43 103.96 L662.41 103.37 L662.43 102.78 L662.48 102.18 L662.57 101.59 L662.69 101 L662.83 100.41 L662.97 99.82 L663.12 99.22 L663.27 98.63 L663.42 98.04 L663.58 97.45 L663.75 96.86 L663.92 96.26 L664.09 95.67 L664.27 95.08 L664.45 94.49 L664.62 93.9 L664.8 93.3 L664.98 92.71 L665.16 92.12 L665.33 91.53 L665.51 90.93 L665.69 90.34 L665.87 89.75 L666.04 89.16 L666.22 88.57 L666.4 87.97 L666.58 87.38 L666.75 86.79 L666.93 86.2 L667.11 85.61 L667.27 85.01 L667.43 84.42 L667.57 83.83 L667.7 83.24 L667.82 82.65 L667.93 82.05 L668.03 81.46 L668.12 80.87 L668.22 80.28 L668.32 79.68 L668.41 79.09 L668.49 78.5 L668.56 77.91 L668.6 77.32 Z" fill="#b86ab0" stroke="#4a4a4a" stroke-width="0.25" stroke-opacity="0.45"/>
<line x1="596.2" y1="134.6" x2="596.2" y2="135.8" stroke="#555" stroke-width="0.4"/>
<text x="597.9" y="138" font-size="6" text-anchor="end" fill="#333" stroke="#333" stroke-width="0.18" transform="rotate(-60 597.9 138)">CXCL-iFibro</text>
<line x1="610.5" y1="134.6" x2="610.5" y2="135.8" stroke="#555" stroke-width="0.4"/>
<text x="612.2" y="138" font-size="6" text-anchor="end" fill="#333" stroke="#333" stroke-width="0.18" transform="rotate(-60 612.2 138)">IFNαβ peri-like</text>
<line x1="625.4" y1="134.6" x2="625.4" y2="135.8" stroke="#555" stroke-width="0.4"/>
<text x="627.1" y="138" font-size="6" text-anchor="end" fill="#333" stroke="#333" stroke-width="0.18" transform="rotate(-60 627.1 138)">Contractile peri-like</text>
<line x1="639.5" y1="134.6" x2="639.5" y2="135.8" stroke="#555" stroke-width="0.4"/>
<text x="641.2" y="138" font-size="6" text-anchor="end" fill="#333" stroke="#333" stroke-width="0.18" transform="rotate(-60 641.2 138)">Wound myoFibro</text>
<line x1="654.3" y1="134.6" x2="654.3" y2="135.8" stroke="#555" stroke-width="0.4"/>
<text x="656" y="138" font-size="6" text-anchor="end" fill="#333" stroke="#333" stroke-width="0.18" transform="rotate(-60 656 138)">Detox-iFibro</text>
<line x1="668.7" y1="134.6" x2="668.7" y2="135.8" stroke="#555" stroke-width="0.4"/>
<text x="670.4" y="138" font-size="6" text-anchor="end" fill="#333" stroke="#333" stroke-width="0.18" transform="rotate(-60 670.4 138)">TGFβ myoFibro</text>
<text x="1" y="233.6" font-size="14" font-weight="bold" fill="#111" stroke="#111" stroke-width="0.1">c</text>
<text x="89" y="232.4" font-size="7" text-anchor="middle" fill="#222" stroke="#222" stroke-width="0.18">CXCL-iFibro</text>
<text x="89.3" y="240.4" font-size="7" text-anchor="middle" fill="#222" stroke="#222" stroke-width="0.18">expression score</text>
<line x1="165.3" y1="231.2" x2="173.9" y2="231.2" stroke="#e5584f" stroke-width="0.6"/>
<line x1="169.6" y1="230" x2="169.6" y2="232.4" stroke="#e5584f" stroke-width="0.5"/>
<line x1="168.4" y1="231.2" x2="170.8" y2="231.2" stroke="#e5584f" stroke-width="0.6"/>
<text x="176.2" y="233.6" font-size="7" fill="#222" stroke="#222" stroke-width="0.18">High</text>
<line x1="216.9" y1="231.2" x2="225.8" y2="231.2" stroke="#08adb3" stroke-width="0.6"/>
<line x1="221.3" y1="230" x2="221.3" y2="232.4" stroke="#08adb3" stroke-width="0.5"/>
<text x="227.3" y="233.6" font-size="7" fill="#222" stroke="#222" stroke-width="0.18">Low</text>
<line x1="85.5" y1="244.8" x2="85.5" y2="380.1" stroke="#505050" stroke-width="0.8"/>
<line x1="85.5" y1="380.1" x2="321" y2="380.1" stroke="#505050" stroke-width="0.8"/>
<line x1="84.2" y1="251.8" x2="85.5" y2="251.8" stroke="#505050" stroke-width="0.5"/>
<text x="82.6" y="254.2" font-size="6.9" text-anchor="end" fill="#4d4d4d" stroke="#4d4d4d" stroke-width="0.18">1.00</text>
<line x1="84.2" y1="282.85" x2="85.5" y2="282.85" stroke="#505050" stroke-width="0.5"/>
<text x="82.6" y="285.25" font-size="6.9" text-anchor="end" fill="#4d4d4d" stroke="#4d4d4d" stroke-width="0.18">0.75</text>
<line x1="84.2" y1="313.9" x2="85.5" y2="313.9" stroke="#505050" stroke-width="0.5"/>
<text x="82.6" y="316.3" font-size="6.9" text-anchor="end" fill="#4d4d4d" stroke="#4d4d4d" stroke-width="0.18">0.50</text>
<line x1="84.2" y1="344.95" x2="85.5" y2="344.95" stroke="#505050" stroke-width="0.5"/>
<text x="82.6" y="347.35" font-size="6.9" text-anchor="end" fill="#4d4d4d" stroke="#4d4d4d" stroke-width="0.18">0.25</text>
<line x1="84.2" y1="376" x2="85.5" y2="376" stroke="#505050" stroke-width="0.5"/>
<text x="82.6" y="378.4" font-size="6.9" text-anchor="end" fill="#4d4d4d" stroke="#4d4d4d" stroke-width="0.18">0.00</text>
<line x1="96.4" y1="380.1" x2="96.4" y2="381.5" stroke="#505050" stroke-width="0.5"/>
<text x="95.4" y="392.8" font-size="6.9" text-anchor="middle" fill="#4d4d4d" stroke="#4d4d4d" stroke-width="0.18">0</text>
<line x1="139" y1="380.1" x2="139" y2="381.5" stroke="#505050" stroke-width="0.5"/>
<text x="138" y="392.8" font-size="6.9" text-anchor="middle" fill="#4d4d4d" stroke="#4d4d4d" stroke-width="0.18">500</text>
<line x1="181.6" y1="380.1" x2="181.6" y2="381.5" stroke="#505050" stroke-width="0.5"/>
<text x="180.6" y="392.8" font-size="6.9" text-anchor="middle" fill="#4d4d4d" stroke="#4d4d4d" stroke-width="0.18">1000</text>
<line x1="224.2" y1="380.1" x2="224.2" y2="381.5" stroke="#505050" stroke-width="0.5"/>
<text x="223.2" y="392.8" font-size="6.9" text-anchor="middle" fill="#4d4d4d" stroke="#4d4d4d" stroke-width="0.18">1500</text>
<line x1="266.8" y1="380.1" x2="266.8" y2="381.5" stroke="#505050" stroke-width="0.5"/>
<text x="265.8" y="392.8" font-size="6.9" text-anchor="middle" fill="#4d4d4d" stroke="#4d4d4d" stroke-width="0.18">2000</text>
<line x1="309.4" y1="380.1" x2="309.4" y2="381.5" stroke="#505050" stroke-width="0.5"/>
<text x="308.4" y="392.8" font-size="6.9" text-anchor="middle" fill="#4d4d4d" stroke="#4d4d4d" stroke-width="0.18">2500</text>
<text x="208.4" y="403.6" font-size="8.25" text-anchor="middle" fill="#111" stroke="#111" stroke-width="0.18">Time (days)</text>
<text x="51.6" y="313.8" font-size="8.25" text-anchor="middle" fill="#111" stroke="#111" stroke-width="0.18" transform="rotate(-90 51.6 313.8)">ESRD or &gt;40% eGFR</text>
<text x="61" y="312.3" font-size="8.25" text-anchor="middle" fill="#111" stroke="#111" stroke-width="0.18" transform="rotate(-90 61 312.3)">decrease probability</text>
<text x="105.6" y="357.2" font-size="6.9" fill="#222" stroke="#222" stroke-width="0.18">p = 8e-4</text>
<path d="M96.4 250.5 H98.5 H98.5 V251.3 H100.8 H100.8 V252.3 H102.5 H102.5 V253.5 H104.4 H104.4 V254.9 H111 H111 V255.5 H113.9 H113.9 V256.4 H116 H116 V257.3 H118.3 H118.3 V258.4 H123.4 H123.4 V259.3 H124.8 H124.8 V260.3 H126.3 H126.3 V261.4 H127.8 H127.8 V262.2 H129.2 H129.2 V263.2 H135.8 H135.8 H137.5 H137.5 V263.9 H139.4 H139.4 V264.7 H159.2 H159.2 H160.6 H160.6 V266.6 H170.8 H170.8 H172.3 H172.3 V267.5 H173.8 H173.8 V268.4 H182.5 H182.5 V268.6 H185.4 H185.4 V269.8 H190.5 H190.5 V270.8 H295.2 H295.2" fill="none" stroke="#08adb3" stroke-width="0.85" stroke-linejoin="miter"/>
<path d="M96.4 248.9V252.1M94.8 250.5H98M106.6 253.3V256.5M105 254.9H108.2M108.8 253.3V256.5M107.2 254.9H110.4M115.4 254.8V258M113.8 256.4H117M118.3 255.7V258.9M116.7 257.3H119.9M124.1 257.7V260.9M122.5 259.3H125.7M127 259.8V263M125.4 261.4H128.6M131.4 261.6V264.8M129.8 263.2H133M133.6 261.6V264.8M132 263.2H135.2M142.4 263.1V266.3M140.8 264.7H144M148.2 263.1V266.3M146.6 264.7H149.8M156.2 263.1V266.3M154.6 264.7H157.8M158.4 263.1V266.3M156.8 264.7H160M166.5 265V268.2M164.9 266.6H168.1M171.6 265V268.2M170 266.6H173.2M174.5 266.8V270M172.9 268.4H176.1M176.7 266.8V270M175.1 268.4H178.3M180.3 266.8V270M178.7 268.4H181.9M189.8 268.2V271.4M188.2 269.8H191.4M194 269.2V272.4M192.4 270.8H195.6M201 269.2V272.4M199.4 270.8H202.6M203 269.2V272.4M201.4 270.8H204.6M205 269.2V272.4M203.4 270.8H206.6M207 269.2V272.4M205.4 270.8H208.6M217.7 269.2V272.4M216.1 270.8H219.3M219.5 269.2V272.4M217.9 270.8H221.1M221 269.2V272.4M219.4 270.8H222.6M223.8 269.2V272.4M222.2 270.8H225.4M227.3 269.2V272.4M225.7 270.8H228.9M230 269.2V272.4M228.4 270.8H231.6M232.6 269.2V272.4M231 270.8H234.2M234 269.2V272.4M232.4 270.8H235.6M235.5 269.2V272.4M233.9 270.8H237.1M237 269.2V272.4M235.4 270.8H238.6M238.3 269.2V272.4M236.7 270.8H239.9M240 269.2V272.4M238.4 270.8H241.6M242 269.2V272.4M240.4 270.8H243.6M244 269.2V272.4M242.4 270.8H245.6M246 269.2V272.4M244.4 270.8H247.6M248 269.2V272.4M246.4 270.8H249.6M250 269.2V272.4M248.4 270.8H251.6M251.5 269.2V272.4M249.9 270.8H253.1M253.6 269.2V272.4M252 270.8H255.2M283.4 269.2V272.4M281.8 270.8H285M293.9 269.2V272.4M292.3 270.8H295.5" fill="none" stroke="#08adb3" stroke-width="0.7"/>
<path d="M96.4 250.5 H98.6 H98.6 V251.6 H100.8 H100.8 V253 H102.9 H102.9 V255.2 H104.4 H104.4 V256.65 H104.4 V258.1 H105.9 H105.9 V260.3 H106.6 H106.6 V261.75 H106.6 V263.2 H113.9 H113.9 H114.6 H114.6 V264.7 H115.4 H115.4 V266.5 H116.1 H116.1 V268.4 H117.2 H117.2 V269.85 H117.2 V271.3 H118.3 H118.3 V272.75 H118.3 V274.2 H119.4 H119.4 V276.7 H120.5 H120.5 V278 H120.5 V279.3 H123.4 H123.4 V280 H126.3 H126.3 V282.2 H127.8 H127.8 V284.6 H140.2 H140.2 H140.9 H140.9 V285.95 H140.9 V287.3 H142.8 H142.8 V288.8 H144.6 H144.6 V290.3 H146.7 H146.7 V292.9 H154.8 H154.8 H156.2 H156.2 V295.4 H160.6 H160.6 V296.4 H163.5 H163.5 V298.7 H165 H165 V299.2 H222.4 H222.4 H222.4 H222.4 V300.72 H222.4 V302.24 H222.4 V303.76 H222.4 V305.28 H222.4 V306.8 H257.7 H257.7" fill="none" stroke="#e5584f" stroke-width="0.85" stroke-linejoin="miter"/>
<path d="M96.4 248.9V252.1M94.8 250.5H98M106.6 258.7V261.9M105 260.3H108.2M113.9 261.6V264.8M112.3 263.2H115.5M127 280.6V283.8M125.4 282.2H128.6M150.4 291.3V294.5M148.8 292.9H152M158.4 293.8V297M156.8 295.4H160M165 297.1V300.3M163.4 298.7H166.6M170.8 297.6V300.8M169.2 299.2H172.4M175.2 297.6V300.8M173.6 299.2H176.8M178.9 297.6V300.8M177.3 299.2H180.5M186.9 297.6V300.8M185.3 299.2H188.5M189.8 297.6V300.8M188.2 299.2H191.4M192 297.6V300.8M190.4 299.2H193.6M204.5 297.6V300.8M202.9 299.2H206.1M208 297.6V300.8M206.4 299.2H209.6M221.2 297.6V300.8M219.6 299.2H222.8M223.8 305.2V308.4M222.2 306.8H225.4M231.7 305.2V308.4M230.1 306.8H233.3M233.5 305.2V308.4M231.9 306.8H235.1M235.2 305.2V308.4M233.6 306.8H236.8M237 305.2V308.4M235.4 306.8H238.6M239 305.2V308.4M237.4 306.8H240.6M243 305.2V308.4M241.4 306.8H244.6M257.1 305.2V308.4M255.5 306.8H258.7" fill="none" stroke="#e5584f" stroke-width="0.7"/>
<text x="420.6" y="235.7" font-size="14" font-weight="bold" fill="#111" stroke="#111" stroke-width="0.1">d</text>
<rect x="435.7" y="243.3" width="236.6" height="26.6" fill="#b3b1b2"/>
<rect x="435.7" y="297" width="236.6" height="26.3" fill="#b3b1b2"/>
<rect x="435.7" y="351.1" width="236.6" height="27.2" fill="#b3b1b2"/>
<line x1="577.3" y1="237.5" x2="577.3" y2="384" stroke="#d2d2d2" stroke-width="0.5"/>
<line x1="617.5" y1="237.5" x2="617.5" y2="384" stroke="#d2d2d2" stroke-width="0.5"/>
<line x1="647.8" y1="237.5" x2="647.8" y2="384" stroke="#d2d2d2" stroke-width="0.5"/>
<line x1="547" y1="237.5" x2="547" y2="386" stroke="#333" stroke-width="0.5" stroke-dasharray="0.8 0.8"/>
<text x="514.95" y="237" font-size="8.13" fill="#111" stroke="#111" stroke-width="0.18">Hazard ratio</text>
<text x="438.6" y="257.4" font-size="7" font-weight="bold" fill="#111" stroke="#111" stroke-width="0.1">eGFR at biopsy</text>
<text x="438.6" y="264" font-size="6.8" font-style="italic" fill="#111" stroke="#111" stroke-width="0.1">(N=134)</text>
<text x="514.6" y="257.5" font-size="7" text-anchor="middle" fill="#111" stroke="#111" stroke-width="0.18">0.99</text>
<text x="514.6" y="263.8" font-size="7" text-anchor="middle" font-style="italic" fill="#111" stroke="#111" stroke-width="0.1" textLength="37.8" lengthAdjust="spacingAndGlyphs">(0.97 −  1.0)</text>
<text x="666.4" y="260.4" font-size="7" text-anchor="end" font-style="italic" fill="#111" stroke="#111" stroke-width="0.1">p=0.41</text>
<rect x="545.3" y="255" width="3.2" height="3.2" fill="#000"/>
<text x="438.2" y="282.3" font-size="7" font-weight="bold" fill="#111" stroke="#111" stroke-width="0.1">Age</text>
<text x="438.6" y="289.9" font-size="6.8" font-style="italic" fill="#111" stroke="#111" stroke-width="0.1">(N=134)</text>
<text x="514.6" y="283.9" font-size="7" text-anchor="middle" fill="#111" stroke="#111" stroke-width="0.18">1.00</text>
<text x="514.6" y="289.9" font-size="7" text-anchor="middle" font-style="italic" fill="#111" stroke="#111" stroke-width="0.1" textLength="37.8" lengthAdjust="spacingAndGlyphs">(0.98 −  1.0)</text>
<text x="666.4" y="284.5" font-size="7" text-anchor="end" font-style="italic" fill="#111" stroke="#111" stroke-width="0.1">p=0.90</text>
<rect x="545.4" y="282.3" width="3.2" height="3.2" fill="#000"/>
<text x="438.6" y="307.7" font-size="7" font-weight="bold" fill="#111" stroke="#111" stroke-width="0.1">UPCR at biopsy</text>
<text x="438.6" y="315.5" font-size="6.8" font-style="italic" fill="#111" stroke="#111" stroke-width="0.1">(N=134)</text>
<text x="514.6" y="309" font-size="7" text-anchor="middle" fill="#111" stroke="#111" stroke-width="0.18">1.09</text>
<text x="514.6" y="315.5" font-size="7" text-anchor="middle" font-style="italic" fill="#111" stroke="#111" stroke-width="0.1" textLength="37.2" lengthAdjust="spacingAndGlyphs">(1.01 −  1.2)</text>
<text x="667.2" y="310.8" font-size="7" text-anchor="end" font-style="italic" fill="#111" stroke="#111" stroke-width="0.1">p=0.04*</text>
<line x1="547.4" y1="310.2" x2="555" y2="310.2" stroke="#1a1a1a" stroke-width="0.6"/>
<line x1="547.4" y1="309" x2="547.4" y2="311.4" stroke="#1a1a1a" stroke-width="0.6"/>
<line x1="555" y1="309" x2="555" y2="311.4" stroke="#1a1a1a" stroke-width="0.6"/>
<rect x="549.2" y="308.6" width="3.2" height="3.2" fill="#000"/>
<text x="437.6" y="333.6" font-size="7" font-weight="bold" fill="#111" stroke="#111" stroke-width="0.1">HTN at biopsy</text>
<text x="437.6" y="341.7" font-size="6.8" font-style="italic" fill="#111" stroke="#111" stroke-width="0.1">(N=134)</text>
<text x="514.1" y="334.5" font-size="7" text-anchor="middle" fill="#111" stroke="#111" stroke-width="0.18">4.50</text>
<text x="517.1" y="341.6" font-size="7" text-anchor="middle" font-style="italic" fill="#111" stroke="#111" stroke-width="0.1" textLength="41.2" lengthAdjust="spacingAndGlyphs">(1.72 −  11.8)</text>
<text x="685.5" y="339.3" font-size="7" text-anchor="end" font-style="italic" fill="#111" stroke="#111" stroke-width="0.1">p=0.02*</text>
<line x1="570.8" y1="337.3" x2="655.3" y2="337.3" stroke="#1a1a1a" stroke-width="0.6"/>
<line x1="570.8" y1="336.1" x2="570.8" y2="338.5" stroke="#1a1a1a" stroke-width="0.6"/>
<line x1="655.3" y1="336.1" x2="655.3" y2="338.5" stroke="#1a1a1a" stroke-width="0.6"/>
<rect x="611.2" y="335.7" width="3.2" height="3.2" fill="#000"/>
<text x="460.9" y="358.9" font-size="8.3" text-anchor="middle" font-weight="bold" fill="#111" stroke="#111" stroke-width="0.1">CXCL-iFibro</text>
<text x="461.9" y="367.7" font-size="8.1" text-anchor="middle" font-weight="bold" fill="#111" stroke="#111" stroke-width="0.1">score</text>
<text x="437.6" y="375.2" font-size="6.8" font-style="italic" fill="#111" stroke="#111" stroke-width="0.1">(N=134)</text>
<text x="516.2" y="363.2" font-size="7" text-anchor="middle" fill="#111" stroke="#111" stroke-width="0.18">2.75</text>
<text x="515.9" y="368.9" font-size="7" text-anchor="middle" font-style="italic" fill="#111" stroke="#111" stroke-width="0.1" textLength="38.6" lengthAdjust="spacingAndGlyphs">(1.05 −  7.2)</text>
<text x="667.2" y="364.2" font-size="7" text-anchor="end" font-style="italic" fill="#111" stroke="#111" stroke-width="0.1">p=0.04*</text>
<line x1="549.1" y1="363.8" x2="631.3" y2="363.8" stroke="#1a1a1a" stroke-width="0.6"/>
<line x1="549.1" y1="362.6" x2="549.1" y2="365" stroke="#1a1a1a" stroke-width="0.6"/>
<line x1="631.3" y1="362.6" x2="631.3" y2="365" stroke="#1a1a1a" stroke-width="0.6"/>
<rect x="588.7" y="362.2" width="3.2" height="3.2" fill="#000"/>
<text x="547.3" y="394.5" font-size="6.6" text-anchor="middle" fill="#333" stroke="#333" stroke-width="0.18">1</text>
<text x="577.4" y="394.5" font-size="6.6" text-anchor="middle" fill="#333" stroke="#333" stroke-width="0.18">2</text>
<text x="618" y="394.5" font-size="6.6" text-anchor="middle" fill="#333" stroke="#333" stroke-width="0.18">5</text>
<text x="647.8" y="394.5" font-size="6.6" text-anchor="middle" fill="#333" stroke="#333" stroke-width="0.18">10</text>
<text x="2.6" y="425.3" font-size="14" font-weight="bold" fill="#111" stroke="#111" stroke-width="0.1">e</text>
<text x="103.6" y="430.4" font-size="6.9" text-anchor="middle" fill="#222" stroke="#222" stroke-width="0.18">p = 0.0025</text>
<line x1="60" y1="435.8" x2="60" y2="546" stroke="#505050" stroke-width="0.8"/>
<line x1="60" y1="546" x2="168.8" y2="546" stroke="#505050" stroke-width="0.8"/>
<line x1="58.5" y1="446.7" x2="60" y2="446.7" stroke="#505050" stroke-width="0.5"/>
<text x="55.2" y="449.1" font-size="6.9" text-anchor="end" fill="#4d4d4d" stroke="#4d4d4d" stroke-width="0.18">6.0</text>
<line x1="58.5" y1="469.85" x2="60" y2="469.85" stroke="#505050" stroke-width="0.5"/>
<text x="55.2" y="472.25" font-size="6.9" text-anchor="end" fill="#4d4d4d" stroke="#4d4d4d" stroke-width="0.18">5.5</text>
<line x1="58.5" y1="493" x2="60" y2="493" stroke="#505050" stroke-width="0.5"/>
<text x="55.2" y="495.4" font-size="6.9" text-anchor="end" fill="#4d4d4d" stroke="#4d4d4d" stroke-width="0.18">5.0</text>
<line x1="58.5" y1="516.15" x2="60" y2="516.15" stroke="#505050" stroke-width="0.5"/>
<text x="55.2" y="518.55" font-size="6.9" text-anchor="end" fill="#4d4d4d" stroke="#4d4d4d" stroke-width="0.18">4.5</text>
<line x1="58.5" y1="539.3" x2="60" y2="539.3" stroke="#505050" stroke-width="0.5"/>
<text x="55.2" y="541.7" font-size="6.9" text-anchor="end" fill="#4d4d4d" stroke="#4d4d4d" stroke-width="0.18">4.0</text>
<line x1="89.5" y1="546" x2="89.5" y2="547.5" stroke="#505050" stroke-width="0.5"/>
<line x1="138.7" y1="546" x2="138.7" y2="547.5" stroke="#505050" stroke-width="0.5"/>
<text x="88.6" y="556.3" font-size="8.3" text-anchor="middle" fill="#222" stroke="#222" stroke-width="0.18">Slow</text>
<text x="88" y="565.9" font-size="8.3" text-anchor="middle" fill="#222" stroke="#222" stroke-width="0.18">Progressor</text>
<text x="137.6" y="556.3" font-size="8.3" text-anchor="middle" fill="#222" stroke="#222" stroke-width="0.18">Fast</text>
<text x="137.4" y="565.9" font-size="8.3" text-anchor="middle" fill="#222" stroke="#222" stroke-width="0.18">Progressor</text>
<text x="32.5" y="493.8" font-size="8.3" text-anchor="middle" fill="#111" stroke="#111" stroke-width="0.18" transform="rotate(-90 32.5 493.8)">CXCL-iFibro</text>
<text x="41" y="491.1" font-size="8.1" text-anchor="middle" fill="#111" stroke="#111" stroke-width="0.18" transform="rotate(-90 41 491.1)">expression score</text>
<line x1="89.5" y1="501.4" x2="89.5" y2="476.8" stroke="#f39a94" stroke-width="0.5"/>
<line x1="89.5" y1="520.8" x2="89.5" y2="539.4" stroke="#f39a94" stroke-width="0.5"/>
<rect x="70.9" y="501.4" width="37.2" height="19.4" fill="none" stroke="#f39a94" stroke-width="0.45"/>
<line x1="70.9" y1="511.2" x2="108.1" y2="511.2" stroke="#f39a94" stroke-width="0.7"/>
<line x1="138.9" y1="485.4" x2="138.9" y2="473.2" stroke="#4cc8cc" stroke-width="0.5"/>
<line x1="138.9" y1="504.8" x2="138.9" y2="537.2" stroke="#4cc8cc" stroke-width="0.5"/>
<rect x="120.2" y="485.4" width="37.4" height="19.4" fill="none" stroke="#4cc8cc" stroke-width="0.45"/>
<line x1="120.2" y1="496.5" x2="157.6" y2="496.5" stroke="#4cc8cc" stroke-width="0.7"/>
<g fill="#3d0e0e"><circle cx="89.5" cy="442" r="0.86"/><circle cx="89.5" cy="462" r="0.86"/><circle cx="88.75" cy="467.4" r="0.86"/><circle cx="90.25" cy="467.4" r="0.86"/><circle cx="88.75" cy="477" r="0.86"/><circle cx="90.25" cy="477" r="0.86"/><circle cx="88.75" cy="480" r="0.86"/><circle cx="90.25" cy="480" r="0.86"/><circle cx="85.75" cy="484.3" r="0.86"/><circle cx="87.25" cy="484.3" r="0.86"/><circle cx="88.75" cy="484.3" r="0.86"/><circle cx="90.25" cy="484.3" r="0.86"/><circle cx="91.75" cy="484.3" r="0.86"/><circle cx="93.25" cy="484.3" r="0.86"/><circle cx="88.75" cy="490.2" r="0.86"/><circle cx="90.25" cy="490.2" r="0.86"/><circle cx="85.75" cy="493.4" r="0.86"/><circle cx="87.25" cy="493.4" r="0.86"/><circle cx="88.75" cy="493.4" r="0.86"/><circle cx="90.25" cy="493.4" r="0.86"/><circle cx="91.75" cy="493.4" r="0.86"/><circle cx="93.25" cy="493.4" r="0.86"/><circle cx="87.25" cy="497" r="0.86"/><circle cx="88.75" cy="497" r="0.86"/><circle cx="90.25" cy="497" r="0.86"/><circle cx="91.75" cy="497" r="0.86"/><circle cx="86.5" cy="500" r="0.86"/><circle cx="88" cy="500" r="0.86"/><circle cx="89.5" cy="500" r="0.86"/><circle cx="91" cy="500" r="0.86"/><circle cx="92.5" cy="500" r="0.86"/><circle cx="82" cy="503.6" r="0.86"/><circle cx="83.5" cy="503.6" r="0.86"/><circle cx="85" cy="503.6" r="0.86"/><circle cx="86.5" cy="503.6" r="0.86"/><circle cx="88" cy="503.6" r="0.86"/><circle cx="89.5" cy="503.6" r="0.86"/><circle cx="91" cy="503.6" r="0.86"/><circle cx="92.5" cy="503.6" r="0.86"/><circle cx="94" cy="503.6" r="0.86"/><circle cx="95.5" cy="503.6" r="0.86"/><circle cx="97" cy="503.6" r="0.86"/><circle cx="82.75" cy="507.3" r="0.86"/><circle cx="84.25" cy="507.3" r="0.86"/><circle cx="85.75" cy="507.3" r="0.86"/><circle cx="87.25" cy="507.3" r="0.86"/><circle cx="88.75" cy="507.3" r="0.86"/><circle cx="90.25" cy="507.3" r="0.86"/><circle cx="91.75" cy="507.3" r="0.86"/><circle cx="93.25" cy="507.3" r="0.86"/><circle cx="94.75" cy="507.3" r="0.86"/><circle cx="96.25" cy="507.3" r="0.86"/><circle cx="85.75" cy="510.9" r="0.86"/><circle cx="87.25" cy="510.9" r="0.86"/><circle cx="88.75" cy="510.9" r="0.86"/><circle cx="90.25" cy="510.9" r="0.86"/><circle cx="91.75" cy="510.9" r="0.86"/><circle cx="93.25" cy="510.9" r="0.86"/><circle cx="82" cy="514.6" r="0.86"/><circle cx="83.5" cy="514.6" r="0.86"/><circle cx="85" cy="514.6" r="0.86"/><circle cx="86.5" cy="514.6" r="0.86"/><circle cx="88" cy="514.6" r="0.86"/><circle cx="89.5" cy="514.6" r="0.86"/><circle cx="91" cy="514.6" r="0.86"/><circle cx="92.5" cy="514.6" r="0.86"/><circle cx="94" cy="514.6" r="0.86"/><circle cx="95.5" cy="514.6" r="0.86"/><circle cx="97" cy="514.6" r="0.86"/><circle cx="82.75" cy="518.6" r="0.86"/><circle cx="84.25" cy="518.6" r="0.86"/><circle cx="85.75" cy="518.6" r="0.86"/><circle cx="87.25" cy="518.6" r="0.86"/><circle cx="88.75" cy="518.6" r="0.86"/><circle cx="90.25" cy="518.6" r="0.86"/><circle cx="91.75" cy="518.6" r="0.86"/><circle cx="93.25" cy="518.6" r="0.86"/><circle cx="94.75" cy="518.6" r="0.86"/><circle cx="96.25" cy="518.6" r="0.86"/><circle cx="80.5" cy="521.9" r="0.86"/><circle cx="82" cy="521.9" r="0.86"/><circle cx="83.5" cy="521.9" r="0.86"/><circle cx="85" cy="521.9" r="0.86"/><circle cx="86.5" cy="521.9" r="0.86"/><circle cx="88" cy="521.9" r="0.86"/><circle cx="89.5" cy="521.9" r="0.86"/><circle cx="91" cy="521.9" r="0.86"/><circle cx="92.5" cy="521.9" r="0.86"/><circle cx="94" cy="521.9" r="0.86"/><circle cx="95.5" cy="521.9" r="0.86"/><circle cx="97" cy="521.9" r="0.86"/><circle cx="98.5" cy="521.9" r="0.86"/><circle cx="84.25" cy="525.2" r="0.86"/><circle cx="85.75" cy="525.2" r="0.86"/><circle cx="87.25" cy="525.2" r="0.86"/><circle cx="88.75" cy="525.2" r="0.86"/><circle cx="90.25" cy="525.2" r="0.86"/><circle cx="91.75" cy="525.2" r="0.86"/><circle cx="93.25" cy="525.2" r="0.86"/><circle cx="94.75" cy="525.2" r="0.86"/><circle cx="85.75" cy="529.6" r="0.86"/><circle cx="87.25" cy="529.6" r="0.86"/><circle cx="88.75" cy="529.6" r="0.86"/><circle cx="90.25" cy="529.6" r="0.86"/><circle cx="91.75" cy="529.6" r="0.86"/><circle cx="93.25" cy="529.6" r="0.86"/><circle cx="86.5" cy="533.5" r="0.86"/><circle cx="88" cy="533.5" r="0.86"/><circle cx="89.5" cy="533.5" r="0.86"/><circle cx="91" cy="533.5" r="0.86"/><circle cx="92.5" cy="533.5" r="0.86"/><circle cx="88.75" cy="539.8" r="0.86"/><circle cx="90.25" cy="539.8" r="0.86"/></g>
<g fill="#084546"><circle cx="138.05" cy="473.7" r="0.86"/><circle cx="139.55" cy="473.7" r="0.86"/><circle cx="138.05" cy="477.3" r="0.86"/><circle cx="139.55" cy="477.3" r="0.86"/><circle cx="138.05" cy="481" r="0.86"/><circle cx="139.55" cy="481" r="0.86"/><circle cx="137.3" cy="484.6" r="0.86"/><circle cx="138.8" cy="484.6" r="0.86"/><circle cx="140.3" cy="484.6" r="0.86"/><circle cx="138.05" cy="491.6" r="0.86"/><circle cx="139.55" cy="491.6" r="0.86"/><circle cx="135.05" cy="496.3" r="0.86"/><circle cx="136.55" cy="496.3" r="0.86"/><circle cx="138.05" cy="496.3" r="0.86"/><circle cx="139.55" cy="496.3" r="0.86"/><circle cx="141.05" cy="496.3" r="0.86"/><circle cx="142.55" cy="496.3" r="0.86"/><circle cx="135.05" cy="500.4" r="0.86"/><circle cx="136.55" cy="500.4" r="0.86"/><circle cx="138.05" cy="500.4" r="0.86"/><circle cx="139.55" cy="500.4" r="0.86"/><circle cx="141.05" cy="500.4" r="0.86"/><circle cx="142.55" cy="500.4" r="0.86"/><circle cx="137.3" cy="505.8" r="0.86"/><circle cx="138.8" cy="505.8" r="0.86"/><circle cx="140.3" cy="505.8" r="0.86"/><circle cx="138.05" cy="509.7" r="0.86"/><circle cx="139.55" cy="509.7" r="0.86"/><circle cx="138.8" cy="514.1" r="0.86"/><circle cx="138.05" cy="529.2" r="0.86"/><circle cx="139.55" cy="529.2" r="0.86"/><circle cx="138.8" cy="537.2" r="0.86"/></g>
<text x="180.4" y="424.4" font-size="14" font-weight="bold" fill="#111" stroke="#111" stroke-width="0.1">f</text>
<text x="282.9" y="428.6" font-size="7" text-anchor="middle" fill="#222" stroke="#222" stroke-width="0.18">p = 0.0006</text>
<line x1="227.8" y1="549.4" x2="330.6" y2="549.4" stroke="#e2e2e2" stroke-width="0.5"/>
<line x1="227.8" y1="531.7" x2="330.6" y2="531.7" stroke="#ebebeb" stroke-width="0.5"/>
<line x1="227.8" y1="514" x2="330.6" y2="514" stroke="#e2e2e2" stroke-width="0.5"/>
<line x1="227.8" y1="496.3" x2="330.6" y2="496.3" stroke="#ebebeb" stroke-width="0.5"/>
<line x1="227.8" y1="478.6" x2="330.6" y2="478.6" stroke="#e2e2e2" stroke-width="0.5"/>
<line x1="227.8" y1="460.9" x2="330.6" y2="460.9" stroke="#ebebeb" stroke-width="0.5"/>
<line x1="227.8" y1="443.2" x2="330.6" y2="443.2" stroke="#e2e2e2" stroke-width="0.5"/>
<line x1="255.55" y1="430.9" x2="255.55" y2="554.5" stroke="#e2e2e2" stroke-width="0.5"/>
<line x1="302.95" y1="430.9" x2="302.95" y2="554.5" stroke="#e2e2e2" stroke-width="0.5"/>
<rect x="234.2" y="436.12" width="42.7" height="10.62" fill="#e8323f"/>
<rect x="234.2" y="446.74" width="42.7" height="102.66" fill="#b2b4b5"/>
<rect x="281.8" y="436.12" width="42.3" height="40.71" fill="#e8323f"/>
<rect x="281.8" y="476.83" width="42.3" height="72.57" fill="#b2b4b5"/>
<rect x="227.8" y="430.9" width="102.8" height="123.6" fill="none" stroke="#c8c8c8" stroke-width="0.6"/>
<line x1="226.5" y1="549.4" x2="227.8" y2="549.4" stroke="#444" stroke-width="0.5"/>
<text x="224.8" y="551.8" font-size="6.9" text-anchor="end" fill="#4d4d4d" stroke="#4d4d4d" stroke-width="0.18">0</text>
<line x1="226.5" y1="514" x2="227.8" y2="514" stroke="#444" stroke-width="0.5"/>
<text x="224.8" y="516.4" font-size="6.9" text-anchor="end" fill="#4d4d4d" stroke="#4d4d4d" stroke-width="0.18">20</text>
<line x1="226.5" y1="478.6" x2="227.8" y2="478.6" stroke="#444" stroke-width="0.5"/>
<text x="224.8" y="481" font-size="6.9" text-anchor="end" fill="#4d4d4d" stroke="#4d4d4d" stroke-width="0.18">40</text>
<line x1="226.5" y1="443.2" x2="227.8" y2="443.2" stroke="#444" stroke-width="0.5"/>
<text x="224.8" y="445.6" font-size="6.9" text-anchor="end" fill="#4d4d4d" stroke="#4d4d4d" stroke-width="0.18">60</text>
<line x1="255.55" y1="554.5" x2="255.55" y2="555.8" stroke="#444" stroke-width="0.5"/>
<line x1="302.95" y1="554.5" x2="302.95" y2="555.8" stroke="#444" stroke-width="0.5"/>
<text x="247" y="564" font-size="8.25" text-anchor="middle" fill="#222" stroke="#222" stroke-width="0.18">Low CXCL-iFibro</text>
<text x="246.8" y="574.3" font-size="8.25" text-anchor="middle" fill="#222" stroke="#222" stroke-width="0.18">score</text>
<text x="316.6" y="564" font-size="8.25" text-anchor="middle" fill="#222" stroke="#222" stroke-width="0.18">High CXCL-iFibro</text>
<text x="317.4" y="574.3" font-size="8.25" text-anchor="middle" fill="#222" stroke="#222" stroke-width="0.18">score</text>
<text x="212.3" y="492.7" font-size="8.1" text-anchor="middle" fill="#111" stroke="#111" stroke-width="0.18" transform="rotate(-90 212.3 492.7)">Number of patients</text>
<rect x="334.6" y="451.5" width="6.4" height="6.4" fill="#e8323f"/>
<text x="342.4" y="457.1" font-size="7" fill="#222" stroke="#222" stroke-width="0.18">Fast progressor</text>
<rect x="334.6" y="486" width="6.4" height="6.4" fill="#b2b4b5"/>
<text x="342.4" y="491.6" font-size="7" fill="#222" stroke="#222" stroke-width="0.18">Slow progressor</text>
<text x="428.6" y="421.9" font-size="14" font-weight="bold" fill="#111" stroke="#111" stroke-width="0.1">g</text>
<path d="M482.2 420.78 L485.28 422.06 L488.36 423.34 L491.44 424.61 L494.52 425.87 L497.6 427.12 L500.68 428.36 L503.76 429.58 L506.84 430.78 L509.92 431.96 L512.99 433.09 L516.07 434.18 L519.15 435.2 L522.23 436.13 L525.31 436.98 L528.39 437.72 L531.47 438.36 L534.55 438.91 L537.63 439.4 L540.71 439.83 L543.79 440.22 L546.87 440.57 L549.95 440.91 L553.03 441.22 L556.11 441.52 L559.19 441.81 L562.27 442.1 L565.35 442.37 L568.43 442.64 L571.51 442.9 L574.58 443.16 L577.66 443.42 L580.74 443.67 L583.82 443.93 L586.9 444.18 L589.98 444.42 L593.06 444.67 L596.14 444.92 L599.22 445.16 L602.3 445.4 L602.3 473 L599.22 471.69 L596.14 470.39 L593.06 469.08 L589.98 467.78 L586.9 466.48 L583.82 465.18 L580.74 463.88 L577.66 462.59 L574.58 461.3 L571.51 460.01 L568.43 458.73 L565.35 457.45 L562.27 456.17 L559.19 454.9 L556.11 453.65 L553.03 452.4 L549.95 451.16 L546.87 449.95 L543.79 448.76 L540.71 447.6 L537.63 446.48 L534.55 445.41 L531.47 444.42 L528.39 443.51 L525.31 442.71 L522.23 442 L519.15 441.39 L516.07 440.86 L512.99 440.4 L509.92 439.98 L506.84 439.61 L503.76 439.26 L500.68 438.93 L497.6 438.62 L494.52 438.32 L491.44 438.04 L488.36 437.76 L485.28 437.49 L482.2 437.22 Z" fill="#bebebe" stroke="none" stroke-width="0.5" fill-opacity="0.75"/>
<line x1="482.2" y1="429" x2="602.3" y2="459.2" stroke="#3d6bd0" stroke-width="0.7"/>
<g fill="#111"><rect x="577.26" y="414.9" width="1.15" height="1.15"/><rect x="517.51" y="414.9" width="1.15" height="1.15"/><rect x="515.01" y="416.25" width="1.15" height="1.15"/><rect x="504.41" y="416.83" width="1.15" height="1.15"/><rect x="498.63" y="418.75" width="1.15" height="1.15"/><rect x="490.53" y="419.52" width="1.15" height="1.15"/><rect x="500.56" y="421.07" width="1.15" height="1.15"/><rect x="505.95" y="421.45" width="1.15" height="1.15"/><rect x="502.48" y="422.03" width="1.15" height="1.15"/><rect x="513.08" y="420.1" width="1.15" height="1.15"/><rect x="524.65" y="421.07" width="1.15" height="1.15"/><rect x="529.46" y="418.75" width="1.15" height="1.15"/><rect x="537.56" y="418.75" width="1.15" height="1.15"/><rect x="550.28" y="417.6" width="1.15" height="1.15"/><rect x="496.32" y="422.61" width="1.15" height="1.15"/><rect x="509.23" y="424.53" width="1.15" height="1.15"/><rect x="526.57" y="424.92" width="1.15" height="1.15"/><rect x="539.48" y="425.31" width="1.15" height="1.15"/><rect x="514.05" y="429.74" width="1.15" height="1.15"/><rect x="512.5" y="430.32" width="1.15" height="1.15"/><rect x="521.37" y="430.7" width="1.15" height="1.15"/><rect x="523.68" y="431.67" width="1.15" height="1.15"/><rect x="518.86" y="430.7" width="1.15" height="1.15"/><rect x="527.54" y="430.32" width="1.15" height="1.15"/><rect x="533.32" y="431.09" width="1.15" height="1.15"/><rect x="534.28" y="430.7" width="1.15" height="1.15"/><rect x="538.71" y="429.74" width="1.15" height="1.15"/><rect x="541.99" y="430.7" width="1.15" height="1.15"/><rect x="549.12" y="428.39" width="1.15" height="1.15"/><rect x="554.13" y="429.74" width="1.15" height="1.15"/><rect x="568.97" y="430.12" width="1.15" height="1.15"/><rect x="601.73" y="429.35" width="1.15" height="1.15"/><rect x="493.81" y="427.23" width="1.15" height="1.15"/><rect x="499.59" y="429.16" width="1.15" height="1.15"/><rect x="495.74" y="431.67" width="1.15" height="1.15"/><rect x="498.24" y="432.24" width="1.15" height="1.15"/><rect x="504.41" y="432.63" width="1.15" height="1.15"/><rect x="506.34" y="431.67" width="1.15" height="1.15"/><rect x="509.23" y="433.01" width="1.15" height="1.15"/><rect x="515.97" y="432.63" width="1.15" height="1.15"/><rect x="518.86" y="433.59" width="1.15" height="1.15"/><rect x="522.72" y="433.59" width="1.15" height="1.15"/><rect x="525.61" y="432.63" width="1.15" height="1.15"/><rect x="529.85" y="433.01" width="1.15" height="1.15"/><rect x="488.61" y="434.56" width="1.15" height="1.15"/><rect x="505.95" y="435.52" width="1.15" height="1.15"/><rect x="508.26" y="435.52" width="1.15" height="1.15"/><rect x="512.12" y="434.56" width="1.15" height="1.15"/><rect x="515.97" y="435.52" width="1.15" height="1.15"/><rect x="523.68" y="436.1" width="1.15" height="1.15"/><rect x="527.15" y="434.94" width="1.15" height="1.15"/><rect x="531.78" y="436.87" width="1.15" height="1.15"/><rect x="542.95" y="438.41" width="1.15" height="1.15"/><rect x="549.12" y="432.63" width="1.15" height="1.15"/><rect x="558.37" y="434.17" width="1.15" height="1.15"/><rect x="560.68" y="434.94" width="1.15" height="1.15"/><rect x="572.25" y="438.02" width="1.15" height="1.15"/><rect x="481.67" y="439.95" width="1.15" height="1.15"/><rect x="491.31" y="438.02" width="1.15" height="1.15"/><rect x="502.1" y="439.95" width="1.15" height="1.15"/><rect x="504.02" y="438.41" width="1.15" height="1.15"/><rect x="506.72" y="440.34" width="1.15" height="1.15"/><rect x="508.65" y="441.3" width="1.15" height="1.15"/><rect x="517.51" y="440.34" width="1.15" height="1.15"/><rect x="524.65" y="439.37" width="1.15" height="1.15"/><rect x="527.92" y="440.34" width="1.15" height="1.15"/><rect x="533.7" y="441.3" width="1.15" height="1.15"/><rect x="534.86" y="445.16" width="1.15" height="1.15"/><rect x="537.17" y="442.65" width="1.15" height="1.15"/><rect x="551.05" y="440.34" width="1.15" height="1.15"/><rect x="551.63" y="444.58" width="1.15" height="1.15"/><rect x="492.85" y="443.23" width="1.15" height="1.15"/><rect x="496.7" y="443.23" width="1.15" height="1.15"/><rect x="502.48" y="441.3" width="1.15" height="1.15"/><rect x="518.29" y="447.08" width="1.15" height="1.15"/><rect x="524.65" y="443.81" width="1.15" height="1.15"/><rect x="531.78" y="447.08" width="1.15" height="1.15"/><rect x="535.24" y="446.5" width="1.15" height="1.15"/><rect x="485.14" y="451.51" width="1.15" height="1.15"/><rect x="493.81" y="450.94" width="1.15" height="1.15"/><rect x="519.83" y="452.86" width="1.15" height="1.15"/><rect x="530.43" y="453.83" width="1.15" height="1.15"/><rect x="532.35" y="454.21" width="1.15" height="1.15"/><rect x="541.6" y="451.9" width="1.15" height="1.15"/><rect x="549.7" y="450.94" width="1.15" height="1.15"/><rect x="563.19" y="450.94" width="1.15" height="1.15"/><rect x="557.99" y="456.72" width="1.15" height="1.15"/><rect x="523.3" y="458.65" width="1.15" height="1.15"/><rect x="529.85" y="459.61" width="1.15" height="1.15"/><rect x="529.08" y="461.92" width="1.15" height="1.15"/><rect x="548.35" y="461.54" width="1.15" height="1.15"/><rect x="537.56" y="471.56" width="1.15" height="1.15"/><rect x="501.52" y="420.1" width="1.15" height="1.15"/><rect x="503.45" y="430.7" width="1.15" height="1.15"/><rect x="507.3" y="429.74" width="1.15" height="1.15"/><rect x="513.08" y="422.99" width="1.15" height="1.15"/><rect x="522.14" y="428.39" width="1.15" height="1.15"/><rect x="516.94" y="436.48" width="1.15" height="1.15"/><rect x="505.37" y="437.45" width="1.15" height="1.15"/><rect x="500.56" y="434.17" width="1.15" height="1.15"/><rect x="511.16" y="430.7" width="1.15" height="1.15"/><rect x="520.79" y="436.1" width="1.15" height="1.15"/><rect x="553.73" y="480.63" width="1.15" height="1.15"/><rect x="562.13" y="483.23" width="1.15" height="1.15"/><rect x="513.53" y="498.53" width="1.15" height="1.15"/><rect x="540.63" y="507.43" width="1.15" height="1.15"/><rect x="554.23" y="520.03" width="1.15" height="1.15"/><rect x="560.33" y="520.03" width="1.15" height="1.15"/><rect x="535.33" y="537.93" width="1.15" height="1.15"/></g>
<line x1="476" y1="408.9" x2="476" y2="544.3" stroke="#505050" stroke-width="0.8"/>
<line x1="476" y1="544.3" x2="608.2" y2="544.3" stroke="#505050" stroke-width="0.8"/>
<line x1="474.5" y1="428.6" x2="476" y2="428.6" stroke="#505050" stroke-width="0.5"/>
<text x="472.2" y="431" font-size="6.9" text-anchor="end" fill="#4d4d4d" stroke="#4d4d4d" stroke-width="0.18">0</text>
<line x1="474.5" y1="456.7" x2="476" y2="456.7" stroke="#505050" stroke-width="0.5"/>
<text x="472.2" y="459.1" font-size="6.9" text-anchor="end" fill="#4d4d4d" stroke="#4d4d4d" stroke-width="0.18">−10</text>
<line x1="474.5" y1="484.8" x2="476" y2="484.8" stroke="#505050" stroke-width="0.5"/>
<text x="472.2" y="487.2" font-size="6.9" text-anchor="end" fill="#4d4d4d" stroke="#4d4d4d" stroke-width="0.18">−20</text>
<line x1="474.5" y1="512.9" x2="476" y2="512.9" stroke="#505050" stroke-width="0.5"/>
<text x="472.2" y="515.3" font-size="6.9" text-anchor="end" fill="#4d4d4d" stroke="#4d4d4d" stroke-width="0.18">−30</text>
<line x1="474.5" y1="541" x2="476" y2="541" stroke="#505050" stroke-width="0.5"/>
<text x="472.2" y="543.4" font-size="6.9" text-anchor="end" fill="#4d4d4d" stroke="#4d4d4d" stroke-width="0.18">−40</text>
<line x1="483.4" y1="544.3" x2="483.4" y2="545.8" stroke="#505050" stroke-width="0.5"/>
<text x="483.4" y="551.1" font-size="6.9" text-anchor="middle" fill="#4d4d4d" stroke="#4d4d4d" stroke-width="0.18">4.0</text>
<line x1="511.85" y1="544.3" x2="511.85" y2="545.8" stroke="#505050" stroke-width="0.5"/>
<text x="511.85" y="551.1" font-size="6.9" text-anchor="middle" fill="#4d4d4d" stroke="#4d4d4d" stroke-width="0.18">4.5</text>
<line x1="540.3" y1="544.3" x2="540.3" y2="545.8" stroke="#505050" stroke-width="0.5"/>
<text x="540.3" y="551.1" font-size="6.9" text-anchor="middle" fill="#4d4d4d" stroke="#4d4d4d" stroke-width="0.18">5.0</text>
<line x1="568.75" y1="544.3" x2="568.75" y2="545.8" stroke="#505050" stroke-width="0.5"/>
<text x="568.75" y="551.1" font-size="6.9" text-anchor="middle" fill="#4d4d4d" stroke="#4d4d4d" stroke-width="0.18">5.5</text>
<line x1="597.2" y1="544.3" x2="597.2" y2="545.8" stroke="#505050" stroke-width="0.5"/>
<text x="597.2" y="551.1" font-size="6.9" text-anchor="middle" fill="#4d4d4d" stroke="#4d4d4d" stroke-width="0.18">6.0</text>
<text x="541.2" y="562.6" font-size="8.3" text-anchor="middle" fill="#111" stroke="#111" stroke-width="0.18">CXCL-iFibro expression score</text>
<text x="459.4" y="486.4" font-size="8.25" text-anchor="middle" fill="#111" stroke="#111" stroke-width="0.18" transform="rotate(-90 459.4 486.4)">eGFR slope (ml/min/1.73m²/year)</text>
<text x="484.3" y="487" font-size="7.1" fill="#222" stroke="#222" stroke-width="0.18">R = −0.23, p = 0.013</text>
<text x="2.4" y="600.4" font-size="14" font-weight="bold" fill="#111" stroke="#111" stroke-width="0.1">h</text>
<text x="86.5" y="603.6" font-size="7" text-anchor="middle" fill="#222" stroke="#222" stroke-width="0.18">FOLR2</text>
<text x="86.5" y="611" font-size="7" text-anchor="middle" fill="#222" stroke="#222" stroke-width="0.18">expression score</text>
<line x1="181.2" y1="605.5" x2="187.8" y2="605.5" stroke="#e5584f" stroke-width="0.7"/>
<text x="188.5" y="607.9" font-size="6.9" fill="#222" stroke="#222" stroke-width="0.18">High</text>
<line x1="225.8" y1="605.5" x2="233.1" y2="605.5" stroke="#08adb3" stroke-width="0.7"/>
<text x="234.2" y="607.9" font-size="6.9" fill="#222" stroke="#222" stroke-width="0.18">Low</text>
<line x1="94.6" y1="614.8" x2="94.6" y2="753.8" stroke="#505050" stroke-width="0.8"/>
<line x1="94.6" y1="753.8" x2="333.5" y2="753.8" stroke="#505050" stroke-width="0.8"/>
<line x1="93.2" y1="620.6" x2="94.6" y2="620.6" stroke="#505050" stroke-width="0.5"/>
<text x="92.2" y="622.9" font-size="6.8" text-anchor="end" fill="#4d4d4d" stroke="#4d4d4d" stroke-width="0.18">1.00</text>
<line x1="93.2" y1="652.23" x2="94.6" y2="652.23" stroke="#505050" stroke-width="0.5"/>
<text x="92.2" y="654.52" font-size="6.8" text-anchor="end" fill="#4d4d4d" stroke="#4d4d4d" stroke-width="0.18">0.75</text>
<line x1="93.2" y1="683.85" x2="94.6" y2="683.85" stroke="#505050" stroke-width="0.5"/>
<text x="92.2" y="686.15" font-size="6.8" text-anchor="end" fill="#4d4d4d" stroke="#4d4d4d" stroke-width="0.18">0.50</text>
<line x1="93.2" y1="715.48" x2="94.6" y2="715.48" stroke="#505050" stroke-width="0.5"/>
<text x="92.2" y="717.77" font-size="6.8" text-anchor="end" fill="#4d4d4d" stroke="#4d4d4d" stroke-width="0.18">0.25</text>
<line x1="93.2" y1="747.1" x2="94.6" y2="747.1" stroke="#505050" stroke-width="0.5"/>
<text x="92.2" y="749.4" font-size="6.8" text-anchor="end" fill="#4d4d4d" stroke="#4d4d4d" stroke-width="0.18">0.00</text>
<line x1="105.7" y1="753.8" x2="105.7" y2="755.2" stroke="#505050" stroke-width="0.5"/>
<text x="105.7" y="762.6" font-size="6.6" text-anchor="middle" fill="#4d4d4d" stroke="#4d4d4d" stroke-width="0.18">0</text>
<line x1="149.05" y1="753.8" x2="149.05" y2="755.2" stroke="#505050" stroke-width="0.5"/>
<text x="149.05" y="762.6" font-size="6.6" text-anchor="middle" fill="#4d4d4d" stroke="#4d4d4d" stroke-width="0.18">500</text>
<line x1="192.4" y1="753.8" x2="192.4" y2="755.2" stroke="#505050" stroke-width="0.5"/>
<text x="192.4" y="762.6" font-size="6.6" text-anchor="middle" fill="#4d4d4d" stroke="#4d4d4d" stroke-width="0.18">1000</text>
<line x1="235.75" y1="753.8" x2="235.75" y2="755.2" stroke="#505050" stroke-width="0.5"/>
<text x="235.75" y="762.6" font-size="6.6" text-anchor="middle" fill="#4d4d4d" stroke="#4d4d4d" stroke-width="0.18">1500</text>
<line x1="279.1" y1="753.8" x2="279.1" y2="755.2" stroke="#505050" stroke-width="0.5"/>
<text x="279.1" y="762.6" font-size="6.6" text-anchor="middle" fill="#4d4d4d" stroke="#4d4d4d" stroke-width="0.18">2000</text>
<line x1="322.45" y1="753.8" x2="322.45" y2="755.2" stroke="#505050" stroke-width="0.5"/>
<text x="322.45" y="762.6" font-size="6.6" text-anchor="middle" fill="#4d4d4d" stroke="#4d4d4d" stroke-width="0.18">2500</text>
<text x="215.8" y="772.9" font-size="6.9" text-anchor="middle" fill="#111" stroke="#111" stroke-width="0.18">Time (days)</text>
<text x="66.1" y="688" font-size="7" text-anchor="middle" fill="#111" stroke="#111" stroke-width="0.18" transform="rotate(-90 66.1 688)">ESRD or &gt;40% eGFR</text>
<text x="74.3" y="686.9" font-size="7" text-anchor="middle" fill="#111" stroke="#111" stroke-width="0.18" transform="rotate(-90 74.3 686.9)">decrease probability</text>
<text x="115.5" y="734" font-size="7" fill="#222" stroke="#222" stroke-width="0.18">p = 0.0002</text>
<path d="M105.3 620.3 H127.2 H127.2 V621.65 H127.2 V623 H137.7 H137.7 V624.5 H137.7 V626 H182.3 H182.3 V627.55 H182.3 V629.1 H307.6" fill="none" stroke="#08adb3" stroke-width="0.8" stroke-linejoin="miter"/>
<path d="M117.2 619.5V621.1M116.4 620.3H118M141.5 625.2V626.8M140.7 626H142.3M147 625.2V626.8M146.2 626H147.8M153 625.2V626.8M152.2 626H153.8M159 625.2V626.8M158.2 626H159.8M165 625.2V626.8M164.2 626H165.8M171 625.2V626.8M170.2 626H171.8M181 625.2V626.8M180.2 626H181.8M190.9 628.3V629.9M190.1 629.1H191.7M200.5 628.3V629.9M199.7 629.1H201.3M204.9 628.3V629.9M204.1 629.1H205.7M211.9 628.3V629.9M211.1 629.1H212.7M214.5 628.3V629.9M213.7 629.1H215.3M217.2 628.3V629.9M216.4 629.1H218M229.4 628.3V629.9M228.6 629.1H230.2M232 628.3V629.9M231.2 629.1H232.8M234.7 628.3V629.9M233.9 629.1H235.5M239.9 628.3V629.9M239.1 629.1H240.7M241.7 628.3V629.9M240.9 629.1H242.5M245.2 628.3V629.9M244.4 629.1H246M246.5 628.3V629.9M245.7 629.1H247.3M247.8 628.3V629.9M247 629.1H248.6M249.1 628.3V629.9M248.3 629.1H249.9M250.4 628.3V629.9M249.6 629.1H251.2M252.2 628.3V629.9M251.4 629.1H253M254.8 628.3V629.9M254 629.1H255.6M257.4 628.3V629.9M256.6 629.1H258.2M260.1 628.3V629.9M259.3 629.1H260.9M262.7 628.3V629.9M261.9 629.1H263.5M265.3 628.3V629.9M264.5 629.1H266.1M307.4 628.3V629.9M306.6 629.1H308.2" fill="none" stroke="#08adb3" stroke-width="0.7"/>
<path d="M105.3 620.3 H107.9 V621.6 H109.65 V623.35 H111.4 V625.1 H112.05 V626.42 H112.7 V627.75 H113.35 V629.08 H114 V630.4 H116.6 V632.7 H121.9 V633 H123.2 V634.35 H124.5 V635.7 H125.67 V637.13 H126.83 V638.57 H128 V640 H128.9 V641.37 H129.8 V642.73 H130.7 V644.1 H132.45 V645.55 H134.2 V647 H135.95 V648.6 H137.7 V650.2 H148.2 H149.5 V652.1 H150.8 V654 H153.4 V655.75 H156 V657.5 H164.8 V657.9 H167.4 V659.7 H171 V661 H174.5 V663.3 H200.5 H200.5 V664.8 H200.5 V666.3 H234.7 H234.7 V667.63 H234.7 V668.97 H234.7 V670.3 H297.7" fill="none" stroke="#e5584f" stroke-width="0.8" stroke-linejoin="miter"/>
<path d="M115.5 630.93V632.53M114.7 631.73H116.3M122 632.3V633.9M121.2 633.1H122.8M140 649.4V651M139.2 650.2H140.8M146 649.4V651M145.2 650.2H146.8M160 656.88V658.48M159.2 657.68H160.8M165.5 657.58V659.18M164.7 658.38H166.3M188 662.5V664.1M187.2 663.3H188.8M191 662.5V664.1M190.2 663.3H191.8M196.1 662.5V664.1M195.3 663.3H196.9M197.9 662.5V664.1M197.1 663.3H198.7M200.5 662.5V664.1M199.7 663.3H201.3M215.4 665.5V667.1M214.6 666.3H216.2M218 665.5V667.1M217.2 666.3H218.8M231.2 665.5V667.1M230.4 666.3H232M232.9 665.5V667.1M232.1 666.3H233.7M240.8 669.5V671.1M240 670.3H241.6M244.3 669.5V671.1M243.5 670.3H245.1M246.1 669.5V671.1M245.3 670.3H246.9M247.8 669.5V671.1M247 670.3H248.6M249.6 669.5V671.1M248.8 670.3H250.4M251.3 669.5V671.1M250.5 670.3H252.1M253.1 669.5V671.1M252.3 670.3H253.9M258.3 669.5V671.1M257.5 670.3H259.1M269.7 669.5V671.1M268.9 670.3H270.5M296.9 669.5V671.1M296.1 670.3H297.7" fill="none" stroke="#e5584f" stroke-width="0.7"/>
<text x="395.6" y="592.3" font-size="14" font-weight="bold" fill="#111" stroke="#111" stroke-width="0.1">i</text>
<rect x="416.8" y="597.3" width="243.4" height="27.5" fill="#b3b1b2"/>
<rect x="416.8" y="652.1" width="243.4" height="26.8" fill="#b3b1b2"/>
<rect x="416.8" y="706.6" width="243.4" height="27" fill="#b3b1b2"/>
<line x1="562.9" y1="590.8" x2="562.9" y2="740" stroke="#d2d2d2" stroke-width="0.5"/>
<line x1="604.4" y1="590.8" x2="604.4" y2="740" stroke="#d2d2d2" stroke-width="0.5"/>
<line x1="636.7" y1="590.8" x2="636.7" y2="740" stroke="#d2d2d2" stroke-width="0.5"/>
<line x1="531.3" y1="590.8" x2="531.3" y2="742" stroke="#333" stroke-width="0.5" stroke-dasharray="0.8 0.8"/>
<text x="497.75" y="593.3" font-size="8.19" fill="#111" stroke="#111" stroke-width="0.18">Hazard ratio</text>
<text x="419.9" y="608.8" font-size="7.1" font-weight="bold" fill="#111" stroke="#111" stroke-width="0.1">eGFR at biopsy</text>
<text x="419.9" y="616.4" font-size="6.8" font-style="italic" fill="#111" stroke="#111" stroke-width="0.1">(N=134)</text>
<text x="496.5" y="609.5" font-size="7" text-anchor="middle" fill="#111" stroke="#111" stroke-width="0.18">0.99</text>
<text x="496.1" y="616.4" font-size="7" text-anchor="middle" font-style="italic" fill="#111" stroke="#111" stroke-width="0.1" textLength="37.9" lengthAdjust="spacingAndGlyphs">(0.98 −  1.0)</text>
<text x="647.6" y="612.4" font-size="7" text-anchor="end" font-style="italic" fill="#111" stroke="#111" stroke-width="0.1">p=0.41</text>
<rect x="529.4" y="609.4" width="3.2" height="3.2" fill="#000"/>
<text x="419.9" y="635" font-size="7" font-weight="bold" fill="#111" stroke="#111" stroke-width="0.1">Age</text>
<text x="419.9" y="643.2" font-size="6.8" font-style="italic" fill="#111" stroke="#111" stroke-width="0.1">(N=134)</text>
<text x="496.5" y="637.8" font-size="7" text-anchor="middle" fill="#111" stroke="#111" stroke-width="0.18">1.00</text>
<text x="496.1" y="643.3" font-size="7" text-anchor="middle" font-style="italic" fill="#111" stroke="#111" stroke-width="0.1" textLength="37.9" lengthAdjust="spacingAndGlyphs">(0.98 −  1.0)</text>
<text x="647.6" y="638.4" font-size="7" text-anchor="end" font-style="italic" fill="#111" stroke="#111" stroke-width="0.1">p=0.76</text>
<rect x="529.8" y="636.7" width="3.2" height="3.2" fill="#000"/>
<text x="419.9" y="661.3" font-size="7.1" font-weight="bold" fill="#111" stroke="#111" stroke-width="0.1">UPCR at biopsy</text>
<text x="419.9" y="671.7" font-size="6.8" font-style="italic" fill="#111" stroke="#111" stroke-width="0.1">(N=134)</text>
<text x="496.5" y="667.3" font-size="7" text-anchor="middle" fill="#111" stroke="#111" stroke-width="0.18">1.09</text>
<text x="496.1" y="673" font-size="7" text-anchor="middle" font-style="italic" fill="#111" stroke="#111" stroke-width="0.1" textLength="37.6" lengthAdjust="spacingAndGlyphs">(1.00 −  1.2)</text>
<text x="651.3" y="664.2" font-size="7" text-anchor="end" font-style="italic" fill="#111" stroke="#111" stroke-width="0.1">p=0.03*</text>
<line x1="531.5" y1="665.6" x2="538.9" y2="665.6" stroke="#1a1a1a" stroke-width="0.6"/>
<line x1="531.5" y1="664.4" x2="531.5" y2="666.8" stroke="#1a1a1a" stroke-width="0.6"/>
<line x1="538.9" y1="664.4" x2="538.9" y2="666.8" stroke="#1a1a1a" stroke-width="0.6"/>
<rect x="533.6" y="664" width="3.2" height="3.2" fill="#000"/>
<text x="420.9" y="690.8" font-size="7.1" font-weight="bold" fill="#111" stroke="#111" stroke-width="0.1">HTN at biopsy</text>
<text x="420.9" y="700" font-size="6.8" font-style="italic" fill="#111" stroke="#111" stroke-width="0.1">(N=134)</text>
<text x="497.1" y="692.6" font-size="7" text-anchor="middle" fill="#111" stroke="#111" stroke-width="0.18">4.49</text>
<text x="495.9" y="701" font-size="7" text-anchor="middle" font-style="italic" fill="#111" stroke="#111" stroke-width="0.1" textLength="43.2" lengthAdjust="spacingAndGlyphs">(1.73 −  11.7)</text>
<text x="676.6" y="694.6" font-size="7" text-anchor="end" font-style="italic" fill="#111" stroke="#111" stroke-width="0.1">p=0.002*</text>
<line x1="556.1" y1="692.9" x2="643.6" y2="692.9" stroke="#1a1a1a" stroke-width="0.6"/>
<line x1="556.1" y1="691.7" x2="556.1" y2="694.1" stroke="#1a1a1a" stroke-width="0.6"/>
<line x1="643.6" y1="691.7" x2="643.6" y2="694.1" stroke="#1a1a1a" stroke-width="0.6"/>
<rect x="598.1" y="691.3" width="3.2" height="3.2" fill="#000"/>
<text x="440.2" y="713.5" font-size="7" text-anchor="middle" font-weight="bold" font-style="italic" fill="#111" stroke="#111" stroke-width="0.1">FOLR2</text>
<text x="439.5" y="721.4" font-size="6.9" text-anchor="middle" font-weight="bold" fill="#111" stroke="#111" stroke-width="0.1">Expression</text>
<text x="420.9" y="728.3" font-size="6.8" font-style="italic" fill="#111" stroke="#111" stroke-width="0.1">(N=134)</text>
<text x="496.3" y="718.5" font-size="7" text-anchor="middle" fill="#111" stroke="#111" stroke-width="0.18">1.53</text>
<text x="496.3" y="725.7" font-size="7" text-anchor="middle" font-style="italic" fill="#111" stroke="#111" stroke-width="0.1" textLength="35.7" lengthAdjust="spacingAndGlyphs">(1.05 −  2.2)</text>
<text x="653.7" y="721.6" font-size="7" text-anchor="end" font-style="italic" fill="#111" stroke="#111" stroke-width="0.1">p=0.03*</text>
<line x1="533.2" y1="720" x2="567.1" y2="720" stroke="#1a1a1a" stroke-width="0.6"/>
<line x1="533.2" y1="718.8" x2="533.2" y2="721.2" stroke="#1a1a1a" stroke-width="0.6"/>
<line x1="567.1" y1="718.8" x2="567.1" y2="721.2" stroke="#1a1a1a" stroke-width="0.6"/>
<rect x="548.8" y="718.4" width="3.2" height="3.2" fill="#000"/>
<text x="531" y="751.4" font-size="6.6" text-anchor="middle" fill="#333" stroke="#333" stroke-width="0.18">1</text>
<text x="562.4" y="751.4" font-size="6.6" text-anchor="middle" fill="#333" stroke="#333" stroke-width="0.18">2</text>
<text x="604.7" y="751.4" font-size="6.6" text-anchor="middle" fill="#333" stroke="#333" stroke-width="0.18">5</text>
<text x="636.4" y="751.4" font-size="6.6" text-anchor="middle" fill="#333" stroke="#333" stroke-width="0.18">10</text>
<text x="4" y="797.6" font-size="14" font-weight="bold" fill="#111" stroke="#111" stroke-width="0.1">j</text>
<text x="109.8" y="810.9" font-size="6.9" text-anchor="middle" fill="#222" stroke="#222" stroke-width="0.18">p = 0.0007</text>
<line x1="58.4" y1="811" x2="58.4" y2="922.7" stroke="#505050" stroke-width="0.8"/>
<line x1="58.4" y1="922.7" x2="169.3" y2="922.7" stroke="#505050" stroke-width="0.8"/>
<line x1="56.9" y1="813.46" x2="58.4" y2="813.46" stroke="#505050" stroke-width="0.5"/>
<text x="56" y="815.86" font-size="6.9" text-anchor="end" fill="#4d4d4d" stroke="#4d4d4d" stroke-width="0.18">8</text>
<line x1="56.9" y1="840.02" x2="58.4" y2="840.02" stroke="#505050" stroke-width="0.5"/>
<text x="56" y="842.42" font-size="6.9" text-anchor="end" fill="#4d4d4d" stroke="#4d4d4d" stroke-width="0.18">6</text>
<line x1="56.9" y1="866.58" x2="58.4" y2="866.58" stroke="#505050" stroke-width="0.5"/>
<text x="56" y="868.98" font-size="6.9" text-anchor="end" fill="#4d4d4d" stroke="#4d4d4d" stroke-width="0.18">4</text>
<line x1="56.9" y1="893.14" x2="58.4" y2="893.14" stroke="#505050" stroke-width="0.5"/>
<text x="56" y="895.54" font-size="6.9" text-anchor="end" fill="#4d4d4d" stroke="#4d4d4d" stroke-width="0.18">2</text>
<line x1="56.9" y1="919.7" x2="58.4" y2="919.7" stroke="#505050" stroke-width="0.5"/>
<text x="56" y="922.1" font-size="6.9" text-anchor="end" fill="#4d4d4d" stroke="#4d4d4d" stroke-width="0.18">0</text>
<line x1="89.7" y1="922.7" x2="89.7" y2="924.2" stroke="#505050" stroke-width="0.5"/>
<line x1="141" y1="922.7" x2="141" y2="924.2" stroke="#505050" stroke-width="0.5"/>
<text x="91.8" y="931.2" font-size="8.3" text-anchor="middle" fill="#222" stroke="#222" stroke-width="0.18">Slow</text>
<text x="91.9" y="940.3" font-size="8.3" text-anchor="middle" fill="#222" stroke="#222" stroke-width="0.18">Progressor</text>
<text x="141.5" y="931.2" font-size="8.3" text-anchor="middle" fill="#222" stroke="#222" stroke-width="0.18">Fast</text>
<text x="141.5" y="940.3" font-size="8.3" text-anchor="middle" fill="#222" stroke="#222" stroke-width="0.18">Progressor</text>
<text x="39" y="864.4" font-size="8.3" text-anchor="middle" fill="#111" stroke="#111" stroke-width="0.18" transform="rotate(-90 39 864.4)">FOLR2</text>
<text x="46.9" y="863.7" font-size="8.1" text-anchor="middle" fill="#111" stroke="#111" stroke-width="0.18" transform="rotate(-90 46.9 863.7)">expression score</text>
<line x1="89.7" y1="865.1" x2="89.7" y2="845" stroke="#f39a94" stroke-width="0.5"/>
<line x1="89.7" y1="884.2" x2="89.7" y2="898.6" stroke="#f39a94" stroke-width="0.5"/>
<rect x="70.7" y="865.1" width="38" height="19.1" fill="none" stroke="#f39a94" stroke-width="0.45"/>
<line x1="70.7" y1="875.6" x2="108.7" y2="875.6" stroke="#f39a94" stroke-width="0.7"/>
<line x1="141" y1="855.2" x2="141" y2="849" stroke="#4cc8cc" stroke-width="0.5"/>
<line x1="141" y1="871.3" x2="141" y2="888.7" stroke="#4cc8cc" stroke-width="0.5"/>
<rect x="121.2" y="855.2" width="39.6" height="16.1" fill="none" stroke="#4cc8cc" stroke-width="0.45"/>
<line x1="121.2" y1="865.6" x2="160.8" y2="865.6" stroke="#4cc8cc" stroke-width="0.7"/>
<g fill="#3d0e0e"><circle cx="89.5" cy="818.5" r="0.86"/><circle cx="89.5" cy="840.7" r="0.86"/><circle cx="89.5" cy="845" r="0.86"/><circle cx="87.25" cy="853.5" r="0.86"/><circle cx="88.75" cy="853.5" r="0.86"/><circle cx="90.25" cy="853.5" r="0.86"/><circle cx="91.75" cy="853.5" r="0.86"/><circle cx="86.5" cy="857" r="0.86"/><circle cx="88" cy="857" r="0.86"/><circle cx="89.5" cy="857" r="0.86"/><circle cx="91" cy="857" r="0.86"/><circle cx="92.5" cy="857" r="0.86"/><circle cx="85.75" cy="861.1" r="0.86"/><circle cx="87.25" cy="861.1" r="0.86"/><circle cx="88.75" cy="861.1" r="0.86"/><circle cx="90.25" cy="861.1" r="0.86"/><circle cx="91.75" cy="861.1" r="0.86"/><circle cx="93.25" cy="861.1" r="0.86"/><circle cx="82" cy="865.8" r="0.86"/><circle cx="83.5" cy="865.8" r="0.86"/><circle cx="85" cy="865.8" r="0.86"/><circle cx="86.5" cy="865.8" r="0.86"/><circle cx="88" cy="865.8" r="0.86"/><circle cx="89.5" cy="865.8" r="0.86"/><circle cx="91" cy="865.8" r="0.86"/><circle cx="92.5" cy="865.8" r="0.86"/><circle cx="94" cy="865.8" r="0.86"/><circle cx="95.5" cy="865.8" r="0.86"/><circle cx="97" cy="865.8" r="0.86"/><circle cx="82" cy="869.3" r="0.86"/><circle cx="83.5" cy="869.3" r="0.86"/><circle cx="85" cy="869.3" r="0.86"/><circle cx="86.5" cy="869.3" r="0.86"/><circle cx="88" cy="869.3" r="0.86"/><circle cx="89.5" cy="869.3" r="0.86"/><circle cx="91" cy="869.3" r="0.86"/><circle cx="92.5" cy="869.3" r="0.86"/><circle cx="94" cy="869.3" r="0.86"/><circle cx="95.5" cy="869.3" r="0.86"/><circle cx="97" cy="869.3" r="0.86"/><circle cx="84.25" cy="872.8" r="0.86"/><circle cx="85.75" cy="872.8" r="0.86"/><circle cx="87.25" cy="872.8" r="0.86"/><circle cx="88.75" cy="872.8" r="0.86"/><circle cx="90.25" cy="872.8" r="0.86"/><circle cx="91.75" cy="872.8" r="0.86"/><circle cx="93.25" cy="872.8" r="0.86"/><circle cx="94.75" cy="872.8" r="0.86"/><circle cx="85" cy="876.4" r="0.86"/><circle cx="86.5" cy="876.4" r="0.86"/><circle cx="88" cy="876.4" r="0.86"/><circle cx="89.5" cy="876.4" r="0.86"/><circle cx="91" cy="876.4" r="0.86"/><circle cx="92.5" cy="876.4" r="0.86"/><circle cx="94" cy="876.4" r="0.86"/><circle cx="78.25" cy="880.1" r="0.86"/><circle cx="79.75" cy="880.1" r="0.86"/><circle cx="81.25" cy="880.1" r="0.86"/><circle cx="82.75" cy="880.1" r="0.86"/><circle cx="84.25" cy="880.1" r="0.86"/><circle cx="85.75" cy="880.1" r="0.86"/><circle cx="87.25" cy="880.1" r="0.86"/><circle cx="88.75" cy="880.1" r="0.86"/><circle cx="90.25" cy="880.1" r="0.86"/><circle cx="91.75" cy="880.1" r="0.86"/><circle cx="93.25" cy="880.1" r="0.86"/><circle cx="94.75" cy="880.1" r="0.86"/><circle cx="96.25" cy="880.1" r="0.86"/><circle cx="97.75" cy="880.1" r="0.86"/><circle cx="99.25" cy="880.1" r="0.86"/><circle cx="100.75" cy="880.1" r="0.86"/><circle cx="82.75" cy="883.7" r="0.86"/><circle cx="84.25" cy="883.7" r="0.86"/><circle cx="85.75" cy="883.7" r="0.86"/><circle cx="87.25" cy="883.7" r="0.86"/><circle cx="88.75" cy="883.7" r="0.86"/><circle cx="90.25" cy="883.7" r="0.86"/><circle cx="91.75" cy="883.7" r="0.86"/><circle cx="93.25" cy="883.7" r="0.86"/><circle cx="94.75" cy="883.7" r="0.86"/><circle cx="96.25" cy="883.7" r="0.86"/><circle cx="81.25" cy="887.4" r="0.86"/><circle cx="82.75" cy="887.4" r="0.86"/><circle cx="84.25" cy="887.4" r="0.86"/><circle cx="85.75" cy="887.4" r="0.86"/><circle cx="87.25" cy="887.4" r="0.86"/><circle cx="88.75" cy="887.4" r="0.86"/><circle cx="90.25" cy="887.4" r="0.86"/><circle cx="91.75" cy="887.4" r="0.86"/><circle cx="93.25" cy="887.4" r="0.86"/><circle cx="94.75" cy="887.4" r="0.86"/><circle cx="96.25" cy="887.4" r="0.86"/><circle cx="97.75" cy="887.4" r="0.86"/><circle cx="85.75" cy="891.8" r="0.86"/><circle cx="87.25" cy="891.8" r="0.86"/><circle cx="88.75" cy="891.8" r="0.86"/><circle cx="90.25" cy="891.8" r="0.86"/><circle cx="91.75" cy="891.8" r="0.86"/><circle cx="93.25" cy="891.8" r="0.86"/><circle cx="87.25" cy="894.4" r="0.86"/><circle cx="88.75" cy="894.4" r="0.86"/><circle cx="90.25" cy="894.4" r="0.86"/><circle cx="91.75" cy="894.4" r="0.86"/><circle cx="87.25" cy="898.3" r="0.86"/><circle cx="88.75" cy="898.3" r="0.86"/><circle cx="90.25" cy="898.3" r="0.86"/><circle cx="91.75" cy="898.3" r="0.86"/><circle cx="89.5" cy="916.3" r="0.86"/></g>
<g fill="#084546"><circle cx="140.15" cy="848.7" r="0.86"/><circle cx="141.65" cy="848.7" r="0.86"/><circle cx="139.4" cy="851.6" r="0.86"/><circle cx="140.9" cy="851.6" r="0.86"/><circle cx="142.4" cy="851.6" r="0.86"/><circle cx="137.9" cy="856.4" r="0.86"/><circle cx="139.4" cy="856.4" r="0.86"/><circle cx="140.9" cy="856.4" r="0.86"/><circle cx="142.4" cy="856.4" r="0.86"/><circle cx="143.9" cy="856.4" r="0.86"/><circle cx="139.4" cy="862.3" r="0.86"/><circle cx="140.9" cy="862.3" r="0.86"/><circle cx="142.4" cy="862.3" r="0.86"/><circle cx="140.15" cy="865.5" r="0.86"/><circle cx="141.65" cy="865.5" r="0.86"/><circle cx="138.65" cy="869.1" r="0.86"/><circle cx="140.15" cy="869.1" r="0.86"/><circle cx="141.65" cy="869.1" r="0.86"/><circle cx="143.15" cy="869.1" r="0.86"/><circle cx="138.65" cy="872" r="0.86"/><circle cx="140.15" cy="872" r="0.86"/><circle cx="141.65" cy="872" r="0.86"/><circle cx="143.15" cy="872" r="0.86"/><circle cx="140.15" cy="875.7" r="0.86"/><circle cx="141.65" cy="875.7" r="0.86"/><circle cx="140.15" cy="883.7" r="0.86"/><circle cx="141.65" cy="883.7" r="0.86"/><circle cx="140.15" cy="888.8" r="0.86"/><circle cx="141.65" cy="888.8" r="0.86"/></g>
<text x="197.6" y="799.7" font-size="14" font-weight="bold" fill="#111" stroke="#111" stroke-width="0.1">k</text>
<text x="288.2" y="802" font-size="7" text-anchor="middle" fill="#222" stroke="#222" stroke-width="0.18">p = 0.003</text>
<line x1="232.9" y1="922.5" x2="336.6" y2="922.5" stroke="#e2e2e2" stroke-width="0.5"/>
<line x1="232.9" y1="904.85" x2="336.6" y2="904.85" stroke="#ebebeb" stroke-width="0.5"/>
<line x1="232.9" y1="887.2" x2="336.6" y2="887.2" stroke="#e2e2e2" stroke-width="0.5"/>
<line x1="232.9" y1="869.55" x2="336.6" y2="869.55" stroke="#ebebeb" stroke-width="0.5"/>
<line x1="232.9" y1="851.9" x2="336.6" y2="851.9" stroke="#e2e2e2" stroke-width="0.5"/>
<line x1="232.9" y1="834.25" x2="336.6" y2="834.25" stroke="#ebebeb" stroke-width="0.5"/>
<line x1="232.9" y1="816.6" x2="336.6" y2="816.6" stroke="#e2e2e2" stroke-width="0.5"/>
<line x1="261.4" y1="803.4" x2="261.4" y2="928.3" stroke="#e2e2e2" stroke-width="0.5"/>
<line x1="308.4" y1="803.4" x2="308.4" y2="928.3" stroke="#e2e2e2" stroke-width="0.5"/>
<rect x="240.2" y="809.54" width="42.4" height="12.36" fill="#e8323f"/>
<rect x="240.2" y="821.89" width="42.4" height="100.61" fill="#b2b4b5"/>
<rect x="287.2" y="809.54" width="42.4" height="38.83" fill="#e8323f"/>
<rect x="287.2" y="848.37" width="42.4" height="74.13" fill="#b2b4b5"/>
<rect x="232.9" y="803.4" width="103.7" height="124.9" fill="none" stroke="#c8c8c8" stroke-width="0.6"/>
<line x1="231.6" y1="922.5" x2="232.9" y2="922.5" stroke="#444" stroke-width="0.5"/>
<text x="229.8" y="924.9" font-size="6.9" text-anchor="end" fill="#4d4d4d" stroke="#4d4d4d" stroke-width="0.18">0</text>
<line x1="231.6" y1="887.2" x2="232.9" y2="887.2" stroke="#444" stroke-width="0.5"/>
<text x="229.8" y="889.6" font-size="6.9" text-anchor="end" fill="#4d4d4d" stroke="#4d4d4d" stroke-width="0.18">20</text>
<line x1="231.6" y1="851.9" x2="232.9" y2="851.9" stroke="#444" stroke-width="0.5"/>
<text x="229.8" y="854.3" font-size="6.9" text-anchor="end" fill="#4d4d4d" stroke="#4d4d4d" stroke-width="0.18">40</text>
<line x1="231.6" y1="816.6" x2="232.9" y2="816.6" stroke="#444" stroke-width="0.5"/>
<text x="229.8" y="819" font-size="6.9" text-anchor="end" fill="#4d4d4d" stroke="#4d4d4d" stroke-width="0.18">60</text>
<line x1="261.4" y1="928.3" x2="261.4" y2="929.6" stroke="#444" stroke-width="0.5"/>
<line x1="308.4" y1="928.3" x2="308.4" y2="929.6" stroke="#444" stroke-width="0.5"/>
<text x="257.2" y="937.2" font-size="8.25" text-anchor="middle" fill="#222" stroke="#222" stroke-width="0.18">Low FOLR2</text>
<text x="257.2" y="946.9" font-size="8.25" text-anchor="middle" fill="#222" stroke="#222" stroke-width="0.18">score</text>
<text x="307.5" y="937.2" font-size="8.25" text-anchor="middle" fill="#222" stroke="#222" stroke-width="0.18">High FOLR2</text>
<text x="309" y="946.9" font-size="8.25" text-anchor="middle" fill="#222" stroke="#222" stroke-width="0.18">score</text>
<text x="219.3" y="869" font-size="8.1" text-anchor="middle" fill="#111" stroke="#111" stroke-width="0.18" transform="rotate(-90 219.3 869)">Number of patients</text>
<rect x="341.4" y="820.95" width="4.5" height="4.5" fill="#e8323f"/>
<text x="348.2" y="825.6" font-size="7" fill="#222" stroke="#222" stroke-width="0.18">Fast progressor</text>
<rect x="341.4" y="855.15" width="4.5" height="4.5" fill="#b2b4b5"/>
<text x="348.2" y="859.8" font-size="7" fill="#222" stroke="#222" stroke-width="0.18">Slow progressor</text>
<text x="411.2" y="799.2" font-size="14" font-weight="bold" fill="#111" stroke="#111" stroke-width="0.1">l</text>
<path d="M500.5 890.65 L503.92 889.02 L507.35 887.39 L510.77 885.76 L514.19 884.12 L517.62 882.47 L521.04 880.82 L524.46 879.16 L527.88 877.48 L531.31 875.8 L534.73 874.09 L538.15 872.36 L541.58 870.6 L545 868.81 L548.42 866.97 L551.85 865.09 L555.27 863.16 L558.69 861.19 L562.12 859.18 L565.54 857.13 L568.96 855.06 L572.38 852.97 L575.81 850.86 L579.23 848.73 L582.65 846.6 L586.08 844.45 L589.5 842.3 L592.92 840.14 L596.35 837.98 L599.77 835.82 L603.19 833.65 L606.62 831.48 L610.04 829.3 L613.46 827.13 L616.88 824.95 L620.31 822.77 L623.73 820.59 L627.15 818.41 L630.58 816.23 L634 814.05 L634 828.75 L630.58 830.36 L627.15 831.98 L623.73 833.59 L620.31 835.21 L616.88 836.82 L613.46 838.44 L610.04 840.06 L606.62 841.68 L603.19 843.31 L599.77 844.93 L596.35 846.56 L592.92 848.2 L589.5 849.83 L586.08 851.48 L582.65 853.13 L579.23 854.79 L575.81 856.46 L572.38 858.14 L568.96 859.84 L565.54 861.56 L562.12 863.31 L558.69 865.1 L555.27 866.92 L551.85 868.79 L548.42 870.7 L545 872.66 L541.58 874.66 L538.15 876.7 L534.73 878.76 L531.31 880.85 L527.88 882.96 L524.46 885.08 L521.04 887.21 L517.62 889.35 L514.19 891.5 L510.77 893.66 L507.35 895.82 L503.92 897.98 L500.5 900.15 Z" fill="#bebebe" stroke="none" stroke-width="0.5" fill-opacity="0.75"/>
<line x1="500.5" y1="895.4" x2="634" y2="821.4" stroke="#3d6bd0" stroke-width="0.7"/>
<g fill="#111"><rect x="633.47" y="800.34" width="1.15" height="1.15"/><rect x="601.06" y="828.37" width="1.15" height="1.15"/><rect x="545.23" y="833.84" width="1.15" height="1.15"/><rect x="526.84" y="844.13" width="1.15" height="1.15"/><rect x="562.31" y="837.78" width="1.15" height="1.15"/><rect x="554.64" y="843.7" width="1.15" height="1.15"/><rect x="564.94" y="846.54" width="1.15" height="1.15"/><rect x="590.77" y="840.41" width="1.15" height="1.15"/><rect x="584.64" y="838.22" width="1.15" height="1.15"/><rect x="584.2" y="839.32" width="1.15" height="1.15"/><rect x="580.26" y="843.7" width="1.15" height="1.15"/><rect x="577.2" y="846.98" width="1.15" height="1.15"/><rect x="574.35" y="848.08" width="1.15" height="1.15"/><rect x="572.82" y="850.27" width="1.15" height="1.15"/><rect x="568.88" y="852.45" width="1.15" height="1.15"/><rect x="566.69" y="853.55" width="1.15" height="1.15"/><rect x="564.5" y="857.93" width="1.15" height="1.15"/><rect x="559.46" y="855.74" width="1.15" height="1.15"/><rect x="552.02" y="857.93" width="1.15" height="1.15"/><rect x="553.55" y="859.02" width="1.15" height="1.15"/><rect x="556.18" y="859.68" width="1.15" height="1.15"/><rect x="550.27" y="860.12" width="1.15" height="1.15"/><rect x="548.08" y="864.06" width="1.15" height="1.15"/><rect x="545.89" y="865.59" width="1.15" height="1.15"/><rect x="544.35" y="867.78" width="1.15" height="1.15"/><rect x="540.85" y="855.74" width="1.15" height="1.15"/><rect x="539.32" y="857.93" width="1.15" height="1.15"/><rect x="542.16" y="855.3" width="1.15" height="1.15"/><rect x="535.59" y="858.37" width="1.15" height="1.15"/><rect x="534.94" y="864.5" width="1.15" height="1.15"/><rect x="529.46" y="866.69" width="1.15" height="1.15"/><rect x="528.37" y="867.78" width="1.15" height="1.15"/><rect x="520.71" y="865.59" width="1.15" height="1.15"/><rect x="522.9" y="871.07" width="1.15" height="1.15"/><rect x="509.76" y="864.5" width="1.15" height="1.15"/><rect x="513.04" y="874.35" width="1.15" height="1.15"/><rect x="510.85" y="876.54" width="1.15" height="1.15"/><rect x="514.57" y="877.64" width="1.15" height="1.15"/><rect x="516.33" y="875.01" width="1.15" height="1.15"/><rect x="518.52" y="872.16" width="1.15" height="1.15"/><rect x="507.57" y="899.53" width="1.15" height="1.15"/><rect x="499.9" y="902.16" width="1.15" height="1.15"/><rect x="500.56" y="886.39" width="1.15" height="1.15"/><rect x="504.28" y="889.02" width="1.15" height="1.15"/><rect x="516.33" y="884.2" width="1.15" height="1.15"/><rect x="518.52" y="888.58" width="1.15" height="1.15"/><rect x="520.71" y="890.77" width="1.15" height="1.15"/><rect x="522.9" y="892.96" width="1.15" height="1.15"/><rect x="525.08" y="883.11" width="1.15" height="1.15"/><rect x="526.84" y="884.2" width="1.15" height="1.15"/><rect x="527.27" y="886.39" width="1.15" height="1.15"/><rect x="526.18" y="897.34" width="1.15" height="1.15"/><rect x="526.84" y="900.63" width="1.15" height="1.15"/><rect x="529.46" y="888.58" width="1.15" height="1.15"/><rect x="529.9" y="891.87" width="1.15" height="1.15"/><rect x="530.56" y="876.54" width="1.15" height="1.15"/><rect x="532.75" y="877.64" width="1.15" height="1.15"/><rect x="533.84" y="879.83" width="1.15" height="1.15"/><rect x="536.03" y="875.45" width="1.15" height="1.15"/><rect x="534.94" y="878.73" width="1.15" height="1.15"/><rect x="538.22" y="882.01" width="1.15" height="1.15"/><rect x="540.41" y="880.92" width="1.15" height="1.15"/><rect x="537.13" y="886.39" width="1.15" height="1.15"/><rect x="545.89" y="887.49" width="1.15" height="1.15"/><rect x="548.08" y="895.15" width="1.15" height="1.15"/><rect x="556.83" y="883.11" width="1.15" height="1.15"/><rect x="557.93" y="885.3" width="1.15" height="1.15"/><rect x="559.02" y="872.16" width="1.15" height="1.15"/><rect x="561.21" y="864.5" width="1.15" height="1.15"/><rect x="562.31" y="866.69" width="1.15" height="1.15"/><rect x="567.78" y="871.07" width="1.15" height="1.15"/><rect x="569.97" y="865.59" width="1.15" height="1.15"/><rect x="575.45" y="868.88" width="1.15" height="1.15"/><rect x="579.39" y="857.93" width="1.15" height="1.15"/><rect x="575.88" y="859.02" width="1.15" height="1.15"/><rect x="575.45" y="853.55" width="1.15" height="1.15"/><rect x="580.92" y="846.98" width="1.15" height="1.15"/><rect x="584.2" y="853.55" width="1.15" height="1.15"/><rect x="588.58" y="846.98" width="1.15" height="1.15"/><rect x="596.9" y="850.27" width="1.15" height="1.15"/><rect x="606.54" y="850.27" width="1.15" height="1.15"/><rect x="514.57" y="923.62" width="1.15" height="1.15"/><rect x="544.79" y="871.07" width="1.15" height="1.15"/><rect x="546.98" y="868.88" width="1.15" height="1.15"/><rect x="549.17" y="867.78" width="1.15" height="1.15"/><rect x="551.8" y="869.97" width="1.15" height="1.15"/><rect x="553.11" y="875.45" width="1.15" height="1.15"/><rect x="544.79" y="877.64" width="1.15" height="1.15"/><rect x="551.36" y="876.54" width="1.15" height="1.15"/><rect x="560.12" y="862.31" width="1.15" height="1.15"/><rect x="562.31" y="862.31" width="1.15" height="1.15"/><rect x="555.74" y="864.5" width="1.15" height="1.15"/><rect x="522.9" y="884.2" width="1.15" height="1.15"/><rect x="525.08" y="885.96" width="1.15" height="1.15"/><rect x="529.46" y="877.2" width="1.15" height="1.15"/><rect x="533.41" y="875.45" width="1.15" height="1.15"/><rect x="537.13" y="880.92" width="1.15" height="1.15"/><rect x="538.22" y="882.45" width="1.15" height="1.15"/><rect x="515.23" y="894.06" width="1.15" height="1.15"/><rect x="511.95" y="894.06" width="1.15" height="1.15"/><rect x="519.61" y="895.15" width="1.15" height="1.15"/><rect x="522.46" y="891.87" width="1.15" height="1.15"/><rect x="527.27" y="894.06" width="1.15" height="1.15"/><rect x="541.51" y="875.45" width="1.15" height="1.15"/><rect x="550.92" y="864.06" width="1.15" height="1.15"/><rect x="553.11" y="862.31" width="1.15" height="1.15"/><rect x="546.54" y="864.06" width="1.15" height="1.15"/><rect x="549.17" y="866.69" width="1.15" height="1.15"/><rect x="555.74" y="856.83" width="1.15" height="1.15"/><rect x="557.93" y="857.93" width="1.15" height="1.15"/><rect x="565.59" y="854.64" width="1.15" height="1.15"/><rect x="567.78" y="859.02" width="1.15" height="1.15"/><rect x="571.5" y="860.12" width="1.15" height="1.15"/><rect x="573.26" y="857.93" width="1.15" height="1.15"/><rect x="577.64" y="849.17" width="1.15" height="1.15"/><rect x="578.73" y="850.92" width="1.15" height="1.15"/><rect x="581.58" y="848.08" width="1.15" height="1.15"/><rect x="583.11" y="845.89" width="1.15" height="1.15"/><rect x="586.39" y="845.23" width="1.15" height="1.15"/><rect x="589.02" y="843.7" width="1.15" height="1.15"/><rect x="573.26" y="855.74" width="1.15" height="1.15"/><rect x="569.97" y="854.64" width="1.15" height="1.15"/><rect x="565.59" y="849.17" width="1.15" height="1.15"/></g>
<line x1="494.3" y1="794" x2="494.3" y2="930.7" stroke="#505050" stroke-width="0.8"/>
<line x1="494.3" y1="930.7" x2="639.8" y2="930.7" stroke="#505050" stroke-width="0.8"/>
<line x1="492.8" y1="795.7" x2="494.3" y2="795.7" stroke="#505050" stroke-width="0.5"/>
<text x="490.2" y="798.1" font-size="6.9" text-anchor="end" fill="#4d4d4d" stroke="#4d4d4d" stroke-width="0.18">8</text>
<line x1="492.8" y1="829" x2="494.3" y2="829" stroke="#505050" stroke-width="0.5"/>
<text x="490.2" y="831.4" font-size="6.9" text-anchor="end" fill="#4d4d4d" stroke="#4d4d4d" stroke-width="0.18">6</text>
<line x1="492.8" y1="862.3" x2="494.3" y2="862.3" stroke="#505050" stroke-width="0.5"/>
<text x="490.2" y="864.7" font-size="6.9" text-anchor="end" fill="#4d4d4d" stroke="#4d4d4d" stroke-width="0.18">4</text>
<line x1="492.8" y1="895.6" x2="494.3" y2="895.6" stroke="#505050" stroke-width="0.5"/>
<text x="490.2" y="898" font-size="6.9" text-anchor="end" fill="#4d4d4d" stroke="#4d4d4d" stroke-width="0.18">2</text>
<line x1="492.8" y1="928.9" x2="494.3" y2="928.9" stroke="#505050" stroke-width="0.5"/>
<text x="490.2" y="931.3" font-size="6.9" text-anchor="end" fill="#4d4d4d" stroke="#4d4d4d" stroke-width="0.18">0</text>
<line x1="503.8" y1="930.7" x2="503.8" y2="932.2" stroke="#505050" stroke-width="0.5"/>
<text x="503.8" y="936.7" font-size="6.9" text-anchor="middle" fill="#4d4d4d" stroke="#4d4d4d" stroke-width="0.18">4.0</text>
<line x1="534.45" y1="930.7" x2="534.45" y2="932.2" stroke="#505050" stroke-width="0.5"/>
<text x="534.45" y="936.7" font-size="6.9" text-anchor="middle" fill="#4d4d4d" stroke="#4d4d4d" stroke-width="0.18">4.5</text>
<line x1="565.1" y1="930.7" x2="565.1" y2="932.2" stroke="#505050" stroke-width="0.5"/>
<text x="565.1" y="936.7" font-size="6.9" text-anchor="middle" fill="#4d4d4d" stroke="#4d4d4d" stroke-width="0.18">5.0</text>
<line x1="595.75" y1="930.7" x2="595.75" y2="932.2" stroke="#505050" stroke-width="0.5"/>
<text x="595.75" y="936.7" font-size="6.9" text-anchor="middle" fill="#4d4d4d" stroke="#4d4d4d" stroke-width="0.18">5.5</text>
<line x1="626.4" y1="930.7" x2="626.4" y2="932.2" stroke="#505050" stroke-width="0.5"/>
<text x="626.4" y="936.7" font-size="6.9" text-anchor="middle" fill="#4d4d4d" stroke="#4d4d4d" stroke-width="0.18">6.0</text>
<text x="568" y="947.6" font-size="8.3" text-anchor="middle" fill="#111" stroke="#111" stroke-width="0.18">CXCL-iFibro expression score</text>
<text x="476.9" y="867.9" font-size="8.25" text-anchor="middle" fill="#111" stroke="#111" stroke-width="0.18" transform="rotate(-90 476.9 867.9)">FOLR2 expression score</text>
<text x="507.8" y="807.6" font-size="7.1" fill="#222" stroke="#222" stroke-width="0.18">R = 0.75 , p &lt; 2.2e−16</text>
</svg>
</body></html>
